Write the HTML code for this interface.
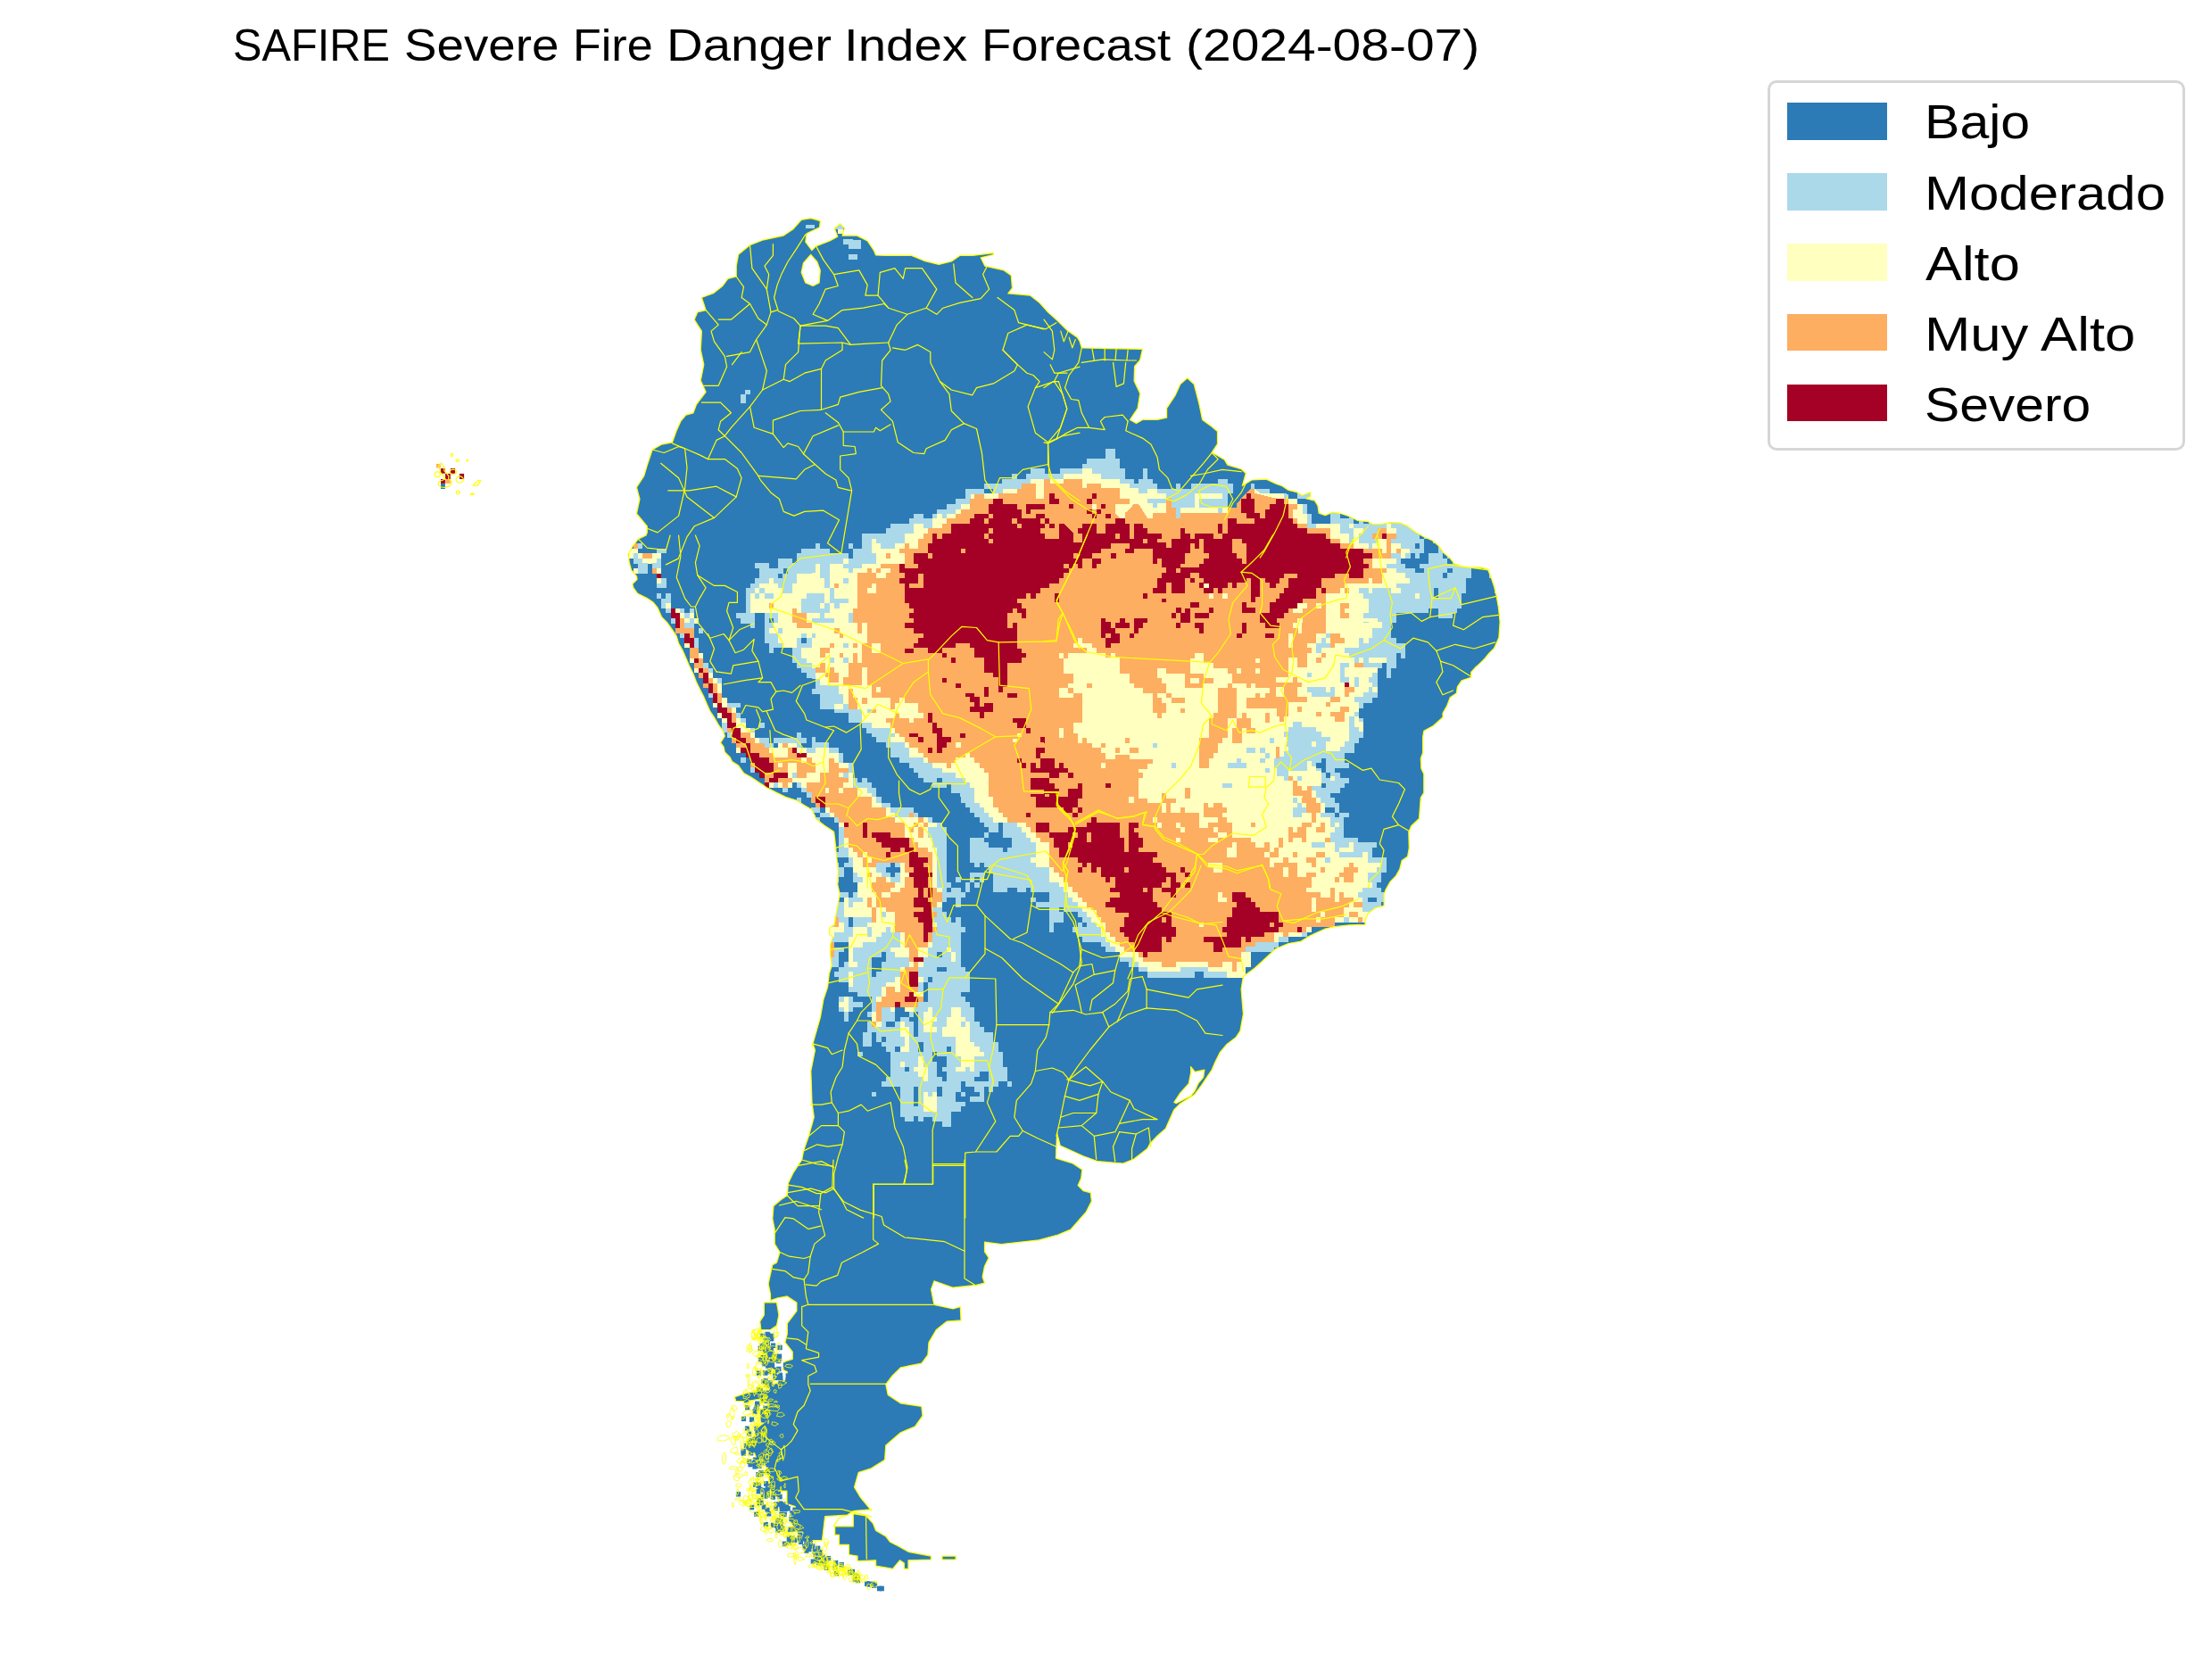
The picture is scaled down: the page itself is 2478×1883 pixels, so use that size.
<!DOCTYPE html>
<html><head><meta charset="utf-8"><title>SAFIRE Severe Fire Danger Index Forecast</title>
<style>
html,body{margin:0;padding:0;background:#fff;}
body{width:2478px;height:1883px;position:relative;overflow:hidden;font-family:"Liberation Sans",sans-serif;color:#000;}
.w{position:absolute;white-space:nowrap;transform-origin:0 0;}
#legend{position:absolute;left:1981.4px;top:89.7px;width:468.1px;height:415.6px;box-sizing:border-box;border:3.3px solid #d6d6d6;border-radius:10px;background:#fff;}
.sw{position:absolute;left:2003px;width:112px;height:41.6px;}
</style></head><body>
<svg width="2478" height="1883" viewBox="0 0 2478 1883" style="position:absolute;left:0;top:0">
<defs><clipPath id="land"><path clip-rule="evenodd" d="M908.7 244.6 L919.3 247.6 L918.6 254.7 L904 261.8 L902.8 271.2 L909.9 280.6 L914.6 275.9 L929.9 270 L938.8 265.3 L935.3 255.9 L941.7 250.7 L946.4 255.9 L944 264.1 L960.5 264.1 L972.2 270 L979.3 280.6 L981.6 286 L993.4 286.4 L1021.6 286.4 L1035.7 292.3 L1052.2 296.3 L1066.3 293 L1075.7 286.4 L1089.8 286.4 L1113.3 283.6 L1113.3 285.5 L1099.2 288.8 L1103.9 298.2 L1125.1 302.9 L1133.3 308.8 L1134.5 322.9 L1129.8 328.8 L1154.5 331.1 L1165.1 339.4 L1174.5 349.9 L1185.1 359.4 L1195.7 369.9 L1207.4 378.2 L1210 382.4 L1212.3 389.9 L1240.6 390.6 L1280.5 391.3 L1277.7 403.5 L1271.6 410.6 L1271.1 427 L1277.7 441.1 L1275.1 457.6 L1266.4 470.5 L1273.5 474.5 L1280.5 470.5 L1297 470.5 L1307.6 468.2 L1307.6 457.6 L1317 443.5 L1322.9 430.6 L1330.6 423.7 L1338.2 430.6 L1344 452.9 L1347.6 470.5 L1355.8 476.4 L1364.5 483.5 L1364.5 497.6 L1358.2 507 L1372.3 515.2 L1375.8 521.1 L1391.1 525.8 L1396.3 530.5 L1392.3 544.6 L1402.8 538 L1419.3 537.1 L1430 542.3 L1437.1 544.7 L1444.1 549.4 L1453.5 551.7 L1459.4 555.3 L1468.8 551.7 L1468.8 556.4 L1464.1 558.8 L1473.5 561.1 L1477 567 L1478.2 575.3 L1485.3 577.6 L1493.5 574.1 L1501.7 575.3 L1512.3 578.8 L1521.7 583.5 L1533.5 584.7 L1538.2 587.6 L1547.6 587.6 L1559.4 585.6 L1568.8 586.1 L1577 589.4 L1586.4 596.4 L1595.8 601.7 L1605.2 605.8 L1612.3 611.7 L1618.2 619.9 L1625.2 625.8 L1629.9 631.7 L1639.3 635.2 L1647.5 636.4 L1659.3 635.8 L1667.5 638.2 L1671.1 647 L1674.6 657.6 L1676.9 667 L1679.3 679.9 L1681.1 697 L1679.9 714.6 L1674.6 726.4 L1668.7 732.3 L1664 738.2 L1659.3 742.9 L1654 747.6 L1648.7 753.4 L1648.7 759.3 L1638.1 762.9 L1633.4 769.9 L1632.3 777 L1625.2 781.7 L1621.7 791.1 L1617 799.3 L1617 804 L1611.7 808.7 L1606.4 813.4 L1595.8 819.3 L1594.6 826.4 L1594.6 844 L1592.3 849.9 L1592.9 861.6 L1595.8 867.5 L1595.8 888.7 L1592.3 894 L1590.5 917.5 L1581.7 925.8 L1578.8 932.8 L1579.3 950.4 L1577.6 959.9 L1571.1 964.6 L1568.8 974 L1564.1 982.2 L1558.2 988.1 L1553.5 996.3 L1551.1 1002.2 L1551.1 1015.1 L1541.7 1017.5 L1533.5 1023.4 L1530 1031.6 L1530 1036.3 L1512.3 1036.9 L1495.9 1038.6 L1485.3 1041 L1474.7 1045.7 L1465.3 1050.4 L1458.2 1055.1 L1444.1 1057.5 L1430 1063.3 L1406.4 1085 L1393.4 1094.4 L1391.1 1108.5 L1392.3 1123.8 L1393.4 1136.7 L1389.9 1155.6 L1385.2 1162.6 L1374.6 1170.8 L1367.6 1179.1 L1361.7 1190.8 L1358.2 1199.1 L1351.1 1209.6 L1346.4 1216.7 L1338.2 1227.3 L1322.9 1236.7 L1315.8 1243.8 L1311.1 1254.3 L1306.4 1264.9 L1297 1273.2 L1288.8 1282 L1285.8 1287.5 L1270.5 1299.3 L1258.7 1304 L1230.5 1301.7 L1214 1295.8 L1188.2 1284 L1184.6 1269.9 L1183.4 1298.1 L1202.3 1304 L1212.8 1311.1 L1211.7 1320.5 L1208.1 1328.7 L1214 1334.6 L1222.3 1336.9 L1223.4 1346.3 L1217.5 1358.1 L1209.3 1367.5 L1199.9 1378.1 L1185.8 1384 L1164.6 1389.8 L1122.3 1394.5 L1103.5 1392.2 L1103.5 1402.8 L1108.2 1409.8 L1103.5 1419.2 L1101.1 1431 L1103.5 1438.1 L1094.1 1440.4 L1068.2 1443.2 L1047 1435.7 L1043.5 1445.1 L1046.9 1462.3 L1068.1 1467 L1076.3 1464.6 L1077 1479.9 L1061 1481.1 L1049.3 1490.5 L1041 1504.6 L1039.9 1518.7 L1032.8 1528.1 L1009.3 1532.8 L999.9 1542.2 L992.8 1551.7 L995.2 1563.4 L1009.3 1572.8 L1032.8 1576.3 L1034 1586.9 L1025.7 1598.7 L1009.3 1605.7 L992.8 1619.9 L991.6 1636.3 L976.4 1645.7 L962.2 1650.4 L957.5 1666.9 L964.6 1678.7 L976.4 1692.8 L976.9 1691.8 L957.9 1693.4 L950 1698.1 L924.6 1699.7 L921.5 1726.6 L905.6 1726.6 L899.3 1717.1 L893 1717.1 L885.1 1704.5 L891.4 1695 L891.4 1688.6 L881.9 1685.5 L881.9 1671.2 L872.4 1671.2 L872.4 1677.6 L864.5 1676 L862.9 1663.3 L861.3 1653.8 L855 1650.7 L861.3 1644.3 L861.3 1638 L848.6 1636.4 L845.5 1628.5 L836 1625.3 L836 1615.8 L845.5 1609.5 L848.6 1600 L861.1 1591.6 L851.7 1589.3 L851.7 1579.9 L861.1 1577.5 L861.1 1570.5 L851.7 1568.1 L837.6 1570.5 L824.7 1570.5 L823.5 1565.8 L837.6 1561.1 L851.7 1558.7 L865.8 1563.4 L865.8 1551.7 L882.3 1546.9 L882.3 1537.5 L877.6 1535.2 L879.9 1525.8 L888.2 1523.4 L888.2 1515.2 L879.9 1504.6 L882.3 1495.2 L882.3 1483.4 L892.9 1469.3 L892.9 1459.9 L882.3 1452.9 L870.5 1455.2 L863.5 1457.6 L863.5 1450.5 L861.1 1438.8 L865.8 1417.6 L870.5 1415.2 L874 1403.5 L868.2 1394.1 L868.2 1377.6 L865.8 1365.9 L867 1351.7 L875.2 1344.7 L882.3 1340 L883.5 1325.9 L889.3 1314.1 L898.7 1300 L900.6 1289.9 L906.4 1273.4 L912.3 1252.2 L910 1235.8 L908.8 1200.5 L913.5 1177 L911.1 1169.9 L910 1173.3 L914.7 1156.9 L919.4 1140.4 L922.9 1120.4 L927.6 1106.3 L929.4 1091 L932.3 1082.2 L930.6 1070.4 L930.6 1058.6 L933.5 1050.4 L929.4 1046.9 L930 1039.8 L935.3 1036.3 L936.5 1026.9 L939.4 1012.8 L941.2 1002.2 L938.8 991.6 L939.4 976.3 L937.6 959.9 L935.8 941.6 L934.6 932.2 L924 925.2 L914.6 918.1 L913.4 914.6 L909.9 907.5 L901.7 902.8 L892.3 897 L880.5 893.4 L868.7 887.5 L859.3 882.8 L852.3 878.1 L841.7 871.1 L833.5 866.4 L827.6 858.1 L820.5 853.4 L818.2 848.7 L812.3 842.9 L811.1 837 L807.6 832.3 L812.3 825.2 L811.1 820.5 L805.2 812.3 L800.5 804.1 L795.8 797 L792.3 789.3 L788.8 781.1 L784.1 771.7 L780.5 764.6 L777 755.2 L772.3 745.8 L768.8 737.6 L765.3 729.4 L760.6 721.1 L758.2 712.9 L753.5 705.8 L747.6 697.6 L741.7 691.7 L737 681.1 L732.3 675.3 L725.3 670.6 L714.7 665.3 L710 658.8 L708.8 654.7 L714.1 649.4 L713.5 645.9 L707.6 638.8 L705.3 630.6 L704.1 621.2 L709.4 611.8 L715.3 604.1 L724.1 600 L725.3 596.9 L725.3 589.8 L713.5 575.7 L717 559.3 L713.5 546.3 L721.8 533.4 L725.3 521.6 L731.2 504 L741.7 498.1 L753.5 495.8 L758.2 482.8 L762.9 472.2 L768.8 465.2 L777 462.8 L780.5 453.4 L791.1 439.3 L785.3 426.4 L788.8 408.7 L785.3 392.3 L786.4 371.1 L778.2 358.2 L781.7 349.9 L791.1 347.6 L786.4 333.5 L799.4 328.8 L809.9 320.5 L815.8 312.3 L825.2 310 L825.2 298.2 L827.6 285.3 L840.5 274.7 L855.8 268.8 L878.2 264.1 L888.7 257 L898.1 246.5 Z M908.7 285.3 L915.8 293.5 L919.3 302.9 L918.1 317 L911.1 320.5 L902.8 317 L898.1 305.3 L900.5 294.7 Z M1334.6 1195.5 L1339.3 1201.4 L1349.9 1199.1 L1348.7 1207.3 L1342.9 1214.4 L1339.3 1222.6 L1334.6 1228.5 L1322.9 1234.3 L1318.2 1236.7 L1315.8 1235.5 L1322.9 1224.9 L1332.3 1214.4 L1334.6 1202.6 Z"/></clipPath></defs>
<g clip-path="url(#land)" shape-rendering="crispEdges">
<polygon fill="#2c7bb6" points="908.7,244.6 919.3,247.6 918.6,254.7 904,261.8 902.8,271.2 909.9,280.6 914.6,275.9 929.9,270 938.8,265.3 935.3,255.9 941.7,250.7 946.4,255.9 944,264.1 960.5,264.1 972.2,270 979.3,280.6 981.6,286 993.4,286.4 1021.6,286.4 1035.7,292.3 1052.2,296.3 1066.3,293 1075.7,286.4 1089.8,286.4 1113.3,283.6 1113.3,285.5 1099.2,288.8 1103.9,298.2 1125.1,302.9 1133.3,308.8 1134.5,322.9 1129.8,328.8 1154.5,331.1 1165.1,339.4 1174.5,349.9 1185.1,359.4 1195.7,369.9 1207.4,378.2 1210,382.4 1212.3,389.9 1240.6,390.6 1280.5,391.3 1277.7,403.5 1271.6,410.6 1271.1,427 1277.7,441.1 1275.1,457.6 1266.4,470.5 1273.5,474.5 1280.5,470.5 1297,470.5 1307.6,468.2 1307.6,457.6 1317,443.5 1322.9,430.6 1330.6,423.7 1338.2,430.6 1344,452.9 1347.6,470.5 1355.8,476.4 1364.5,483.5 1364.5,497.6 1358.2,507 1372.3,515.2 1375.8,521.1 1391.1,525.8 1396.3,530.5 1392.3,544.6 1402.8,538 1419.3,537.1 1430,542.3 1437.1,544.7 1444.1,549.4 1453.5,551.7 1459.4,555.3 1468.8,551.7 1468.8,556.4 1464.1,558.8 1473.5,561.1 1477,567 1478.2,575.3 1485.3,577.6 1493.5,574.1 1501.7,575.3 1512.3,578.8 1521.7,583.5 1533.5,584.7 1538.2,587.6 1547.6,587.6 1559.4,585.6 1568.8,586.1 1577,589.4 1586.4,596.4 1595.8,601.7 1605.2,605.8 1612.3,611.7 1618.2,619.9 1625.2,625.8 1629.9,631.7 1639.3,635.2 1647.5,636.4 1659.3,635.8 1667.5,638.2 1671.1,647 1674.6,657.6 1676.9,667 1679.3,679.9 1681.1,697 1679.9,714.6 1674.6,726.4 1668.7,732.3 1664,738.2 1659.3,742.9 1654,747.6 1648.7,753.4 1648.7,759.3 1638.1,762.9 1633.4,769.9 1632.3,777 1625.2,781.7 1621.7,791.1 1617,799.3 1617,804 1611.7,808.7 1606.4,813.4 1595.8,819.3 1594.6,826.4 1594.6,844 1592.3,849.9 1592.9,861.6 1595.8,867.5 1595.8,888.7 1592.3,894 1590.5,917.5 1581.7,925.8 1578.8,932.8 1579.3,950.4 1577.6,959.9 1571.1,964.6 1568.8,974 1564.1,982.2 1558.2,988.1 1553.5,996.3 1551.1,1002.2 1551.1,1015.1 1541.7,1017.5 1533.5,1023.4 1530,1031.6 1530,1036.3 1512.3,1036.9 1495.9,1038.6 1485.3,1041 1474.7,1045.7 1465.3,1050.4 1458.2,1055.1 1444.1,1057.5 1430,1063.3 1406.4,1085 1393.4,1094.4 1391.1,1108.5 1392.3,1123.8 1393.4,1136.7 1389.9,1155.6 1385.2,1162.6 1374.6,1170.8 1367.6,1179.1 1361.7,1190.8 1358.2,1199.1 1351.1,1209.6 1346.4,1216.7 1338.2,1227.3 1322.9,1236.7 1315.8,1243.8 1311.1,1254.3 1306.4,1264.9 1297,1273.2 1288.8,1282 1285.8,1287.5 1270.5,1299.3 1258.7,1304 1230.5,1301.7 1214,1295.8 1188.2,1284 1184.6,1269.9 1183.4,1298.1 1202.3,1304 1212.8,1311.1 1211.7,1320.5 1208.1,1328.7 1214,1334.6 1222.3,1336.9 1223.4,1346.3 1217.5,1358.1 1209.3,1367.5 1199.9,1378.1 1185.8,1384 1164.6,1389.8 1122.3,1394.5 1103.5,1392.2 1103.5,1402.8 1108.2,1409.8 1103.5,1419.2 1101.1,1431 1103.5,1438.1 1094.1,1440.4 1068.2,1443.2 1047,1435.7 1043.5,1445.1 1046.9,1462.3 1068.1,1467 1076.3,1464.6 1077,1479.9 1061,1481.1 1049.3,1490.5 1041,1504.6 1039.9,1518.7 1032.8,1528.1 1009.3,1532.8 999.9,1542.2 992.8,1551.7 995.2,1563.4 1009.3,1572.8 1032.8,1576.3 1034,1586.9 1025.7,1598.7 1009.3,1605.7 992.8,1619.9 991.6,1636.3 976.4,1645.7 962.2,1650.4 957.5,1666.9 964.6,1678.7 976.4,1692.8 976.9,1691.8 957.9,1693.4 950,1698.1 924.6,1699.7 921.5,1726.6 905.6,1726.6 899.3,1717.1 893,1717.1 885.1,1704.5 891.4,1695 891.4,1688.6 881.9,1685.5 881.9,1671.2 872.4,1671.2 872.4,1677.6 864.5,1676 862.9,1663.3 861.3,1653.8 855,1650.7 861.3,1644.3 861.3,1638 848.6,1636.4 845.5,1628.5 836,1625.3 836,1615.8 845.5,1609.5 848.6,1600 861.1,1591.6 851.7,1589.3 851.7,1579.9 861.1,1577.5 861.1,1570.5 851.7,1568.1 837.6,1570.5 824.7,1570.5 823.5,1565.8 837.6,1561.1 851.7,1558.7 865.8,1563.4 865.8,1551.7 882.3,1546.9 882.3,1537.5 877.6,1535.2 879.9,1525.8 888.2,1523.4 888.2,1515.2 879.9,1504.6 882.3,1495.2 882.3,1483.4 892.9,1469.3 892.9,1459.9 882.3,1452.9 870.5,1455.2 863.5,1457.6 863.5,1450.5 861.1,1438.8 865.8,1417.6 870.5,1415.2 874,1403.5 868.2,1394.1 868.2,1377.6 865.8,1365.9 867,1351.7 875.2,1344.7 882.3,1340 883.5,1325.9 889.3,1314.1 898.7,1300 900.6,1289.9 906.4,1273.4 912.3,1252.2 910,1235.8 908.8,1200.5 913.5,1177 911.1,1169.9 910,1173.3 914.7,1156.9 919.4,1140.4 922.9,1120.4 927.6,1106.3 929.4,1091 932.3,1082.2 930.6,1070.4 930.6,1058.6 933.5,1050.4 929.4,1046.9 930,1039.8 935.3,1036.3 936.5,1026.9 939.4,1012.8 941.2,1002.2 938.8,991.6 939.4,976.3 937.6,959.9 935.8,941.6 934.6,932.2 924,925.2 914.6,918.1 913.4,914.6 909.9,907.5 901.7,902.8 892.3,897 880.5,893.4 868.7,887.5 859.3,882.8 852.3,878.1 841.7,871.1 833.5,866.4 827.6,858.1 820.5,853.4 818.2,848.7 812.3,842.9 811.1,837 807.6,832.3 812.3,825.2 811.1,820.5 805.2,812.3 800.5,804.1 795.8,797 792.3,789.3 788.8,781.1 784.1,771.7 780.5,764.6 777,755.2 772.3,745.8 768.8,737.6 765.3,729.4 760.6,721.1 758.2,712.9 753.5,705.8 747.6,697.6 741.7,691.7 737,681.1 732.3,675.3 725.3,670.6 714.7,665.3 710,658.8 708.8,654.7 714.1,649.4 713.5,645.9 707.6,638.8 705.3,630.6 704.1,621.2 709.4,611.8 715.3,604.1 724.1,600 725.3,596.9 725.3,589.8 713.5,575.7 717,559.3 713.5,546.3 721.8,533.4 725.3,521.6 731.2,504 741.7,498.1 753.5,495.8 758.2,482.8 762.9,472.2 768.8,465.2 777,462.8 780.5,453.4 791.1,439.3 785.3,426.4 788.8,408.7 785.3,392.3 786.4,371.1 778.2,358.2 781.7,349.9 791.1,347.6 786.4,333.5 799.4,328.8 809.9,320.5 815.8,312.3 825.2,310 825.2,298.2 827.6,285.3 840.5,274.7 855.8,268.8 878.2,264.1 888.7,257 898.1,246.5"/>
<polygon fill="#abd9e9" points="1170,531.2 1187.6,531.2 1187.6,525.3 1212.9,525.3 1212.9,520 1218.2,520 1218.2,514.1 1239.4,514.1 1239.4,502.9 1250,502.9 1250,514.1 1255.3,514.1 1255.3,524.7 1260.5,524.7 1260.5,536.5 1271.1,536.5 1271.1,541.7 1275.8,541.7 1275.8,536.5 1281.1,536.5 1281.1,525.3 1286.4,525.3 1286.4,536.5 1291.7,536.5 1291.7,541.7 1297,541.7 1297,547.6 1317.6,547.6 1317.6,542.3 1322.9,542.3 1322.9,547.6 1334.6,547.6 1334.6,541.7 1365.2,541.7 1365.2,536.5 1375.8,536.5 1375.8,541.7 1381.7,541.7 1381.7,552.9 1375.8,552.9 1375.8,569.4 1386.4,569.4 1386.4,564.1 1391.1,558.8 1401.7,547.6 1401.7,541.7 1406.4,541.7 1406.4,547.6 1422.8,547.6 1422.8,552.9 1430.9,552.9 1430.9,697.9 1170,697.9"/>
<polygon fill="#abd9e9" points="910,614.7 914.1,614.7 914.1,609.4 918.8,609.4 918.8,614.7 930,614.7 930,619.9 951.2,619.9 951.2,625.8 955.9,625.8 955.9,614.7 965.9,614.7 965.9,598.2 992.9,598.2 992.9,592.3 998.2,592.3 998.2,587 1018.8,587 1018.8,581.1 1024.1,581.1 1024.1,575.8 1034.6,575.8 1034.6,581.1 1045.2,581.1 1045.2,575.8 1049.9,575.8 1049.9,570.6 1061.1,570.6 1061.1,564.7 1071.1,564.7 1071.1,558.8 1082.3,558.8 1082.3,548.2 1102.9,548.2 1102.9,541.7 1123.4,541.7 1123.4,536.5 1134,536.5 1134,531.2 1139.9,531.2 1139.9,536.5 1149.9,536.5 1149.9,531.2 1155.2,531.2 1155.2,525.3 1170.9,525.3 1170.9,697.9 910,697.9"/>
<polygon fill="#abd9e9" points="951.2,609.4 955.9,609.4 955.9,614.7 951.2,614.7"/>
<polygon fill="#abd9e9" points="1430,500 1690.9,500 1690.9,697.9 1430,697.9"/>
<polygon fill="#abd9e9" points="910,697 1170.9,697 1170.9,894.9 910,894.9"/>
<polygon fill="#abd9e9" points="1170,697 1430.9,697 1430.9,894.9 1170,894.9"/>
<polygon fill="#abd9e9" points="1430,697 1559.4,697 1559.4,714.6 1565.2,714.6 1565.2,720.5 1574.6,720.5 1574.6,737.6 1569.9,737.6 1569.9,731.7 1565.2,731.7 1565.2,748.7 1559.4,748.7 1559.4,759.9 1554.1,759.9 1554.1,742.9 1548.8,742.9 1548.8,748.7 1544.1,748.7 1544.1,781.7 1538.2,781.7 1538.2,788.1 1528.2,788.1 1528.2,794 1522.9,794 1522.9,804.6 1528.2,804.6 1528.2,826.9 1522.9,826.9 1522.9,832.8 1517.6,832.8 1517.6,844 1507,844 1507,855.2 1512.3,855.2 1512.3,861 1496.4,861 1496.4,866.3 1501.7,866.3 1501.7,872.2 1512.3,872.2 1512.3,877.5 1507,877.5 1507,883.4 1501.7,883.4 1501.7,888.7 1491.1,888.7 1491.1,894.9 1430,894.9"/>
<polygon fill="#abd9e9" points="1170,893.1 1427.5,893.1 1427.5,1067 1401.5,1067 1401.5,1083.7 1396.3,1083.7 1396.3,1089.3 1385.8,1089.3 1385.8,1095.9 1349.1,1095.9 1349.1,1089.3 1338.7,1089.3 1338.7,1095.9 1286.3,1095.9 1286.3,1089.3 1275.7,1089.3 1275.7,1083.7 1265.2,1083.7 1265.2,1078.2 1254.8,1078.2 1254.8,1067 1239.1,1067 1239.1,1061.4 1233.8,1061.4 1233.8,1055.8 1212.9,1055.8 1212.9,1050.3 1207.6,1050.3 1207.6,1044.7 1202.4,1044.7 1202.4,1039.1 1207.6,1039.1 1207.6,1033.5 1212.9,1033.5 1212.9,1027.9 1207.6,1027.9 1207.6,1022.3 1191.9,1022.3 1191.9,1033.5 1181.4,1033.5 1181.4,1044.7 1170,1044.7"/>
<polygon fill="#ffffbf" points="1170,536.5 1192.3,536.5 1192.3,531.2 1212.9,531.2 1212.9,525.3 1223.5,525.3 1223.5,531.2 1234.1,531.2 1234.1,536.5 1255.3,536.5 1255.3,541.7 1265.8,541.7 1265.8,547 1275.8,547 1275.8,552.9 1286.4,552.9 1286.4,547.6 1297,547.6 1297,552.9 1307,552.9 1307,558.8 1286.4,558.8 1286.4,564.1 1291.7,564.1 1291.7,569.4 1297,569.4 1297,564.1 1312.3,564.1 1312.3,569.4 1317.6,569.4 1317.6,581.1 1322.9,581.1 1322.9,569.4 1339.3,569.4 1339.3,552.9 1369.9,552.9 1369.9,558.8 1344,558.8 1344,569.4 1365.2,569.4 1365.2,575.3 1369.9,575.3 1369.9,569.4 1386.4,569.4 1386.4,564.1 1391.1,558.8 1401.7,547.6 1406.4,547.6 1412.2,552.9 1430.9,552.9 1430.9,697.9 1170,697.9"/>
<polygon fill="#ffffbf" points="1170.9,536.5 1155.2,536.5 1155.2,542.3 1145.2,542.3 1145.2,548.2 1124,548.2 1124,552.9 1102.9,552.9 1102.9,553.5 1087.6,553.5 1087.6,564.7 1077,564.7 1077,570.6 1071.1,570.6 1071.1,575.8 1061.1,575.8 1061.1,581.1 1055.8,581.1 1055.8,575.8 1049.9,575.8 1049.9,581.1 1045.2,581.1 1045.2,592.3 1034.6,592.3 1034.6,587 1024.1,587 1024.1,598.2 1014.1,598.2 1014.1,609.4 1002.9,609.4 1002.9,614.7 987,614.7 987,609.4 981.7,609.4 981.7,604.1 977,604.1 977,619.9 981.7,619.9 981.7,631.7 965.9,631.7 965.9,637 955.9,637 955.9,642.3 951.2,642.3 951.2,637 945.3,637 945.3,631.7 951.2,631.7 951.2,625.8 945.3,625.8 945.3,631.7 930,631.7 930,652.9 924.1,652.9 924.1,648.2 918.8,648.2 918.8,631.7 914.1,631.7 914.1,642.3 910,642.3 910,697.9 1170.9,697.9"/>
<polygon fill="#ffffbf" points="1430,552.9 1438.8,552.9 1438.8,558.8 1454.1,558.8 1454.1,564.7 1460,564.7 1460,575.8 1465.3,575.8 1465.3,591.7 1474.7,591.7 1474.7,587 1501.7,587 1501.7,598.2 1512.3,598.2 1512.3,609.4 1517,609.4 1517,592.3 1528.2,592.3 1528.2,598.2 1522.9,598.2 1522.9,609.4 1533.5,609.4 1533.5,614.7 1538.2,614.7 1538.2,609.4 1543.5,609.4 1543.5,603.5 1538.2,603.5 1538.2,598.2 1543.5,598.2 1543.5,592.3 1554.1,592.3 1554.1,587 1559.4,587 1559.4,592.3 1564.6,592.3 1564.6,603.5 1559.4,603.5 1559.4,609.4 1569.9,609.4 1569.9,614.7 1579.9,614.7 1579.9,619.9 1575.2,619.9 1575.2,625.8 1569.9,625.8 1569.9,619.9 1559.4,619.9 1559.4,625.8 1564.6,625.8 1564.6,631.7 1554.1,631.7 1554.1,637 1564.6,637 1564.6,642.3 1575.2,642.3 1575.2,648.2 1579.9,648.2 1579.9,653.5 1564.6,653.5 1564.6,659.3 1569.9,659.3 1569.9,664.6 1559.4,664.6 1559.4,659.3 1538.2,659.3 1538.2,664.6 1533.5,664.6 1533.5,659.3 1522.9,659.3 1522.9,664.6 1528.2,664.6 1528.2,670.5 1533.5,670.5 1533.5,687 1528.2,687 1528.2,692.9 1544.1,692.9 1544.1,697.9 1430,697.9"/>
<polygon fill="#ffffbf" points="1512.3,587 1517,587 1517,592.3 1512.3,592.3"/>
<polygon fill="#ffffbf" points="1585.8,664.6 1591.1,664.6 1591.1,670.5 1585.8,670.5"/>
<polygon fill="#ffffbf" points="910,697 910,748.7 914.1,748.7 914.1,761.1 918.8,761.1 918.8,767.6 940,767.6 940,778.1 945.3,778.1 945.3,788.7 934.7,788.7 934.7,794.6 965.9,794.6 965.9,809.9 977,809.9 977,815.8 997.6,815.8 997.6,821.6 1002.9,821.6 1002.9,826.4 997.6,826.4 997.6,832.2 1013.5,832.2 1013.5,838.1 1018.8,838.1 1018.8,848.7 1034.6,848.7 1034.6,854.6 1044.6,854.6 1044.6,860.5 1055.8,860.5 1055.8,865.7 1071.1,865.7 1071.1,871.6 1081.7,871.6 1081.7,876.9 1087,876.9 1087,882.8 1092.3,882.8 1092.3,894.9 1170.9,894.9 1170.9,697"/>
<polygon fill="#ffffbf" points="910,844 914.1,844 914.1,838.1 929.4,838.1 929.4,844 940,844 940,854.6 951.2,854.6 951.2,866.3 955.9,866.3 955.9,882.8 971.7,882.8 971.7,888.7 977,888.7 977,894.9 910,894.9"/>
<polygon fill="#ffffbf" points="1170,697 1430.9,697 1430.9,894.9 1170,894.9"/>
<polygon fill="#ffffbf" points="1430,697 1548.8,697 1548.8,703.9 1538.2,703.9 1538.2,715 1533.5,715 1533.5,720.5 1528.2,720.5 1528.2,715 1522.9,715 1522.9,726 1507,726 1507,731.6 1512.3,731.6 1512.3,737.1 1517.6,737.1 1517.6,742.6 1522.9,742.6 1522.9,737.1 1528.2,737.1 1528.2,742.6 1533.5,742.6 1533.5,737.1 1554.1,737.1 1554.1,742.6 1544.1,742.6 1544.1,775.8 1538.2,775.8 1538.2,770.3 1533.5,770.3 1533.5,775.8 1528.2,775.8 1528.2,781.3 1517.6,781.3 1517.6,786.8 1522.9,786.8 1522.9,797.9 1517.6,797.9 1517.6,803.4 1512.3,803.4 1512.3,831.1 1507,831.1 1507,836.6 1501.7,836.6 1501.7,842.1 1439.4,842.1 1439.4,847.6 1430,847.6"/>
<polygon fill="#ffffbf" points="1517.6,803.4 1522.9,803.4 1522.9,814.5 1517.6,814.5"/>
<polygon fill="#ffffbf" points="1522.9,808.9 1528.2,808.9 1528.2,820 1522.9,820"/>
<polygon fill="#ffffbf" points="1491.1,869.7 1496.4,869.7 1496.4,875.3 1491.1,875.3"/>
<polygon fill="#ffffbf" points="1430,869.7 1444.1,869.7 1444.1,864.2 1465.3,864.2 1465.3,853.2 1470,853.2 1470,858.7 1475.3,858.7 1475.3,864.2 1481.2,864.2 1481.2,880.8 1470,880.8 1470,886.3 1475.3,886.3 1475.3,894.9 1430,894.9"/>
<polygon fill="#ffffbf" points="1170,893.1 1427.5,893.1 1427.5,1055.8 1406.8,1055.8 1406.8,1061.4 1396.3,1061.4 1396.3,1067 1401.5,1067 1401.5,1083.7 1396.3,1083.7 1396.3,1095.9 1375.4,1095.9 1375.4,1089.3 1354.4,1089.3 1354.4,1083.7 1322.9,1083.7 1322.9,1089.3 1286.3,1089.3 1286.3,1083.7 1275.7,1083.7 1275.7,1078.2 1270.5,1078.2 1270.5,1072.6 1254.8,1072.6 1254.8,1067 1249.6,1067 1249.6,1061.4 1244.3,1061.4 1244.3,1055.8 1239.1,1055.8 1239.1,1050.3 1233.8,1050.3 1233.8,1039.1 1228.6,1039.1 1228.6,1033.5 1223.3,1033.5 1223.3,1027.9 1218.2,1027.9 1218.2,1022.3 1212.9,1022.3 1212.9,1016.8 1207.6,1016.8 1207.6,1011.2 1202.4,1011.2 1202.4,1005.6 1197.1,1005.6 1197.1,1000 1191.9,1000 1191.9,994.4 1186.6,994.4 1186.6,988.9 1176.2,988.9 1176.2,983.3 1170,983.3"/>
<polygon fill="#ffffbf" points="1170,994.4 1173.5,994.4 1173.5,1005.6 1170,1005.6"/>
<polygon fill="#fdae61" points="1170,536.5 1176.5,536.5 1176.5,541.7 1192.3,541.7 1192.3,536.5 1212.9,536.5 1212.9,547 1218.2,547 1218.2,541.7 1234.1,541.7 1234.1,547 1244.7,547 1255.3,547 1255.3,558.8 1265.8,558.8 1265.8,564.7 1250,564.7 1250,575.3 1255.3,581.1 1260.5,581.1 1260.5,575.3 1265.8,570.6 1271.1,564.7 1275.8,564.7 1281.1,572.9 1286.4,581.1 1291.7,581.1 1291.7,575.3 1307,575.3 1307,558.8 1312.9,558.8 1312.9,569.4 1317.6,569.4 1317.6,581.1 1322.9,581.1 1322.9,575.3 1375.8,575.3 1375.8,569.4 1386.4,569.4 1386.4,564.1 1391.1,558.8 1401.7,547.6 1406.4,547.6 1406.4,552.9 1430.9,558.8 1430.9,697.9 1170,697.9"/>
<polygon fill="#fdae61" points="1170.9,558.8 1160.5,558.8 1160.5,542.3 1145.2,542.3 1145.2,548.2 1139.9,548.2 1139.9,552.9 1119.3,552.9 1119.3,558.8 1102.9,558.8 1102.9,553.5 1092.3,553.5 1092.3,558.8 1087,558.8 1087,570.6 1077,570.6 1077,575.8 1071.1,575.8 1071.1,581.1 1061.1,581.1 1061.1,587 1055.8,587 1055.8,592.3 1039.9,592.3 1039.9,598.2 1034.6,598.2 1034.6,603.5 1029.4,603.5 1029.4,614.7 1019.4,614.7 1019.4,609.4 1014.1,609.4 1014.1,614.7 1008.2,614.7 1008.2,619.9 1014.1,619.9 1014.1,631.7 987,631.7 987,637 998.2,637 998.2,642.3 992.9,642.3 992.9,647.6 981.7,647.6 981.7,642.3 977,642.3 977,637 971.7,637 971.7,642.3 961.2,642.3 961.2,681.7 955.9,681.7 955.9,697.9 1170.9,697.9"/>
<polygon fill="#fdae61" points="992.9,619.9 998.2,619.9 998.2,625.8 992.9,625.8"/>
<polygon fill="#fdae61" points="981.7,637 987,637 987,642.3 981.7,642.3"/>
<polygon fill="#fdae61" points="935.3,654 940,654 940,659.3 935.3,659.3"/>
<polygon fill="#fdae61" points="1430,558.8 1444.1,558.8 1444.1,564.7 1454.1,564.7 1454.1,570.6 1448.8,570.6 1448.8,581.1 1454.1,581.1 1454.1,587 1465.3,587 1465.3,592.3 1491.1,592.3 1491.1,603.5 1501.7,603.5 1501.7,609.4 1517,609.4 1517,614.7 1548.8,614.7 1548.8,619.9 1554.1,619.9 1554.1,603.5 1559.4,603.5 1559.4,625.8 1538.2,625.8 1538.2,637 1554.1,637 1554.1,642.3 1548.8,642.3 1548.8,653.5 1538.2,653.5 1538.2,648.2 1533.5,648.2 1533.5,653.5 1507,653.5 1507,659.3 1512.3,659.3 1512.3,664.6 1507,664.6 1507,659.3 1501.7,659.3 1501.7,664.6 1485.9,664.6 1485.9,697.9 1430,697.9"/>
<polygon fill="#fdae61" points="1543.5,592.3 1554.1,592.3 1554.1,598.2 1564.6,598.2 1564.6,603.5 1538.2,603.5 1538.2,598.2 1543.5,598.2"/>
<polygon fill="#fdae61" points="1564.6,614.7 1569.9,614.7 1569.9,619.9 1564.6,619.9"/>
<polygon fill="#fdae61" points="1501.7,676.4 1512.3,676.4 1512.3,681.7 1507,681.7 1507,687 1512.3,687 1512.3,692.9 1501.7,692.9"/>
<polygon fill="#fdae61" points="971.7,697 1170.9,697 1170.9,894.9 1108.1,894.9 1108.1,866.3 1102.9,866.3 1102.9,860.5 1097.6,860.5 1097.6,854.6 1092.3,854.6 1092.3,848.7 1087,848.7 1087,844 1081.7,844 1081.7,848.7 1071.1,848.7 1071.1,854.6 1065.8,854.6 1065.8,860.5 1060.5,860.5 1060.5,854.6 1039.9,854.6 1039.9,848.7 1034.6,848.7 1034.6,844 1029.4,844 1029.4,838.1 1018.8,838.1 1018.8,832.2 1013.5,832.2 1013.5,826.4 1008.2,826.4 1008.2,821.6 1002.9,821.6 1002.9,815.8 997.6,815.8 997.6,809.9 992.9,809.9 992.9,805.2 1002.9,805.2 1002.9,794.6 998.2,794.6 998.2,781.7 971.7,781.7 971.7,788.7 966.4,788.7 966.4,781.7 961.2,781.7 961.2,794.6 950.6,794.6 950.6,772.3 955.9,772.3 955.9,767.6 945.3,767.6 945.3,759.2 951.2,759.2 951.2,742.6 966.4,742.6 966.4,720.5 971.7,720.5"/>
<polygon fill="#fdae61" points="977,794.6 981.7,794.6 981.7,799.3 977,799.3"/>
<polygon fill="#fdae61" points="961.2,698.4 966.4,698.4 966.4,709.5 961.2,709.5"/>
<polygon fill="#fdae61" points="935.3,703.9 940.6,703.9 940.6,709.5 935.3,709.5"/>
<polygon fill="#fdae61" points="940.6,709.5 945.3,709.5 945.3,715 940.6,715"/>
<polygon fill="#fdae61" points="930,720.5 935.3,720.5 935.3,726 930,726"/>
<polygon fill="#fdae61" points="955.9,720.5 961.2,720.5 961.2,726 955.9,726"/>
<polygon fill="#fdae61" points="919.4,726 930,726 930,731.6 919.4,731.6"/>
<polygon fill="#fdae61" points="919.4,731.6 924.7,731.6 924.7,737.1 919.4,737.1"/>
<polygon fill="#fdae61" points="940.6,731.6 945.3,731.6 945.3,737.1 940.6,737.1"/>
<polygon fill="#fdae61" points="955.9,731.6 961.2,731.6 961.2,742.6 955.9,742.6"/>
<polygon fill="#fdae61" points="919.4,742.6 924.7,742.6 924.7,748.2 919.4,748.2"/>
<polygon fill="#fdae61" points="914.1,748.2 924.7,748.2 924.7,753.7 914.1,753.7"/>
<polygon fill="#fdae61" points="930,748.2 935.3,748.2 935.3,753.7 930,753.7"/>
<polygon fill="#fdae61" points="924.7,753.7 940,753.7 940,759.2 924.7,759.2"/>
<polygon fill="#fdae61" points="929.4,759.2 940,759.2 940,764.7 929.4,764.7"/>
<polygon fill="#fdae61" points="929.4,849.9 934.7,849.9 934.7,854.6 940,854.6 940,860.5 950.6,860.5 950.6,866.3 945.3,866.3 945.3,871 950.6,871 950.6,876.9 945.3,876.9 945.3,882.8 961.2,882.8 961.2,894.9 910,894.9 910,876.9 919.4,876.9 919.4,866.3 929.4,866.3"/>
<polygon fill="#fdae61" points="910,854.6 914.1,854.6 914.1,866.3 910,866.3"/>
<polygon fill="#fdae61" points="1170,697 1430.9,697 1430.9,894.9 1170,894.9"/>
<polygon fill="#fdae61" points="1430,697 1448.8,697 1448.8,703.9 1454.7,703.9 1454.7,709.5 1444.1,709.5 1444.1,726 1470,726 1470,731.6 1465.3,731.6 1465.3,737.1 1444.1,737.1 1444.1,759.2 1439.4,759.2 1439.4,764.7 1459.4,764.7 1459.4,770.3 1454.1,770.3 1454.1,781.3 1465.3,781.3 1465.3,786.8 1444.1,786.8 1444.1,803.4 1439.4,803.4 1439.4,808.9 1433.5,808.9 1433.5,803.4 1430,803.4"/>
<polygon fill="#fdae61" points="1459.4,697 1485.9,697 1485.9,709.5 1475.3,709.5 1475.3,720.5 1465.3,720.5 1465.3,726 1448.8,726 1448.8,709.5 1459.4,709.5"/>
<polygon fill="#fdae61" points="1170,893.1 1427.5,893.1 1427.5,1055.8 1406.8,1055.8 1406.8,1061.4 1396.3,1061.4 1396.3,1067 1391,1067 1391,1078.2 1385.8,1078.2 1385.8,1089.3 1380.6,1089.3 1380.6,1078.2 1370.1,1078.2 1370.1,1083.7 1354.4,1083.7 1354.4,1078.2 1317.7,1078.2 1317.7,1083.7 1301.9,1083.7 1301.9,1078.2 1281,1078.2 1281,1072.6 1275.7,1072.6 1275.7,1067 1260.1,1067 1260.1,1061.4 1254.8,1061.4 1254.8,1055.8 1249.6,1055.8 1249.6,1050.3 1244.3,1050.3 1244.3,1044.7 1239.1,1044.7 1239.1,1033.5 1233.8,1033.5 1233.8,1027.9 1228.6,1027.9 1228.6,1019.5 1223.3,1019.5 1223.3,1016.8 1218.2,1016.8 1218.2,1011.2 1212.9,1011.2 1212.9,1005.6 1207.6,1005.6 1207.6,1000 1202.4,1000 1202.4,994.4 1197.1,994.4 1197.1,988.9 1191.9,988.9 1191.9,983.3 1186.6,983.3 1186.6,977.7 1181.4,977.7 1181.4,972.1 1170,972.1"/>
<polygon fill="#ffffbf" points="977,654 981.7,654 981.7,664.6 971.7,664.6 971.7,659.3 977,659.3"/>
<polygon fill="#ffffbf" points="1454.1,676.4 1465.3,676.4 1465.3,681.7 1460,681.7 1460,687 1448.8,687 1448.8,681.7 1454.1,681.7"/>
<polygon fill="#ffffbf" points="1474.7,676.4 1481.2,676.4 1481.2,681.7 1474.7,681.7"/>
<polygon fill="#ffffbf" points="1454.1,692.9 1460,692.9 1460,697.9 1454.1,697.9"/>
<polygon fill="#ffffbf" points="1008.2,781.7 1013.5,781.7 1013.5,788.1 1029.4,788.1 1029.4,799.3 1034.6,799.3 1034.6,805.2 1024.1,805.2 1024.1,809.9 1018.8,809.9 1018.8,805.2 1008.2,805.2 1008.2,799.3 1002.9,799.3 1002.9,788.1 1008.2,788.1"/>
<polygon fill="#ffffbf" points="955.9,767.6 977,767.6 977,781.7 955.9,781.7"/>
<polygon fill="#ffffbf" points="987,781.7 998.2,781.7 998.2,788.1 987,788.1"/>
<polygon fill="#ffffbf" points="981.7,770.3 987,770.3 987,775.8 981.7,775.8"/>
<polygon fill="#ffffbf" points="977,720.5 987,720.5 987,731.6 977,731.6"/>
<polygon fill="#ffffbf" points="966.4,748.2 971.7,748.2 971.7,767.6 966.4,767.6"/>
<polygon fill="#ffffbf" points="1071.1,832.2 1077,832.2 1077,838.1 1071.1,838.1"/>
<polygon fill="#ffffbf" points="1139.9,821.6 1145.2,821.6 1145.2,826.4 1139.9,826.4"/>
<polygon fill="#ffffbf" points="1134.6,827.5 1139.9,827.5 1139.9,832.2 1134.6,832.2"/>
<polygon fill="#ffffbf" points="940,866.3 945.3,866.3 945.3,871 940,871"/>
<polygon fill="#ffffbf" points="940,882.8 945.3,882.8 945.3,888.7 940,888.7"/>
<polygon fill="#ffffbf" points="924.7,882.8 929.4,882.8 929.4,888.7 924.7,888.7"/>
<polygon fill="#ffffbf" points="1197,731.7 1218.2,731.7 1218.2,726.4 1202.9,726.4 1202.9,720.5 1208.2,720.5 1208.2,715 1212.9,715 1212.9,720.5 1224.1,720.5 1224.1,726.4 1229.4,726.4 1229.4,731.7 1239.4,731.7 1239.4,737.1 1244.7,737.1 1244.7,731.7 1250,731.7 1250,737.1 1255.3,737.1 1255.3,754.6 1265.8,754.6 1265.8,765.8 1271.1,765.8 1271.1,771.1 1281.1,771.1 1281.1,777 1292.3,777 1292.3,798.7 1297,798.7 1297,804.6 1302.3,804.6 1302.3,798.7 1307,798.7 1307,788.1 1302.3,788.1 1302.3,782.3 1297,782.3 1297,777 1307,777 1307,766.4 1302.3,766.4 1302.3,759.9 1297,759.9 1297,748.7 1307,748.7 1307,754.6 1328.2,754.6 1328.2,770.5 1349.3,770.5 1349.3,754.6 1334,754.6 1334,738.2 1339.3,738.2 1339.3,731.7 1349.3,731.7 1349.3,742.9 1359.9,742.9 1359.9,748.7 1375.8,748.7 1375.8,754.6 1381.1,754.6 1381.1,765.8 1397,765.8 1397,771.1 1402.2,771.1 1402.2,765.8 1407,765.8 1407,771.1 1422.8,771.1 1422.8,777 1417.5,777 1417.5,782.3 1412.2,782.3 1412.2,777 1407,777 1407,782.3 1397,782.3 1397,794 1430.9,794 1430.9,894.9 1275.8,894.9 1275.8,872.2 1281.1,872.2 1281.1,866.3 1275.8,866.3 1275.8,861.6 1285.8,861.6 1285.8,856.3 1291.7,856.3 1291.7,851 1265.8,851 1265.8,845.8 1250,845.8 1250,851 1239.4,851 1239.4,844 1234.1,844 1234.1,838.1 1224.1,838.1 1224.1,832.8 1218.2,832.8 1218.2,826.9 1212.9,826.9 1212.9,832.8 1208.2,832.8 1208.2,821.6 1202.9,821.6 1202.9,809.9 1212.9,809.9 1212.9,777 1202.9,777 1202.9,782.3 1187.1,782.3 1187.1,771.1 1197,771.1 1197,765.8 1202.9,765.8 1202.9,754.6 1192.3,754.6 1192.3,737.6 1197,737.6"/>
<polygon fill="#ffffbf" points="1187.1,731.7 1192.3,731.7 1192.3,737.6 1187.1,737.6"/>
<polygon fill="#ffffbf" points="1234.1,855.2 1239.4,855.2 1239.4,861 1234.1,861"/>
<polygon fill="#ffffbf" points="1187.1,815.8 1192.3,815.8 1192.3,826.9 1187.1,826.9"/>
<polygon fill="#ffffbf" points="1386.4,748.7 1391.1,748.7 1391.1,754.6 1386.4,754.6"/>
<polygon fill="#ffffbf" points="1407,737.6 1412.2,737.6 1412.2,742.9 1407,742.9"/>
<polygon fill="#ffffbf" points="1407,748.7 1412.2,748.7 1412.2,754.6 1407,754.6"/>
<polygon fill="#ffffbf" points="1334,759.9 1344,759.9 1344,765.8 1334,765.8"/>
<polygon fill="#ffffbf" points="1430,770.3 1439.4,770.3 1439.4,781.3 1430,781.3"/>
<polygon fill="#ffffbf" points="1430,759.2 1439.4,759.2 1439.4,764.7 1430,764.7"/>
<polygon fill="#ffffbf" points="1265.3,893.1 1270.6,893.1 1270.6,899.6 1265.3,899.6"/>
<polygon fill="#ffffbf" points="1286.2,893.1 1302,893.1 1302,899.6 1286.2,899.6"/>
<polygon fill="#ffffbf" points="1317.7,893.1 1433,893.1 1433,899.6 1317.7,899.6"/>
<polygon fill="#ffffbf" points="1302,899.5 1307.3,899.5 1307.3,905.2 1302,905.2"/>
<polygon fill="#ffffbf" points="1312.4,899.5 1349.2,899.5 1349.2,905.2 1312.4,905.2"/>
<polygon fill="#ffffbf" points="1354.4,899.5 1359.7,899.5 1359.7,905.2 1354.4,905.2"/>
<polygon fill="#ffffbf" points="1370.1,899.5 1433,899.5 1433,905.2 1370.1,905.2"/>
<polygon fill="#ffffbf" points="1302,905.1 1307.3,905.1 1307.3,910.7 1302,910.7"/>
<polygon fill="#ffffbf" points="1312.4,905.1 1323,905.1 1323,910.7 1312.4,910.7"/>
<polygon fill="#ffffbf" points="1328.2,905.1 1349.2,905.1 1349.2,910.7 1328.2,910.7"/>
<polygon fill="#ffffbf" points="1375.3,905.1 1433,905.1 1433,910.7 1375.3,910.7"/>
<polygon fill="#ffffbf" points="1343.9,910.7 1349.2,910.7 1349.2,916.3 1343.9,916.3"/>
<polygon fill="#ffffbf" points="1370.1,910.7 1433,910.7 1433,916.3 1370.1,916.3"/>
<polygon fill="#ffffbf" points="1291.5,916.3 1296.8,916.3 1296.8,921.9 1291.5,921.9"/>
<polygon fill="#ffffbf" points="1343.9,916.3 1364.9,916.3 1364.9,921.9 1343.9,921.9"/>
<polygon fill="#ffffbf" points="1375.3,916.3 1433,916.3 1433,921.9 1375.3,921.9"/>
<polygon fill="#ffffbf" points="1296.7,921.9 1302,921.9 1302,927.5 1296.7,927.5"/>
<polygon fill="#ffffbf" points="1317.7,921.9 1323,921.9 1323,927.5 1317.7,927.5"/>
<polygon fill="#ffffbf" points="1343.9,921.9 1354.4,921.9 1354.4,927.5 1343.9,927.5"/>
<polygon fill="#ffffbf" points="1380.6,921.9 1401.6,921.9 1401.6,927.5 1380.6,927.5"/>
<polygon fill="#ffffbf" points="1406.8,921.9 1433,921.9 1433,927.5 1406.8,927.5"/>
<polygon fill="#ffffbf" points="1322.9,927.4 1328.2,927.4 1328.2,933.1 1322.9,933.1"/>
<polygon fill="#ffffbf" points="1359.6,927.4 1364.9,927.4 1364.9,933.1 1359.6,933.1"/>
<polygon fill="#ffffbf" points="1380.6,927.4 1433,927.4 1433,933.1 1380.6,933.1"/>
<polygon fill="#ffffbf" points="1364.9,933 1375.4,933 1375.4,938.7 1364.9,938.7"/>
<polygon fill="#ffffbf" points="1380.6,933 1433,933 1433,938.7 1380.6,938.7"/>
<polygon fill="#ffffbf" points="1317.7,938.6 1323,938.6 1323,944.3 1317.7,944.3"/>
<polygon fill="#ffffbf" points="1354.4,938.6 1364.9,938.6 1364.9,944.3 1354.4,944.3"/>
<polygon fill="#ffffbf" points="1401.5,938.6 1433,938.6 1433,944.3 1401.5,944.3"/>
<polygon fill="#ffffbf" points="1380.6,944.2 1385.9,944.2 1385.9,949.8 1380.6,949.8"/>
<polygon fill="#ffffbf" points="1406.8,944.2 1417.3,944.2 1417.3,949.8 1406.8,949.8"/>
<polygon fill="#ffffbf" points="1422.5,944.2 1433,944.2 1433,949.8 1422.5,949.8"/>
<polygon fill="#ffffbf" points="1375.3,949.8 1385.9,949.8 1385.9,955.4 1375.3,955.4"/>
<polygon fill="#ffffbf" points="1422.5,949.8 1433,949.8 1433,955.4 1422.5,955.4"/>
<polygon fill="#ffffbf" points="1375.3,955.4 1385.9,955.4 1385.9,961 1375.3,961"/>
<polygon fill="#ffffbf" points="1417.3,955.4 1422.6,955.4 1422.6,961 1417.3,961"/>
<polygon fill="#ffffbf" points="1422.5,961 1433,961 1433,966.6 1422.5,966.6"/>
<polygon fill="#ffffbf" points="1354.4,966.5 1370.2,966.5 1370.2,972.2 1354.4,972.2"/>
<polygon fill="#ffffbf" points="1422.5,966.5 1433,966.5 1433,972.2 1422.5,972.2"/>
<polygon fill="#ffffbf" points="1359.6,972.1 1370.2,972.1 1370.2,977.8 1359.6,977.8"/>
<polygon fill="#ffffbf" points="1364.9,1000.1 1370.2,1000.1 1370.2,1005.7 1364.9,1005.7"/>
<polygon fill="#ffffbf" points="1364.9,1005.6 1375.4,1005.6 1375.4,1011.3 1364.9,1011.3"/>
<polygon fill="#ffffbf" points="1343.9,1033.6 1349.2,1033.6 1349.2,1039.2 1343.9,1039.2"/>
<polygon fill="#abd9e9" points="910,664.6 924.1,664.6 924.1,670.5 930,670.5 930,664.6 934.7,664.6 934.7,670.5 951.2,670.5 951.2,676.4 940.6,676.4 940.6,681.7 934.7,681.7 934.7,676.4 930,676.4 930,687 924.1,687 924.1,692.9 934.7,692.9 934.7,697.9 910,697.9"/>
<polygon fill="#abd9e9" points="945.3,648.2 951.2,648.2 951.2,653.5 945.3,653.5"/>
<polygon fill="#abd9e9" points="930,659.3 934.7,659.3 934.7,664.6 930,664.6"/>
<polygon fill="#abd9e9" points="951.2,687 955.9,687 955.9,697.9 951.2,697.9"/>
<polygon fill="#abd9e9" points="924.1,652.9 930,652.9 930,658.8 924.1,658.8"/>
<polygon fill="#abd9e9" points="945.3,788.7 950.6,788.7 950.6,794.6 945.3,794.6"/>
<polygon fill="#abd9e9" points="971.7,794.6 977,794.6 977,799.3 971.7,799.3"/>
<polygon fill="#abd9e9" points="910,709.5 914.1,709.5 914.1,715 910,715"/>
<polygon fill="#abd9e9" points="945.3,720.5 950.6,720.5 950.6,726 945.3,726"/>
<polygon fill="#abd9e9" points="930,737.1 935.3,737.1 935.3,742.6 930,742.6"/>
<polygon fill="#abd9e9" points="945.3,737.1 950.6,737.1 950.6,742.6 945.3,742.6"/>
<polygon fill="#abd9e9" points="918.8,697 924.1,697 924.1,698.4 918.8,698.4"/>
<polygon fill="#abd9e9" points="945.3,866.3 951.2,866.3 951.2,871.6 945.3,871.6"/>
<polygon fill="#abd9e9" points="1291.7,832.8 1297,832.8 1297,838.1 1291.7,838.1"/>
<polygon fill="#abd9e9" points="1312.9,855.2 1318.2,855.2 1318.2,861 1312.9,861"/>
<polygon fill="#abd9e9" points="1422.8,826.9 1428.1,826.9 1428.1,832.8 1422.8,832.8"/>
<polygon fill="#abd9e9" points="1397,838.1 1407,838.1 1407,844 1397,844"/>
<polygon fill="#abd9e9" points="1412.2,838.1 1417.5,838.1 1417.5,844 1412.2,844"/>
<polygon fill="#abd9e9" points="1417.5,844 1422.8,844 1422.8,849.9 1417.5,849.9"/>
<polygon fill="#abd9e9" points="1412.2,849.9 1417.5,849.9 1417.5,855.2 1412.2,855.2"/>
<polygon fill="#abd9e9" points="1386.4,849.9 1391.1,849.9 1391.1,855.2 1386.4,855.2"/>
<polygon fill="#abd9e9" points="1375.8,855.2 1397,855.2 1397,860.5 1375.8,860.5"/>
<polygon fill="#abd9e9" points="1417.5,861 1422.8,861 1422.8,865.7 1417.5,865.7"/>
<polygon fill="#abd9e9" points="1369.9,877.5 1381.1,877.5 1381.1,882.8 1369.9,882.8"/>
<polygon fill="#abd9e9" points="1428.1,849.9 1430.9,849.9 1430.9,861 1428.1,861"/>
<polygon fill="#abd9e9" points="1528.2,742.6 1544.1,742.6 1544.1,748.2 1528.2,748.2"/>
<polygon fill="#abd9e9" points="1538.2,753.7 1544.1,753.7 1544.1,770.3 1538.2,770.3"/>
<polygon fill="#abd9e9" points="1533.5,759.2 1538.2,759.2 1538.2,764.7 1533.5,764.7"/>
<polygon fill="#abd9e9" points="1501.7,742.6 1512.3,742.6 1512.3,748.2 1501.7,748.2"/>
<polygon fill="#abd9e9" points="1501.7,748.2 1507,748.2 1507,764.7 1501.7,764.7"/>
<polygon fill="#abd9e9" points="1507,759.2 1512.3,759.2 1512.3,764.7 1507,764.7"/>
<polygon fill="#abd9e9" points="1517.6,759.2 1522.9,759.2 1522.9,770.3 1517.6,770.3"/>
<polygon fill="#abd9e9" points="1465.3,753.7 1470,753.7 1470,759.2 1465.3,759.2"/>
<polygon fill="#abd9e9" points="1465.3,770.3 1485.9,770.3 1485.9,775.8 1465.3,775.8"/>
<polygon fill="#abd9e9" points="1470,775.8 1495.9,775.8 1495.9,781.3 1470,781.3"/>
<polygon fill="#abd9e9" points="1491.1,770.3 1495.9,770.3 1495.9,775.8 1491.1,775.8"/>
<polygon fill="#abd9e9" points="1517.6,797.9 1522.9,797.9 1522.9,803.4 1517.6,803.4"/>
<polygon fill="#abd9e9" points="1528.2,697 1533.5,697 1533.5,698.4 1528.2,698.4"/>
<polygon fill="#abd9e9" points="1485.9,709.5 1491.1,709.5 1491.1,715 1485.9,715"/>
<polygon fill="#abd9e9" points="1481.2,715 1485.9,715 1485.9,720.5 1481.2,720.5"/>
<polygon fill="#abd9e9" points="1475.3,720.5 1491.1,720.5 1491.1,726 1475.3,726"/>
<polygon fill="#abd9e9" points="1475.3,726 1481.2,726 1481.2,731.6 1475.3,731.6"/>
<polygon fill="#abd9e9" points="1454.1,869.7 1459.4,869.7 1459.4,875.3 1454.1,875.3"/>
<polygon fill="#abd9e9" points="1439.4,869.7 1444.1,869.7 1444.1,875.3 1439.4,875.3"/>
<polygon fill="#abd9e9" points="1448.8,808.9 1459.4,808.9 1459.4,814.5 1475.3,814.5 1475.3,820 1480.6,820 1480.6,825.5 1491.1,825.5 1491.1,831.1 1485.9,831.1 1485.9,842.1 1444.1,842.1 1444.1,836.6 1441.8,836.6 1441.8,825.5 1439.4,825.5 1439.4,820 1444.1,820 1444.1,814.5 1448.8,814.5"/>
<polygon fill="#2c7bb6" points="1102.9,548.2 1112.8,548.2 1112.8,552.9 1102.9,552.9"/>
<polygon fill="#2c7bb6" points="1430,541.7 1444.1,541.7 1444.1,548.2 1454.1,548.2 1454.1,558.8 1474.7,558.8 1474.7,564.7 1480.6,564.7 1480.6,575.8 1491.1,575.8 1491.1,587 1470,587 1470,575.8 1465.3,575.8 1465.3,564.7 1454.1,564.7 1454.1,558.8 1444.1,558.8 1444.1,553.5 1441.8,553.5 1441.8,552.9 1430,552.9"/>
<polygon fill="#2c7bb6" points="1501.7,575.8 1512.3,575.8 1512.3,581.1 1501.7,581.1"/>
<polygon fill="#2c7bb6" points="1517,581.1 1522.9,581.1 1522.9,587 1517,587"/>
<polygon fill="#2c7bb6" points="1528.2,581.1 1533.5,581.1 1533.5,587 1528.2,587"/>
<polygon fill="#2c7bb6" points="1586.4,609.4 1591.1,609.4 1591.1,614.7 1586.4,614.7"/>
<polygon fill="#2c7bb6" points="1622.3,637 1627.6,637 1627.6,642.3 1622.3,642.3"/>
<polygon fill="#2c7bb6" points="1617,642.3 1622.3,642.3 1622.3,648.2 1617,648.2"/>
<polygon fill="#2c7bb6" points="1607,659.3 1612.3,659.3 1612.3,670.5 1607,670.5"/>
<polygon fill="#2c7bb6" points="1591.1,598.2 1595.8,598.2 1595.8,603.5 1606.4,603.5 1606.4,609.4 1612.3,609.4 1612.3,619.9 1622.3,619.9 1622.3,625.8 1627.6,625.8 1627.6,631.7 1622.3,631.7 1622.3,625.8 1617,625.8 1617,619.9 1595.8,619.9 1595.8,603.5 1591.1,603.5"/>
<polygon fill="#2c7bb6" points="1580.5,619.9 1586.4,619.9 1586.4,625.8 1591.1,625.8 1591.1,619.9 1601.1,619.9 1601.1,631.7 1591.1,631.7 1591.1,637 1595.8,637 1595.8,642.3 1586.4,642.3 1586.4,637 1575.2,637 1575.2,631.7 1569.9,631.7 1569.9,625.8 1580.5,625.8"/>
<polygon fill="#2c7bb6" points="1648.7,637 1668.7,637 1668.7,648.2 1674.6,648.2 1674.6,664.6 1679.3,664.6 1679.3,681.7 1690.9,681.7 1690.9,697.9 1632.8,697.9 1632.8,681.7 1638.1,681.7 1638.1,664.6 1643.4,664.6 1643.4,648.2 1648.7,648.2"/>
<polygon fill="#2c7bb6" points="1564.6,687 1601.1,687 1601.1,681.7 1612.3,681.7 1612.3,692.9 1627.6,692.9 1627.6,687 1632.8,687 1632.8,697.9 1564.6,697.9"/>
<polygon fill="#2c7bb6" points="910,778.1 918.8,778.1 918.8,794.6 934.7,794.6 934.7,799.3 950.6,799.3 950.6,809.9 965.9,809.9 965.9,815.8 971.1,815.8 971.1,821.6 977,821.6 977,826.4 981.7,826.4 981.7,832.2 992.9,832.2 992.9,838.1 998.2,838.1 998.2,848.7 1008.2,848.7 1008.2,854.6 1018.8,854.6 1018.8,860.5 1024.1,860.5 1024.1,865.7 1028.8,865.7 1028.8,871.6 1034.6,871.6 1034.6,876.9 1044.6,876.9 1044.6,882.8 1060.5,882.8 1060.5,878.1 1066.4,878.1 1066.4,888.7 1076.4,888.7 1076.4,894.9 981.7,894.9 981.7,882.8 977,882.8 977,876.9 971.7,876.9 971.7,872.2 965.9,872.2 965.9,876.9 961.2,876.9 961.2,872.2 955.9,872.2 955.9,854.6 945.3,854.6 945.3,844 940,844 940,838.1 929.4,838.1 929.4,832.2 914.1,832.2 914.1,826.4 910,826.4"/>
<polygon fill="#2c7bb6" points="910,761.1 914.1,761.1 914.1,772.3 910,772.3"/>
<polygon fill="#2c7bb6" points="1049.9,872.2 1055.8,872.2 1055.8,876.9 1049.9,876.9"/>
<polygon fill="#2c7bb6" points="1481.2,849.9 1485.9,849.9 1485.9,866.3 1481.2,866.3 1481.2,861 1475.3,861 1475.3,855.2 1481.2,855.2"/>
<polygon fill="#2c7bb6" points="1485.9,866.3 1491.1,866.3 1491.1,871.6 1485.9,871.6"/>
<polygon fill="#2c7bb6" points="1481.2,877.5 1485.9,877.5 1485.9,883.4 1481.2,883.4"/>
<polygon fill="#2c7bb6" points="1186.6,1016.8 1191.9,1016.8 1191.9,1022.3 1186.6,1022.3"/>
<polygon fill="#2c7bb6" points="1212.9,1033.5 1218.2,1033.5 1218.2,1039.1 1212.9,1039.1"/>
<polygon fill="#fdae61" points="1197,771.1 1202.9,771.1 1202.9,777 1197,777"/>
<polygon fill="#fdae61" points="1218.2,765.8 1224.1,765.8 1224.1,771.1 1218.2,771.1"/>
<polygon fill="#fdae61" points="1307,777 1312.9,777 1312.9,782.3 1307,782.3"/>
<polygon fill="#fdae61" points="1312.9,782.3 1328.2,782.3 1328.2,788.1 1312.9,788.1"/>
<polygon fill="#fdae61" points="1322.9,794 1328.2,794 1328.2,798.7 1322.9,798.7"/>
<polygon fill="#fdae61" points="1260.5,826.9 1265.8,826.9 1265.8,832.8 1260.5,832.8"/>
<polygon fill="#fdae61" points="1234.1,832.8 1239.4,832.8 1239.4,838.1 1234.1,838.1"/>
<polygon fill="#fdae61" points="1250,838.1 1255.3,838.1 1255.3,844 1250,844"/>
<polygon fill="#fdae61" points="1265.8,838.1 1275.8,838.1 1275.8,844 1265.8,844"/>
<polygon fill="#fdae61" points="1328.2,882.8 1334,882.8 1334,894.9 1328.2,894.9"/>
<polygon fill="#fdae61" points="1302.3,888.7 1307,888.7 1307,894.9 1302.3,894.9"/>
<polygon fill="#fdae61" points="1349.3,759.9 1359.9,759.9 1359.9,765.8 1349.3,765.8"/>
<polygon fill="#fdae61" points="1417.5,799.3 1422.8,799.3 1422.8,809.9 1417.5,809.9"/>
<polygon fill="#fdae61" points="1375.8,765.8 1381.1,765.8 1381.1,771.1 1386.4,771.1 1386.4,804.6 1375.8,804.6 1375.8,826.9 1369.9,826.9 1369.9,832.8 1365.2,832.8 1365.2,844 1359.9,844 1359.9,849.9 1354.6,849.9 1354.6,860.5 1344,860.5 1344,826.9 1354.6,826.9 1354.6,804.6 1359.9,804.6 1359.9,799.3 1365.2,799.3 1365.2,771.1 1375.8,771.1"/>
<polygon fill="#fdae61" points="1391.7,799.3 1397,799.3 1397,804.6 1402.2,804.6 1402.2,815.8 1407,815.8 1407,821.6 1397,821.6 1397,815.8 1391.7,815.8 1391.7,832.8 1381.1,832.8 1381.1,815.8 1386.4,815.8 1386.4,804.6 1391.7,804.6"/>
<polygon fill="#fdae61" points="1454.1,737.1 1465.3,737.1 1465.3,748.2 1454.1,748.2"/>
<polygon fill="#fdae61" points="1448.8,759.2 1454.1,759.2 1454.1,764.7 1448.8,764.7"/>
<polygon fill="#fdae61" points="1475.3,737.1 1481.2,737.1 1481.2,742.6 1475.3,742.6"/>
<polygon fill="#fdae61" points="1481.2,731.6 1485.9,731.6 1485.9,737.1 1481.2,737.1"/>
<polygon fill="#fdae61" points="1491.1,709.5 1501.7,709.5 1501.7,715 1491.1,715"/>
<polygon fill="#fdae61" points="1491.1,715 1507,715 1507,720.5 1491.1,720.5"/>
<polygon fill="#fdae61" points="1491.1,720.5 1496.4,720.5 1496.4,726 1491.1,726"/>
<polygon fill="#fdae61" points="1517.6,742.6 1528.2,742.6 1528.2,748.2 1517.6,748.2"/>
<polygon fill="#fdae61" points="1507,770.3 1517.6,770.3 1517.6,775.8 1507,775.8"/>
<polygon fill="#fdae61" points="1507,775.8 1512.3,775.8 1512.3,781.3 1507,781.3"/>
<polygon fill="#fdae61" points="1491.1,781.3 1501.7,781.3 1501.7,786.8 1491.1,786.8"/>
<polygon fill="#fdae61" points="1485.9,786.8 1491.1,786.8 1491.1,792.4 1485.9,792.4"/>
<polygon fill="#fdae61" points="1454.1,792.4 1459.4,792.4 1459.4,797.9 1454.1,797.9"/>
<polygon fill="#fdae61" points="1501.7,792.4 1512.3,792.4 1512.3,797.9 1501.7,797.9"/>
<polygon fill="#fdae61" points="1475.3,797.9 1481.2,797.9 1481.2,803.4 1475.3,803.4"/>
<polygon fill="#fdae61" points="1491.1,797.9 1507,797.9 1507,803.4 1491.1,803.4"/>
<polygon fill="#fdae61" points="1496.4,803.4 1507,803.4 1507,808.9 1496.4,808.9"/>
<polygon fill="#fdae61" points="1430,836.6 1433.5,836.6 1433.5,849.9 1430,849.9"/>
<polygon fill="#fdae61" points="1444.1,869.7 1448.8,869.7 1448.8,875.3 1444.1,875.3"/>
<polygon fill="#fdae61" points="1448.8,875.3 1454.1,875.3 1454.1,886.3 1448.8,886.3"/>
<polygon fill="#fdae61" points="1454.1,880.8 1459.4,880.8 1459.4,886.3 1454.1,886.3"/>
<polygon fill="#fdae61" points="1454.1,886.3 1470,886.3 1470,891.9 1454.1,891.9"/>
<polygon fill="#fdae61" points="1465.3,880.8 1470,880.8 1470,886.3 1465.3,886.3"/>
<polygon fill="#fdae61" points="1460,891.9 1470,891.9 1470,894.9 1460,894.9"/>
<polygon fill="#fdae61" points="1448.8,886.3 1454.1,886.3 1454.1,891.9 1448.8,891.9"/>
<polygon fill="#a50026" points="1170,603.5 1187.1,603.5 1187.1,587 1192.3,587 1202.9,597.6 1202.9,608.2 1212.9,608.2 1212.9,597.6 1208.2,597.6 1208.2,591.7 1212.9,591.7 1212.9,587 1228.8,587 1228.8,597.6 1239.4,597.6 1239.4,587 1250,587 1250,581.1 1260.5,581.1 1260.5,587 1265.8,587 1265.8,603.5 1271.1,603.5 1271.1,587 1281.1,587 1281.1,591.7 1286.4,591.7 1286.4,597.6 1301.7,597.6 1301.7,603.5 1297,603.5 1297,608.2 1307,608.2 1307,614.1 1312.9,614.1 1312.9,603.5 1322.9,603.5 1322.9,591.7 1328.2,591.7 1328.2,597.6 1334,597.6 1334,603.5 1339.3,603.5 1339.3,597.6 1359.9,597.6 1359.9,603.5 1369.9,603.5 1369.9,597.6 1375.8,597.6 1375.8,581.1 1386.4,581.1 1386.4,587 1406.4,587 1406.4,581.1 1397,581.1 1397,575.3 1391.1,575.3 1391.1,558.8 1397,558.8 1397,552.9 1401.7,552.9 1401.7,558.8 1406.4,558.8 1406.4,575.3 1412.2,575.3 1412.2,581.1 1417.5,581.1 1417.5,570.6 1422.8,570.6 1422.8,564.7 1430.9,564.7 1430.9,658.8 1422.8,658.8 1422.8,652.9 1417.5,652.9 1417.5,647.6 1412.2,647.6 1412.2,669.3 1407,669.3 1407,675.2 1401.7,675.2 1401.7,647.6 1397,647.6 1397,652.9 1386.4,652.9 1386.4,658.8 1381.1,658.8 1381.1,652.9 1375.8,652.9 1375.8,658.8 1369.9,658.8 1369.9,664.6 1365.2,664.6 1365.2,658.8 1359.9,658.8 1359.9,664.6 1349.3,664.6 1349.3,658.8 1344,658.8 1344,652.9 1328.2,652.9 1328.2,664.6 1312.9,664.6 1312.9,652.9 1307,652.9 1307,664.6 1291.7,664.6 1291.7,658.8 1297,658.8 1297,647.6 1301.7,647.6 1301.7,642.3 1307,642.3 1307,636.4 1301.7,636.4 1301.7,625.8 1297,625.8 1297,631.7 1291.7,631.7 1291.7,614.7 1271.1,614.7 1271.1,619.9 1260.5,619.9 1260.5,614.7 1265.8,614.7 1265.8,608.8 1244.7,608.8 1244.7,614.7 1234.1,614.7 1234.1,619.9 1223.5,619.9 1223.5,625.8 1234.1,625.8 1234.1,631.7 1228.8,631.7 1228.8,637 1223.5,637 1223.5,625.8 1212.9,625.8 1212.9,637 1208.2,637 1208.2,631.7 1202.9,631.7 1202.9,637 1197.6,637 1197.6,642.3 1192.3,642.3 1192.3,648.2 1187.1,648.2 1187.1,653.5 1175.9,653.5 1175.9,658.8 1170,658.8"/>
<polygon fill="#a50026" points="1175.9,552.9 1181.8,552.9 1181.8,564.7 1175.9,564.7"/>
<polygon fill="#a50026" points="1181.8,558.8 1187.1,558.8 1187.1,564.7 1181.8,564.7"/>
<polygon fill="#a50026" points="1197.6,564.7 1202.9,564.7 1202.9,570 1197.6,570"/>
<polygon fill="#a50026" points="1223.5,552.9 1228.8,552.9 1228.8,558.8 1223.5,558.8"/>
<polygon fill="#a50026" points="1218.2,558.8 1224.1,558.8 1224.1,564.7 1218.2,564.7"/>
<polygon fill="#a50026" points="1234.1,564.7 1239.4,564.7 1239.4,570 1234.1,570"/>
<polygon fill="#a50026" points="1218.2,570.6 1224.1,570.6 1224.1,575.8 1218.2,575.8"/>
<polygon fill="#a50026" points="1228.8,570.6 1234.1,570.6 1234.1,575.8 1228.8,575.8"/>
<polygon fill="#a50026" points="1223.5,575.8 1228.8,575.8 1228.8,581.1 1223.5,581.1"/>
<polygon fill="#a50026" points="1239.4,575.8 1244.7,575.8 1244.7,581.1 1239.4,581.1"/>
<polygon fill="#a50026" points="1170,581.1 1175.9,581.1 1175.9,587 1170,587"/>
<polygon fill="#a50026" points="1175.9,587 1181.8,587 1181.8,591.7 1175.9,591.7"/>
<polygon fill="#a50026" points="1365.2,587 1369.9,587 1369.9,597.6 1365.2,597.6"/>
<polygon fill="#a50026" points="1375.8,591.7 1381.1,591.7 1381.1,597.6 1375.8,597.6"/>
<polygon fill="#a50026" points="1181.8,664.6 1187.1,664.6 1187.1,675.2 1181.8,675.2"/>
<polygon fill="#a50026" points="1281.1,664.6 1286.4,664.6 1286.4,670.5 1281.1,670.5"/>
<polygon fill="#a50026" points="1301.7,670.5 1307,670.5 1307,675.2 1301.7,675.2"/>
<polygon fill="#a50026" points="1334,675.2 1344,675.2 1344,681.1 1334,681.1"/>
<polygon fill="#a50026" points="1318.2,681.1 1323.5,681.1 1323.5,687 1318.2,687"/>
<polygon fill="#a50026" points="1312.9,687 1318.2,687 1318.2,692.9 1312.9,692.9"/>
<polygon fill="#a50026" points="1322.9,687 1334,687 1334,697 1322.9,697"/>
<polygon fill="#a50026" points="1328.2,681.7 1334,681.7 1334,687 1328.2,687"/>
<polygon fill="#a50026" points="1339.3,687 1354.6,687 1354.6,692.9 1339.3,692.9"/>
<polygon fill="#a50026" points="1354.6,681.1 1359.9,681.1 1359.9,687 1354.6,687"/>
<polygon fill="#a50026" points="1245.3,619.9 1250.6,619.9 1250.6,625.8 1245.3,625.8"/>
<polygon fill="#a50026" points="1234.1,692.9 1239.4,692.9 1239.4,697.6 1234.1,697.6"/>
<polygon fill="#a50026" points="1255.3,692.9 1260.5,692.9 1260.5,697.6 1255.3,697.6"/>
<polygon fill="#a50026" points="1271.1,692.9 1286.4,692.9 1286.4,697.6 1271.1,697.6"/>
<polygon fill="#a50026" points="1391.7,675.2 1397,675.2 1397,687 1391.7,687"/>
<polygon fill="#a50026" points="1397,681.1 1407,681.1 1407,687 1397,687"/>
<polygon fill="#a50026" points="1422.8,675.2 1430.9,675.2 1430.9,697.6 1422.8,697.6"/>
<polygon fill="#a50026" points="1412.2,687 1422.8,687 1422.8,697.6 1412.2,697.6"/>
<polygon fill="#a50026" points="1112.8,558.8 1124,558.8 1124,564.7 1139.9,564.7 1139.9,570.6 1145.2,570.6 1145.2,581.1 1160.5,581.1 1160.5,575.8 1170.9,575.8 1170.9,659.3 1165.8,659.3 1165.8,664.6 1160.5,664.6 1160.5,670.5 1155.2,670.5 1155.2,664.6 1149.9,664.6 1149.9,670.5 1139.9,670.5 1139.9,676.4 1145.2,676.4 1145.2,681.7 1149.9,681.7 1149.9,692.9 1145.2,692.9 1145.2,687 1139.9,687 1139.9,681.7 1134.6,681.7 1134.6,687 1128.7,687 1128.7,697.9 1024.1,697.9 1024.1,692.9 1019.4,692.9 1019.4,687 1024.1,687 1024.1,681.7 1019.4,681.7 1019.4,676.4 1014.1,676.4 1014.1,654 1008.2,654 1008.2,647.6 1014.1,647.6 1014.1,642.3 1008.2,642.3 1008.2,631.7 1014.1,631.7 1014.1,637 1029.4,637 1029.4,631.7 1024.1,631.7 1024.1,619.9 1039.9,619.9 1039.9,609.4 1045.2,609.4 1045.2,598.2 1049.9,598.2 1049.9,603.5 1055.8,603.5 1055.8,598.2 1066.4,598.2 1066.4,587 1087,587 1087,581.1 1092.3,581.1 1092.3,575.8 1108.1,575.8 1108.1,564.7 1112.8,564.7"/>
<polygon fill="#a50026" points="1149.9,564.7 1170.9,564.7 1170.9,570.6 1155.2,570.6 1155.2,575.8 1149.9,575.8"/>
<polygon fill="#a50026" points="1430,558.8 1438.8,558.8 1438.8,564.7 1444.1,564.7 1444.1,581.1 1448.8,581.1 1448.8,587 1454.1,587 1454.1,592.3 1465.3,592.3 1465.3,597.6 1485.9,597.6 1485.9,603.5 1491.1,603.5 1491.1,609.4 1501.7,609.4 1501.7,614.7 1528.2,614.7 1528.2,619.9 1538.2,619.9 1538.2,625.8 1528.2,625.8 1528.2,631.7 1533.5,631.7 1533.5,637 1528.2,637 1528.2,648.2 1512.3,648.2 1512.3,642.9 1495.9,642.9 1495.9,648.2 1481.2,648.2 1481.2,659.3 1485.9,659.3 1485.9,664.6 1481.2,664.6 1481.2,659.3 1474.7,659.3 1474.7,670.5 1460,670.5 1460,676.4 1454.1,676.4 1454.1,681.7 1444.1,681.7 1444.1,687 1438.8,687 1438.8,692.9 1430,692.9"/>
<polygon fill="#a50026" points="1548.8,598.2 1554.1,598.2 1554.1,603.5 1548.8,603.5"/>
<polygon fill="#a50026" points="1014.1,698.4 1024.1,698.4 1024.1,697 1129.3,697 1129.3,703.9 1134.6,703.9 1134.6,698.4 1139.9,698.4 1139.9,727 1145.2,727 1145.2,731.6 1149.9,731.6 1149.9,737.1 1145.2,737.1 1145.2,742.6 1129.3,742.6 1129.3,769.9 1124,769.9 1124,775.8 1119.3,775.8 1119.3,759.2 1113.4,759.2 1113.4,753.7 1102.9,753.7 1102.9,737.1 1092.3,737.1 1092.3,726 1087,726 1087,720.5 1071.1,720.5 1071.1,726 1055.8,726 1055.8,731.6 1039.9,731.6 1039.9,726 1024.1,726 1024.1,720.5 1029.4,720.5 1029.4,715 1034.6,715 1034.6,709.5 1024.1,709.5 1024.1,703.9 1014.1,703.9"/>
<polygon fill="#a50026" points="1014.1,727 1024.1,727 1024.1,731.7 1014.1,731.7"/>
<polygon fill="#a50026" points="1055.8,731.6 1061.1,731.6 1061.1,737.1 1055.8,737.1"/>
<polygon fill="#a50026" points="1065.8,737.1 1071.1,737.1 1071.1,742.6 1065.8,742.6"/>
<polygon fill="#a50026" points="1055.8,759.9 1061.1,759.9 1061.1,765.4 1055.8,765.4"/>
<polygon fill="#a50026" points="1071.1,765.8 1077,765.8 1077,770.5 1071.1,770.5"/>
<polygon fill="#a50026" points="1102.9,770.3 1108.1,770.3 1108.1,781.3 1102.9,781.3"/>
<polygon fill="#a50026" points="1129.3,777 1139.9,777 1139.9,781.7 1129.3,781.7"/>
<polygon fill="#a50026" points="1018.8,821.6 1029.4,821.6 1029.4,826.4 1018.8,826.4"/>
<polygon fill="#a50026" points="1029.4,826.4 1034.6,826.4 1034.6,832.2 1029.4,832.2"/>
<polygon fill="#a50026" points="1039.9,838.1 1045.2,838.1 1045.2,844 1039.9,844"/>
<polygon fill="#a50026" points="1076.4,821.6 1082.3,821.6 1082.3,826.9 1076.4,826.9"/>
<polygon fill="#a50026" points="1165.8,826.4 1170.9,826.4 1170.9,832.2 1165.8,832.2"/>
<polygon fill="#a50026" points="1139.9,849.9 1145.2,849.9 1145.2,854.6 1139.9,854.6"/>
<polygon fill="#a50026" points="1145.2,854.6 1149.9,854.6 1149.9,860.5 1145.2,860.5"/>
<polygon fill="#a50026" points="1155.2,872.2 1170.9,872.2 1170.9,885.2 1155.2,885.2"/>
<polygon fill="#a50026" points="1155.2,889.9 1170.9,889.9 1170.9,894.9 1155.2,894.9"/>
<polygon fill="#a50026" points="1081.7,777 1092.3,777 1092.3,781.3 1097.6,781.3 1097.6,792.4 1102.9,792.4 1102.9,788.1 1113.4,788.1 1113.4,797.9 1102.9,797.9 1102.9,805.2 1097.6,805.2 1097.6,797.9 1087,797.9 1087,792.4 1092.3,792.4 1092.3,786.8 1087,786.8 1087,781.3 1081.7,781.3"/>
<polygon fill="#a50026" points="1134.6,805.2 1149.9,805.2 1149.9,815.8 1155.2,815.8 1155.2,821.6 1149.9,821.6 1149.9,815.8 1139.9,815.8 1139.9,809.9 1134.6,809.9"/>
<polygon fill="#a50026" points="1039.9,799.3 1045.2,799.3 1045.2,809.9 1049.9,809.9 1049.9,815.8 1055.8,815.8 1055.8,826.4 1066.4,826.4 1066.4,832.2 1060.5,832.2 1060.5,838.1 1055.8,838.1 1055.8,844 1049.9,844 1049.9,821.6 1045.2,821.6 1045.2,809.9 1039.9,809.9"/>
<polygon fill="#a50026" points="1160.5,838.1 1170.9,838.1 1170.9,844 1165.8,844 1165.8,849.9 1160.5,849.9"/>
<polygon fill="#a50026" points="1155.2,854.6 1160.5,854.6 1160.5,860.5 1165.8,860.5 1165.8,849.9 1170.9,849.9 1170.9,866.3 1155.2,866.3"/>
<polygon fill="#a50026" points="1234.1,697 1244.7,697 1244.7,703.9 1250,703.9 1250,709.9 1255.3,709.9 1255.3,720.5 1244.7,720.5 1244.7,726.4 1239.4,726.4 1239.4,715 1234.1,715"/>
<polygon fill="#a50026" points="1250,698.4 1265.8,698.4 1265.8,703.9 1250,703.9"/>
<polygon fill="#a50026" points="1255.3,697 1260.5,697 1260.5,698.4 1255.3,698.4"/>
<polygon fill="#a50026" points="1271.1,697 1285.8,697 1285.8,698.4 1271.1,698.4"/>
<polygon fill="#a50026" points="1271.1,698.4 1281.1,698.4 1281.1,703.9 1271.1,703.9"/>
<polygon fill="#a50026" points="1271.1,703.9 1275.8,703.9 1275.8,709.5 1271.1,709.5"/>
<polygon fill="#a50026" points="1265.8,709.5 1271.1,709.5 1271.1,715 1265.8,715"/>
<polygon fill="#a50026" points="1318.2,698.4 1322.9,698.4 1322.9,703.9 1318.2,703.9"/>
<polygon fill="#a50026" points="1322.9,697 1334,697 1334,698.4 1322.9,698.4"/>
<polygon fill="#a50026" points="1339.3,698.4 1349.3,698.4 1349.3,703.9 1339.3,703.9"/>
<polygon fill="#a50026" points="1344,703.9 1349.3,703.9 1349.3,709.5 1344,709.5"/>
<polygon fill="#a50026" points="1391.7,698.4 1397,698.4 1397,709.5 1391.7,709.5"/>
<polygon fill="#a50026" points="1386.4,709.5 1391.7,709.5 1391.7,715 1386.4,715"/>
<polygon fill="#a50026" points="1417.5,697 1430.9,697 1430.9,703.9 1417.5,703.9"/>
<polygon fill="#a50026" points="1417.5,709.5 1428.1,709.5 1428.1,715 1417.5,715"/>
<polygon fill="#a50026" points="1208.2,877.5 1212.9,877.5 1212.9,888.7 1208.2,888.7"/>
<polygon fill="#a50026" points="1197,884 1212.9,884 1212.9,894.9 1197,894.9"/>
<polygon fill="#a50026" points="1239.4,877.5 1244.7,877.5 1244.7,883.4 1239.4,883.4"/>
<polygon fill="#a50026" points="1170,826.9 1171.2,826.9 1171.2,832.8 1170,832.8"/>
<polygon fill="#a50026" points="1170,838.1 1171.2,838.1 1171.2,844 1170,844"/>
<polygon fill="#a50026" points="1170,849.9 1181.8,849.9 1181.8,861 1187.1,861 1187.1,855.2 1192.3,855.2 1192.3,861 1197,861 1197,866.3 1202.9,866.3 1202.9,872.2 1197,872.2 1197,866.3 1187.1,866.3 1187.1,872.2 1175.9,872.2 1175.9,866.3 1170,866.3"/>
<polygon fill="#a50026" points="1170,872.2 1175.9,872.2 1175.9,878.1 1181.8,878.1 1181.8,884 1187.1,884 1187.1,894.9 1175.9,894.9 1175.9,889.9 1170,889.9"/>
<polygon fill="#a50026" points="1430,698.4 1433.5,698.4 1433.5,703.9 1430,703.9"/>
<polygon fill="#a50026" points="1507,764.7 1512.3,764.7 1512.3,770.3 1507,770.3"/>
<polygon fill="#a50026" points="1167.4,893.1 1207.7,893.1 1207.7,899.6 1167.4,899.6"/>
<polygon fill="#a50026" points="1167.4,899.5 1207.7,899.5 1207.7,905.2 1167.4,905.2"/>
<polygon fill="#a50026" points="1167.4,905.1 1176.2,905.1 1176.2,910.7 1167.4,910.7"/>
<polygon fill="#a50026" points="1191.9,905.1 1202.4,905.1 1202.4,910.7 1191.9,910.7"/>
<polygon fill="#a50026" points="1207.6,905.1 1212.9,905.1 1212.9,910.7 1207.6,910.7"/>
<polygon fill="#a50026" points="1167.4,910.7 1176.2,910.7 1176.2,916.3 1167.4,916.3"/>
<polygon fill="#a50026" points="1202.4,910.7 1207.7,910.7 1207.7,916.3 1202.4,916.3"/>
<polygon fill="#a50026" points="1223.3,916.3 1228.6,916.3 1228.6,921.9 1223.3,921.9"/>
<polygon fill="#a50026" points="1167.4,921.9 1171,921.9 1171,927.5 1167.4,927.5"/>
<polygon fill="#a50026" points="1218.1,921.9 1254.8,921.9 1254.8,927.5 1218.1,927.5"/>
<polygon fill="#a50026" points="1265.3,921.9 1275.8,921.9 1275.8,927.5 1265.3,927.5"/>
<polygon fill="#a50026" points="1167.4,927.4 1176.2,927.4 1176.2,933.1 1167.4,933.1"/>
<polygon fill="#a50026" points="1197.1,927.4 1254.8,927.4 1254.8,933.1 1197.1,933.1"/>
<polygon fill="#a50026" points="1265.3,927.4 1270.6,927.4 1270.6,933.1 1265.3,933.1"/>
<polygon fill="#a50026" points="1176.2,933 1202.4,933 1202.4,938.7 1176.2,938.7"/>
<polygon fill="#a50026" points="1207.6,933 1218.2,933 1218.2,938.7 1207.6,938.7"/>
<polygon fill="#a50026" points="1223.3,933 1254.8,933 1254.8,938.7 1223.3,938.7"/>
<polygon fill="#a50026" points="1265.3,933 1275.8,933 1275.8,938.7 1265.3,938.7"/>
<polygon fill="#a50026" points="1181.4,938.6 1218.2,938.6 1218.2,944.3 1181.4,944.3"/>
<polygon fill="#a50026" points="1223.3,938.6 1260.1,938.6 1260.1,944.3 1223.3,944.3"/>
<polygon fill="#a50026" points="1265.3,938.6 1281.1,938.6 1281.1,944.3 1265.3,944.3"/>
<polygon fill="#a50026" points="1181.4,944.2 1197.2,944.2 1197.2,949.8 1181.4,949.8"/>
<polygon fill="#a50026" points="1202.4,944.2 1260.1,944.2 1260.1,949.8 1202.4,949.8"/>
<polygon fill="#a50026" points="1265.3,944.2 1281.1,944.2 1281.1,949.8 1265.3,949.8"/>
<polygon fill="#a50026" points="1186.7,949.8 1260.1,949.8 1260.1,955.4 1186.7,955.4"/>
<polygon fill="#a50026" points="1265.3,949.8 1275.8,949.8 1275.8,955.4 1265.3,955.4"/>
<polygon fill="#a50026" points="1186.7,955.4 1296.8,955.4 1296.8,961 1186.7,961"/>
<polygon fill="#a50026" points="1207.6,961 1291.5,961 1291.5,966.6 1207.6,966.6"/>
<polygon fill="#a50026" points="1212.9,966.5 1218.2,966.5 1218.2,972.2 1212.9,972.2"/>
<polygon fill="#a50026" points="1223.3,966.5 1302,966.5 1302,972.2 1223.3,972.2"/>
<polygon fill="#a50026" points="1207.6,972.1 1212.9,972.1 1212.9,977.8 1207.6,977.8"/>
<polygon fill="#a50026" points="1223.3,972.1 1228.6,972.1 1228.6,977.8 1223.3,977.8"/>
<polygon fill="#a50026" points="1233.8,972.1 1260.1,972.1 1260.1,977.8 1233.8,977.8"/>
<polygon fill="#a50026" points="1265.3,972.1 1307.3,972.1 1307.3,977.8 1265.3,977.8"/>
<polygon fill="#a50026" points="1322.9,972.1 1328.2,972.1 1328.2,977.8 1322.9,977.8"/>
<polygon fill="#a50026" points="1233.8,977.7 1317.7,977.7 1317.7,983.4 1233.8,983.4"/>
<polygon fill="#a50026" points="1328.2,977.7 1333.5,977.7 1333.5,983.4 1328.2,983.4"/>
<polygon fill="#a50026" points="1239.1,983.3 1244.4,983.3 1244.4,988.9 1239.1,988.9"/>
<polygon fill="#a50026" points="1249.5,983.3 1307.3,983.3 1307.3,988.9 1249.5,988.9"/>
<polygon fill="#a50026" points="1312.4,983.3 1317.7,983.3 1317.7,988.9 1312.4,988.9"/>
<polygon fill="#a50026" points="1249.5,988.9 1302,988.9 1302,994.5 1249.5,994.5"/>
<polygon fill="#a50026" points="1312.4,988.9 1323,988.9 1323,994.5 1312.4,994.5"/>
<polygon fill="#a50026" points="1328.2,988.9 1333.5,988.9 1333.5,994.5 1328.2,994.5"/>
<polygon fill="#a50026" points="1244.3,994.5 1281.1,994.5 1281.1,1000.1 1244.3,1000.1"/>
<polygon fill="#a50026" points="1286.2,994.5 1291.5,994.5 1291.5,1000.1 1286.2,1000.1"/>
<polygon fill="#a50026" points="1302,994.5 1317.7,994.5 1317.7,1000.1 1302,1000.1"/>
<polygon fill="#a50026" points="1254.8,1000.1 1291.5,1000.1 1291.5,1005.7 1254.8,1005.7"/>
<polygon fill="#a50026" points="1312.4,1000.1 1317.7,1000.1 1317.7,1005.7 1312.4,1005.7"/>
<polygon fill="#a50026" points="1380.6,1000.1 1396.4,1000.1 1396.4,1005.7 1380.6,1005.7"/>
<polygon fill="#a50026" points="1244.3,1005.6 1291.5,1005.6 1291.5,1011.3 1244.3,1011.3"/>
<polygon fill="#a50026" points="1380.6,1005.6 1401.6,1005.6 1401.6,1011.3 1380.6,1011.3"/>
<polygon fill="#a50026" points="1239.1,1011.2 1296.8,1011.2 1296.8,1016.9 1239.1,1016.9"/>
<polygon fill="#a50026" points="1385.8,1011.2 1406.8,1011.2 1406.8,1016.9 1385.8,1016.9"/>
<polygon fill="#a50026" points="1249.5,1016.8 1302,1016.8 1302,1022.5 1249.5,1022.5"/>
<polygon fill="#a50026" points="1380.6,1016.8 1412.1,1016.8 1412.1,1022.5 1380.6,1022.5"/>
<polygon fill="#a50026" points="1265.3,1022.4 1312.5,1022.4 1312.5,1028 1265.3,1028"/>
<polygon fill="#a50026" points="1380.6,1022.4 1433,1022.4 1433,1028 1380.6,1028"/>
<polygon fill="#a50026" points="1260,1028 1302,1028 1302,1033.6 1260,1033.6"/>
<polygon fill="#a50026" points="1307.2,1028 1312.5,1028 1312.5,1033.6 1307.2,1033.6"/>
<polygon fill="#a50026" points="1375.3,1028 1433,1028 1433,1033.6 1375.3,1033.6"/>
<polygon fill="#a50026" points="1260,1033.6 1312.5,1033.6 1312.5,1039.2 1260,1039.2"/>
<polygon fill="#a50026" points="1375.3,1033.6 1422.6,1033.6 1422.6,1039.2 1375.3,1039.2"/>
<polygon fill="#a50026" points="1254.8,1039.2 1317.7,1039.2 1317.7,1044.8 1254.8,1044.8"/>
<polygon fill="#a50026" points="1370.1,1039.2 1433,1039.2 1433,1044.8 1370.1,1044.8"/>
<polygon fill="#a50026" points="1260,1044.7 1317.7,1044.7 1317.7,1050.4 1260,1050.4"/>
<polygon fill="#a50026" points="1375.3,1044.7 1417.3,1044.7 1417.3,1050.4 1375.3,1050.4"/>
<polygon fill="#a50026" points="1265.3,1050.3 1302,1050.3 1302,1056 1265.3,1056"/>
<polygon fill="#a50026" points="1307.2,1050.3 1312.5,1050.3 1312.5,1056 1307.2,1056"/>
<polygon fill="#a50026" points="1349.1,1050.3 1391.1,1050.3 1391.1,1056 1349.1,1056"/>
<polygon fill="#a50026" points="1396.3,1050.3 1401.6,1050.3 1401.6,1056 1396.3,1056"/>
<polygon fill="#a50026" points="1270.5,1055.9 1302,1055.9 1302,1061.6 1270.5,1061.6"/>
<polygon fill="#a50026" points="1359.6,1055.9 1391.1,1055.9 1391.1,1061.6 1359.6,1061.6"/>
<polygon fill="#a50026" points="1270.5,1061.5 1302,1061.5 1302,1067.1 1270.5,1067.1"/>
<polygon fill="#a50026" points="1359.6,1061.5 1370.2,1061.5 1370.2,1067.1 1359.6,1067.1"/>
<polygon fill="#a50026" points="1281,1067.1 1286.3,1067.1 1286.3,1072.7 1281,1072.7"/>
<polygon fill="#fdae61" points="1334,608.8 1339.3,608.8 1339.3,614.7 1344,614.7 1344,603.5 1349.3,603.5 1349.3,619.9 1354.6,619.9 1354.6,625.8 1349.3,625.8 1349.3,631.7 1344,631.7 1344,636.4 1322.9,636.4 1322.9,631.7 1328.2,631.7 1328.2,619.9 1334,619.9"/>
<polygon fill="#fdae61" points="1381.1,603.5 1391.7,603.5 1391.7,608.8 1397,608.8 1397,631.7 1391.7,631.7 1391.7,625.8 1386.4,625.8 1386.4,619.9 1381.1,619.9"/>
<polygon fill="#fdae61" points="1334,642.3 1344,642.3 1344,647.6 1349.3,647.6 1349.3,652.9 1339.3,652.9 1339.3,647.6 1334,647.6"/>
<polygon fill="#fdae61" points="1317.6,637 1322.9,637 1322.9,642.3 1317.6,642.3"/>
<polygon fill="#fdae61" points="1250,597.6 1255.3,597.6 1255.3,603.5 1250,603.5"/>
<polygon fill="#fdae61" points="1281.1,603.5 1286.4,603.5 1286.4,608.8 1281.1,608.8"/>
<polygon fill="#fdae61" points="1192.3,631.7 1197.6,631.7 1197.6,637 1192.3,637"/>
<polygon fill="#fdae61" points="1202.9,619.9 1208.2,619.9 1208.2,625.8 1202.9,625.8"/>
<polygon fill="#fdae61" points="1328.2,647.6 1334,647.6 1334,652.9 1328.2,652.9"/>
<polygon fill="#fdae61" points="1108.1,575.8 1112.8,575.8 1112.8,581.1 1108.1,581.1"/>
<polygon fill="#fdae61" points="1102.9,581.1 1108.1,581.1 1108.1,587 1102.9,587"/>
<polygon fill="#fdae61" points="1108.1,592.3 1112.8,592.3 1112.8,598.2 1108.1,598.2"/>
<polygon fill="#fdae61" points="1102.9,598.2 1108.1,598.2 1108.1,603.5 1102.9,603.5"/>
<polygon fill="#fdae61" points="1108.1,603.5 1112.8,603.5 1112.8,609.4 1108.1,609.4"/>
<polygon fill="#fdae61" points="1134,581.1 1139.9,581.1 1139.9,587 1134,587"/>
<polygon fill="#fdae61" points="1139.9,587 1145.2,587 1145.2,592.3 1139.9,592.3"/>
<polygon fill="#fdae61" points="1165.8,581.1 1170.9,581.1 1170.9,587 1165.8,587"/>
<polygon fill="#fdae61" points="1165.8,592.3 1170.9,592.3 1170.9,598.2 1165.8,598.2"/>
<polygon fill="#fdae61" points="1077,614.7 1082.3,614.7 1082.3,619.9 1077,619.9"/>
<polygon fill="#fdae61" points="1039.9,619.9 1045.2,619.9 1045.2,625.8 1039.9,625.8"/>
<polygon fill="#fdae61" points="1029.4,642.9 1034.6,642.9 1034.6,654 1029.4,654"/>
<polygon fill="#fdae61" points="1019.4,654 1034.6,654 1034.6,659.3 1019.4,659.3"/>
<polygon fill="#fdae61" points="1438.8,642.9 1454.1,642.9 1454.1,648.2 1444.1,648.2 1444.1,659.3 1438.8,659.3 1438.8,664.6 1433.5,664.6 1433.5,670.5 1430,670.5 1430,653.5 1433.5,653.5 1433.5,648.2 1438.8,648.2"/>
<polygon fill="#fdae61" points="1239.4,709.9 1244.7,709.9 1244.7,715 1239.4,715"/>
<polygon fill="#ffffbf" points="1349.3,653.5 1354.6,653.5 1354.6,659.3 1349.3,659.3"/>
<polygon fill="#ffffbf" points="1354.6,664.6 1359.9,664.6 1359.9,670.5 1354.6,670.5"/>
<polygon fill="#ffffbf" points="1369.9,664.6 1375.8,664.6 1375.8,670.5 1369.9,670.5"/>
<polygon fill="#ffffbf" points="1223.5,564.7 1228.8,564.7 1228.8,570.6 1223.5,570.6"/>
<polygon fill="#ffffbf" points="924.1,670.5 930,670.5 930,676.4 924.1,676.4"/>
<polygon fill="#ffffbf" points="918.8,676.4 924.1,676.4 924.1,681.7 918.8,681.7"/>
<polygon fill="#ffffbf" points="910,687 918.8,687 918.8,692.9 910,692.9"/>
<polygon fill="#ffffbf" points="1470,831.1 1475.3,831.1 1475.3,836.6 1470,836.6"/>
<polygon fill="#fdae61" points="908.8,893.1 914.2,893.1 914.2,899.6 908.8,899.6"/>
<polygon fill="#a50026" points="914.1,893.1 924.7,893.1 924.7,899.6 914.1,899.6"/>
<polygon fill="#fdae61" points="924.6,893.1 977.1,893.1 977.1,899.6 924.6,899.6"/>
<polygon fill="#ffffbf" points="977,893.1 982.3,893.1 982.3,899.6 977,899.6"/>
<polygon fill="#abd9e9" points="982.3,893.1 987.6,893.1 987.6,899.6 982.3,899.6"/>
<polygon fill="#2c7bb6" points="987.5,893.1 1076.7,893.1 1076.7,899.6 987.5,899.6"/>
<polygon fill="#abd9e9" points="1076.6,893.1 1092.4,893.1 1092.4,899.6 1076.6,899.6"/>
<polygon fill="#ffffbf" points="1092.3,893.1 1113.3,893.1 1113.3,899.6 1092.3,899.6"/>
<polygon fill="#fdae61" points="1113.3,893.1 1160.5,893.1 1160.5,899.6 1113.3,899.6"/>
<polygon fill="#a50026" points="1160.5,893.1 1176.2,893.1 1176.2,899.6 1160.5,899.6"/>
<polygon fill="#2c7bb6" points="908.8,899.5 914.2,899.5 914.2,905.2 908.8,905.2"/>
<polygon fill="#fdae61" points="914.1,899.5 919.4,899.5 919.4,905.2 914.1,905.2"/>
<polygon fill="#a50026" points="919.4,899.5 924.7,899.5 924.7,905.2 919.4,905.2"/>
<polygon fill="#fdae61" points="924.6,899.5 977.1,899.5 977.1,905.2 924.6,905.2"/>
<polygon fill="#ffffbf" points="977,899.5 987.6,899.5 987.6,905.2 977,905.2"/>
<polygon fill="#abd9e9" points="987.5,899.5 998,899.5 998,905.2 987.5,905.2"/>
<polygon fill="#2c7bb6" points="998,899.5 1081.9,899.5 1081.9,905.2 998,905.2"/>
<polygon fill="#abd9e9" points="1081.8,899.5 1097.6,899.5 1097.6,905.2 1081.8,905.2"/>
<polygon fill="#ffffbf" points="1097.6,899.5 1113.3,899.5 1113.3,905.2 1097.6,905.2"/>
<polygon fill="#fdae61" points="1113.3,899.5 1160.5,899.5 1160.5,905.2 1113.3,905.2"/>
<polygon fill="#a50026" points="1160.5,899.5 1176.2,899.5 1176.2,905.2 1160.5,905.2"/>
<polygon fill="#abd9e9" points="908.8,905.1 919.4,905.1 919.4,910.7 908.8,910.7"/>
<polygon fill="#2c7bb6" points="919.4,905.1 924.7,905.1 924.7,910.7 919.4,910.7"/>
<polygon fill="#ffffbf" points="924.6,905.1 929.9,905.1 929.9,910.7 924.6,910.7"/>
<polygon fill="#fdae61" points="929.8,905.1 992.8,905.1 992.8,910.7 929.8,910.7"/>
<polygon fill="#ffffbf" points="992.7,905.1 998,905.1 998,910.7 992.7,910.7"/>
<polygon fill="#abd9e9" points="998,905.1 1024.2,905.1 1024.2,910.7 998,910.7"/>
<polygon fill="#2c7bb6" points="1024.2,905.1 1087.1,905.1 1087.1,910.7 1024.2,910.7"/>
<polygon fill="#abd9e9" points="1087.1,905.1 1102.9,905.1 1102.9,910.7 1087.1,910.7"/>
<polygon fill="#ffffbf" points="1102.8,905.1 1118.6,905.1 1118.6,910.7 1102.8,910.7"/>
<polygon fill="#fdae61" points="1118.5,905.1 1176.2,905.1 1176.2,910.7 1118.5,910.7"/>
<polygon fill="#2c7bb6" points="908.8,910.7 919.4,910.7 919.4,916.3 908.8,916.3"/>
<polygon fill="#abd9e9" points="919.4,910.7 929.9,910.7 929.9,916.3 919.4,916.3"/>
<polygon fill="#ffffbf" points="929.8,910.7 935.1,910.7 935.1,916.3 929.8,916.3"/>
<polygon fill="#fdae61" points="935.1,910.7 992.8,910.7 992.8,916.3 935.1,916.3"/>
<polygon fill="#ffffbf" points="992.7,910.7 1003.3,910.7 1003.3,916.3 992.7,916.3"/>
<polygon fill="#abd9e9" points="1003.2,910.7 1019,910.7 1019,916.3 1003.2,916.3"/>
<polygon fill="#fdae61" points="1018.9,910.7 1024.2,910.7 1024.2,916.3 1018.9,916.3"/>
<polygon fill="#abd9e9" points="1024.2,910.7 1029.5,910.7 1029.5,916.3 1024.2,916.3"/>
<polygon fill="#2c7bb6" points="1029.4,910.7 1092.4,910.7 1092.4,916.3 1029.4,916.3"/>
<polygon fill="#abd9e9" points="1092.3,910.7 1108.1,910.7 1108.1,916.3 1092.3,916.3"/>
<polygon fill="#ffffbf" points="1108,910.7 1123.8,910.7 1123.8,916.3 1108,916.3"/>
<polygon fill="#fdae61" points="1123.8,910.7 1150,910.7 1150,916.3 1123.8,916.3"/>
<polygon fill="#a50026" points="1150,910.7 1155.3,910.7 1155.3,916.3 1150,916.3"/>
<polygon fill="#fdae61" points="1155.2,910.7 1176.2,910.7 1176.2,916.3 1155.2,916.3"/>
<polygon fill="#abd9e9" points="914.1,916.3 919.4,916.3 919.4,921.9 914.1,921.9"/>
<polygon fill="#2c7bb6" points="919.4,916.3 935.1,916.3 935.1,921.9 919.4,921.9"/>
<polygon fill="#abd9e9" points="935.1,916.3 940.4,916.3 940.4,921.9 935.1,921.9"/>
<polygon fill="#fdae61" points="940.3,916.3 1003.3,916.3 1003.3,921.9 940.3,921.9"/>
<polygon fill="#ffffbf" points="1003.2,916.3 1029.5,916.3 1029.5,921.9 1003.2,921.9"/>
<polygon fill="#fdae61" points="1029.4,916.3 1034.7,916.3 1034.7,921.9 1029.4,921.9"/>
<polygon fill="#ffffbf" points="1034.7,916.3 1040,916.3 1040,921.9 1034.7,921.9"/>
<polygon fill="#abd9e9" points="1039.9,916.3 1045.2,916.3 1045.2,921.9 1039.9,921.9"/>
<polygon fill="#2c7bb6" points="1045.1,916.3 1097.6,916.3 1097.6,921.9 1045.1,921.9"/>
<polygon fill="#abd9e9" points="1097.6,916.3 1113.3,916.3 1113.3,921.9 1097.6,921.9"/>
<polygon fill="#ffffbf" points="1113.3,916.3 1129.1,916.3 1129.1,921.9 1113.3,921.9"/>
<polygon fill="#fdae61" points="1129,916.3 1176.2,916.3 1176.2,921.9 1129,921.9"/>
<polygon fill="#2c7bb6" points="924.6,921.9 940.4,921.9 940.4,927.5 924.6,927.5"/>
<polygon fill="#ffffbf" points="940.3,921.9 945.6,921.9 945.6,927.5 940.3,927.5"/>
<polygon fill="#a50026" points="945.6,921.9 950.9,921.9 950.9,927.5 945.6,927.5"/>
<polygon fill="#fdae61" points="950.8,921.9 966.6,921.9 966.6,927.5 950.8,927.5"/>
<polygon fill="#a50026" points="966.5,921.9 971.8,921.9 971.8,927.5 966.5,927.5"/>
<polygon fill="#fdae61" points="971.8,921.9 1013.8,921.9 1013.8,927.5 971.8,927.5"/>
<polygon fill="#ffffbf" points="1013.7,921.9 1024.2,921.9 1024.2,927.5 1013.7,927.5"/>
<polygon fill="#fdae61" points="1024.2,921.9 1029.5,921.9 1029.5,927.5 1024.2,927.5"/>
<polygon fill="#ffffbf" points="1029.4,921.9 1034.7,921.9 1034.7,927.5 1029.4,927.5"/>
<polygon fill="#fdae61" points="1034.7,921.9 1040,921.9 1040,927.5 1034.7,927.5"/>
<polygon fill="#ffffbf" points="1039.9,921.9 1050.4,921.9 1050.4,927.5 1039.9,927.5"/>
<polygon fill="#abd9e9" points="1050.4,921.9 1055.7,921.9 1055.7,927.5 1050.4,927.5"/>
<polygon fill="#2c7bb6" points="1055.6,921.9 1102.9,921.9 1102.9,927.5 1055.6,927.5"/>
<polygon fill="#abd9e9" points="1102.8,921.9 1118.6,921.9 1118.6,927.5 1102.8,927.5"/>
<polygon fill="#2c7bb6" points="1118.5,921.9 1123.8,921.9 1123.8,927.5 1118.5,927.5"/>
<polygon fill="#abd9e9" points="1123.8,921.9 1139.5,921.9 1139.5,927.5 1123.8,927.5"/>
<polygon fill="#ffffbf" points="1139.5,921.9 1150,921.9 1150,927.5 1139.5,927.5"/>
<polygon fill="#fdae61" points="1150,921.9 1160.5,921.9 1160.5,927.5 1150,927.5"/>
<polygon fill="#a50026" points="1160.5,921.9 1176.2,921.9 1176.2,927.5 1160.5,927.5"/>
<polygon fill="#2c7bb6" points="929.8,927.4 940.4,927.4 940.4,933.1 929.8,933.1"/>
<polygon fill="#abd9e9" points="940.3,927.4 945.6,927.4 945.6,933.1 940.3,933.1"/>
<polygon fill="#fdae61" points="945.6,927.4 966.6,927.4 966.6,933.1 945.6,933.1"/>
<polygon fill="#a50026" points="966.5,927.4 971.8,927.4 971.8,933.1 966.5,933.1"/>
<polygon fill="#fdae61" points="971.8,927.4 1013.8,927.4 1013.8,933.1 971.8,933.1"/>
<polygon fill="#ffffbf" points="1013.7,927.4 1019,927.4 1019,933.1 1013.7,933.1"/>
<polygon fill="#fdae61" points="1018.9,927.4 1024.2,927.4 1024.2,933.1 1018.9,933.1"/>
<polygon fill="#ffffbf" points="1024.2,927.4 1029.5,927.4 1029.5,933.1 1024.2,933.1"/>
<polygon fill="#fdae61" points="1029.4,927.4 1034.7,927.4 1034.7,933.1 1029.4,933.1"/>
<polygon fill="#ffffbf" points="1034.7,927.4 1040,927.4 1040,933.1 1034.7,933.1"/>
<polygon fill="#abd9e9" points="1039.9,927.4 1060.9,927.4 1060.9,933.1 1039.9,933.1"/>
<polygon fill="#2c7bb6" points="1060.9,927.4 1108.1,927.4 1108.1,933.1 1060.9,933.1"/>
<polygon fill="#abd9e9" points="1108,927.4 1118.6,927.4 1118.6,933.1 1108,933.1"/>
<polygon fill="#2c7bb6" points="1118.5,927.4 1123.8,927.4 1123.8,933.1 1118.5,933.1"/>
<polygon fill="#abd9e9" points="1123.8,927.4 1144.8,927.4 1144.8,933.1 1123.8,933.1"/>
<polygon fill="#ffffbf" points="1144.7,927.4 1155.3,927.4 1155.3,933.1 1144.7,933.1"/>
<polygon fill="#fdae61" points="1155.2,927.4 1160.5,927.4 1160.5,933.1 1155.2,933.1"/>
<polygon fill="#a50026" points="1160.5,927.4 1176.2,927.4 1176.2,933.1 1160.5,933.1"/>
<polygon fill="#2c7bb6" points="935.1,933 940.4,933 940.4,938.7 935.1,938.7"/>
<polygon fill="#abd9e9" points="940.3,933 945.6,933 945.6,938.7 940.3,938.7"/>
<polygon fill="#fdae61" points="945.6,933 966.6,933 966.6,938.7 945.6,938.7"/>
<polygon fill="#a50026" points="966.5,933 971.8,933 971.8,938.7 966.5,938.7"/>
<polygon fill="#fdae61" points="971.8,933 977.1,933 977.1,938.7 971.8,938.7"/>
<polygon fill="#a50026" points="977,933 998,933 998,938.7 977,938.7"/>
<polygon fill="#fdae61" points="998,933 1013.8,933 1013.8,938.7 998,938.7"/>
<polygon fill="#ffffbf" points="1013.7,933 1029.5,933 1029.5,938.7 1013.7,938.7"/>
<polygon fill="#fdae61" points="1029.4,933 1034.7,933 1034.7,938.7 1029.4,938.7"/>
<polygon fill="#ffffbf" points="1034.7,933 1040,933 1040,938.7 1034.7,938.7"/>
<polygon fill="#abd9e9" points="1039.9,933 1060.9,933 1060.9,938.7 1039.9,938.7"/>
<polygon fill="#2c7bb6" points="1060.9,933 1102.9,933 1102.9,938.7 1060.9,938.7"/>
<polygon fill="#abd9e9" points="1102.8,933 1108.1,933 1108.1,938.7 1102.8,938.7"/>
<polygon fill="#2c7bb6" points="1108,933 1123.8,933 1123.8,938.7 1108,938.7"/>
<polygon fill="#abd9e9" points="1123.8,933 1150,933 1150,938.7 1123.8,938.7"/>
<polygon fill="#ffffbf" points="1150,933 1160.5,933 1160.5,938.7 1150,938.7"/>
<polygon fill="#fdae61" points="1160.5,933 1176.2,933 1176.2,938.7 1160.5,938.7"/>
<polygon fill="#2c7bb6" points="935.1,938.6 940.4,938.6 940.4,944.3 935.1,944.3"/>
<polygon fill="#abd9e9" points="940.3,938.6 945.6,938.6 945.6,944.3 940.3,944.3"/>
<polygon fill="#ffffbf" points="945.6,938.6 950.9,938.6 950.9,944.3 945.6,944.3"/>
<polygon fill="#fdae61" points="950.8,938.6 982.3,938.6 982.3,944.3 950.8,944.3"/>
<polygon fill="#a50026" points="982.3,938.6 1019,938.6 1019,944.3 982.3,944.3"/>
<polygon fill="#fdae61" points="1018.9,938.6 1024.2,938.6 1024.2,944.3 1018.9,944.3"/>
<polygon fill="#ffffbf" points="1024.2,938.6 1045.2,938.6 1045.2,944.3 1024.2,944.3"/>
<polygon fill="#abd9e9" points="1045.1,938.6 1060.9,938.6 1060.9,944.3 1045.1,944.3"/>
<polygon fill="#2c7bb6" points="1060.9,938.6 1087.1,938.6 1087.1,944.3 1060.9,944.3"/>
<polygon fill="#abd9e9" points="1087.1,938.6 1102.9,938.6 1102.9,944.3 1087.1,944.3"/>
<polygon fill="#2c7bb6" points="1102.8,938.6 1134.3,938.6 1134.3,944.3 1102.8,944.3"/>
<polygon fill="#abd9e9" points="1134.2,938.6 1155.3,938.6 1155.3,944.3 1134.2,944.3"/>
<polygon fill="#ffffbf" points="1155.2,938.6 1165.7,938.6 1165.7,944.3 1155.2,944.3"/>
<polygon fill="#fdae61" points="1165.7,938.6 1176.2,938.6 1176.2,944.3 1165.7,944.3"/>
<polygon fill="#2c7bb6" points="935.1,944.2 940.4,944.2 940.4,949.8 935.1,949.8"/>
<polygon fill="#abd9e9" points="940.3,944.2 945.6,944.2 945.6,949.8 940.3,949.8"/>
<polygon fill="#ffffbf" points="945.6,944.2 950.9,944.2 950.9,949.8 945.6,949.8"/>
<polygon fill="#fdae61" points="950.8,944.2 987.6,944.2 987.6,949.8 950.8,949.8"/>
<polygon fill="#a50026" points="987.5,944.2 1019,944.2 1019,949.8 987.5,949.8"/>
<polygon fill="#fdae61" points="1018.9,944.2 1029.5,944.2 1029.5,949.8 1018.9,949.8"/>
<polygon fill="#ffffbf" points="1029.4,944.2 1045.2,944.2 1045.2,949.8 1029.4,949.8"/>
<polygon fill="#abd9e9" points="1045.1,944.2 1060.9,944.2 1060.9,949.8 1045.1,949.8"/>
<polygon fill="#2c7bb6" points="1060.9,944.2 1087.1,944.2 1087.1,949.8 1060.9,949.8"/>
<polygon fill="#abd9e9" points="1087.1,944.2 1108.1,944.2 1108.1,949.8 1087.1,949.8"/>
<polygon fill="#2c7bb6" points="1108,944.2 1134.3,944.2 1134.3,949.8 1108,949.8"/>
<polygon fill="#abd9e9" points="1134.2,944.2 1160.5,944.2 1160.5,949.8 1134.2,949.8"/>
<polygon fill="#ffffbf" points="1160.5,944.2 1176.2,944.2 1176.2,949.8 1160.5,949.8"/>
<polygon fill="#2c7bb6" points="935.1,949.8 940.4,949.8 940.4,955.4 935.1,955.4"/>
<polygon fill="#abd9e9" points="940.3,949.8 950.9,949.8 950.9,955.4 940.3,955.4"/>
<polygon fill="#ffffbf" points="950.8,949.8 956.1,949.8 956.1,955.4 950.8,955.4"/>
<polygon fill="#fdae61" points="956,949.8 998,949.8 998,955.4 956,955.4"/>
<polygon fill="#a50026" points="998,949.8 1008.5,949.8 1008.5,955.4 998,955.4"/>
<polygon fill="#fdae61" points="1008.5,949.8 1013.8,949.8 1013.8,955.4 1008.5,955.4"/>
<polygon fill="#a50026" points="1013.7,949.8 1024.2,949.8 1024.2,955.4 1013.7,955.4"/>
<polygon fill="#fdae61" points="1024.2,949.8 1040,949.8 1040,955.4 1024.2,955.4"/>
<polygon fill="#ffffbf" points="1039.9,949.8 1050.4,949.8 1050.4,955.4 1039.9,955.4"/>
<polygon fill="#abd9e9" points="1050.4,949.8 1060.9,949.8 1060.9,955.4 1050.4,955.4"/>
<polygon fill="#2c7bb6" points="1060.9,949.8 1087.1,949.8 1087.1,955.4 1060.9,955.4"/>
<polygon fill="#abd9e9" points="1087.1,949.8 1123.8,949.8 1123.8,955.4 1087.1,955.4"/>
<polygon fill="#2c7bb6" points="1123.8,949.8 1129.1,949.8 1129.1,955.4 1123.8,955.4"/>
<polygon fill="#abd9e9" points="1129,949.8 1160.5,949.8 1160.5,955.4 1129,955.4"/>
<polygon fill="#ffffbf" points="1160.5,949.8 1176.2,949.8 1176.2,955.4 1160.5,955.4"/>
<polygon fill="#abd9e9" points="935.1,955.4 950.9,955.4 950.9,961 935.1,961"/>
<polygon fill="#ffffbf" points="950.8,955.4 961.3,955.4 961.3,961 950.8,961"/>
<polygon fill="#fdae61" points="961.3,955.4 966.6,955.4 966.6,961 961.3,961"/>
<polygon fill="#ffffbf" points="966.5,955.4 971.8,955.4 971.8,961 966.5,961"/>
<polygon fill="#fdae61" points="971.8,955.4 992.8,955.4 992.8,961 971.8,961"/>
<polygon fill="#a50026" points="992.7,955.4 998,955.4 998,961 992.7,961"/>
<polygon fill="#fdae61" points="998,955.4 1019,955.4 1019,961 998,961"/>
<polygon fill="#a50026" points="1018.9,955.4 1029.5,955.4 1029.5,961 1018.9,961"/>
<polygon fill="#fdae61" points="1029.4,955.4 1045.2,955.4 1045.2,961 1029.4,961"/>
<polygon fill="#ffffbf" points="1045.1,955.4 1050.4,955.4 1050.4,961 1045.1,961"/>
<polygon fill="#abd9e9" points="1050.4,955.4 1060.9,955.4 1060.9,961 1050.4,961"/>
<polygon fill="#2c7bb6" points="1060.9,955.4 1087.1,955.4 1087.1,961 1060.9,961"/>
<polygon fill="#abd9e9" points="1087.1,955.4 1160.5,955.4 1160.5,961 1087.1,961"/>
<polygon fill="#ffffbf" points="1160.5,955.4 1176.2,955.4 1176.2,961 1160.5,961"/>
<polygon fill="#2c7bb6" points="935.1,961 950.9,961 950.9,966.6 935.1,966.6"/>
<polygon fill="#abd9e9" points="950.8,961 956.1,961 956.1,966.6 950.8,966.6"/>
<polygon fill="#ffffbf" points="956,961 966.6,961 966.6,966.6 956,966.6"/>
<polygon fill="#fdae61" points="966.5,961 971.8,961 971.8,966.6 966.5,966.6"/>
<polygon fill="#ffffbf" points="971.8,961 977.1,961 977.1,966.6 971.8,966.6"/>
<polygon fill="#fdae61" points="977,961 1019,961 1019,966.6 977,966.6"/>
<polygon fill="#a50026" points="1018.9,961 1040,961 1040,966.6 1018.9,966.6"/>
<polygon fill="#fdae61" points="1039.9,961 1045.2,961 1045.2,966.6 1039.9,966.6"/>
<polygon fill="#ffffbf" points="1045.1,961 1050.4,961 1050.4,966.6 1045.1,966.6"/>
<polygon fill="#abd9e9" points="1050.4,961 1060.9,961 1060.9,966.6 1050.4,966.6"/>
<polygon fill="#2c7bb6" points="1060.9,961 1087.1,961 1087.1,966.6 1060.9,966.6"/>
<polygon fill="#abd9e9" points="1087.1,961 1155.3,961 1155.3,966.6 1087.1,966.6"/>
<polygon fill="#ffffbf" points="1155.2,961 1176.2,961 1176.2,966.6 1155.2,966.6"/>
<polygon fill="#abd9e9" points="935.1,966.5 940.4,966.5 940.4,972.2 935.1,972.2"/>
<polygon fill="#2c7bb6" points="940.3,966.5 945.6,966.5 945.6,972.2 940.3,972.2"/>
<polygon fill="#abd9e9" points="945.6,966.5 956.1,966.5 956.1,972.2 945.6,972.2"/>
<polygon fill="#ffffbf" points="956,966.5 966.6,966.5 966.6,972.2 956,972.2"/>
<polygon fill="#fdae61" points="966.5,966.5 982.3,966.5 982.3,972.2 966.5,972.2"/>
<polygon fill="#abd9e9" points="982.3,966.5 998,966.5 998,972.2 982.3,972.2"/>
<polygon fill="#2c7bb6" points="998,966.5 1003.3,966.5 1003.3,972.2 998,972.2"/>
<polygon fill="#abd9e9" points="1003.2,966.5 1008.5,966.5 1008.5,972.2 1003.2,972.2"/>
<polygon fill="#ffffbf" points="1008.5,966.5 1013.8,966.5 1013.8,972.2 1008.5,972.2"/>
<polygon fill="#fdae61" points="1013.7,966.5 1019,966.5 1019,972.2 1013.7,972.2"/>
<polygon fill="#a50026" points="1018.9,966.5 1034.7,966.5 1034.7,972.2 1018.9,972.2"/>
<polygon fill="#fdae61" points="1034.7,966.5 1045.2,966.5 1045.2,972.2 1034.7,972.2"/>
<polygon fill="#ffffbf" points="1045.1,966.5 1050.4,966.5 1050.4,972.2 1045.1,972.2"/>
<polygon fill="#abd9e9" points="1050.4,966.5 1060.9,966.5 1060.9,972.2 1050.4,972.2"/>
<polygon fill="#2c7bb6" points="1060.9,966.5 1092.4,966.5 1092.4,972.2 1060.9,972.2"/>
<polygon fill="#abd9e9" points="1092.3,966.5 1097.6,966.5 1097.6,972.2 1092.3,972.2"/>
<polygon fill="#2c7bb6" points="1097.6,966.5 1102.9,966.5 1102.9,972.2 1097.6,972.2"/>
<polygon fill="#abd9e9" points="1102.8,966.5 1160.5,966.5 1160.5,972.2 1102.8,972.2"/>
<polygon fill="#ffffbf" points="1160.5,966.5 1176.2,966.5 1176.2,972.2 1160.5,972.2"/>
<polygon fill="#abd9e9" points="935.1,972.1 945.6,972.1 945.6,977.8 935.1,977.8"/>
<polygon fill="#2c7bb6" points="945.6,972.1 956.1,972.1 956.1,977.8 945.6,977.8"/>
<polygon fill="#ffffbf" points="956,972.1 982.3,972.1 982.3,977.8 956,977.8"/>
<polygon fill="#abd9e9" points="982.3,972.1 992.8,972.1 992.8,977.8 982.3,977.8"/>
<polygon fill="#2c7bb6" points="992.7,972.1 1008.5,972.1 1008.5,977.8 992.7,977.8"/>
<polygon fill="#ffffbf" points="1008.5,972.1 1013.8,972.1 1013.8,977.8 1008.5,977.8"/>
<polygon fill="#fdae61" points="1013.7,972.1 1024.2,972.1 1024.2,977.8 1013.7,977.8"/>
<polygon fill="#a50026" points="1024.2,972.1 1040,972.1 1040,977.8 1024.2,977.8"/>
<polygon fill="#fdae61" points="1039.9,972.1 1045.2,972.1 1045.2,977.8 1039.9,977.8"/>
<polygon fill="#ffffbf" points="1045.1,972.1 1050.4,972.1 1050.4,977.8 1045.1,977.8"/>
<polygon fill="#abd9e9" points="1050.4,972.1 1060.9,972.1 1060.9,977.8 1050.4,977.8"/>
<polygon fill="#2c7bb6" points="1060.9,972.1 1108.1,972.1 1108.1,977.8 1060.9,977.8"/>
<polygon fill="#abd9e9" points="1108,972.1 1176.2,972.1 1176.2,977.8 1108,977.8"/>
<polygon fill="#abd9e9" points="935.1,977.7 945.6,977.7 945.6,983.4 935.1,983.4"/>
<polygon fill="#2c7bb6" points="945.6,977.7 956.1,977.7 956.1,983.4 945.6,983.4"/>
<polygon fill="#abd9e9" points="956,977.7 961.3,977.7 961.3,983.4 956,983.4"/>
<polygon fill="#ffffbf" points="961.3,977.7 971.8,977.7 971.8,983.4 961.3,983.4"/>
<polygon fill="#fdae61" points="971.8,977.7 977.1,977.7 977.1,983.4 971.8,983.4"/>
<polygon fill="#ffffbf" points="977,977.7 987.6,977.7 987.6,983.4 977,983.4"/>
<polygon fill="#abd9e9" points="987.5,977.7 998,977.7 998,983.4 987.5,983.4"/>
<polygon fill="#2c7bb6" points="998,977.7 1003.3,977.7 1003.3,983.4 998,983.4"/>
<polygon fill="#abd9e9" points="1003.2,977.7 1008.5,977.7 1008.5,983.4 1003.2,983.4"/>
<polygon fill="#ffffbf" points="1008.5,977.7 1019,977.7 1019,983.4 1008.5,983.4"/>
<polygon fill="#a50026" points="1018.9,977.7 1045.2,977.7 1045.2,983.4 1018.9,983.4"/>
<polygon fill="#ffffbf" points="1045.1,977.7 1050.4,977.7 1050.4,983.4 1045.1,983.4"/>
<polygon fill="#abd9e9" points="1050.4,977.7 1060.9,977.7 1060.9,983.4 1050.4,983.4"/>
<polygon fill="#2c7bb6" points="1060.9,977.7 1087.1,977.7 1087.1,983.4 1060.9,983.4"/>
<polygon fill="#abd9e9" points="1087.1,977.7 1102.9,977.7 1102.9,983.4 1087.1,983.4"/>
<polygon fill="#2c7bb6" points="1102.8,977.7 1113.3,977.7 1113.3,983.4 1102.8,983.4"/>
<polygon fill="#abd9e9" points="1113.3,977.7 1176.2,977.7 1176.2,983.4 1113.3,983.4"/>
<polygon fill="#abd9e9" points="935.1,983.3 940.4,983.3 940.4,988.9 935.1,988.9"/>
<polygon fill="#2c7bb6" points="940.3,983.3 956.1,983.3 956.1,988.9 940.3,988.9"/>
<polygon fill="#abd9e9" points="956,983.3 966.6,983.3 966.6,988.9 956,988.9"/>
<polygon fill="#ffffbf" points="966.5,983.3 982.3,983.3 982.3,988.9 966.5,988.9"/>
<polygon fill="#fdae61" points="982.3,983.3 992.8,983.3 992.8,988.9 982.3,988.9"/>
<polygon fill="#ffffbf" points="992.7,983.3 998,983.3 998,988.9 992.7,988.9"/>
<polygon fill="#abd9e9" points="998,983.3 1008.5,983.3 1008.5,988.9 998,988.9"/>
<polygon fill="#ffffbf" points="1008.5,983.3 1013.8,983.3 1013.8,988.9 1008.5,988.9"/>
<polygon fill="#fdae61" points="1013.7,983.3 1024.2,983.3 1024.2,988.9 1013.7,988.9"/>
<polygon fill="#a50026" points="1024.2,983.3 1040,983.3 1040,988.9 1024.2,988.9"/>
<polygon fill="#fdae61" points="1039.9,983.3 1045.2,983.3 1045.2,988.9 1039.9,988.9"/>
<polygon fill="#ffffbf" points="1045.1,983.3 1050.4,983.3 1050.4,988.9 1045.1,988.9"/>
<polygon fill="#abd9e9" points="1050.4,983.3 1060.9,983.3 1060.9,988.9 1050.4,988.9"/>
<polygon fill="#2c7bb6" points="1060.9,983.3 1071.4,983.3 1071.4,988.9 1060.9,988.9"/>
<polygon fill="#abd9e9" points="1071.4,983.3 1076.7,983.3 1076.7,988.9 1071.4,988.9"/>
<polygon fill="#2c7bb6" points="1076.6,983.3 1087.1,983.3 1087.1,988.9 1076.6,988.9"/>
<polygon fill="#abd9e9" points="1087.1,983.3 1092.4,983.3 1092.4,988.9 1087.1,988.9"/>
<polygon fill="#2c7bb6" points="1092.3,983.3 1097.6,983.3 1097.6,988.9 1092.3,988.9"/>
<polygon fill="#abd9e9" points="1097.6,983.3 1102.9,983.3 1102.9,988.9 1097.6,988.9"/>
<polygon fill="#2c7bb6" points="1102.8,983.3 1113.3,983.3 1113.3,988.9 1102.8,988.9"/>
<polygon fill="#abd9e9" points="1113.3,983.3 1176.2,983.3 1176.2,988.9 1113.3,988.9"/>
<polygon fill="#2c7bb6" points="935.1,988.9 961.3,988.9 961.3,994.5 935.1,994.5"/>
<polygon fill="#ffffbf" points="961.3,988.9 977.1,988.9 977.1,994.5 961.3,994.5"/>
<polygon fill="#fdae61" points="977,988.9 1003.3,988.9 1003.3,994.5 977,994.5"/>
<polygon fill="#ffffbf" points="1003.2,988.9 1013.8,988.9 1013.8,994.5 1003.2,994.5"/>
<polygon fill="#fdae61" points="1013.7,988.9 1024.2,988.9 1024.2,994.5 1013.7,994.5"/>
<polygon fill="#a50026" points="1024.2,988.9 1040,988.9 1040,994.5 1024.2,994.5"/>
<polygon fill="#fdae61" points="1039.9,988.9 1045.2,988.9 1045.2,994.5 1039.9,994.5"/>
<polygon fill="#ffffbf" points="1045.1,988.9 1050.4,988.9 1050.4,994.5 1045.1,994.5"/>
<polygon fill="#abd9e9" points="1050.4,988.9 1066.2,988.9 1066.2,994.5 1050.4,994.5"/>
<polygon fill="#2c7bb6" points="1066.1,988.9 1081.9,988.9 1081.9,994.5 1066.1,994.5"/>
<polygon fill="#abd9e9" points="1081.8,988.9 1087.1,988.9 1087.1,994.5 1081.8,994.5"/>
<polygon fill="#2c7bb6" points="1087.1,988.9 1092.4,988.9 1092.4,994.5 1087.1,994.5"/>
<polygon fill="#abd9e9" points="1092.3,988.9 1097.6,988.9 1097.6,994.5 1092.3,994.5"/>
<polygon fill="#2c7bb6" points="1097.6,988.9 1113.3,988.9 1113.3,994.5 1097.6,994.5"/>
<polygon fill="#abd9e9" points="1113.3,988.9 1176.2,988.9 1176.2,994.5 1113.3,994.5"/>
<polygon fill="#2c7bb6" points="935.1,994.5 961.3,994.5 961.3,1000.1 935.1,1000.1"/>
<polygon fill="#ffffbf" points="961.3,994.5 977.1,994.5 977.1,1000.1 961.3,1000.1"/>
<polygon fill="#fdae61" points="977,994.5 998,994.5 998,1000.1 977,1000.1"/>
<polygon fill="#ffffbf" points="998,994.5 1008.5,994.5 1008.5,1000.1 998,1000.1"/>
<polygon fill="#fdae61" points="1008.5,994.5 1029.5,994.5 1029.5,1000.1 1008.5,1000.1"/>
<polygon fill="#a50026" points="1029.4,994.5 1034.7,994.5 1034.7,1000.1 1029.4,1000.1"/>
<polygon fill="#fdae61" points="1034.7,994.5 1040,994.5 1040,1000.1 1034.7,1000.1"/>
<polygon fill="#a50026" points="1039.9,994.5 1045.2,994.5 1045.2,1000.1 1039.9,1000.1"/>
<polygon fill="#fdae61" points="1045.1,994.5 1050.4,994.5 1050.4,1000.1 1045.1,1000.1"/>
<polygon fill="#ffffbf" points="1050.4,994.5 1055.7,994.5 1055.7,1000.1 1050.4,1000.1"/>
<polygon fill="#abd9e9" points="1055.6,994.5 1060.9,994.5 1060.9,1000.1 1055.6,1000.1"/>
<polygon fill="#2c7bb6" points="1060.9,994.5 1066.2,994.5 1066.2,1000.1 1060.9,1000.1"/>
<polygon fill="#abd9e9" points="1066.1,994.5 1076.7,994.5 1076.7,1000.1 1066.1,1000.1"/>
<polygon fill="#2c7bb6" points="1076.6,994.5 1081.9,994.5 1081.9,1000.1 1076.6,1000.1"/>
<polygon fill="#abd9e9" points="1081.8,994.5 1087.1,994.5 1087.1,1000.1 1081.8,1000.1"/>
<polygon fill="#2c7bb6" points="1087.1,994.5 1113.3,994.5 1113.3,1000.1 1087.1,1000.1"/>
<polygon fill="#abd9e9" points="1113.3,994.5 1129.1,994.5 1129.1,1000.1 1113.3,1000.1"/>
<polygon fill="#2c7bb6" points="1129,994.5 1139.5,994.5 1139.5,1000.1 1129,1000.1"/>
<polygon fill="#abd9e9" points="1139.5,994.5 1150,994.5 1150,1000.1 1139.5,1000.1"/>
<polygon fill="#2c7bb6" points="1150,994.5 1155.3,994.5 1155.3,1000.1 1150,1000.1"/>
<polygon fill="#abd9e9" points="1155.2,994.5 1176.2,994.5 1176.2,1000.1 1155.2,1000.1"/>
<polygon fill="#abd9e9" points="935.1,1000.1 950.9,1000.1 950.9,1005.7 935.1,1005.7"/>
<polygon fill="#2c7bb6" points="950.8,1000.1 956.1,1000.1 956.1,1005.7 950.8,1005.7"/>
<polygon fill="#abd9e9" points="956,1000.1 961.3,1000.1 961.3,1005.7 956,1005.7"/>
<polygon fill="#ffffbf" points="961.3,1000.1 982.3,1000.1 982.3,1005.7 961.3,1005.7"/>
<polygon fill="#fdae61" points="982.3,1000.1 987.6,1000.1 987.6,1005.7 982.3,1005.7"/>
<polygon fill="#ffffbf" points="987.5,1000.1 998,1000.1 998,1005.7 987.5,1005.7"/>
<polygon fill="#fdae61" points="998,1000.1 1029.5,1000.1 1029.5,1005.7 998,1005.7"/>
<polygon fill="#a50026" points="1029.4,1000.1 1034.7,1000.1 1034.7,1005.7 1029.4,1005.7"/>
<polygon fill="#fdae61" points="1034.7,1000.1 1040,1000.1 1040,1005.7 1034.7,1005.7"/>
<polygon fill="#a50026" points="1039.9,1000.1 1045.2,1000.1 1045.2,1005.7 1039.9,1005.7"/>
<polygon fill="#fdae61" points="1045.1,1000.1 1055.7,1000.1 1055.7,1005.7 1045.1,1005.7"/>
<polygon fill="#abd9e9" points="1055.6,1000.1 1081.9,1000.1 1081.9,1005.7 1055.6,1005.7"/>
<polygon fill="#2c7bb6" points="1081.8,1000.1 1176.2,1000.1 1176.2,1005.7 1081.8,1005.7"/>
<polygon fill="#abd9e9" points="935.1,1005.6 940.4,1005.6 940.4,1011.3 935.1,1011.3"/>
<polygon fill="#2c7bb6" points="940.3,1005.6 945.6,1005.6 945.6,1011.3 940.3,1011.3"/>
<polygon fill="#ffffbf" points="945.6,1005.6 950.9,1005.6 950.9,1011.3 945.6,1011.3"/>
<polygon fill="#abd9e9" points="950.8,1005.6 966.6,1005.6 966.6,1011.3 950.8,1011.3"/>
<polygon fill="#ffffbf" points="966.5,1005.6 971.8,1005.6 971.8,1011.3 966.5,1011.3"/>
<polygon fill="#fdae61" points="971.8,1005.6 977.1,1005.6 977.1,1011.3 971.8,1011.3"/>
<polygon fill="#ffffbf" points="977,1005.6 982.3,1005.6 982.3,1011.3 977,1011.3"/>
<polygon fill="#fdae61" points="982.3,1005.6 1024.2,1005.6 1024.2,1011.3 982.3,1011.3"/>
<polygon fill="#a50026" points="1024.2,1005.6 1040,1005.6 1040,1011.3 1024.2,1011.3"/>
<polygon fill="#fdae61" points="1039.9,1005.6 1055.7,1005.6 1055.7,1011.3 1039.9,1011.3"/>
<polygon fill="#abd9e9" points="1055.6,1005.6 1060.9,1005.6 1060.9,1011.3 1055.6,1011.3"/>
<polygon fill="#2c7bb6" points="1060.9,1005.6 1071.4,1005.6 1071.4,1011.3 1060.9,1011.3"/>
<polygon fill="#abd9e9" points="1071.4,1005.6 1076.7,1005.6 1076.7,1011.3 1071.4,1011.3"/>
<polygon fill="#2c7bb6" points="1076.6,1005.6 1155.3,1005.6 1155.3,1011.3 1076.6,1011.3"/>
<polygon fill="#abd9e9" points="1155.2,1005.6 1160.5,1005.6 1160.5,1011.3 1155.2,1011.3"/>
<polygon fill="#2c7bb6" points="1160.5,1005.6 1176.2,1005.6 1176.2,1011.3 1160.5,1011.3"/>
<polygon fill="#abd9e9" points="935.1,1011.2 945.6,1011.2 945.6,1016.9 935.1,1016.9"/>
<polygon fill="#ffffbf" points="945.6,1011.2 950.9,1011.2 950.9,1016.9 945.6,1016.9"/>
<polygon fill="#abd9e9" points="950.8,1011.2 956.1,1011.2 956.1,1016.9 950.8,1016.9"/>
<polygon fill="#ffffbf" points="956,1011.2 971.8,1011.2 971.8,1016.9 956,1016.9"/>
<polygon fill="#fdae61" points="971.8,1011.2 977.1,1011.2 977.1,1016.9 971.8,1016.9"/>
<polygon fill="#ffffbf" points="977,1011.2 982.3,1011.2 982.3,1016.9 977,1016.9"/>
<polygon fill="#fdae61" points="982.3,1011.2 1024.2,1011.2 1024.2,1016.9 982.3,1016.9"/>
<polygon fill="#a50026" points="1024.2,1011.2 1045.2,1011.2 1045.2,1016.9 1024.2,1016.9"/>
<polygon fill="#fdae61" points="1045.1,1011.2 1050.4,1011.2 1050.4,1016.9 1045.1,1016.9"/>
<polygon fill="#ffffbf" points="1050.4,1011.2 1055.7,1011.2 1055.7,1016.9 1050.4,1016.9"/>
<polygon fill="#2c7bb6" points="1055.6,1011.2 1071.4,1011.2 1071.4,1016.9 1055.6,1016.9"/>
<polygon fill="#abd9e9" points="1071.4,1011.2 1076.7,1011.2 1076.7,1016.9 1071.4,1016.9"/>
<polygon fill="#2c7bb6" points="1076.6,1011.2 1160.5,1011.2 1160.5,1016.9 1076.6,1016.9"/>
<polygon fill="#abd9e9" points="1160.5,1011.2 1176.2,1011.2 1176.2,1016.9 1160.5,1016.9"/>
<polygon fill="#abd9e9" points="935.1,1016.8 945.6,1016.8 945.6,1022.5 935.1,1022.5"/>
<polygon fill="#ffffbf" points="945.6,1016.8 977.1,1016.8 977.1,1022.5 945.6,1022.5"/>
<polygon fill="#fdae61" points="977,1016.8 982.3,1016.8 982.3,1022.5 977,1022.5"/>
<polygon fill="#ffffbf" points="982.3,1016.8 992.8,1016.8 992.8,1022.5 982.3,1022.5"/>
<polygon fill="#fdae61" points="992.7,1016.8 1034.7,1016.8 1034.7,1022.5 992.7,1022.5"/>
<polygon fill="#a50026" points="1034.7,1016.8 1045.2,1016.8 1045.2,1022.5 1034.7,1022.5"/>
<polygon fill="#abd9e9" points="1045.1,1016.8 1055.7,1016.8 1055.7,1022.5 1045.1,1022.5"/>
<polygon fill="#2c7bb6" points="1055.6,1016.8 1176.2,1016.8 1176.2,1022.5 1055.6,1022.5"/>
<polygon fill="#abd9e9" points="935.1,1022.4 945.6,1022.4 945.6,1028 935.1,1028"/>
<polygon fill="#ffffbf" points="945.6,1022.4 977.1,1022.4 977.1,1028 945.6,1028"/>
<polygon fill="#fdae61" points="977,1022.4 982.3,1022.4 982.3,1028 977,1028"/>
<polygon fill="#ffffbf" points="982.3,1022.4 987.6,1022.4 987.6,1028 982.3,1028"/>
<polygon fill="#abd9e9" points="987.5,1022.4 992.8,1022.4 992.8,1028 987.5,1028"/>
<polygon fill="#ffffbf" points="992.7,1022.4 1003.3,1022.4 1003.3,1028 992.7,1028"/>
<polygon fill="#fdae61" points="1003.2,1022.4 1024.2,1022.4 1024.2,1028 1003.2,1028"/>
<polygon fill="#a50026" points="1024.2,1022.4 1045.2,1022.4 1045.2,1028 1024.2,1028"/>
<polygon fill="#fdae61" points="1045.1,1022.4 1050.4,1022.4 1050.4,1028 1045.1,1028"/>
<polygon fill="#abd9e9" points="1050.4,1022.4 1060.9,1022.4 1060.9,1028 1050.4,1028"/>
<polygon fill="#2c7bb6" points="1060.9,1022.4 1176.2,1022.4 1176.2,1028 1060.9,1028"/>
<polygon fill="#abd9e9" points="929.8,1028 935.1,1028 935.1,1033.6 929.8,1033.6"/>
<polygon fill="#fdae61" points="935.1,1028 940.4,1028 940.4,1033.6 935.1,1033.6"/>
<polygon fill="#abd9e9" points="940.3,1028 950.9,1028 950.9,1033.6 940.3,1033.6"/>
<polygon fill="#2c7bb6" points="950.8,1028 956.1,1028 956.1,1033.6 950.8,1033.6"/>
<polygon fill="#abd9e9" points="956,1028 977.1,1028 977.1,1033.6 956,1033.6"/>
<polygon fill="#fdae61" points="977,1028 982.3,1028 982.3,1033.6 977,1033.6"/>
<polygon fill="#ffffbf" points="982.3,1028 1003.3,1028 1003.3,1033.6 982.3,1033.6"/>
<polygon fill="#fdae61" points="1003.2,1028 1029.5,1028 1029.5,1033.6 1003.2,1033.6"/>
<polygon fill="#a50026" points="1029.4,1028 1045.2,1028 1045.2,1033.6 1029.4,1033.6"/>
<polygon fill="#abd9e9" points="1045.1,1028 1066.2,1028 1066.2,1033.6 1045.1,1033.6"/>
<polygon fill="#2c7bb6" points="1066.1,1028 1071.4,1028 1071.4,1033.6 1066.1,1033.6"/>
<polygon fill="#abd9e9" points="1071.4,1028 1076.7,1028 1076.7,1033.6 1071.4,1033.6"/>
<polygon fill="#2c7bb6" points="1076.6,1028 1176.2,1028 1176.2,1033.6 1076.6,1033.6"/>
<polygon fill="#abd9e9" points="929.8,1033.6 935.1,1033.6 935.1,1039.2 929.8,1039.2"/>
<polygon fill="#fdae61" points="935.1,1033.6 940.4,1033.6 940.4,1039.2 935.1,1039.2"/>
<polygon fill="#ffffbf" points="940.3,1033.6 945.6,1033.6 945.6,1039.2 940.3,1039.2"/>
<polygon fill="#abd9e9" points="945.6,1033.6 950.9,1033.6 950.9,1039.2 945.6,1039.2"/>
<polygon fill="#2c7bb6" points="950.8,1033.6 956.1,1033.6 956.1,1039.2 950.8,1039.2"/>
<polygon fill="#abd9e9" points="956,1033.6 971.8,1033.6 971.8,1039.2 956,1039.2"/>
<polygon fill="#ffffbf" points="971.8,1033.6 1003.3,1033.6 1003.3,1039.2 971.8,1039.2"/>
<polygon fill="#fdae61" points="1003.2,1033.6 1034.7,1033.6 1034.7,1039.2 1003.2,1039.2"/>
<polygon fill="#a50026" points="1034.7,1033.6 1045.2,1033.6 1045.2,1039.2 1034.7,1039.2"/>
<polygon fill="#ffffbf" points="1045.1,1033.6 1050.4,1033.6 1050.4,1039.2 1045.1,1039.2"/>
<polygon fill="#abd9e9" points="1050.4,1033.6 1076.7,1033.6 1076.7,1039.2 1050.4,1039.2"/>
<polygon fill="#2c7bb6" points="1076.6,1033.6 1176.2,1033.6 1176.2,1039.2 1076.6,1039.2"/>
<polygon fill="#ffffbf" points="929.8,1039.2 945.6,1039.2 945.6,1044.8 929.8,1044.8"/>
<polygon fill="#abd9e9" points="945.6,1039.2 956.1,1039.2 956.1,1044.8 945.6,1044.8"/>
<polygon fill="#ffffbf" points="956,1039.2 971.8,1039.2 971.8,1044.8 956,1044.8"/>
<polygon fill="#abd9e9" points="971.8,1039.2 977.1,1039.2 977.1,1044.8 971.8,1044.8"/>
<polygon fill="#ffffbf" points="977,1039.2 992.8,1039.2 992.8,1044.8 977,1044.8"/>
<polygon fill="#abd9e9" points="992.7,1039.2 998,1039.2 998,1044.8 992.7,1044.8"/>
<polygon fill="#ffffbf" points="998,1039.2 1003.3,1039.2 1003.3,1044.8 998,1044.8"/>
<polygon fill="#fdae61" points="1003.2,1039.2 1034.7,1039.2 1034.7,1044.8 1003.2,1044.8"/>
<polygon fill="#a50026" points="1034.7,1039.2 1045.2,1039.2 1045.2,1044.8 1034.7,1044.8"/>
<polygon fill="#fdae61" points="1045.1,1039.2 1050.4,1039.2 1050.4,1044.8 1045.1,1044.8"/>
<polygon fill="#abd9e9" points="1050.4,1039.2 1081.9,1039.2 1081.9,1044.8 1050.4,1044.8"/>
<polygon fill="#2c7bb6" points="1081.8,1039.2 1176.2,1039.2 1176.2,1044.8 1081.8,1044.8"/>
<polygon fill="#ffffbf" points="929.8,1044.7 935.1,1044.7 935.1,1050.4 929.8,1050.4"/>
<polygon fill="#abd9e9" points="935.1,1044.7 956.1,1044.7 956.1,1050.4 935.1,1050.4"/>
<polygon fill="#ffffbf" points="956,1044.7 971.8,1044.7 971.8,1050.4 956,1050.4"/>
<polygon fill="#abd9e9" points="971.8,1044.7 977.1,1044.7 977.1,1050.4 971.8,1050.4"/>
<polygon fill="#ffffbf" points="977,1044.7 987.6,1044.7 987.6,1050.4 977,1050.4"/>
<polygon fill="#abd9e9" points="987.5,1044.7 1008.5,1044.7 1008.5,1050.4 987.5,1050.4"/>
<polygon fill="#ffffbf" points="1008.5,1044.7 1013.8,1044.7 1013.8,1050.4 1008.5,1050.4"/>
<polygon fill="#fdae61" points="1013.7,1044.7 1034.7,1044.7 1034.7,1050.4 1013.7,1050.4"/>
<polygon fill="#a50026" points="1034.7,1044.7 1040,1044.7 1040,1050.4 1034.7,1050.4"/>
<polygon fill="#fdae61" points="1039.9,1044.7 1045.2,1044.7 1045.2,1050.4 1039.9,1050.4"/>
<polygon fill="#abd9e9" points="1045.1,1044.7 1076.7,1044.7 1076.7,1050.4 1045.1,1050.4"/>
<polygon fill="#2c7bb6" points="1076.6,1044.7 1176.2,1044.7 1176.2,1050.4 1076.6,1050.4"/>
<polygon fill="#abd9e9" points="929.8,1050.3 950.9,1050.3 950.9,1056 929.8,1056"/>
<polygon fill="#ffffbf" points="950.8,1050.3 982.3,1050.3 982.3,1056 950.8,1056"/>
<polygon fill="#abd9e9" points="982.3,1050.3 1008.5,1050.3 1008.5,1056 982.3,1056"/>
<polygon fill="#ffffbf" points="1008.5,1050.3 1013.8,1050.3 1013.8,1056 1008.5,1056"/>
<polygon fill="#fdae61" points="1013.7,1050.3 1034.7,1050.3 1034.7,1056 1013.7,1056"/>
<polygon fill="#a50026" points="1034.7,1050.3 1040,1050.3 1040,1056 1034.7,1056"/>
<polygon fill="#fdae61" points="1039.9,1050.3 1045.2,1050.3 1045.2,1056 1039.9,1056"/>
<polygon fill="#abd9e9" points="1045.1,1050.3 1076.7,1050.3 1076.7,1056 1045.1,1056"/>
<polygon fill="#2c7bb6" points="1076.6,1050.3 1176.2,1050.3 1176.2,1056 1076.6,1056"/>
<polygon fill="#fdae61" points="929.8,1055.9 935.1,1055.9 935.1,1061.6 929.8,1061.6"/>
<polygon fill="#2c7bb6" points="935.1,1055.9 950.9,1055.9 950.9,1061.6 935.1,1061.6"/>
<polygon fill="#ffffbf" points="950.8,1055.9 966.6,1055.9 966.6,1061.6 950.8,1061.6"/>
<polygon fill="#abd9e9" points="966.5,1055.9 1008.5,1055.9 1008.5,1061.6 966.5,1061.6"/>
<polygon fill="#ffffbf" points="1008.5,1055.9 1013.8,1055.9 1013.8,1061.6 1008.5,1061.6"/>
<polygon fill="#fdae61" points="1013.7,1055.9 1040,1055.9 1040,1061.6 1013.7,1061.6"/>
<polygon fill="#ffffbf" points="1039.9,1055.9 1045.2,1055.9 1045.2,1061.6 1039.9,1061.6"/>
<polygon fill="#abd9e9" points="1045.1,1055.9 1076.7,1055.9 1076.7,1061.6 1045.1,1061.6"/>
<polygon fill="#2c7bb6" points="1076.6,1055.9 1176.2,1055.9 1176.2,1061.6 1076.6,1061.6"/>
<polygon fill="#fdae61" points="929.8,1061.5 935.1,1061.5 935.1,1067.1 929.8,1067.1"/>
<polygon fill="#abd9e9" points="935.1,1061.5 945.6,1061.5 945.6,1067.1 935.1,1067.1"/>
<polygon fill="#2c7bb6" points="945.6,1061.5 950.9,1061.5 950.9,1067.1 945.6,1067.1"/>
<polygon fill="#ffffbf" points="950.8,1061.5 956.1,1061.5 956.1,1067.1 950.8,1067.1"/>
<polygon fill="#abd9e9" points="956,1061.5 998,1061.5 998,1067.1 956,1067.1"/>
<polygon fill="#ffffbf" points="998,1061.5 1019,1061.5 1019,1067.1 998,1067.1"/>
<polygon fill="#fdae61" points="1018.9,1061.5 1029.5,1061.5 1029.5,1067.1 1018.9,1067.1"/>
<polygon fill="#ffffbf" points="1029.4,1061.5 1040,1061.5 1040,1067.1 1029.4,1067.1"/>
<polygon fill="#abd9e9" points="1039.9,1061.5 1060.9,1061.5 1060.9,1067.1 1039.9,1067.1"/>
<polygon fill="#ffffbf" points="1060.9,1061.5 1066.2,1061.5 1066.2,1067.1 1060.9,1067.1"/>
<polygon fill="#abd9e9" points="1066.1,1061.5 1076.7,1061.5 1076.7,1067.1 1066.1,1067.1"/>
<polygon fill="#2c7bb6" points="1076.6,1061.5 1176.2,1061.5 1176.2,1067.1 1076.6,1067.1"/>
<polygon fill="#fdae61" points="929.8,1067.1 935.1,1067.1 935.1,1072.7 929.8,1072.7"/>
<polygon fill="#abd9e9" points="935.1,1067.1 940.4,1067.1 940.4,1072.7 935.1,1072.7"/>
<polygon fill="#2c7bb6" points="940.3,1067.1 950.9,1067.1 950.9,1072.7 940.3,1072.7"/>
<polygon fill="#ffffbf" points="950.8,1067.1 956.1,1067.1 956.1,1072.7 950.8,1072.7"/>
<polygon fill="#abd9e9" points="956,1067.1 987.6,1067.1 987.6,1072.7 956,1072.7"/>
<polygon fill="#2c7bb6" points="987.5,1067.1 992.8,1067.1 992.8,1072.7 987.5,1072.7"/>
<polygon fill="#abd9e9" points="992.7,1067.1 1003.3,1067.1 1003.3,1072.7 992.7,1072.7"/>
<polygon fill="#ffffbf" points="1003.2,1067.1 1019,1067.1 1019,1072.7 1003.2,1072.7"/>
<polygon fill="#fdae61" points="1018.9,1067.1 1029.5,1067.1 1029.5,1072.7 1018.9,1072.7"/>
<polygon fill="#ffffbf" points="1029.4,1067.1 1040,1067.1 1040,1072.7 1029.4,1072.7"/>
<polygon fill="#abd9e9" points="1039.9,1067.1 1050.4,1067.1 1050.4,1072.7 1039.9,1072.7"/>
<polygon fill="#2c7bb6" points="1050.4,1067.1 1055.7,1067.1 1055.7,1072.7 1050.4,1072.7"/>
<polygon fill="#abd9e9" points="1055.6,1067.1 1066.2,1067.1 1066.2,1072.7 1055.6,1072.7"/>
<polygon fill="#ffffbf" points="1066.1,1067.1 1071.4,1067.1 1071.4,1072.7 1066.1,1072.7"/>
<polygon fill="#abd9e9" points="1071.4,1067.1 1076.7,1067.1 1076.7,1072.7 1071.4,1072.7"/>
<polygon fill="#2c7bb6" points="1076.6,1067.1 1176.2,1067.1 1176.2,1072.7 1076.6,1072.7"/>
<polygon fill="#abd9e9" points="929.8,1072.7 940.4,1072.7 940.4,1078.3 929.8,1078.3"/>
<polygon fill="#2c7bb6" points="940.3,1072.7 950.9,1072.7 950.9,1078.3 940.3,1078.3"/>
<polygon fill="#ffffbf" points="950.8,1072.7 956.1,1072.7 956.1,1078.3 950.8,1078.3"/>
<polygon fill="#abd9e9" points="956,1072.7 977.1,1072.7 977.1,1078.3 956,1078.3"/>
<polygon fill="#2c7bb6" points="977,1072.7 992.8,1072.7 992.8,1078.3 977,1078.3"/>
<polygon fill="#abd9e9" points="992.7,1072.7 1019,1072.7 1019,1078.3 992.7,1078.3"/>
<polygon fill="#fdae61" points="1018.9,1072.7 1024.2,1072.7 1024.2,1078.3 1018.9,1078.3"/>
<polygon fill="#a50026" points="1024.2,1072.7 1034.7,1072.7 1034.7,1078.3 1024.2,1078.3"/>
<polygon fill="#abd9e9" points="1034.7,1072.7 1066.2,1072.7 1066.2,1078.3 1034.7,1078.3"/>
<polygon fill="#ffffbf" points="1066.1,1072.7 1071.4,1072.7 1071.4,1078.3 1066.1,1078.3"/>
<polygon fill="#abd9e9" points="1071.4,1072.7 1076.7,1072.7 1076.7,1078.3 1071.4,1078.3"/>
<polygon fill="#2c7bb6" points="1076.6,1072.7 1176.2,1072.7 1176.2,1078.3 1076.6,1078.3"/>
<polygon fill="#abd9e9" points="929.8,1078.3 940.4,1078.3 940.4,1083.9 929.8,1083.9"/>
<polygon fill="#2c7bb6" points="940.3,1078.3 945.6,1078.3 945.6,1083.9 940.3,1083.9"/>
<polygon fill="#abd9e9" points="945.6,1078.3 950.9,1078.3 950.9,1083.9 945.6,1083.9"/>
<polygon fill="#ffffbf" points="950.8,1078.3 961.3,1078.3 961.3,1083.9 950.8,1083.9"/>
<polygon fill="#abd9e9" points="961.3,1078.3 977.1,1078.3 977.1,1083.9 961.3,1083.9"/>
<polygon fill="#2c7bb6" points="977,1078.3 987.6,1078.3 987.6,1083.9 977,1083.9"/>
<polygon fill="#abd9e9" points="987.5,1078.3 1019,1078.3 1019,1083.9 987.5,1083.9"/>
<polygon fill="#ffffbf" points="1018.9,1078.3 1024.2,1078.3 1024.2,1083.9 1018.9,1083.9"/>
<polygon fill="#fdae61" points="1024.2,1078.3 1029.5,1078.3 1029.5,1083.9 1024.2,1083.9"/>
<polygon fill="#ffffbf" points="1029.4,1078.3 1034.7,1078.3 1034.7,1083.9 1029.4,1083.9"/>
<polygon fill="#abd9e9" points="1034.7,1078.3 1076.7,1078.3 1076.7,1083.9 1034.7,1083.9"/>
<polygon fill="#2c7bb6" points="1076.6,1078.3 1176.2,1078.3 1176.2,1083.9 1076.6,1083.9"/>
<polygon fill="#2c7bb6" points="929.8,1083.8 940.4,1083.8 940.4,1089.5 929.8,1089.5"/>
<polygon fill="#abd9e9" points="940.3,1083.8 977.1,1083.8 977.1,1089.5 940.3,1089.5"/>
<polygon fill="#2c7bb6" points="977,1083.8 987.6,1083.8 987.6,1089.5 977,1089.5"/>
<polygon fill="#abd9e9" points="987.5,1083.8 1008.5,1083.8 1008.5,1089.5 987.5,1089.5"/>
<polygon fill="#ffffbf" points="1008.5,1083.8 1013.8,1083.8 1013.8,1089.5 1008.5,1089.5"/>
<polygon fill="#fdae61" points="1013.7,1083.8 1029.5,1083.8 1029.5,1089.5 1013.7,1089.5"/>
<polygon fill="#abd9e9" points="1029.4,1083.8 1050.4,1083.8 1050.4,1089.5 1029.4,1089.5"/>
<polygon fill="#2c7bb6" points="1050.4,1083.8 1060.9,1083.8 1060.9,1089.5 1050.4,1089.5"/>
<polygon fill="#abd9e9" points="1060.9,1083.8 1081.9,1083.8 1081.9,1089.5 1060.9,1089.5"/>
<polygon fill="#2c7bb6" points="1081.8,1083.8 1176.2,1083.8 1176.2,1089.5 1081.8,1089.5"/>
<polygon fill="#2c7bb6" points="929.8,1089.4 945.6,1089.4 945.6,1095.1 929.8,1095.1"/>
<polygon fill="#ffffbf" points="945.6,1089.4 956.1,1089.4 956.1,1095.1 945.6,1095.1"/>
<polygon fill="#abd9e9" points="956,1089.4 1008.5,1089.4 1008.5,1095.1 956,1095.1"/>
<polygon fill="#ffffbf" points="1008.5,1089.4 1013.8,1089.4 1013.8,1095.1 1008.5,1095.1"/>
<polygon fill="#fdae61" points="1013.7,1089.4 1019,1089.4 1019,1095.1 1013.7,1095.1"/>
<polygon fill="#a50026" points="1018.9,1089.4 1024.2,1089.4 1024.2,1095.1 1018.9,1095.1"/>
<polygon fill="#fdae61" points="1024.2,1089.4 1029.5,1089.4 1029.5,1095.1 1024.2,1095.1"/>
<polygon fill="#abd9e9" points="1029.4,1089.4 1050.4,1089.4 1050.4,1095.1 1029.4,1095.1"/>
<polygon fill="#2c7bb6" points="1050.4,1089.4 1060.9,1089.4 1060.9,1095.1 1050.4,1095.1"/>
<polygon fill="#abd9e9" points="1060.9,1089.4 1081.9,1089.4 1081.9,1095.1 1060.9,1095.1"/>
<polygon fill="#2c7bb6" points="1081.8,1089.4 1176.2,1089.4 1176.2,1095.1 1081.8,1095.1"/>
<polygon fill="#ffffbf" points="1427.7,893.9 1448.8,893.9 1448.8,899.6 1427.7,899.6"/>
<polygon fill="#abd9e9" points="1448.7,893.9 1454,893.9 1454,899.6 1448.7,899.6"/>
<polygon fill="#ffffbf" points="1454,893.9 1459.3,893.9 1459.3,899.6 1454,899.6"/>
<polygon fill="#fdae61" points="1459.2,893.9 1475,893.9 1475,899.6 1459.2,899.6"/>
<polygon fill="#ffffbf" points="1474.9,893.9 1480.2,893.9 1480.2,899.6 1474.9,899.6"/>
<polygon fill="#abd9e9" points="1480.2,893.9 1495.9,893.9 1495.9,899.6 1480.2,899.6"/>
<polygon fill="#2c7bb6" points="1495.9,893.9 1695.1,893.9 1695.1,899.6 1495.9,899.6"/>
<polygon fill="#ffffbf" points="1427.7,899.5 1454,899.5 1454,905.2 1427.7,905.2"/>
<polygon fill="#abd9e9" points="1454,899.5 1459.3,899.5 1459.3,905.2 1454,905.2"/>
<polygon fill="#ffffbf" points="1459.2,899.5 1464.5,899.5 1464.5,905.2 1459.2,905.2"/>
<polygon fill="#fdae61" points="1464.4,899.5 1480.2,899.5 1480.2,905.2 1464.4,905.2"/>
<polygon fill="#ffffbf" points="1480.2,899.5 1485.5,899.5 1485.5,905.2 1480.2,905.2"/>
<polygon fill="#abd9e9" points="1485.4,899.5 1501.2,899.5 1501.2,905.2 1485.4,905.2"/>
<polygon fill="#2c7bb6" points="1501.1,899.5 1695.1,899.5 1695.1,905.2 1501.1,905.2"/>
<polygon fill="#ffffbf" points="1427.7,905.1 1448.8,905.1 1448.8,910.7 1427.7,910.7"/>
<polygon fill="#abd9e9" points="1448.7,905.1 1464.5,905.1 1464.5,910.7 1448.7,910.7"/>
<polygon fill="#fdae61" points="1464.4,905.1 1480.2,905.1 1480.2,910.7 1464.4,910.7"/>
<polygon fill="#ffffbf" points="1480.2,905.1 1485.5,905.1 1485.5,910.7 1480.2,910.7"/>
<polygon fill="#2c7bb6" points="1485.4,905.1 1495.9,905.1 1495.9,910.7 1485.4,910.7"/>
<polygon fill="#abd9e9" points="1495.9,905.1 1501.2,905.1 1501.2,910.7 1495.9,910.7"/>
<polygon fill="#2c7bb6" points="1501.1,905.1 1695.1,905.1 1695.1,910.7 1501.1,910.7"/>
<polygon fill="#ffffbf" points="1427.7,910.7 1448.8,910.7 1448.8,916.3 1427.7,916.3"/>
<polygon fill="#abd9e9" points="1448.7,910.7 1459.3,910.7 1459.3,916.3 1448.7,916.3"/>
<polygon fill="#ffffbf" points="1459.2,910.7 1469.7,910.7 1469.7,916.3 1459.2,916.3"/>
<polygon fill="#fdae61" points="1469.7,910.7 1475,910.7 1475,916.3 1469.7,916.3"/>
<polygon fill="#ffffbf" points="1474.9,910.7 1480.2,910.7 1480.2,916.3 1474.9,916.3"/>
<polygon fill="#abd9e9" points="1480.2,910.7 1495.9,910.7 1495.9,916.3 1480.2,916.3"/>
<polygon fill="#2c7bb6" points="1495.9,910.7 1501.2,910.7 1501.2,916.3 1495.9,916.3"/>
<polygon fill="#abd9e9" points="1501.1,910.7 1511.7,910.7 1511.7,916.3 1501.1,916.3"/>
<polygon fill="#2c7bb6" points="1511.6,910.7 1695.1,910.7 1695.1,916.3 1511.6,916.3"/>
<polygon fill="#ffffbf" points="1427.7,916.3 1469.7,916.3 1469.7,921.9 1427.7,921.9"/>
<polygon fill="#fdae61" points="1469.7,916.3 1475,916.3 1475,921.9 1469.7,921.9"/>
<polygon fill="#ffffbf" points="1474.9,916.3 1490.7,916.3 1490.7,921.9 1474.9,921.9"/>
<polygon fill="#abd9e9" points="1490.6,916.3 1506.4,916.3 1506.4,921.9 1490.6,921.9"/>
<polygon fill="#2c7bb6" points="1506.4,916.3 1695.1,916.3 1695.1,921.9 1506.4,921.9"/>
<polygon fill="#ffffbf" points="1427.7,921.9 1459.3,921.9 1459.3,927.5 1427.7,927.5"/>
<polygon fill="#fdae61" points="1459.2,921.9 1469.7,921.9 1469.7,927.5 1459.2,927.5"/>
<polygon fill="#ffffbf" points="1469.7,921.9 1480.2,921.9 1480.2,927.5 1469.7,927.5"/>
<polygon fill="#fdae61" points="1480.2,921.9 1485.5,921.9 1485.5,927.5 1480.2,927.5"/>
<polygon fill="#ffffbf" points="1485.4,921.9 1490.7,921.9 1490.7,927.5 1485.4,927.5"/>
<polygon fill="#abd9e9" points="1490.6,921.9 1495.9,921.9 1495.9,927.5 1490.6,927.5"/>
<polygon fill="#ffffbf" points="1495.9,921.9 1501.2,921.9 1501.2,927.5 1495.9,927.5"/>
<polygon fill="#abd9e9" points="1501.1,921.9 1506.4,921.9 1506.4,927.5 1501.1,927.5"/>
<polygon fill="#2c7bb6" points="1506.4,921.9 1695.1,921.9 1695.1,927.5 1506.4,927.5"/>
<polygon fill="#ffffbf" points="1427.7,927.4 1443.5,927.4 1443.5,933.1 1427.7,933.1"/>
<polygon fill="#fdae61" points="1443.5,927.4 1448.8,927.4 1448.8,933.1 1443.5,933.1"/>
<polygon fill="#ffffbf" points="1448.7,927.4 1454,927.4 1454,933.1 1448.7,933.1"/>
<polygon fill="#fdae61" points="1454,927.4 1464.5,927.4 1464.5,933.1 1454,933.1"/>
<polygon fill="#ffffbf" points="1464.4,927.4 1475,927.4 1475,933.1 1464.4,933.1"/>
<polygon fill="#fdae61" points="1474.9,927.4 1485.5,927.4 1485.5,933.1 1474.9,933.1"/>
<polygon fill="#ffffbf" points="1485.4,927.4 1495.9,927.4 1495.9,933.1 1485.4,933.1"/>
<polygon fill="#abd9e9" points="1495.9,927.4 1506.4,927.4 1506.4,933.1 1495.9,933.1"/>
<polygon fill="#2c7bb6" points="1506.4,927.4 1695.1,927.4 1695.1,933.1 1506.4,933.1"/>
<polygon fill="#ffffbf" points="1427.7,933 1443.5,933 1443.5,938.7 1427.7,938.7"/>
<polygon fill="#fdae61" points="1443.5,933 1464.5,933 1464.5,938.7 1443.5,938.7"/>
<polygon fill="#ffffbf" points="1464.4,933 1490.7,933 1490.7,938.7 1464.4,938.7"/>
<polygon fill="#abd9e9" points="1490.6,933 1506.4,933 1506.4,938.7 1490.6,938.7"/>
<polygon fill="#2c7bb6" points="1506.4,933 1695.1,933 1695.1,938.7 1506.4,938.7"/>
<polygon fill="#ffffbf" points="1427.7,938.6 1433,938.6 1433,944.3 1427.7,944.3"/>
<polygon fill="#fdae61" points="1433,938.6 1438.3,938.6 1438.3,944.3 1433,944.3"/>
<polygon fill="#ffffbf" points="1438.2,938.6 1443.5,938.6 1443.5,944.3 1438.2,944.3"/>
<polygon fill="#fdae61" points="1443.5,938.6 1448.8,938.6 1448.8,944.3 1443.5,944.3"/>
<polygon fill="#ffffbf" points="1448.7,938.6 1459.3,938.6 1459.3,944.3 1448.7,944.3"/>
<polygon fill="#fdae61" points="1459.2,938.6 1464.5,938.6 1464.5,944.3 1459.2,944.3"/>
<polygon fill="#ffffbf" points="1464.4,938.6 1485.5,938.6 1485.5,944.3 1464.4,944.3"/>
<polygon fill="#fdae61" points="1485.4,938.6 1490.7,938.6 1490.7,944.3 1485.4,944.3"/>
<polygon fill="#abd9e9" points="1490.6,938.6 1522.1,938.6 1522.1,944.3 1490.6,944.3"/>
<polygon fill="#2c7bb6" points="1522.1,938.6 1695.1,938.6 1695.1,944.3 1522.1,944.3"/>
<polygon fill="#ffffbf" points="1427.7,944.2 1433,944.2 1433,949.8 1427.7,949.8"/>
<polygon fill="#fdae61" points="1433,944.2 1438.3,944.2 1438.3,949.8 1433,949.8"/>
<polygon fill="#ffffbf" points="1438.2,944.2 1469.7,944.2 1469.7,949.8 1438.2,949.8"/>
<polygon fill="#abd9e9" points="1469.7,944.2 1485.5,944.2 1485.5,949.8 1469.7,949.8"/>
<polygon fill="#ffffbf" points="1485.4,944.2 1495.9,944.2 1495.9,949.8 1485.4,949.8"/>
<polygon fill="#abd9e9" points="1495.9,944.2 1511.7,944.2 1511.7,949.8 1495.9,949.8"/>
<polygon fill="#ffffbf" points="1511.6,944.2 1516.9,944.2 1516.9,949.8 1511.6,949.8"/>
<polygon fill="#abd9e9" points="1516.8,944.2 1543.1,944.2 1543.1,949.8 1516.8,949.8"/>
<polygon fill="#2c7bb6" points="1543.1,944.2 1695.1,944.2 1695.1,949.8 1543.1,949.8"/>
<polygon fill="#fdae61" points="1427.7,949.8 1433,949.8 1433,955.4 1427.7,955.4"/>
<polygon fill="#ffffbf" points="1433,949.8 1495.9,949.8 1495.9,955.4 1433,955.4"/>
<polygon fill="#abd9e9" points="1495.9,949.8 1501.2,949.8 1501.2,955.4 1495.9,955.4"/>
<polygon fill="#ffffbf" points="1501.1,949.8 1516.9,949.8 1516.9,955.4 1501.1,955.4"/>
<polygon fill="#abd9e9" points="1516.8,949.8 1537.9,949.8 1537.9,955.4 1516.8,955.4"/>
<polygon fill="#2c7bb6" points="1537.8,949.8 1695.1,949.8 1695.1,955.4 1537.8,955.4"/>
<polygon fill="#fdae61" points="1427.7,955.4 1433,955.4 1433,961 1427.7,961"/>
<polygon fill="#ffffbf" points="1433,955.4 1448.8,955.4 1448.8,961 1433,961"/>
<polygon fill="#fdae61" points="1448.7,955.4 1454,955.4 1454,961 1448.7,961"/>
<polygon fill="#ffffbf" points="1454,955.4 1475,955.4 1475,961 1454,961"/>
<polygon fill="#fdae61" points="1474.9,955.4 1485.5,955.4 1485.5,961 1474.9,961"/>
<polygon fill="#ffffbf" points="1485.4,955.4 1501.2,955.4 1501.2,961 1485.4,961"/>
<polygon fill="#abd9e9" points="1501.1,955.4 1527.4,955.4 1527.4,961 1501.1,961"/>
<polygon fill="#ffffbf" points="1527.3,955.4 1532.6,955.4 1532.6,961 1527.3,961"/>
<polygon fill="#abd9e9" points="1532.6,955.4 1537.9,955.4 1537.9,961 1532.6,961"/>
<polygon fill="#2c7bb6" points="1537.8,955.4 1695.1,955.4 1695.1,961 1537.8,961"/>
<polygon fill="#ffffbf" points="1427.7,961 1438.3,961 1438.3,966.6 1427.7,966.6"/>
<polygon fill="#fdae61" points="1438.2,961 1443.5,961 1443.5,966.6 1438.2,966.6"/>
<polygon fill="#ffffbf" points="1443.5,961 1464.5,961 1464.5,966.6 1443.5,966.6"/>
<polygon fill="#fdae61" points="1464.4,961 1475,961 1475,966.6 1464.4,966.6"/>
<polygon fill="#ffffbf" points="1474.9,961 1485.5,961 1485.5,966.6 1474.9,966.6"/>
<polygon fill="#abd9e9" points="1485.4,961 1490.7,961 1490.7,966.6 1485.4,966.6"/>
<polygon fill="#ffffbf" points="1490.6,961 1532.6,961 1532.6,966.6 1490.6,966.6"/>
<polygon fill="#abd9e9" points="1532.6,961 1553.6,961 1553.6,966.6 1532.6,966.6"/>
<polygon fill="#2c7bb6" points="1553.5,961 1695.1,961 1695.1,966.6 1553.5,966.6"/>
<polygon fill="#fdae61" points="1427.7,966.5 1454,966.5 1454,972.2 1427.7,972.2"/>
<polygon fill="#ffffbf" points="1454,966.5 1469.7,966.5 1469.7,972.2 1454,972.2"/>
<polygon fill="#fdae61" points="1469.7,966.5 1475,966.5 1475,972.2 1469.7,972.2"/>
<polygon fill="#ffffbf" points="1474.9,966.5 1511.7,966.5 1511.7,972.2 1474.9,972.2"/>
<polygon fill="#fdae61" points="1511.6,966.5 1516.9,966.5 1516.9,972.2 1511.6,972.2"/>
<polygon fill="#ffffbf" points="1516.8,966.5 1548.4,966.5 1548.4,972.2 1516.8,972.2"/>
<polygon fill="#abd9e9" points="1548.3,966.5 1553.6,966.5 1553.6,972.2 1548.3,972.2"/>
<polygon fill="#2c7bb6" points="1553.5,966.5 1695.1,966.5 1695.1,972.2 1553.5,972.2"/>
<polygon fill="#fdae61" points="1427.7,972.1 1438.3,972.1 1438.3,977.8 1427.7,977.8"/>
<polygon fill="#ffffbf" points="1438.2,972.1 1443.5,972.1 1443.5,977.8 1438.2,977.8"/>
<polygon fill="#fdae61" points="1443.5,972.1 1454,972.1 1454,977.8 1443.5,977.8"/>
<polygon fill="#ffffbf" points="1454,972.1 1480.2,972.1 1480.2,977.8 1454,977.8"/>
<polygon fill="#fdae61" points="1480.2,972.1 1485.5,972.1 1485.5,977.8 1480.2,977.8"/>
<polygon fill="#ffffbf" points="1485.4,972.1 1506.4,972.1 1506.4,977.8 1485.4,977.8"/>
<polygon fill="#fdae61" points="1506.4,972.1 1522.1,972.1 1522.1,977.8 1506.4,977.8"/>
<polygon fill="#ffffbf" points="1522.1,972.1 1543.1,972.1 1543.1,977.8 1522.1,977.8"/>
<polygon fill="#abd9e9" points="1543.1,972.1 1553.6,972.1 1553.6,977.8 1543.1,977.8"/>
<polygon fill="#2c7bb6" points="1553.5,972.1 1695.1,972.1 1695.1,977.8 1553.5,977.8"/>
<polygon fill="#fdae61" points="1427.7,977.7 1438.3,977.7 1438.3,983.4 1427.7,983.4"/>
<polygon fill="#ffffbf" points="1438.2,977.7 1443.5,977.7 1443.5,983.4 1438.2,983.4"/>
<polygon fill="#fdae61" points="1443.5,977.7 1454,977.7 1454,983.4 1443.5,983.4"/>
<polygon fill="#ffffbf" points="1454,977.7 1464.5,977.7 1464.5,983.4 1454,983.4"/>
<polygon fill="#fdae61" points="1464.4,977.7 1475,977.7 1475,983.4 1464.4,983.4"/>
<polygon fill="#ffffbf" points="1474.9,977.7 1501.2,977.7 1501.2,983.4 1474.9,983.4"/>
<polygon fill="#fdae61" points="1501.1,977.7 1516.9,977.7 1516.9,983.4 1501.1,983.4"/>
<polygon fill="#ffffbf" points="1516.8,977.7 1532.6,977.7 1532.6,983.4 1516.8,983.4"/>
<polygon fill="#abd9e9" points="1532.6,977.7 1548.4,977.7 1548.4,983.4 1532.6,983.4"/>
<polygon fill="#2c7bb6" points="1548.3,977.7 1695.1,977.7 1695.1,983.4 1548.3,983.4"/>
<polygon fill="#fdae61" points="1427.7,983.3 1469.7,983.3 1469.7,988.9 1427.7,988.9"/>
<polygon fill="#ffffbf" points="1469.7,983.3 1495.9,983.3 1495.9,988.9 1469.7,988.9"/>
<polygon fill="#fdae61" points="1495.9,983.3 1501.2,983.3 1501.2,988.9 1495.9,988.9"/>
<polygon fill="#ffffbf" points="1501.1,983.3 1506.4,983.3 1506.4,988.9 1501.1,988.9"/>
<polygon fill="#fdae61" points="1506.4,983.3 1516.9,983.3 1516.9,988.9 1506.4,988.9"/>
<polygon fill="#ffffbf" points="1516.8,983.3 1532.6,983.3 1532.6,988.9 1516.8,988.9"/>
<polygon fill="#abd9e9" points="1532.6,983.3 1548.4,983.3 1548.4,988.9 1532.6,988.9"/>
<polygon fill="#2c7bb6" points="1548.3,983.3 1695.1,983.3 1695.1,988.9 1548.3,988.9"/>
<polygon fill="#fdae61" points="1427.7,988.9 1469.7,988.9 1469.7,994.5 1427.7,994.5"/>
<polygon fill="#ffffbf" points="1469.7,988.9 1537.9,988.9 1537.9,994.5 1469.7,994.5"/>
<polygon fill="#abd9e9" points="1537.8,988.9 1543.1,988.9 1543.1,994.5 1537.8,994.5"/>
<polygon fill="#2c7bb6" points="1543.1,988.9 1695.1,988.9 1695.1,994.5 1543.1,994.5"/>
<polygon fill="#fdae61" points="1427.7,994.5 1464.5,994.5 1464.5,1000.1 1427.7,1000.1"/>
<polygon fill="#ffffbf" points="1464.4,994.5 1490.7,994.5 1490.7,1000.1 1464.4,1000.1"/>
<polygon fill="#fdae61" points="1490.6,994.5 1495.9,994.5 1495.9,1000.1 1490.6,1000.1"/>
<polygon fill="#ffffbf" points="1495.9,994.5 1527.4,994.5 1527.4,1000.1 1495.9,1000.1"/>
<polygon fill="#abd9e9" points="1527.3,994.5 1548.4,994.5 1548.4,1000.1 1527.3,1000.1"/>
<polygon fill="#2c7bb6" points="1548.3,994.5 1695.1,994.5 1695.1,1000.1 1548.3,1000.1"/>
<polygon fill="#fdae61" points="1427.7,1000.1 1480.2,1000.1 1480.2,1005.7 1427.7,1005.7"/>
<polygon fill="#ffffbf" points="1480.2,1000.1 1490.7,1000.1 1490.7,1005.7 1480.2,1005.7"/>
<polygon fill="#fdae61" points="1490.6,1000.1 1495.9,1000.1 1495.9,1005.7 1490.6,1005.7"/>
<polygon fill="#ffffbf" points="1495.9,1000.1 1501.2,1000.1 1501.2,1005.7 1495.9,1005.7"/>
<polygon fill="#fdae61" points="1501.1,1000.1 1506.4,1000.1 1506.4,1005.7 1501.1,1005.7"/>
<polygon fill="#ffffbf" points="1506.4,1000.1 1522.1,1000.1 1522.1,1005.7 1506.4,1005.7"/>
<polygon fill="#abd9e9" points="1522.1,1000.1 1695.1,1000.1 1695.1,1005.7 1522.1,1005.7"/>
<polygon fill="#fdae61" points="1427.7,1005.6 1469.7,1005.6 1469.7,1011.3 1427.7,1011.3"/>
<polygon fill="#ffffbf" points="1469.7,1005.6 1475,1005.6 1475,1011.3 1469.7,1011.3"/>
<polygon fill="#fdae61" points="1474.9,1005.6 1495.9,1005.6 1495.9,1011.3 1474.9,1011.3"/>
<polygon fill="#ffffbf" points="1495.9,1005.6 1501.2,1005.6 1501.2,1011.3 1495.9,1011.3"/>
<polygon fill="#fdae61" points="1501.1,1005.6 1516.9,1005.6 1516.9,1011.3 1501.1,1011.3"/>
<polygon fill="#ffffbf" points="1516.8,1005.6 1527.4,1005.6 1527.4,1011.3 1516.8,1011.3"/>
<polygon fill="#abd9e9" points="1527.3,1005.6 1532.6,1005.6 1532.6,1011.3 1527.3,1011.3"/>
<polygon fill="#2c7bb6" points="1532.6,1005.6 1543.1,1005.6 1543.1,1011.3 1532.6,1011.3"/>
<polygon fill="#abd9e9" points="1543.1,1005.6 1695.1,1005.6 1695.1,1011.3 1543.1,1011.3"/>
<polygon fill="#fdae61" points="1427.7,1011.2 1469.7,1011.2 1469.7,1016.9 1427.7,1016.9"/>
<polygon fill="#ffffbf" points="1469.7,1011.2 1475,1011.2 1475,1016.9 1469.7,1016.9"/>
<polygon fill="#fdae61" points="1474.9,1011.2 1511.7,1011.2 1511.7,1016.9 1474.9,1016.9"/>
<polygon fill="#ffffbf" points="1511.6,1011.2 1516.9,1011.2 1516.9,1016.9 1511.6,1016.9"/>
<polygon fill="#fdae61" points="1516.8,1011.2 1527.4,1011.2 1527.4,1016.9 1516.8,1016.9"/>
<polygon fill="#abd9e9" points="1527.3,1011.2 1548.4,1011.2 1548.4,1016.9 1527.3,1016.9"/>
<polygon fill="#2c7bb6" points="1548.3,1011.2 1695.1,1011.2 1695.1,1016.9 1548.3,1016.9"/>
<polygon fill="#fdae61" points="1427.7,1016.8 1469.7,1016.8 1469.7,1022.5 1427.7,1022.5"/>
<polygon fill="#ffffbf" points="1469.7,1016.8 1475,1016.8 1475,1022.5 1469.7,1022.5"/>
<polygon fill="#fdae61" points="1474.9,1016.8 1506.4,1016.8 1506.4,1022.5 1474.9,1022.5"/>
<polygon fill="#ffffbf" points="1506.4,1016.8 1527.4,1016.8 1527.4,1022.5 1506.4,1022.5"/>
<polygon fill="#abd9e9" points="1527.3,1016.8 1695.1,1016.8 1695.1,1022.5 1527.3,1022.5"/>
<polygon fill="#a50026" points="1427.7,1022.4 1433,1022.4 1433,1028 1427.7,1028"/>
<polygon fill="#fdae61" points="1433,1022.4 1480.2,1022.4 1480.2,1028 1433,1028"/>
<polygon fill="#ffffbf" points="1480.2,1022.4 1485.5,1022.4 1485.5,1028 1480.2,1028"/>
<polygon fill="#fdae61" points="1485.4,1022.4 1506.4,1022.4 1506.4,1028 1485.4,1028"/>
<polygon fill="#ffffbf" points="1506.4,1022.4 1511.7,1022.4 1511.7,1028 1506.4,1028"/>
<polygon fill="#fdae61" points="1511.6,1022.4 1522.1,1022.4 1522.1,1028 1511.6,1028"/>
<polygon fill="#ffffbf" points="1522.1,1022.4 1695.1,1022.4 1695.1,1028 1522.1,1028"/>
<polygon fill="#a50026" points="1427.7,1028 1433,1028 1433,1033.6 1427.7,1033.6"/>
<polygon fill="#fdae61" points="1433,1028 1475,1028 1475,1033.6 1433,1033.6"/>
<polygon fill="#ffffbf" points="1474.9,1028 1480.2,1028 1480.2,1033.6 1474.9,1033.6"/>
<polygon fill="#fdae61" points="1480.2,1028 1495.9,1028 1495.9,1033.6 1480.2,1033.6"/>
<polygon fill="#ffffbf" points="1495.9,1028 1506.4,1028 1506.4,1033.6 1495.9,1033.6"/>
<polygon fill="#abd9e9" points="1506.4,1028 1511.7,1028 1511.7,1033.6 1506.4,1033.6"/>
<polygon fill="#ffffbf" points="1511.6,1028 1522.1,1028 1522.1,1033.6 1511.6,1033.6"/>
<polygon fill="#fdae61" points="1522.1,1028 1527.4,1028 1527.4,1033.6 1522.1,1033.6"/>
<polygon fill="#ffffbf" points="1527.3,1028 1695.1,1028 1695.1,1033.6 1527.3,1033.6"/>
<polygon fill="#a50026" points="1427.7,1033.6 1438.3,1033.6 1438.3,1039.2 1427.7,1039.2"/>
<polygon fill="#fdae61" points="1438.2,1033.6 1495.9,1033.6 1495.9,1039.2 1438.2,1039.2"/>
<polygon fill="#2c7bb6" points="1495.9,1033.6 1501.2,1033.6 1501.2,1039.2 1495.9,1039.2"/>
<polygon fill="#a50026" points="1427.7,1039.2 1433,1039.2 1433,1044.8 1427.7,1044.8"/>
<polygon fill="#fdae61" points="1433,1039.2 1454,1039.2 1454,1044.8 1433,1044.8"/>
<polygon fill="#a50026" points="1454,1039.2 1459.3,1039.2 1459.3,1044.8 1454,1044.8"/>
<polygon fill="#fdae61" points="1459.2,1039.2 1464.5,1039.2 1464.5,1044.8 1459.2,1044.8"/>
<polygon fill="#ffffbf" points="1464.4,1039.2 1469.7,1039.2 1469.7,1044.8 1464.4,1044.8"/>
<polygon fill="#ffffbf" points="1427.7,1044.7 1438.3,1044.7 1438.3,1050.4 1427.7,1050.4"/>
<polygon fill="#fdae61" points="1438.2,1044.7 1443.5,1044.7 1443.5,1050.4 1438.2,1050.4"/>
<polygon fill="#ffffbf" points="1443.5,1044.7 1459.3,1044.7 1459.3,1050.4 1443.5,1050.4"/>
<polygon fill="#abd9e9" points="1459.2,1044.7 1464.5,1044.7 1464.5,1050.4 1459.2,1050.4"/>
<polygon fill="#ffffbf" points="1427.7,1050.3 1433,1050.3 1433,1056 1427.7,1056"/>
<polygon fill="#abd9e9" points="1433,1050.3 1443.5,1050.3 1443.5,1056 1433,1056"/>
<polygon fill="#2c7bb6" points="1443.5,1050.3 1459.3,1050.3 1459.3,1056 1443.5,1056"/>
<polygon fill="#abd9e9" points="1427.7,1055.9 1433,1055.9 1433,1061.6 1427.7,1061.6"/>
<polygon fill="#2c7bb6" points="1433,1055.9 1438.3,1055.9 1438.3,1061.6 1433,1061.6"/>
<polygon fill="#fdae61" points="709.7,609.1 715,609.1 715,614.7 709.7,614.7"/>
<polygon fill="#abd9e9" points="714.9,609.1 720.2,609.1 720.2,614.7 714.9,614.7"/>
<polygon fill="#ffffbf" points="704.5,614.7 715,614.7 715,620.3 704.5,620.3"/>
<polygon fill="#abd9e9" points="735.9,614.7 746.5,614.7 746.5,620.3 735.9,620.3"/>
<polygon fill="#abd9e9" points="898.4,614.7 910.2,614.7 910.2,620.3 898.4,620.3"/>
<polygon fill="#ffffbf" points="704.5,620.2 709.8,620.2 709.8,625.9 704.5,625.9"/>
<polygon fill="#abd9e9" points="709.7,620.2 715,620.2 715,625.9 709.7,625.9"/>
<polygon fill="#ffffbf" points="714.9,620.2 720.2,620.2 720.2,625.9 714.9,625.9"/>
<polygon fill="#fdae61" points="720.2,620.2 730.7,620.2 730.7,625.9 720.2,625.9"/>
<polygon fill="#ffffbf" points="730.7,620.2 741.2,620.2 741.2,625.9 730.7,625.9"/>
<polygon fill="#abd9e9" points="893.1,620.2 910.2,620.2 910.2,625.9 893.1,625.9"/>
<polygon fill="#abd9e9" points="709.7,625.8 720.2,625.8 720.2,631.5 709.7,631.5"/>
<polygon fill="#ffffbf" points="720.2,625.8 736,625.8 736,631.5 720.2,631.5"/>
<polygon fill="#abd9e9" points="735.9,625.8 741.2,625.8 741.2,631.5 735.9,631.5"/>
<polygon fill="#abd9e9" points="872.2,625.8 888,625.8 888,631.5 872.2,631.5"/>
<polygon fill="#abd9e9" points="893.1,625.8 910.2,625.8 910.2,631.5 893.1,631.5"/>
<polygon fill="#abd9e9" points="714.9,631.4 725.5,631.4 725.5,637.1 714.9,637.1"/>
<polygon fill="#abd9e9" points="730.7,631.4 741.2,631.4 741.2,637.1 730.7,637.1"/>
<polygon fill="#abd9e9" points="846,631.4 861.8,631.4 861.8,637.1 846,637.1"/>
<polygon fill="#abd9e9" points="872.2,631.4 910.2,631.4 910.2,637.1 872.2,637.1"/>
<polygon fill="#ffffbf" points="709.7,637 715,637 715,642.6 709.7,642.6"/>
<polygon fill="#abd9e9" points="714.9,637 725.5,637 725.5,642.6 714.9,642.6"/>
<polygon fill="#fdae61" points="730.7,637 736,637 736,642.6 730.7,642.6"/>
<polygon fill="#ffffbf" points="735.9,637 741.2,637 741.2,642.6 735.9,642.6"/>
<polygon fill="#abd9e9" points="851.2,637 877.5,637 877.5,642.6 851.2,642.6"/>
<polygon fill="#abd9e9" points="882.7,637 910.2,637 910.2,642.6 882.7,642.6"/>
<polygon fill="#a50026" points="735.9,642.6 741.2,642.6 741.2,648.2 735.9,648.2"/>
<polygon fill="#abd9e9" points="851.2,642.6 872.2,642.6 872.2,648.2 851.2,648.2"/>
<polygon fill="#abd9e9" points="877.4,642.6 893.2,642.6 893.2,648.2 877.4,648.2"/>
<polygon fill="#ffffbf" points="893.1,642.6 910.2,642.6 910.2,648.2 893.1,648.2"/>
<polygon fill="#ffffbf" points="735.9,648.2 741.2,648.2 741.2,653.8 735.9,653.8"/>
<polygon fill="#abd9e9" points="741.2,648.2 746.5,648.2 746.5,653.8 741.2,653.8"/>
<polygon fill="#abd9e9" points="846,648.2 861.8,648.2 861.8,653.8 846,653.8"/>
<polygon fill="#ffffbf" points="861.7,648.2 867,648.2 867,653.8 861.7,653.8"/>
<polygon fill="#abd9e9" points="866.9,648.2 893.2,648.2 893.2,653.8 866.9,653.8"/>
<polygon fill="#ffffbf" points="893.1,648.2 910.2,648.2 910.2,653.8 893.1,653.8"/>
<polygon fill="#abd9e9" points="735.9,653.8 746.5,653.8 746.5,659.4 735.9,659.4"/>
<polygon fill="#abd9e9" points="840.7,653.8 851.3,653.8 851.3,659.4 840.7,659.4"/>
<polygon fill="#ffffbf" points="851.2,653.8 872.2,653.8 872.2,659.4 851.2,659.4"/>
<polygon fill="#abd9e9" points="872.2,653.8 888,653.8 888,659.4 872.2,659.4"/>
<polygon fill="#ffffbf" points="887.9,653.8 910.2,653.8 910.2,659.4 887.9,659.4"/>
<polygon fill="#abd9e9" points="835.5,659.3 846,659.3 846,665 835.5,665"/>
<polygon fill="#ffffbf" points="846,659.3 851.3,659.3 851.3,665 846,665"/>
<polygon fill="#abd9e9" points="851.2,659.3 856.5,659.3 856.5,665 851.2,665"/>
<polygon fill="#ffffbf" points="856.5,659.3 877.5,659.3 877.5,665 856.5,665"/>
<polygon fill="#abd9e9" points="877.4,659.3 888,659.3 888,665 877.4,665"/>
<polygon fill="#ffffbf" points="887.9,659.3 910.2,659.3 910.2,665 887.9,665"/>
<polygon fill="#abd9e9" points="735.9,664.9 741.2,664.9 741.2,670.6 735.9,670.6"/>
<polygon fill="#abd9e9" points="746.4,664.9 751.7,664.9 751.7,670.6 746.4,670.6"/>
<polygon fill="#abd9e9" points="835.5,664.9 840.8,664.9 840.8,670.6 835.5,670.6"/>
<polygon fill="#ffffbf" points="840.7,664.9 846,664.9 846,670.6 840.7,670.6"/>
<polygon fill="#abd9e9" points="846,664.9 851.3,664.9 851.3,670.6 846,670.6"/>
<polygon fill="#ffffbf" points="851.2,664.9 856.5,664.9 856.5,670.6 851.2,670.6"/>
<polygon fill="#abd9e9" points="856.5,664.9 867,664.9 867,670.6 856.5,670.6"/>
<polygon fill="#ffffbf" points="866.9,664.9 903.7,664.9 903.7,670.6 866.9,670.6"/>
<polygon fill="#abd9e9" points="903.6,664.9 910.2,664.9 910.2,670.6 903.6,670.6"/>
<polygon fill="#abd9e9" points="741.2,670.5 751.7,670.5 751.7,676.2 741.2,676.2"/>
<polygon fill="#abd9e9" points="835.5,670.5 840.8,670.5 840.8,676.2 835.5,676.2"/>
<polygon fill="#ffffbf" points="840.7,670.5 898.4,670.5 898.4,676.2 840.7,676.2"/>
<polygon fill="#abd9e9" points="898.4,670.5 910.2,670.5 910.2,676.2 898.4,676.2"/>
<polygon fill="#abd9e9" points="741.2,676.1 746.5,676.1 746.5,681.7 741.2,681.7"/>
<polygon fill="#ffffbf" points="746.4,676.1 751.7,676.1 751.7,681.7 746.4,681.7"/>
<polygon fill="#abd9e9" points="835.5,676.1 840.8,676.1 840.8,681.7 835.5,681.7"/>
<polygon fill="#ffffbf" points="840.7,676.1 861.8,676.1 861.8,681.7 840.7,681.7"/>
<polygon fill="#fdae61" points="861.7,676.1 867,676.1 867,681.7 861.7,681.7"/>
<polygon fill="#ffffbf" points="866.9,676.1 898.4,676.1 898.4,681.7 866.9,681.7"/>
<polygon fill="#abd9e9" points="898.4,676.1 910.2,676.1 910.2,681.7 898.4,681.7"/>
<polygon fill="#abd9e9" points="746.4,681.7 751.7,681.7 751.7,687.3 746.4,687.3"/>
<polygon fill="#a50026" points="751.6,681.7 756.9,681.7 756.9,687.3 751.6,687.3"/>
<polygon fill="#ffffbf" points="756.9,681.7 762.2,681.7 762.2,687.3 756.9,687.3"/>
<polygon fill="#abd9e9" points="762.1,681.7 767.4,681.7 767.4,687.3 762.1,687.3"/>
<polygon fill="#abd9e9" points="772.6,681.7 777.9,681.7 777.9,687.3 772.6,687.3"/>
<polygon fill="#abd9e9" points="835.5,681.7 840.8,681.7 840.8,687.3 835.5,687.3"/>
<polygon fill="#ffffbf" points="840.7,681.7 888,681.7 888,687.3 840.7,687.3"/>
<polygon fill="#fdae61" points="887.9,681.7 893.2,681.7 893.2,687.3 887.9,687.3"/>
<polygon fill="#ffffbf" points="893.1,681.7 898.4,681.7 898.4,687.3 893.1,687.3"/>
<polygon fill="#abd9e9" points="898.4,681.7 910.2,681.7 910.2,687.3 898.4,687.3"/>
<polygon fill="#a50026" points="751.6,687.3 762.2,687.3 762.2,692.9 751.6,692.9"/>
<polygon fill="#ffffbf" points="762.1,687.3 767.4,687.3 767.4,692.9 762.1,692.9"/>
<polygon fill="#abd9e9" points="767.4,687.3 772.7,687.3 772.7,692.9 767.4,692.9"/>
<polygon fill="#ffffbf" points="772.6,687.3 777.9,687.3 777.9,692.9 772.6,692.9"/>
<polygon fill="#abd9e9" points="825,687.3 846,687.3 846,692.9 825,692.9"/>
<polygon fill="#abd9e9" points="856.5,687.3 872.2,687.3 872.2,692.9 856.5,692.9"/>
<polygon fill="#ffffbf" points="872.2,687.3 888,687.3 888,692.9 872.2,692.9"/>
<polygon fill="#fdae61" points="887.9,687.3 903.7,687.3 903.7,692.9 887.9,692.9"/>
<polygon fill="#ffffbf" points="903.6,687.3 910.2,687.3 910.2,692.9 903.6,692.9"/>
<polygon fill="#abd9e9" points="751.6,692.9 756.9,692.9 756.9,698.5 751.6,698.5"/>
<polygon fill="#a50026" points="756.9,692.9 762.2,692.9 762.2,698.5 756.9,698.5"/>
<polygon fill="#fdae61" points="762.1,692.9 767.4,692.9 767.4,698.5 762.1,698.5"/>
<polygon fill="#ffffbf" points="767.4,692.9 772.7,692.9 772.7,698.5 767.4,698.5"/>
<polygon fill="#abd9e9" points="772.6,692.9 777.9,692.9 777.9,698.5 772.6,698.5"/>
<polygon fill="#ffffbf" points="777.8,692.9 783.1,692.9 783.1,698.5 777.8,698.5"/>
<polygon fill="#abd9e9" points="830.3,692.9 846,692.9 846,698.5 830.3,698.5"/>
<polygon fill="#abd9e9" points="856.5,692.9 861.8,692.9 861.8,698.5 856.5,698.5"/>
<polygon fill="#abd9e9" points="866.9,692.9 872.2,692.9 872.2,698.5 866.9,698.5"/>
<polygon fill="#ffffbf" points="872.2,692.9 888,692.9 888,698.5 872.2,698.5"/>
<polygon fill="#fdae61" points="887.9,692.9 903.7,692.9 903.7,698.5 887.9,698.5"/>
<polygon fill="#ffffbf" points="903.6,692.9 910.2,692.9 910.2,698.5 903.6,698.5"/>
<polygon fill="#a50026" points="756.9,698.4 762.2,698.4 762.2,704.1 756.9,704.1"/>
<polygon fill="#fdae61" points="762.1,698.4 767.4,698.4 767.4,704.1 762.1,704.1"/>
<polygon fill="#abd9e9" points="767.4,698.4 777.9,698.4 777.9,704.1 767.4,704.1"/>
<polygon fill="#abd9e9" points="840.7,698.4 846,698.4 846,704.1 840.7,704.1"/>
<polygon fill="#abd9e9" points="856.5,698.4 867,698.4 867,704.1 856.5,704.1"/>
<polygon fill="#ffffbf" points="866.9,698.4 893.2,698.4 893.2,704.1 866.9,704.1"/>
<polygon fill="#fdae61" points="893.1,698.4 910.2,698.4 910.2,704.1 893.1,704.1"/>
<polygon fill="#fdae61" points="756.9,704 777.9,704 777.9,709.7 756.9,709.7"/>
<polygon fill="#abd9e9" points="783.1,704 788.4,704 788.4,709.7 783.1,709.7"/>
<polygon fill="#abd9e9" points="856.5,704 861.8,704 861.8,709.7 856.5,709.7"/>
<polygon fill="#ffffbf" points="861.7,704 872.2,704 872.2,709.7 861.7,709.7"/>
<polygon fill="#abd9e9" points="872.2,704 877.5,704 877.5,709.7 872.2,709.7"/>
<polygon fill="#ffffbf" points="877.4,704 910.2,704 910.2,709.7 877.4,709.7"/>
<polygon fill="#abd9e9" points="762.1,709.6 767.4,709.6 767.4,715.3 762.1,715.3"/>
<polygon fill="#a50026" points="767.4,709.6 772.7,709.6 772.7,715.3 767.4,715.3"/>
<polygon fill="#fdae61" points="772.6,709.6 777.9,709.6 777.9,715.3 772.6,715.3"/>
<polygon fill="#abd9e9" points="856.5,709.6 872.2,709.6 872.2,715.3 856.5,715.3"/>
<polygon fill="#ffffbf" points="872.2,709.6 898.4,709.6 898.4,715.3 872.2,715.3"/>
<polygon fill="#abd9e9" points="898.4,709.6 903.7,709.6 903.7,715.3 898.4,715.3"/>
<polygon fill="#ffffbf" points="903.6,709.6 910.2,709.6 910.2,715.3 903.6,715.3"/>
<polygon fill="#a50026" points="767.4,715.2 777.9,715.2 777.9,720.8 767.4,720.8"/>
<polygon fill="#abd9e9" points="777.8,715.2 783.1,715.2 783.1,720.8 777.8,720.8"/>
<polygon fill="#abd9e9" points="856.5,715.2 872.2,715.2 872.2,720.8 856.5,720.8"/>
<polygon fill="#ffffbf" points="872.2,715.2 893.2,715.2 893.2,720.8 872.2,720.8"/>
<polygon fill="#abd9e9" points="893.1,715.2 898.4,715.2 898.4,720.8 893.1,720.8"/>
<polygon fill="#2c7bb6" points="898.4,715.2 903.7,715.2 903.7,720.8 898.4,720.8"/>
<polygon fill="#abd9e9" points="903.6,715.2 910.2,715.2 910.2,720.8 903.6,720.8"/>
<polygon fill="#ffffbf" points="767.4,720.8 772.7,720.8 772.7,726.4 767.4,726.4"/>
<polygon fill="#a50026" points="772.6,720.8 777.9,720.8 777.9,726.4 772.6,726.4"/>
<polygon fill="#abd9e9" points="777.8,720.8 783.1,720.8 783.1,726.4 777.8,726.4"/>
<polygon fill="#abd9e9" points="861.7,720.8 877.5,720.8 877.5,726.4 861.7,726.4"/>
<polygon fill="#ffffbf" points="877.4,720.8 893.2,720.8 893.2,726.4 877.4,726.4"/>
<polygon fill="#abd9e9" points="893.1,720.8 910.2,720.8 910.2,726.4 893.1,726.4"/>
<polygon fill="#fdae61" points="772.6,726.4 783.1,726.4 783.1,732 772.6,732"/>
<polygon fill="#abd9e9" points="861.7,726.4 867,726.4 867,732 861.7,732"/>
<polygon fill="#abd9e9" points="887.9,726.4 898.4,726.4 898.4,732 887.9,732"/>
<polygon fill="#ffffbf" points="898.4,726.4 910.2,726.4 910.2,732 898.4,732"/>
<polygon fill="#fdae61" points="772.6,731.9 783.1,731.9 783.1,737.6 772.6,737.6"/>
<polygon fill="#ffffbf" points="783.1,731.9 788.4,731.9 788.4,737.6 783.1,737.6"/>
<polygon fill="#abd9e9" points="887.9,731.9 898.4,731.9 898.4,737.6 887.9,737.6"/>
<polygon fill="#ffffbf" points="898.4,731.9 910.2,731.9 910.2,737.6 898.4,737.6"/>
<polygon fill="#ffffbf" points="772.6,737.5 777.9,737.5 777.9,743.2 772.6,743.2"/>
<polygon fill="#a50026" points="777.8,737.5 783.1,737.5 783.1,743.2 777.8,743.2"/>
<polygon fill="#fdae61" points="783.1,737.5 788.4,737.5 788.4,743.2 783.1,743.2"/>
<polygon fill="#abd9e9" points="887.9,737.5 903.7,737.5 903.7,743.2 887.9,743.2"/>
<polygon fill="#ffffbf" points="903.6,737.5 910.2,737.5 910.2,743.2 903.6,743.2"/>
<polygon fill="#fdae61" points="777.8,743.1 788.4,743.1 788.4,748.8 777.8,748.8"/>
<polygon fill="#abd9e9" points="788.3,743.1 793.6,743.1 793.6,748.8 788.3,748.8"/>
<polygon fill="#abd9e9" points="893.1,743.1 910.2,743.1 910.2,748.8 893.1,748.8"/>
<polygon fill="#ffffbf" points="777.8,748.7 783.1,748.7 783.1,754.4 777.8,754.4"/>
<polygon fill="#a50026" points="783.1,748.7 788.4,748.7 788.4,754.4 783.1,754.4"/>
<polygon fill="#fdae61" points="788.3,748.7 793.6,748.7 793.6,754.4 788.3,754.4"/>
<polygon fill="#abd9e9" points="793.6,748.7 798.9,748.7 798.9,754.4 793.6,754.4"/>
<polygon fill="#abd9e9" points="898.4,748.7 910.2,748.7 910.2,754.4 898.4,754.4"/>
<polygon fill="#fdae61" points="783.1,754.3 788.4,754.3 788.4,759.9 783.1,759.9"/>
<polygon fill="#a50026" points="788.3,754.3 793.6,754.3 793.6,759.9 788.3,759.9"/>
<polygon fill="#ffffbf" points="793.6,754.3 798.9,754.3 798.9,759.9 793.6,759.9"/>
<polygon fill="#abd9e9" points="903.6,754.3 910.2,754.3 910.2,759.9 903.6,759.9"/>
<polygon fill="#a50026" points="788.3,759.9 793.6,759.9 793.6,765.5 788.3,765.5"/>
<polygon fill="#fdae61" points="793.6,759.9 798.9,759.9 798.9,765.5 793.6,765.5"/>
<polygon fill="#ffffbf" points="798.8,759.9 804.1,759.9 804.1,765.5 798.8,765.5"/>
<polygon fill="#abd9e9" points="804,759.9 809.3,759.9 809.3,765.5 804,765.5"/>
<polygon fill="#fdae61" points="788.3,765.5 793.6,765.5 793.6,771.1 788.3,771.1"/>
<polygon fill="#a50026" points="793.6,765.5 798.9,765.5 798.9,771.1 793.6,771.1"/>
<polygon fill="#fdae61" points="798.8,765.5 804.1,765.5 804.1,771.1 798.8,771.1"/>
<polygon fill="#ffffbf" points="804,765.5 809.3,765.5 809.3,771.1 804,771.1"/>
<polygon fill="#a50026" points="793.6,771 798.9,771 798.9,776.7 793.6,776.7"/>
<polygon fill="#fdae61" points="798.8,771 804.1,771 804.1,776.7 798.8,776.7"/>
<polygon fill="#ffffbf" points="804,771 809.3,771 809.3,776.7 804,776.7"/>
<polygon fill="#abd9e9" points="793.6,776.6 798.9,776.6 798.9,782.3 793.6,782.3"/>
<polygon fill="#a50026" points="798.8,776.6 804.1,776.6 804.1,782.3 798.8,782.3"/>
<polygon fill="#fdae61" points="804,776.6 809.3,776.6 809.3,782.3 804,782.3"/>
<polygon fill="#a50026" points="798.8,782.2 804.1,782.2 804.1,787.9 798.8,787.9"/>
<polygon fill="#fdae61" points="804,782.2 809.3,782.2 809.3,787.9 804,787.9"/>
<polygon fill="#ffffbf" points="809.3,782.2 814.6,782.2 814.6,787.9 809.3,787.9"/>
<polygon fill="#ffffbf" points="798.8,787.8 804.1,787.8 804.1,793.4 798.8,793.4"/>
<polygon fill="#a50026" points="804,787.8 809.3,787.8 809.3,793.4 804,793.4"/>
<polygon fill="#ffffbf" points="809.3,787.8 814.6,787.8 814.6,793.4 809.3,793.4"/>
<polygon fill="#abd9e9" points="814.5,787.8 830.3,787.8 830.3,793.4 814.5,793.4"/>
<polygon fill="#a50026" points="804,793.4 814.6,793.4 814.6,799 804,799"/>
<polygon fill="#fdae61" points="814.5,793.4 819.8,793.4 819.8,799 814.5,799"/>
<polygon fill="#ffffbf" points="819.8,793.4 825.1,793.4 825.1,799 819.8,799"/>
<polygon fill="#a50026" points="804,793.4 814.6,793.4 814.6,799 804,799"/>
<polygon fill="#fdae61" points="814.5,793.4 819.8,793.4 819.8,799 814.5,799"/>
<polygon fill="#ffffbf" points="819.8,793.4 825.1,793.4 825.1,799 819.8,799"/>
<polygon fill="#ffffbf" points="804,799 809.3,799 809.3,804.6 804,804.6"/>
<polygon fill="#a50026" points="809.3,799 819.8,799 819.8,804.6 809.3,804.6"/>
<polygon fill="#fdae61" points="819.8,799 825.1,799 825.1,804.6 819.8,804.6"/>
<polygon fill="#abd9e9" points="825,799 830.3,799 830.3,804.6 825,804.6"/>
<polygon fill="#ffffbf" points="809.3,804.6 814.6,804.6 814.6,810.2 809.3,810.2"/>
<polygon fill="#a50026" points="814.5,804.6 819.8,804.6 819.8,810.2 814.5,810.2"/>
<polygon fill="#fdae61" points="819.8,804.6 825.1,804.6 825.1,810.2 819.8,810.2"/>
<polygon fill="#ffffbf" points="825,804.6 830.3,804.6 830.3,810.2 825,810.2"/>
<polygon fill="#abd9e9" points="830.3,804.6 835.6,804.6 835.6,810.2 830.3,810.2"/>
<polygon fill="#abd9e9" points="809.3,810.1 814.6,810.1 814.6,815.8 809.3,815.8"/>
<polygon fill="#a50026" points="814.5,810.1 825.1,810.1 825.1,815.8 814.5,815.8"/>
<polygon fill="#ffffbf" points="825,810.1 835.6,810.1 835.6,815.8 825,815.8"/>
<polygon fill="#abd9e9" points="851.2,810.1 856.5,810.1 856.5,815.8 851.2,815.8"/>
<polygon fill="#abd9e9" points="809.3,815.7 814.6,815.7 814.6,821.4 809.3,821.4"/>
<polygon fill="#fdae61" points="814.5,815.7 819.8,815.7 819.8,821.4 814.5,821.4"/>
<polygon fill="#a50026" points="819.8,815.7 830.3,815.7 830.3,821.4 819.8,821.4"/>
<polygon fill="#ffffbf" points="830.3,815.7 840.8,815.7 840.8,821.4 830.3,821.4"/>
<polygon fill="#abd9e9" points="840.7,815.7 846,815.7 846,821.4 840.7,821.4"/>
<polygon fill="#abd9e9" points="814.5,821.3 819.8,821.3 819.8,827 814.5,827"/>
<polygon fill="#a50026" points="819.8,821.3 830.3,821.3 830.3,827 819.8,827"/>
<polygon fill="#fdae61" points="830.3,821.3 840.8,821.3 840.8,827 830.3,827"/>
<polygon fill="#ffffbf" points="840.7,821.3 846,821.3 846,827 840.7,827"/>
<polygon fill="#abd9e9" points="893.1,821.3 898.4,821.3 898.4,827 893.1,827"/>
<polygon fill="#fdae61" points="819.8,826.9 825.1,826.9 825.1,832.5 819.8,832.5"/>
<polygon fill="#a50026" points="825,826.9 835.6,826.9 835.6,832.5 825,832.5"/>
<polygon fill="#fdae61" points="835.5,826.9 846,826.9 846,832.5 835.5,832.5"/>
<polygon fill="#ffffbf" points="846,826.9 851.3,826.9 851.3,832.5 846,832.5"/>
<polygon fill="#abd9e9" points="851.2,826.9 861.8,826.9 861.8,832.5 851.2,832.5"/>
<polygon fill="#abd9e9" points="866.9,826.9 903.7,826.9 903.7,832.5 866.9,832.5"/>
<polygon fill="#fdae61" points="825,832.5 835.6,832.5 835.6,838.1 825,838.1"/>
<polygon fill="#a50026" points="835.5,832.5 840.8,832.5 840.8,838.1 835.5,838.1"/>
<polygon fill="#fdae61" points="840.7,832.5 856.5,832.5 856.5,838.1 840.7,838.1"/>
<polygon fill="#abd9e9" points="856.5,832.5 867,832.5 867,838.1 856.5,838.1"/>
<polygon fill="#ffffbf" points="872.2,832.5 877.5,832.5 877.5,838.1 872.2,838.1"/>
<polygon fill="#fdae61" points="877.4,832.5 882.7,832.5 882.7,838.1 877.4,838.1"/>
<polygon fill="#ffffbf" points="882.7,832.5 893.2,832.5 893.2,838.1 882.7,838.1"/>
<polygon fill="#abd9e9" points="893.1,832.5 898.4,832.5 898.4,838.1 893.1,838.1"/>
<polygon fill="#ffffbf" points="825,838.1 830.3,838.1 830.3,843.7 825,843.7"/>
<polygon fill="#a50026" points="830.3,838.1 840.8,838.1 840.8,843.7 830.3,843.7"/>
<polygon fill="#fdae61" points="840.7,838.1 861.8,838.1 861.8,843.7 840.7,843.7"/>
<polygon fill="#ffffbf" points="861.7,838.1 882.7,838.1 882.7,843.7 861.7,843.7"/>
<polygon fill="#fdae61" points="882.7,838.1 888,838.1 888,843.7 882.7,843.7"/>
<polygon fill="#a50026" points="887.9,838.1 893.2,838.1 893.2,843.7 887.9,843.7"/>
<polygon fill="#ffffbf" points="893.1,838.1 903.7,838.1 903.7,843.7 893.1,843.7"/>
<polygon fill="#abd9e9" points="903.6,838.1 910.2,838.1 910.2,843.7 903.6,843.7"/>
<polygon fill="#a50026" points="835.5,843.7 851.3,843.7 851.3,849.3 835.5,849.3"/>
<polygon fill="#fdae61" points="851.2,843.7 867,843.7 867,849.3 851.2,849.3"/>
<polygon fill="#ffffbf" points="866.9,843.7 882.7,843.7 882.7,849.3 866.9,849.3"/>
<polygon fill="#fdae61" points="882.7,843.7 893.2,843.7 893.2,849.3 882.7,849.3"/>
<polygon fill="#a50026" points="893.1,843.7 903.7,843.7 903.7,849.3 893.1,849.3"/>
<polygon fill="#ffffbf" points="903.6,843.7 910.2,843.7 910.2,849.3 903.6,849.3"/>
<polygon fill="#abd9e9" points="830.3,849.2 835.6,849.2 835.6,854.9 830.3,854.9"/>
<polygon fill="#a50026" points="840.7,849.2 861.8,849.2 861.8,854.9 840.7,854.9"/>
<polygon fill="#fdae61" points="861.7,849.2 898.4,849.2 898.4,854.9 861.7,854.9"/>
<polygon fill="#ffffbf" points="898.4,849.2 903.7,849.2 903.7,854.9 898.4,854.9"/>
<polygon fill="#fdae61" points="903.6,849.2 910.2,849.2 910.2,854.9 903.6,854.9"/>
<polygon fill="#fdae61" points="840.7,854.8 846,854.8 846,860.5 840.7,860.5"/>
<polygon fill="#a50026" points="846,854.8 867,854.8 867,860.5 846,860.5"/>
<polygon fill="#fdae61" points="866.9,854.8 872.2,854.8 872.2,860.5 866.9,860.5"/>
<polygon fill="#ffffbf" points="872.2,854.8 877.5,854.8 877.5,860.5 872.2,860.5"/>
<polygon fill="#fdae61" points="877.4,854.8 882.7,854.8 882.7,860.5 877.4,860.5"/>
<polygon fill="#ffffbf" points="882.7,854.8 893.2,854.8 893.2,860.5 882.7,860.5"/>
<polygon fill="#fdae61" points="893.1,854.8 910.2,854.8 910.2,860.5 893.1,860.5"/>
<polygon fill="#abd9e9" points="840.7,860.4 846,860.4 846,866.1 840.7,866.1"/>
<polygon fill="#a50026" points="846,860.4 867,860.4 867,866.1 846,866.1"/>
<polygon fill="#fdae61" points="866.9,860.4 882.7,860.4 882.7,866.1 866.9,866.1"/>
<polygon fill="#ffffbf" points="882.7,860.4 893.2,860.4 893.2,866.1 882.7,866.1"/>
<polygon fill="#fdae61" points="893.1,860.4 910.2,860.4 910.2,866.1 893.1,866.1"/>
<polygon fill="#a50026" points="851.2,866 856.5,866 856.5,871.6 851.2,871.6"/>
<polygon fill="#fdae61" points="856.5,866 867,866 867,871.6 856.5,871.6"/>
<polygon fill="#a50026" points="866.9,866 882.7,866 882.7,871.6 866.9,871.6"/>
<polygon fill="#ffffbf" points="882.7,866 888,866 888,871.6 882.7,871.6"/>
<polygon fill="#abd9e9" points="887.9,866 893.2,866 893.2,871.6 887.9,871.6"/>
<polygon fill="#fdae61" points="893.1,866 903.7,866 903.7,871.6 893.1,871.6"/>
<polygon fill="#ffffbf" points="903.6,866 910.2,866 910.2,871.6 903.6,871.6"/>
<polygon fill="#fdae61" points="856.5,871.6 861.8,871.6 861.8,877.2 856.5,877.2"/>
<polygon fill="#a50026" points="861.7,871.6 872.2,871.6 872.2,877.2 861.7,877.2"/>
<polygon fill="#fdae61" points="872.2,871.6 888,871.6 888,877.2 872.2,877.2"/>
<polygon fill="#ffffbf" points="887.9,871.6 910.2,871.6 910.2,877.2 887.9,877.2"/>
<polygon fill="#a50026" points="856.5,877.2 861.8,877.2 861.8,882.8 856.5,882.8"/>
<polygon fill="#ffffbf" points="861.7,877.2 867,877.2 867,882.8 861.7,882.8"/>
<polygon fill="#abd9e9" points="866.9,877.2 872.2,877.2 872.2,882.8 866.9,882.8"/>
<polygon fill="#ffffbf" points="872.2,877.2 877.5,877.2 877.5,882.8 872.2,882.8"/>
<polygon fill="#fdae61" points="877.4,877.2 882.7,877.2 882.7,882.8 877.4,882.8"/>
<polygon fill="#ffffbf" points="882.7,877.2 888,877.2 888,882.8 882.7,882.8"/>
<polygon fill="#abd9e9" points="893.1,877.2 898.4,877.2 898.4,882.8 893.1,882.8"/>
<polygon fill="#ffffbf" points="898.4,877.2 903.7,877.2 903.7,882.8 898.4,882.8"/>
<polygon fill="#fdae61" points="903.6,877.2 910.2,877.2 910.2,882.8 903.6,882.8"/>
<polygon fill="#abd9e9" points="877.4,882.8 882.7,882.8 882.7,888.4 877.4,888.4"/>
<polygon fill="#abd9e9" points="898.4,882.8 903.7,882.8 903.7,888.4 898.4,888.4"/>
<polygon fill="#fdae61" points="903.6,882.8 910.2,882.8 910.2,888.4 903.6,888.4"/>
<polygon fill="#abd9e9" points="903.6,888.3 910.2,888.3 910.2,894 903.6,894"/>
<polygon fill="#abd9e9" points="893.1,893.9 898.4,893.9 898.4,899.6 893.1,899.6"/>
<polygon fill="#abd9e9" points="935.1,1089.4 950.9,1089.4 950.9,1095.1 935.1,1095.1"/>
<polygon fill="#ffffbf" points="950.8,1089.4 956.1,1089.4 956.1,1095.1 950.8,1095.1"/>
<polygon fill="#abd9e9" points="956,1089.4 977.1,1089.4 977.1,1095.1 956,1095.1"/>
<polygon fill="#2c7bb6" points="977,1089.4 982.3,1089.4 982.3,1095.1 977,1095.1"/>
<polygon fill="#abd9e9" points="982.2,1089.4 1008.5,1089.4 1008.5,1095.1 982.2,1095.1"/>
<polygon fill="#fdae61" points="1008.5,1089.4 1019,1089.4 1019,1095.1 1008.5,1095.1"/>
<polygon fill="#a50026" points="1018.9,1089.4 1029.5,1089.4 1029.5,1095.1 1018.9,1095.1"/>
<polygon fill="#abd9e9" points="1029.4,1089.4 1087.1,1089.4 1087.1,1095.1 1029.4,1095.1"/>
<polygon fill="#abd9e9" points="940.3,1095 950.9,1095 950.9,1100.7 940.3,1100.7"/>
<polygon fill="#ffffbf" points="950.8,1095 956.1,1095 956.1,1100.7 950.8,1100.7"/>
<polygon fill="#abd9e9" points="956,1095 1003.3,1095 1003.3,1100.7 956,1100.7"/>
<polygon fill="#ffffbf" points="1003.2,1095 1008.5,1095 1008.5,1100.7 1003.2,1100.7"/>
<polygon fill="#fdae61" points="1008.5,1095 1019,1095 1019,1100.7 1008.5,1100.7"/>
<polygon fill="#a50026" points="1018.9,1095 1029.5,1095 1029.5,1100.7 1018.9,1100.7"/>
<polygon fill="#ffffbf" points="1029.4,1095 1034.7,1095 1034.7,1100.7 1029.4,1100.7"/>
<polygon fill="#abd9e9" points="1034.7,1095 1040,1095 1040,1100.7 1034.7,1100.7"/>
<polygon fill="#2c7bb6" points="1039.9,1095 1045.2,1095 1045.2,1100.7 1039.9,1100.7"/>
<polygon fill="#abd9e9" points="1045.1,1095 1087.1,1095 1087.1,1100.7 1045.1,1100.7"/>
<polygon fill="#ffffbf" points="950.8,1100.6 956.1,1100.6 956.1,1106.2 950.8,1106.2"/>
<polygon fill="#abd9e9" points="956,1100.6 992.8,1100.6 992.8,1106.2 956,1106.2"/>
<polygon fill="#ffffbf" points="992.7,1100.6 1008.5,1100.6 1008.5,1106.2 992.7,1106.2"/>
<polygon fill="#fdae61" points="1008.5,1100.6 1019,1100.6 1019,1106.2 1008.5,1106.2"/>
<polygon fill="#a50026" points="1018.9,1100.6 1029.5,1100.6 1029.5,1106.2 1018.9,1106.2"/>
<polygon fill="#abd9e9" points="1029.4,1100.6 1034.7,1100.6 1034.7,1106.2 1029.4,1106.2"/>
<polygon fill="#2c7bb6" points="1034.7,1100.6 1040,1100.6 1040,1106.2 1034.7,1106.2"/>
<polygon fill="#abd9e9" points="1039.9,1100.6 1087.1,1100.6 1087.1,1106.2 1039.9,1106.2"/>
<polygon fill="#abd9e9" points="950.8,1106.2 987.5,1106.2 987.5,1111.8 950.8,1111.8"/>
<polygon fill="#ffffbf" points="987.5,1106.2 992.8,1106.2 992.8,1111.8 987.5,1111.8"/>
<polygon fill="#fdae61" points="992.7,1106.2 1003.3,1106.2 1003.3,1111.8 992.7,1111.8"/>
<polygon fill="#ffffbf" points="1003.2,1106.2 1008.5,1106.2 1008.5,1111.8 1003.2,1111.8"/>
<polygon fill="#fdae61" points="1008.5,1106.2 1029.5,1106.2 1029.5,1111.8 1008.5,1111.8"/>
<polygon fill="#abd9e9" points="1029.4,1106.2 1034.7,1106.2 1034.7,1111.8 1029.4,1111.8"/>
<polygon fill="#2c7bb6" points="1034.7,1106.2 1040,1106.2 1040,1111.8 1034.7,1111.8"/>
<polygon fill="#abd9e9" points="1039.9,1106.2 1087.1,1106.2 1087.1,1111.8 1039.9,1111.8"/>
<polygon fill="#abd9e9" points="961.3,1111.8 987.5,1111.8 987.5,1117.4 961.3,1117.4"/>
<polygon fill="#ffffbf" points="987.5,1111.8 992.8,1111.8 992.8,1117.4 987.5,1117.4"/>
<polygon fill="#fdae61" points="992.7,1111.8 1019,1111.8 1019,1117.4 992.7,1117.4"/>
<polygon fill="#a50026" points="1018.9,1111.8 1024.2,1111.8 1024.2,1117.4 1018.9,1117.4"/>
<polygon fill="#ffffbf" points="1024.2,1111.8 1034.7,1111.8 1034.7,1117.4 1024.2,1117.4"/>
<polygon fill="#2c7bb6" points="1034.7,1111.8 1040,1111.8 1040,1117.4 1034.7,1117.4"/>
<polygon fill="#abd9e9" points="1039.9,1111.8 1076.6,1111.8 1076.6,1117.4 1039.9,1117.4"/>
<polygon fill="#abd9e9" points="940.3,1117.4 945.6,1117.4 945.6,1123 940.3,1123"/>
<polygon fill="#ffffbf" points="945.6,1117.4 950.9,1117.4 950.9,1123 945.6,1123"/>
<polygon fill="#abd9e9" points="950.8,1117.4 956.1,1117.4 956.1,1123 950.8,1123"/>
<polygon fill="#abd9e9" points="977,1117.4 982.3,1117.4 982.3,1123 977,1123"/>
<polygon fill="#ffffbf" points="982.2,1117.4 987.5,1117.4 987.5,1123 982.2,1123"/>
<polygon fill="#fdae61" points="987.5,1117.4 1013.8,1117.4 1013.8,1123 987.5,1123"/>
<polygon fill="#a50026" points="1013.7,1117.4 1029.5,1117.4 1029.5,1123 1013.7,1123"/>
<polygon fill="#fdae61" points="1029.4,1117.4 1034.7,1117.4 1034.7,1123 1029.4,1123"/>
<polygon fill="#2c7bb6" points="1034.7,1117.4 1040,1117.4 1040,1123 1034.7,1123"/>
<polygon fill="#abd9e9" points="1039.9,1117.4 1081.9,1117.4 1081.9,1123 1039.9,1123"/>
<polygon fill="#ffffbf" points="940.3,1122.9 950.9,1122.9 950.9,1128.6 940.3,1128.6"/>
<polygon fill="#abd9e9" points="950.8,1122.9 966.6,1122.9 966.6,1128.6 950.8,1128.6"/>
<polygon fill="#abd9e9" points="977,1122.9 982.3,1122.9 982.3,1128.6 977,1128.6"/>
<polygon fill="#fdae61" points="982.2,1122.9 1003.3,1122.9 1003.3,1128.6 982.2,1128.6"/>
<polygon fill="#a50026" points="1003.2,1122.9 1008.5,1122.9 1008.5,1128.6 1003.2,1128.6"/>
<polygon fill="#fdae61" points="1008.5,1122.9 1029.5,1122.9 1029.5,1128.6 1008.5,1128.6"/>
<polygon fill="#abd9e9" points="1029.4,1122.9 1087.1,1122.9 1087.1,1128.6 1029.4,1128.6"/>
<polygon fill="#abd9e9" points="940.3,1128.5 945.6,1128.5 945.6,1134.2 940.3,1134.2"/>
<polygon fill="#ffffbf" points="945.6,1128.5 950.9,1128.5 950.9,1134.2 945.6,1134.2"/>
<polygon fill="#abd9e9" points="950.8,1128.5 956.1,1128.5 956.1,1134.2 950.8,1134.2"/>
<polygon fill="#abd9e9" points="977,1128.5 982.3,1128.5 982.3,1134.2 977,1134.2"/>
<polygon fill="#fdae61" points="982.2,1128.5 987.5,1128.5 987.5,1134.2 982.2,1134.2"/>
<polygon fill="#abd9e9" points="987.5,1128.5 998,1128.5 998,1134.2 987.5,1134.2"/>
<polygon fill="#ffffbf" points="998,1128.5 1003.3,1128.5 1003.3,1134.2 998,1134.2"/>
<polygon fill="#2c7bb6" points="1003.2,1128.5 1013.8,1128.5 1013.8,1134.2 1003.2,1134.2"/>
<polygon fill="#ffffbf" points="1013.7,1128.5 1024.2,1128.5 1024.2,1134.2 1013.7,1134.2"/>
<polygon fill="#abd9e9" points="1024.2,1128.5 1040,1128.5 1040,1134.2 1024.2,1134.2"/>
<polygon fill="#ffffbf" points="1039.9,1128.5 1045.2,1128.5 1045.2,1134.2 1039.9,1134.2"/>
<polygon fill="#abd9e9" points="1045.1,1128.5 1066.2,1128.5 1066.2,1134.2 1045.1,1134.2"/>
<polygon fill="#ffffbf" points="1066.1,1128.5 1076.6,1128.5 1076.6,1134.2 1066.1,1134.2"/>
<polygon fill="#abd9e9" points="1076.6,1128.5 1092.4,1128.5 1092.4,1134.2 1076.6,1134.2"/>
<polygon fill="#abd9e9" points="945.6,1134.1 950.9,1134.1 950.9,1139.8 945.6,1139.8"/>
<polygon fill="#abd9e9" points="971.8,1134.1 977.1,1134.1 977.1,1139.8 971.8,1139.8"/>
<polygon fill="#ffffbf" points="977,1134.1 982.3,1134.1 982.3,1139.8 977,1139.8"/>
<polygon fill="#fdae61" points="982.2,1134.1 987.5,1134.1 987.5,1139.8 982.2,1139.8"/>
<polygon fill="#abd9e9" points="987.5,1134.1 1003.3,1134.1 1003.3,1139.8 987.5,1139.8"/>
<polygon fill="#2c7bb6" points="1003.2,1134.1 1019,1134.1 1019,1139.8 1003.2,1139.8"/>
<polygon fill="#abd9e9" points="1018.9,1134.1 1024.2,1134.1 1024.2,1139.8 1018.9,1139.8"/>
<polygon fill="#2c7bb6" points="1024.2,1134.1 1029.5,1134.1 1029.5,1139.8 1024.2,1139.8"/>
<polygon fill="#abd9e9" points="1029.4,1134.1 1034.7,1134.1 1034.7,1139.8 1029.4,1139.8"/>
<polygon fill="#ffffbf" points="1034.7,1134.1 1045.2,1134.1 1045.2,1139.8 1034.7,1139.8"/>
<polygon fill="#abd9e9" points="1045.1,1134.1 1066.2,1134.1 1066.2,1139.8 1045.1,1139.8"/>
<polygon fill="#ffffbf" points="1066.1,1134.1 1076.6,1134.1 1076.6,1139.8 1066.1,1139.8"/>
<polygon fill="#abd9e9" points="1076.6,1134.1 1092.4,1134.1 1092.4,1139.8 1076.6,1139.8"/>
<polygon fill="#abd9e9" points="945.6,1139.7 950.9,1139.7 950.9,1145.3 945.6,1145.3"/>
<polygon fill="#ffffbf" points="977,1139.7 982.3,1139.7 982.3,1145.3 977,1145.3"/>
<polygon fill="#fdae61" points="982.2,1139.7 987.5,1139.7 987.5,1145.3 982.2,1145.3"/>
<polygon fill="#abd9e9" points="987.5,1139.7 1003.3,1139.7 1003.3,1145.3 987.5,1145.3"/>
<polygon fill="#2c7bb6" points="1003.2,1139.7 1008.5,1139.7 1008.5,1145.3 1003.2,1145.3"/>
<polygon fill="#abd9e9" points="1008.5,1139.7 1019,1139.7 1019,1145.3 1008.5,1145.3"/>
<polygon fill="#2c7bb6" points="1018.9,1139.7 1029.5,1139.7 1029.5,1145.3 1018.9,1145.3"/>
<polygon fill="#abd9e9" points="1029.4,1139.7 1034.7,1139.7 1034.7,1145.3 1029.4,1145.3"/>
<polygon fill="#ffffbf" points="1034.7,1139.7 1050.4,1139.7 1050.4,1145.3 1034.7,1145.3"/>
<polygon fill="#abd9e9" points="1050.4,1139.7 1060.9,1139.7 1060.9,1145.3 1050.4,1145.3"/>
<polygon fill="#ffffbf" points="1060.9,1139.7 1081.9,1139.7 1081.9,1145.3 1060.9,1145.3"/>
<polygon fill="#abd9e9" points="1081.8,1139.7 1092.4,1139.7 1092.4,1145.3 1081.8,1145.3"/>
<polygon fill="#abd9e9" points="971.8,1145.3 977.1,1145.3 977.1,1150.9 971.8,1150.9"/>
<polygon fill="#fdae61" points="977,1145.3 982.3,1145.3 982.3,1150.9 977,1150.9"/>
<polygon fill="#ffffbf" points="982.2,1145.3 987.5,1145.3 987.5,1150.9 982.2,1150.9"/>
<polygon fill="#abd9e9" points="987.5,1145.3 992.8,1145.3 992.8,1150.9 987.5,1150.9"/>
<polygon fill="#2c7bb6" points="992.7,1145.3 1003.3,1145.3 1003.3,1150.9 992.7,1150.9"/>
<polygon fill="#abd9e9" points="1003.2,1145.3 1008.5,1145.3 1008.5,1150.9 1003.2,1150.9"/>
<polygon fill="#ffffbf" points="1008.5,1145.3 1013.8,1145.3 1013.8,1150.9 1008.5,1150.9"/>
<polygon fill="#abd9e9" points="1013.7,1145.3 1024.2,1145.3 1024.2,1150.9 1013.7,1150.9"/>
<polygon fill="#2c7bb6" points="1024.2,1145.3 1029.5,1145.3 1029.5,1150.9 1024.2,1150.9"/>
<polygon fill="#abd9e9" points="1029.4,1145.3 1034.7,1145.3 1034.7,1150.9 1029.4,1150.9"/>
<polygon fill="#ffffbf" points="1034.7,1145.3 1045.2,1145.3 1045.2,1150.9 1034.7,1150.9"/>
<polygon fill="#abd9e9" points="1045.1,1145.3 1060.9,1145.3 1060.9,1150.9 1045.1,1150.9"/>
<polygon fill="#ffffbf" points="1060.9,1145.3 1076.6,1145.3 1076.6,1150.9 1060.9,1150.9"/>
<polygon fill="#abd9e9" points="1076.6,1145.3 1081.9,1145.3 1081.9,1150.9 1076.6,1150.9"/>
<polygon fill="#ffffbf" points="1081.8,1145.3 1087.1,1145.3 1087.1,1150.9 1081.8,1150.9"/>
<polygon fill="#abd9e9" points="1087.1,1145.3 1097.6,1145.3 1097.6,1150.9 1087.1,1150.9"/>
<polygon fill="#abd9e9" points="971.8,1150.9 1008.5,1150.9 1008.5,1156.5 971.8,1156.5"/>
<polygon fill="#ffffbf" points="1008.5,1150.9 1019,1150.9 1019,1156.5 1008.5,1156.5"/>
<polygon fill="#abd9e9" points="1018.9,1150.9 1024.2,1150.9 1024.2,1156.5 1018.9,1156.5"/>
<polygon fill="#2c7bb6" points="1024.2,1150.9 1029.5,1150.9 1029.5,1156.5 1024.2,1156.5"/>
<polygon fill="#abd9e9" points="1029.4,1150.9 1034.7,1150.9 1034.7,1156.5 1029.4,1156.5"/>
<polygon fill="#ffffbf" points="1034.7,1150.9 1050.4,1150.9 1050.4,1156.5 1034.7,1156.5"/>
<polygon fill="#abd9e9" points="1050.4,1150.9 1055.7,1150.9 1055.7,1156.5 1050.4,1156.5"/>
<polygon fill="#ffffbf" points="1055.6,1150.9 1087.1,1150.9 1087.1,1156.5 1055.6,1156.5"/>
<polygon fill="#abd9e9" points="1087.1,1150.9 1102.9,1150.9 1102.9,1156.5 1087.1,1156.5"/>
<polygon fill="#abd9e9" points="966.5,1156.5 977.1,1156.5 977.1,1162.1 966.5,1162.1"/>
<polygon fill="#2c7bb6" points="977,1156.5 982.3,1156.5 982.3,1162.1 977,1162.1"/>
<polygon fill="#abd9e9" points="982.2,1156.5 1008.5,1156.5 1008.5,1162.1 982.2,1162.1"/>
<polygon fill="#ffffbf" points="1008.5,1156.5 1019,1156.5 1019,1162.1 1008.5,1162.1"/>
<polygon fill="#abd9e9" points="1018.9,1156.5 1024.2,1156.5 1024.2,1162.1 1018.9,1162.1"/>
<polygon fill="#2c7bb6" points="1024.2,1156.5 1029.5,1156.5 1029.5,1162.1 1024.2,1162.1"/>
<polygon fill="#abd9e9" points="1029.4,1156.5 1055.7,1156.5 1055.7,1162.1 1029.4,1162.1"/>
<polygon fill="#ffffbf" points="1055.6,1156.5 1087.1,1156.5 1087.1,1162.1 1055.6,1162.1"/>
<polygon fill="#abd9e9" points="1087.1,1156.5 1113.3,1156.5 1113.3,1162.1 1087.1,1162.1"/>
<polygon fill="#abd9e9" points="966.5,1162 977.1,1162 977.1,1167.7 966.5,1167.7"/>
<polygon fill="#2c7bb6" points="977,1162 982.3,1162 982.3,1167.7 977,1167.7"/>
<polygon fill="#abd9e9" points="982.2,1162 987.5,1162 987.5,1167.7 982.2,1167.7"/>
<polygon fill="#2c7bb6" points="987.5,1162 992.8,1162 992.8,1167.7 987.5,1167.7"/>
<polygon fill="#abd9e9" points="992.7,1162 1013.8,1162 1013.8,1167.7 992.7,1167.7"/>
<polygon fill="#ffffbf" points="1013.7,1162 1019,1162 1019,1167.7 1013.7,1167.7"/>
<polygon fill="#abd9e9" points="1018.9,1162 1071.4,1162 1071.4,1167.7 1018.9,1167.7"/>
<polygon fill="#ffffbf" points="1071.3,1162 1087.1,1162 1087.1,1167.7 1071.3,1167.7"/>
<polygon fill="#abd9e9" points="1087.1,1162 1113.3,1162 1113.3,1167.7 1087.1,1167.7"/>
<polygon fill="#abd9e9" points="966.5,1167.6 977.1,1167.6 977.1,1173.3 966.5,1173.3"/>
<polygon fill="#2c7bb6" points="977,1167.6 987.5,1167.6 987.5,1173.3 977,1173.3"/>
<polygon fill="#abd9e9" points="987.5,1167.6 1013.8,1167.6 1013.8,1173.3 987.5,1173.3"/>
<polygon fill="#ffffbf" points="1013.7,1167.6 1019,1167.6 1019,1173.3 1013.7,1173.3"/>
<polygon fill="#abd9e9" points="1018.9,1167.6 1029.5,1167.6 1029.5,1173.3 1018.9,1173.3"/>
<polygon fill="#2c7bb6" points="1029.4,1167.6 1034.7,1167.6 1034.7,1173.3 1029.4,1173.3"/>
<polygon fill="#abd9e9" points="1034.7,1167.6 1071.4,1167.6 1071.4,1173.3 1034.7,1173.3"/>
<polygon fill="#ffffbf" points="1071.3,1167.6 1092.4,1167.6 1092.4,1173.3 1071.3,1173.3"/>
<polygon fill="#abd9e9" points="1092.3,1167.6 1118.6,1167.6 1118.6,1173.3 1092.3,1173.3"/>
<polygon fill="#abd9e9" points="992.7,1173.2 1003.3,1173.2 1003.3,1178.9 992.7,1178.9"/>
<polygon fill="#2c7bb6" points="1003.2,1173.2 1008.5,1173.2 1008.5,1178.9 1003.2,1178.9"/>
<polygon fill="#ffffbf" points="1008.5,1173.2 1019,1173.2 1019,1178.9 1008.5,1178.9"/>
<polygon fill="#abd9e9" points="1018.9,1173.2 1029.5,1173.2 1029.5,1178.9 1018.9,1178.9"/>
<polygon fill="#2c7bb6" points="1029.4,1173.2 1034.7,1173.2 1034.7,1178.9 1029.4,1178.9"/>
<polygon fill="#abd9e9" points="1034.7,1173.2 1060.9,1173.2 1060.9,1178.9 1034.7,1178.9"/>
<polygon fill="#2c7bb6" points="1060.9,1173.2 1066.2,1173.2 1066.2,1178.9 1060.9,1178.9"/>
<polygon fill="#abd9e9" points="1066.1,1173.2 1071.4,1173.2 1071.4,1178.9 1066.1,1178.9"/>
<polygon fill="#ffffbf" points="1071.3,1173.2 1097.6,1173.2 1097.6,1178.9 1071.3,1178.9"/>
<polygon fill="#abd9e9" points="1097.6,1173.2 1118.6,1173.2 1118.6,1178.9 1097.6,1178.9"/>
<polygon fill="#abd9e9" points="961.3,1178.8 966.6,1178.8 966.6,1184.4 961.3,1184.4"/>
<polygon fill="#abd9e9" points="998,1178.8 1045.2,1178.8 1045.2,1184.4 998,1184.4"/>
<polygon fill="#2c7bb6" points="1045.1,1178.8 1050.4,1178.8 1050.4,1184.4 1045.1,1184.4"/>
<polygon fill="#abd9e9" points="1050.4,1178.8 1071.4,1178.8 1071.4,1184.4 1050.4,1184.4"/>
<polygon fill="#ffffbf" points="1071.3,1178.8 1102.9,1178.8 1102.9,1184.4 1071.3,1184.4"/>
<polygon fill="#abd9e9" points="1102.8,1178.8 1123.8,1178.8 1123.8,1184.4 1102.8,1184.4"/>
<polygon fill="#abd9e9" points="998,1184.4 1029.5,1184.4 1029.5,1190 998,1190"/>
<polygon fill="#ffffbf" points="1029.4,1184.4 1034.7,1184.4 1034.7,1190 1029.4,1190"/>
<polygon fill="#abd9e9" points="1034.7,1184.4 1045.2,1184.4 1045.2,1190 1034.7,1190"/>
<polygon fill="#2c7bb6" points="1045.1,1184.4 1060.9,1184.4 1060.9,1190 1045.1,1190"/>
<polygon fill="#abd9e9" points="1060.9,1184.4 1076.6,1184.4 1076.6,1190 1060.9,1190"/>
<polygon fill="#ffffbf" points="1076.6,1184.4 1092.4,1184.4 1092.4,1190 1076.6,1190"/>
<polygon fill="#abd9e9" points="1092.3,1184.4 1123.8,1184.4 1123.8,1190 1092.3,1190"/>
<polygon fill="#abd9e9" points="998,1190 1008.5,1190 1008.5,1195.6 998,1195.6"/>
<polygon fill="#ffffbf" points="1008.5,1190 1013.8,1190 1013.8,1195.6 1008.5,1195.6"/>
<polygon fill="#abd9e9" points="1013.7,1190 1029.5,1190 1029.5,1195.6 1013.7,1195.6"/>
<polygon fill="#ffffbf" points="1029.4,1190 1034.7,1190 1034.7,1195.6 1029.4,1195.6"/>
<polygon fill="#abd9e9" points="1034.7,1190 1050.4,1190 1050.4,1195.6 1034.7,1195.6"/>
<polygon fill="#2c7bb6" points="1050.4,1190 1060.9,1190 1060.9,1195.6 1050.4,1195.6"/>
<polygon fill="#abd9e9" points="1060.9,1190 1076.6,1190 1076.6,1195.6 1060.9,1195.6"/>
<polygon fill="#ffffbf" points="1076.6,1190 1092.4,1190 1092.4,1195.6 1076.6,1195.6"/>
<polygon fill="#abd9e9" points="1092.3,1190 1123.8,1190 1123.8,1195.6 1092.3,1195.6"/>
<polygon fill="#abd9e9" points="998,1195.6 1013.8,1195.6 1013.8,1201.2 998,1201.2"/>
<polygon fill="#2c7bb6" points="1013.7,1195.6 1019,1195.6 1019,1201.2 1013.7,1201.2"/>
<polygon fill="#abd9e9" points="1018.9,1195.6 1024.2,1195.6 1024.2,1201.2 1018.9,1201.2"/>
<polygon fill="#ffffbf" points="1024.2,1195.6 1040,1195.6 1040,1201.2 1024.2,1201.2"/>
<polygon fill="#abd9e9" points="1039.9,1195.6 1050.4,1195.6 1050.4,1201.2 1039.9,1201.2"/>
<polygon fill="#2c7bb6" points="1050.4,1195.6 1055.7,1195.6 1055.7,1201.2 1050.4,1201.2"/>
<polygon fill="#abd9e9" points="1055.6,1195.6 1071.4,1195.6 1071.4,1201.2 1055.6,1201.2"/>
<polygon fill="#ffffbf" points="1071.3,1195.6 1081.9,1195.6 1081.9,1201.2 1071.3,1201.2"/>
<polygon fill="#abd9e9" points="1081.8,1195.6 1087.1,1195.6 1087.1,1201.2 1081.8,1201.2"/>
<polygon fill="#ffffbf" points="1087.1,1195.6 1092.4,1195.6 1092.4,1201.2 1087.1,1201.2"/>
<polygon fill="#abd9e9" points="1092.3,1195.6 1129.1,1195.6 1129.1,1201.2 1092.3,1201.2"/>
<polygon fill="#abd9e9" points="998,1201.1 1029.5,1201.1 1029.5,1206.8 998,1206.8"/>
<polygon fill="#ffffbf" points="1029.4,1201.1 1040,1201.1 1040,1206.8 1029.4,1206.8"/>
<polygon fill="#abd9e9" points="1039.9,1201.1 1050.4,1201.1 1050.4,1206.8 1039.9,1206.8"/>
<polygon fill="#2c7bb6" points="1050.4,1201.1 1060.9,1201.1 1060.9,1206.8 1050.4,1206.8"/>
<polygon fill="#abd9e9" points="1060.9,1201.1 1097.6,1201.1 1097.6,1206.8 1060.9,1206.8"/>
<polygon fill="#2c7bb6" points="1097.6,1201.1 1108.1,1201.1 1108.1,1206.8 1097.6,1206.8"/>
<polygon fill="#abd9e9" points="1108,1201.1 1129.1,1201.1 1129.1,1206.8 1108,1206.8"/>
<polygon fill="#abd9e9" points="992.7,1206.7 1034.7,1206.7 1034.7,1212.4 992.7,1212.4"/>
<polygon fill="#ffffbf" points="1034.7,1206.7 1040,1206.7 1040,1212.4 1034.7,1212.4"/>
<polygon fill="#abd9e9" points="1039.9,1206.7 1055.7,1206.7 1055.7,1212.4 1039.9,1212.4"/>
<polygon fill="#2c7bb6" points="1055.6,1206.7 1060.9,1206.7 1060.9,1212.4 1055.6,1212.4"/>
<polygon fill="#abd9e9" points="1060.9,1206.7 1092.4,1206.7 1092.4,1212.4 1060.9,1212.4"/>
<polygon fill="#2c7bb6" points="1092.3,1206.7 1108.1,1206.7 1108.1,1212.4 1092.3,1212.4"/>
<polygon fill="#abd9e9" points="1108,1206.7 1129.1,1206.7 1129.1,1212.4 1108,1212.4"/>
<polygon fill="#abd9e9" points="987.5,1212.3 1076.6,1212.3 1076.6,1218 987.5,1218"/>
<polygon fill="#2c7bb6" points="1076.6,1212.3 1081.9,1212.3 1081.9,1218 1076.6,1218"/>
<polygon fill="#abd9e9" points="1081.8,1212.3 1118.6,1212.3 1118.6,1218 1081.8,1218"/>
<polygon fill="#abd9e9" points="1129,1212.3 1134.3,1212.3 1134.3,1218 1129,1218"/>
<polygon fill="#abd9e9" points="1008.5,1217.9 1024.2,1217.9 1024.2,1223.5 1008.5,1223.5"/>
<polygon fill="#2c7bb6" points="1024.2,1217.9 1029.5,1217.9 1029.5,1223.5 1024.2,1223.5"/>
<polygon fill="#abd9e9" points="1029.4,1217.9 1050.4,1217.9 1050.4,1223.5 1029.4,1223.5"/>
<polygon fill="#2c7bb6" points="1050.4,1217.9 1055.7,1217.9 1055.7,1223.5 1050.4,1223.5"/>
<polygon fill="#abd9e9" points="1055.6,1217.9 1076.6,1217.9 1076.6,1223.5 1055.6,1223.5"/>
<polygon fill="#2c7bb6" points="1076.6,1217.9 1092.4,1217.9 1092.4,1223.5 1076.6,1223.5"/>
<polygon fill="#abd9e9" points="1092.3,1217.9 1102.9,1217.9 1102.9,1223.5 1092.3,1223.5"/>
<polygon fill="#2c7bb6" points="1102.8,1217.9 1108.1,1217.9 1108.1,1223.5 1102.8,1223.5"/>
<polygon fill="#abd9e9" points="1108,1217.9 1113.3,1217.9 1113.3,1223.5 1108,1223.5"/>
<polygon fill="#abd9e9" points="977,1223.5 982.3,1223.5 982.3,1229.1 977,1229.1"/>
<polygon fill="#abd9e9" points="1008.5,1223.5 1024.2,1223.5 1024.2,1229.1 1008.5,1229.1"/>
<polygon fill="#2c7bb6" points="1024.2,1223.5 1029.5,1223.5 1029.5,1229.1 1024.2,1229.1"/>
<polygon fill="#abd9e9" points="1029.4,1223.5 1034.7,1223.5 1034.7,1229.1 1029.4,1229.1"/>
<polygon fill="#ffffbf" points="1034.7,1223.5 1040,1223.5 1040,1229.1 1034.7,1229.1"/>
<polygon fill="#abd9e9" points="1039.9,1223.5 1045.2,1223.5 1045.2,1229.1 1039.9,1229.1"/>
<polygon fill="#ffffbf" points="1045.1,1223.5 1050.4,1223.5 1050.4,1229.1 1045.1,1229.1"/>
<polygon fill="#2c7bb6" points="1050.4,1223.5 1055.7,1223.5 1055.7,1229.1 1050.4,1229.1"/>
<polygon fill="#abd9e9" points="1055.6,1223.5 1071.4,1223.5 1071.4,1229.1 1055.6,1229.1"/>
<polygon fill="#2c7bb6" points="1071.3,1223.5 1076.6,1223.5 1076.6,1229.1 1071.3,1229.1"/>
<polygon fill="#abd9e9" points="1076.6,1223.5 1081.9,1223.5 1081.9,1229.1 1076.6,1229.1"/>
<polygon fill="#2c7bb6" points="1081.8,1223.5 1097.6,1223.5 1097.6,1229.1 1081.8,1229.1"/>
<polygon fill="#abd9e9" points="1097.6,1223.5 1102.9,1223.5 1102.9,1229.1 1097.6,1229.1"/>
<polygon fill="#abd9e9" points="1008.5,1229.1 1024.2,1229.1 1024.2,1234.7 1008.5,1234.7"/>
<polygon fill="#2c7bb6" points="1024.2,1229.1 1029.5,1229.1 1029.5,1234.7 1024.2,1234.7"/>
<polygon fill="#abd9e9" points="1029.4,1229.1 1034.7,1229.1 1034.7,1234.7 1029.4,1234.7"/>
<polygon fill="#ffffbf" points="1034.7,1229.1 1050.4,1229.1 1050.4,1234.7 1034.7,1234.7"/>
<polygon fill="#abd9e9" points="1050.4,1229.1 1071.4,1229.1 1071.4,1234.7 1050.4,1234.7"/>
<polygon fill="#2c7bb6" points="1071.3,1229.1 1087.1,1229.1 1087.1,1234.7 1071.3,1234.7"/>
<polygon fill="#abd9e9" points="1087.1,1229.1 1102.9,1229.1 1102.9,1234.7 1087.1,1234.7"/>
<polygon fill="#abd9e9" points="1008.5,1234.7 1024.2,1234.7 1024.2,1240.3 1008.5,1240.3"/>
<polygon fill="#2c7bb6" points="1024.2,1234.7 1029.5,1234.7 1029.5,1240.3 1024.2,1240.3"/>
<polygon fill="#abd9e9" points="1029.4,1234.7 1034.7,1234.7 1034.7,1240.3 1029.4,1240.3"/>
<polygon fill="#ffffbf" points="1034.7,1234.7 1050.4,1234.7 1050.4,1240.3 1034.7,1240.3"/>
<polygon fill="#abd9e9" points="1050.4,1234.7 1081.9,1234.7 1081.9,1240.3 1050.4,1240.3"/>
<polygon fill="#abd9e9" points="1008.5,1240.2 1034.7,1240.2 1034.7,1245.9 1008.5,1245.9"/>
<polygon fill="#ffffbf" points="1034.7,1240.2 1050.4,1240.2 1050.4,1245.9 1034.7,1245.9"/>
<polygon fill="#abd9e9" points="1050.4,1240.2 1076.6,1240.2 1076.6,1245.9 1050.4,1245.9"/>
<polygon fill="#abd9e9" points="1008.5,1245.8 1066.2,1245.8 1066.2,1251.5 1008.5,1251.5"/>
<polygon fill="#abd9e9" points="1013.7,1251.4 1024.2,1251.4 1024.2,1257.1 1013.7,1257.1"/>
<polygon fill="#2c7bb6" points="1024.2,1251.4 1029.5,1251.4 1029.5,1257.1 1024.2,1257.1"/>
<polygon fill="#abd9e9" points="1029.4,1251.4 1034.7,1251.4 1034.7,1257.1 1029.4,1257.1"/>
<polygon fill="#abd9e9" points="1045.1,1251.4 1066.2,1251.4 1066.2,1257.1 1045.1,1257.1"/>
<polygon fill="#abd9e9" points="1055.6,1257 1066.2,1257 1066.2,1262.6 1055.6,1262.6"/>
<polygon fill="#abd9e9" points="945.2,267.6 955.8,267.6 955.8,273.5 945.2,273.5"/>
<polygon fill="#abd9e9" points="951.1,268.8 965.2,268.8 965.2,279.4 951.1,279.4"/>
<polygon fill="#abd9e9" points="951.1,285.3 960.5,285.3 960.5,290.7 951.1,290.7"/>
<polygon fill="#abd9e9" points="902.8,251.6 913.4,251.6 913.4,256.3 902.8,256.3"/>
<polygon fill="#abd9e9" points="935.8,251.6 945.2,251.6 945.2,257 935.8,257"/>
<polygon fill="#abd9e9" points="835.1,436.5 841,436.5 841,442.1 835.1,442.1"/>
<polygon fill="#abd9e9" points="829.9,442.1 835.8,442.1 835.8,451.5 829.9,451.5"/>
<polygon fill="#ffffbf" points="939.3,257 945.2,257 945.2,261.8 939.3,261.8"/>
</g>
<g fill="none" stroke="#ffff00" stroke-width="1.2" stroke-linejoin="round" stroke-linecap="round">
<polygon points="908.7,244.6 919.3,247.6 918.6,254.7 904,261.8 902.8,271.2 909.9,280.6 914.6,275.9 929.9,270 938.8,265.3 935.3,255.9 941.7,250.7 946.4,255.9 944,264.1 960.5,264.1 972.2,270 979.3,280.6 981.6,286 993.4,286.4 1021.6,286.4 1035.7,292.3 1052.2,296.3 1066.3,293 1075.7,286.4 1089.8,286.4 1113.3,283.6 1113.3,285.5 1099.2,288.8 1103.9,298.2 1125.1,302.9 1133.3,308.8 1134.5,322.9 1129.8,328.8 1154.5,331.1 1165.1,339.4 1174.5,349.9 1185.1,359.4 1195.7,369.9 1207.4,378.2 1210,382.4 1212.3,389.9 1240.6,390.6 1280.5,391.3 1277.7,403.5 1271.6,410.6 1271.1,427 1277.7,441.1 1275.1,457.6 1266.4,470.5 1273.5,474.5 1280.5,470.5 1297,470.5 1307.6,468.2 1307.6,457.6 1317,443.5 1322.9,430.6 1330.6,423.7 1338.2,430.6 1344,452.9 1347.6,470.5 1355.8,476.4 1364.5,483.5 1364.5,497.6 1358.2,507 1372.3,515.2 1375.8,521.1 1391.1,525.8 1396.3,530.5 1392.3,544.6 1402.8,538 1419.3,537.1 1430,542.3 1437.1,544.7 1444.1,549.4 1453.5,551.7 1459.4,555.3 1468.8,551.7 1468.8,556.4 1464.1,558.8 1473.5,561.1 1477,567 1478.2,575.3 1485.3,577.6 1493.5,574.1 1501.7,575.3 1512.3,578.8 1521.7,583.5 1533.5,584.7 1538.2,587.6 1547.6,587.6 1559.4,585.6 1568.8,586.1 1577,589.4 1586.4,596.4 1595.8,601.7 1605.2,605.8 1612.3,611.7 1618.2,619.9 1625.2,625.8 1629.9,631.7 1639.3,635.2 1647.5,636.4 1659.3,635.8 1667.5,638.2 1671.1,647 1674.6,657.6 1676.9,667 1679.3,679.9 1681.1,697 1679.9,714.6 1674.6,726.4 1668.7,732.3 1664,738.2 1659.3,742.9 1654,747.6 1648.7,753.4 1648.7,759.3 1638.1,762.9 1633.4,769.9 1632.3,777 1625.2,781.7 1621.7,791.1 1617,799.3 1617,804 1611.7,808.7 1606.4,813.4 1595.8,819.3 1594.6,826.4 1594.6,844 1592.3,849.9 1592.9,861.6 1595.8,867.5 1595.8,888.7 1592.3,894 1590.5,917.5 1581.7,925.8 1578.8,932.8 1579.3,950.4 1577.6,959.9 1571.1,964.6 1568.8,974 1564.1,982.2 1558.2,988.1 1553.5,996.3 1551.1,1002.2 1551.1,1015.1 1541.7,1017.5 1533.5,1023.4 1530,1031.6 1530,1036.3 1512.3,1036.9 1495.9,1038.6 1485.3,1041 1474.7,1045.7 1465.3,1050.4 1458.2,1055.1 1444.1,1057.5 1430,1063.3 1406.4,1085 1393.4,1094.4 1391.1,1108.5 1392.3,1123.8 1393.4,1136.7 1389.9,1155.6 1385.2,1162.6 1374.6,1170.8 1367.6,1179.1 1361.7,1190.8 1358.2,1199.1 1351.1,1209.6 1346.4,1216.7 1338.2,1227.3 1322.9,1236.7 1315.8,1243.8 1311.1,1254.3 1306.4,1264.9 1297,1273.2 1288.8,1282 1285.8,1287.5 1270.5,1299.3 1258.7,1304 1230.5,1301.7 1214,1295.8 1188.2,1284 1184.6,1269.9 1183.4,1298.1 1202.3,1304 1212.8,1311.1 1211.7,1320.5 1208.1,1328.7 1214,1334.6 1222.3,1336.9 1223.4,1346.3 1217.5,1358.1 1209.3,1367.5 1199.9,1378.1 1185.8,1384 1164.6,1389.8 1122.3,1394.5 1103.5,1392.2 1103.5,1402.8 1108.2,1409.8 1103.5,1419.2 1101.1,1431 1103.5,1438.1 1094.1,1440.4 1068.2,1443.2 1047,1435.7 1043.5,1445.1 1046.9,1462.3 1068.1,1467 1076.3,1464.6 1077,1479.9 1061,1481.1 1049.3,1490.5 1041,1504.6 1039.9,1518.7 1032.8,1528.1 1009.3,1532.8 999.9,1542.2 992.8,1551.7 995.2,1563.4 1009.3,1572.8 1032.8,1576.3 1034,1586.9 1025.7,1598.7 1009.3,1605.7 992.8,1619.9 991.6,1636.3 976.4,1645.7 962.2,1650.4 957.5,1666.9 964.6,1678.7 976.4,1692.8 976.9,1691.8 957.9,1693.4 950,1698.1 924.6,1699.7 921.5,1726.6 905.6,1726.6 899.3,1717.1 893,1717.1 885.1,1704.5 891.4,1695 891.4,1688.6 881.9,1685.5 881.9,1671.2 872.4,1671.2 872.4,1677.6 864.5,1676 862.9,1663.3 861.3,1653.8 855,1650.7 861.3,1644.3 861.3,1638 848.6,1636.4 845.5,1628.5 836,1625.3 836,1615.8 845.5,1609.5 848.6,1600 861.1,1591.6 851.7,1589.3 851.7,1579.9 861.1,1577.5 861.1,1570.5 851.7,1568.1 837.6,1570.5 824.7,1570.5 823.5,1565.8 837.6,1561.1 851.7,1558.7 865.8,1563.4 865.8,1551.7 882.3,1546.9 882.3,1537.5 877.6,1535.2 879.9,1525.8 888.2,1523.4 888.2,1515.2 879.9,1504.6 882.3,1495.2 882.3,1483.4 892.9,1469.3 892.9,1459.9 882.3,1452.9 870.5,1455.2 863.5,1457.6 863.5,1450.5 861.1,1438.8 865.8,1417.6 870.5,1415.2 874,1403.5 868.2,1394.1 868.2,1377.6 865.8,1365.9 867,1351.7 875.2,1344.7 882.3,1340 883.5,1325.9 889.3,1314.1 898.7,1300 900.6,1289.9 906.4,1273.4 912.3,1252.2 910,1235.8 908.8,1200.5 913.5,1177 911.1,1169.9 910,1173.3 914.7,1156.9 919.4,1140.4 922.9,1120.4 927.6,1106.3 929.4,1091 932.3,1082.2 930.6,1070.4 930.6,1058.6 933.5,1050.4 929.4,1046.9 930,1039.8 935.3,1036.3 936.5,1026.9 939.4,1012.8 941.2,1002.2 938.8,991.6 939.4,976.3 937.6,959.9 935.8,941.6 934.6,932.2 924,925.2 914.6,918.1 913.4,914.6 909.9,907.5 901.7,902.8 892.3,897 880.5,893.4 868.7,887.5 859.3,882.8 852.3,878.1 841.7,871.1 833.5,866.4 827.6,858.1 820.5,853.4 818.2,848.7 812.3,842.9 811.1,837 807.6,832.3 812.3,825.2 811.1,820.5 805.2,812.3 800.5,804.1 795.8,797 792.3,789.3 788.8,781.1 784.1,771.7 780.5,764.6 777,755.2 772.3,745.8 768.8,737.6 765.3,729.4 760.6,721.1 758.2,712.9 753.5,705.8 747.6,697.6 741.7,691.7 737,681.1 732.3,675.3 725.3,670.6 714.7,665.3 710,658.8 708.8,654.7 714.1,649.4 713.5,645.9 707.6,638.8 705.3,630.6 704.1,621.2 709.4,611.8 715.3,604.1 724.1,600 725.3,596.9 725.3,589.8 713.5,575.7 717,559.3 713.5,546.3 721.8,533.4 725.3,521.6 731.2,504 741.7,498.1 753.5,495.8 758.2,482.8 762.9,472.2 768.8,465.2 777,462.8 780.5,453.4 791.1,439.3 785.3,426.4 788.8,408.7 785.3,392.3 786.4,371.1 778.2,358.2 781.7,349.9 791.1,347.6 786.4,333.5 799.4,328.8 809.9,320.5 815.8,312.3 825.2,310 825.2,298.2 827.6,285.3 840.5,274.7 855.8,268.8 878.2,264.1 888.7,257 898.1,246.5"/>
<polygon points="908.7,285.3 915.8,293.5 919.3,302.9 918.1,317 911.1,320.5 902.8,317 898.1,305.3 900.5,294.7"/>
<polygon points="1334.6,1195.5 1339.3,1201.4 1349.9,1199.1 1348.7,1207.3 1342.9,1214.4 1339.3,1222.6 1334.6,1228.5 1322.9,1234.3 1318.2,1236.7 1315.8,1235.5 1322.9,1224.9 1332.3,1214.4 1334.6,1202.6"/>
<polygon fill="#fdae61" stroke="none" points="488.9,519.9 493.8,519.9 493.8,524.4 488.9,524.4"/>
<polygon fill="#a50026" stroke="none" points="494,525 498.9,525 498.9,530.7 494,530.7"/>
<polygon fill="#a50026" stroke="none" points="499.1,530.9 504.8,530.9 504.8,537 499.1,537"/>
<polygon fill="#a50026" stroke="none" points="494,537 498.9,537 498.9,541.9 494,541.9"/>
<polygon fill="#fdae61" stroke="none" points="499.1,537 504.8,537 504.8,541.9 499.1,541.9"/>
<polygon fill="#2c7bb6" stroke="none" points="494,541.9 498.9,541.9 498.9,548 494,548"/>
<polygon fill="#a50026" stroke="none" points="505,525 510.1,525 510.1,530.7 505,530.7"/>
<polygon fill="#a50026" stroke="none" points="515,530.9 520.1,530.9 520.1,537 515,537"/>
<rect x="846" y="1603.4" width="5.2" height="5.6" fill="#2c7bb6" stroke="none"/>
<rect x="849.7" y="1556.2" width="5.2" height="5.6" fill="#2c7bb6" stroke="none"/>
<rect x="839.1" y="1611.9" width="5.2" height="5.6" fill="#2c7bb6" stroke="none"/>
<rect x="863.9" y="1706.7" width="5.2" height="5.6" fill="#2c7bb6" stroke="none"/>
<rect x="853.7" y="1686.2" width="5.2" height="5.6" fill="#2c7bb6" stroke="none"/>
<rect x="872.7" y="1709.4" width="5.2" height="5.6" fill="#2c7bb6" stroke="none"/>
<rect x="868.3" y="1570.8" width="5.2" height="5.6" fill="#2c7bb6" stroke="none"/>
<rect x="876.8" y="1727.6" width="5.2" height="5.6" fill="#2c7bb6" stroke="none"/>
<rect x="866.4" y="1552.6" width="5.2" height="5.6" fill="#2c7bb6" stroke="none"/>
<rect x="958.5" y="1765.5" width="5.2" height="5.6" fill="#2c7bb6" stroke="none"/>
<rect x="940.6" y="1751" width="5.2" height="5.6" fill="#2c7bb6" stroke="none"/>
<rect x="862.5" y="1526" width="5.2" height="5.6" fill="#2c7bb6" stroke="none"/>
<rect x="877.6" y="1688.6" width="5.2" height="5.6" fill="#2c7bb6" stroke="none"/>
<rect x="851.6" y="1494.6" width="5.2" height="5.6" fill="#2c7bb6" stroke="none"/>
<rect x="852.4" y="1566.3" width="5.2" height="5.6" fill="#2c7bb6" stroke="none"/>
<rect x="860.9" y="1547.3" width="5.2" height="5.6" fill="#2c7bb6" stroke="none"/>
<rect x="905.8" y="1726.7" width="5.2" height="5.6" fill="#2c7bb6" stroke="none"/>
<rect x="852.4" y="1674.4" width="5.2" height="5.6" fill="#2c7bb6" stroke="none"/>
<rect x="950.6" y="1759.9" width="5.2" height="5.6" fill="#2c7bb6" stroke="none"/>
<rect x="857.5" y="1492.7" width="5.2" height="5.6" fill="#2c7bb6" stroke="none"/>
<rect x="844.6" y="1577" width="5.2" height="5.6" fill="#2c7bb6" stroke="none"/>
<rect x="867.3" y="1641.2" width="5.2" height="5.6" fill="#2c7bb6" stroke="none"/>
<rect x="862.2" y="1558.4" width="5.2" height="5.6" fill="#2c7bb6" stroke="none"/>
<rect x="862.5" y="1514.7" width="5.2" height="5.6" fill="#2c7bb6" stroke="none"/>
<rect x="855.1" y="1504.4" width="5.2" height="5.6" fill="#2c7bb6" stroke="none"/>
<rect x="888.3" y="1689.6" width="5.2" height="5.6" fill="#2c7bb6" stroke="none"/>
<rect x="871.9" y="1538.6" width="5.2" height="5.6" fill="#2c7bb6" stroke="none"/>
<rect x="985.7" y="1777.7" width="5.2" height="5.6" fill="#2c7bb6" stroke="none"/>
<rect x="861.1" y="1577.8" width="5.2" height="5.6" fill="#2c7bb6" stroke="none"/>
<rect x="845.2" y="1694.3" width="5.2" height="5.6" fill="#2c7bb6" stroke="none"/>
<rect x="847.6" y="1668.8" width="5.2" height="5.6" fill="#2c7bb6" stroke="none"/>
<rect x="915.4" y="1748.9" width="5.2" height="5.6" fill="#2c7bb6" stroke="none"/>
<rect x="853.9" y="1525.8" width="5.2" height="5.6" fill="#2c7bb6" stroke="none"/>
<rect x="857" y="1619.4" width="5.2" height="5.6" fill="#2c7bb6" stroke="none"/>
<rect x="869.9" y="1522.6" width="5.2" height="5.6" fill="#2c7bb6" stroke="none"/>
<rect x="856.2" y="1549.4" width="5.2" height="5.6" fill="#2c7bb6" stroke="none"/>
<rect x="851.6" y="1629.8" width="5.2" height="5.6" fill="#2c7bb6" stroke="none"/>
<rect x="843.4" y="1641" width="5.2" height="5.6" fill="#2c7bb6" stroke="none"/>
<rect x="864.6" y="1651.6" width="5.2" height="5.6" fill="#2c7bb6" stroke="none"/>
<rect x="848.7" y="1679" width="5.2" height="5.6" fill="#2c7bb6" stroke="none"/>
<rect x="863.5" y="1567.4" width="5.2" height="5.6" fill="#2c7bb6" stroke="none"/>
<rect x="851" y="1603.9" width="5.2" height="5.6" fill="#2c7bb6" stroke="none"/>
<rect x="849.5" y="1666.9" width="5.2" height="5.6" fill="#2c7bb6" stroke="none"/>
<rect x="870.4" y="1541.2" width="5.2" height="5.6" fill="#2c7bb6" stroke="none"/>
<rect x="859.5" y="1534.7" width="5.2" height="5.6" fill="#2c7bb6" stroke="none"/>
<rect x="877.8" y="1527.2" width="5.2" height="5.6" fill="#2c7bb6" stroke="none"/>
<rect x="861.3" y="1496.8" width="5.2" height="5.6" fill="#2c7bb6" stroke="none"/>
<rect x="871.8" y="1682.4" width="5.2" height="5.6" fill="#2c7bb6" stroke="none"/>
<rect x="899.7" y="1718.7" width="5.2" height="5.6" fill="#2c7bb6" stroke="none"/>
<rect x="874.6" y="1710.9" width="5.2" height="5.6" fill="#2c7bb6" stroke="none"/>
<rect x="865.7" y="1521.4" width="5.2" height="5.6" fill="#2c7bb6" stroke="none"/>
<rect x="843" y="1637.3" width="5.2" height="5.6" fill="#2c7bb6" stroke="none"/>
<rect x="901.3" y="1726.7" width="5.2" height="5.6" fill="#2c7bb6" stroke="none"/>
<rect x="881.7" y="1721.2" width="5.2" height="5.6" fill="#2c7bb6" stroke="none"/>
<rect x="871" y="1517.5" width="5.2" height="5.6" fill="#2c7bb6" stroke="none"/>
<rect x="863.8" y="1675.2" width="5.2" height="5.6" fill="#2c7bb6" stroke="none"/>
<rect x="882.1" y="1725.9" width="5.2" height="5.6" fill="#2c7bb6" stroke="none"/>
<rect x="857.7" y="1512.2" width="5.2" height="5.6" fill="#2c7bb6" stroke="none"/>
<rect x="868.2" y="1575.1" width="5.2" height="5.6" fill="#2c7bb6" stroke="none"/>
<rect x="856" y="1660.2" width="5.2" height="5.6" fill="#2c7bb6" stroke="none"/>
<rect x="869.5" y="1581.8" width="5.2" height="5.6" fill="#2c7bb6" stroke="none"/>
<rect x="969.4" y="1772.2" width="5.2" height="5.6" fill="#2c7bb6" stroke="none"/>
<rect x="850.4" y="1647.9" width="5.2" height="5.6" fill="#2c7bb6" stroke="none"/>
<rect x="855" y="1508.8" width="5.2" height="5.6" fill="#2c7bb6" stroke="none"/>
<rect x="853.8" y="1524.1" width="5.2" height="5.6" fill="#2c7bb6" stroke="none"/>
<rect x="865.4" y="1553.7" width="5.2" height="5.6" fill="#2c7bb6" stroke="none"/>
<rect x="914.1" y="1732.6" width="5.2" height="5.6" fill="#2c7bb6" stroke="none"/>
<rect x="845.3" y="1575.1" width="5.2" height="5.6" fill="#2c7bb6" stroke="none"/>
<rect x="870.6" y="1656.9" width="5.2" height="5.6" fill="#2c7bb6" stroke="none"/>
<rect x="857.3" y="1585.4" width="5.2" height="5.6" fill="#2c7bb6" stroke="none"/>
<rect x="847.3" y="1650" width="5.2" height="5.6" fill="#2c7bb6" stroke="none"/>
<rect x="856.3" y="1519" width="5.2" height="5.6" fill="#2c7bb6" stroke="none"/>
<rect x="848.4" y="1640.2" width="5.2" height="5.6" fill="#2c7bb6" stroke="none"/>
<rect x="864.7" y="1582.9" width="5.2" height="5.6" fill="#2c7bb6" stroke="none"/>
<rect x="899.2" y="1730.9" width="5.2" height="5.6" fill="#2c7bb6" stroke="none"/>
<rect x="867.2" y="1563" width="5.2" height="5.6" fill="#2c7bb6" stroke="none"/>
<rect x="923.5" y="1754.2" width="5.2" height="5.6" fill="#2c7bb6" stroke="none"/>
<rect x="857.8" y="1663.7" width="5.2" height="5.6" fill="#2c7bb6" stroke="none"/>
<rect x="848.7" y="1561.2" width="5.2" height="5.6" fill="#2c7bb6" stroke="none"/>
<rect x="956.3" y="1763.5" width="5.2" height="5.6" fill="#2c7bb6" stroke="none"/>
<rect x="911.8" y="1737.8" width="5.2" height="5.6" fill="#2c7bb6" stroke="none"/>
<rect x="850.2" y="1649.2" width="5.2" height="5.6" fill="#2c7bb6" stroke="none"/>
<rect x="863" y="1528.7" width="5.2" height="5.6" fill="#2c7bb6" stroke="none"/>
<rect x="856.7" y="1565.9" width="5.2" height="5.6" fill="#2c7bb6" stroke="none"/>
<rect x="859.2" y="1693.9" width="5.2" height="5.6" fill="#2c7bb6" stroke="none"/>
<rect x="952.8" y="1758.8" width="5.2" height="5.6" fill="#2c7bb6" stroke="none"/>
<rect x="861.3" y="1606.6" width="5.2" height="5.6" fill="#2c7bb6" stroke="none"/>
<rect x="870.2" y="1578.2" width="5.2" height="5.6" fill="#2c7bb6" stroke="none"/>
<rect x="899" y="1721.9" width="5.2" height="5.6" fill="#2c7bb6" stroke="none"/>
<rect x="870.6" y="1643.7" width="5.2" height="5.6" fill="#2c7bb6" stroke="none"/>
<rect x="876.3" y="1612.4" width="5.2" height="5.6" fill="#2c7bb6" stroke="none"/>
<rect x="837" y="1604.5" width="5.2" height="5.6" fill="#2c7bb6" stroke="none"/>
<rect x="873.4" y="1688.6" width="5.2" height="5.6" fill="#2c7bb6" stroke="none"/>
<rect x="873.5" y="1653.2" width="5.2" height="5.6" fill="#2c7bb6" stroke="none"/>
<rect x="969" y="1772.2" width="5.2" height="5.6" fill="#2c7bb6" stroke="none"/>
<rect x="869.7" y="1606.7" width="5.2" height="5.6" fill="#2c7bb6" stroke="none"/>
<rect x="849.2" y="1605.6" width="5.2" height="5.6" fill="#2c7bb6" stroke="none"/>
<rect x="858.5" y="1639" width="5.2" height="5.6" fill="#2c7bb6" stroke="none"/>
<rect x="852.6" y="1588.9" width="5.2" height="5.6" fill="#2c7bb6" stroke="none"/>
<rect x="861.1" y="1515.4" width="5.2" height="5.6" fill="#2c7bb6" stroke="none"/>
<rect x="880.6" y="1688" width="5.2" height="5.6" fill="#2c7bb6" stroke="none"/>
<rect x="866.4" y="1541.5" width="5.2" height="5.6" fill="#2c7bb6" stroke="none"/>
<rect x="858.9" y="1595.1" width="5.2" height="5.6" fill="#2c7bb6" stroke="none"/>
<rect x="830.5" y="1623.8" width="5.2" height="5.6" fill="#2c7bb6" stroke="none"/>
<rect x="830.9" y="1587.4" width="5.2" height="5.6" fill="#2c7bb6" stroke="none"/>
<rect x="908.7" y="1747.5" width="5.2" height="5.6" fill="#2c7bb6" stroke="none"/>
<rect x="855.3" y="1544.8" width="5.2" height="5.6" fill="#2c7bb6" stroke="none"/>
<rect x="861.2" y="1517.4" width="5.2" height="5.6" fill="#2c7bb6" stroke="none"/>
<rect x="915.1" y="1748" width="5.2" height="5.6" fill="#2c7bb6" stroke="none"/>
<rect x="911.5" y="1740.2" width="5.2" height="5.6" fill="#2c7bb6" stroke="none"/>
<rect x="864.1" y="1642.6" width="5.2" height="5.6" fill="#2c7bb6" stroke="none"/>
<rect x="977.7" y="1773" width="5.2" height="5.6" fill="#2c7bb6" stroke="none"/>
<rect x="904.9" y="1725.1" width="5.2" height="5.6" fill="#2c7bb6" stroke="none"/>
<rect x="860.8" y="1515.6" width="5.2" height="5.6" fill="#2c7bb6" stroke="none"/>
<rect x="880.4" y="1551.1" width="5.2" height="5.6" fill="#2c7bb6" stroke="none"/>
<rect x="848.1" y="1555.1" width="5.2" height="5.6" fill="#2c7bb6" stroke="none"/>
<rect x="839.1" y="1625.8" width="5.2" height="5.6" fill="#2c7bb6" stroke="none"/>
<rect x="894.1" y="1717.7" width="5.2" height="5.6" fill="#2c7bb6" stroke="none"/>
<rect x="870.2" y="1519" width="5.2" height="5.6" fill="#2c7bb6" stroke="none"/>
<rect x="855.6" y="1561" width="5.2" height="5.6" fill="#2c7bb6" stroke="none"/>
<rect x="847" y="1662.3" width="5.2" height="5.6" fill="#2c7bb6" stroke="none"/>
<rect x="867.3" y="1683.4" width="5.2" height="5.6" fill="#2c7bb6" stroke="none"/>
<rect x="857.9" y="1517.9" width="5.2" height="5.6" fill="#2c7bb6" stroke="none"/>
<rect x="860.9" y="1508.8" width="5.2" height="5.6" fill="#2c7bb6" stroke="none"/>
<rect x="879.9" y="1656.7" width="5.2" height="5.6" fill="#2c7bb6" stroke="none"/>
<rect x="886.3" y="1711.4" width="5.2" height="5.6" fill="#2c7bb6" stroke="none"/>
<rect x="847.9" y="1661.6" width="5.2" height="5.6" fill="#2c7bb6" stroke="none"/>
<rect x="913" y="1745.8" width="5.2" height="5.6" fill="#2c7bb6" stroke="none"/>
<rect x="861.3" y="1631.2" width="5.2" height="5.6" fill="#2c7bb6" stroke="none"/>
<rect x="934.1" y="1748.9" width="5.2" height="5.6" fill="#2c7bb6" stroke="none"/>
<rect x="850.3" y="1624.8" width="5.2" height="5.6" fill="#2c7bb6" stroke="none"/>
<rect x="866.2" y="1517.8" width="5.2" height="5.6" fill="#2c7bb6" stroke="none"/>
<rect x="977" y="1774.3" width="5.2" height="5.6" fill="#2c7bb6" stroke="none"/>
<rect x="840" y="1588.4" width="5.2" height="5.6" fill="#2c7bb6" stroke="none"/>
<rect x="857.3" y="1616.5" width="5.2" height="5.6" fill="#2c7bb6" stroke="none"/>
<rect x="876.3" y="1688" width="5.2" height="5.6" fill="#2c7bb6" stroke="none"/>
<rect x="851.3" y="1505.6" width="5.2" height="5.6" fill="#2c7bb6" stroke="none"/>
<rect x="857.4" y="1502.9" width="5.2" height="5.6" fill="#2c7bb6" stroke="none"/>
<rect x="857.6" y="1565" width="5.2" height="5.6" fill="#2c7bb6" stroke="none"/>
<rect x="833.8" y="1566.7" width="5.2" height="5.6" fill="#2c7bb6" stroke="none"/>
<rect x="846.4" y="1570.7" width="5.2" height="5.6" fill="#2c7bb6" stroke="none"/>
<rect x="860" y="1621" width="5.2" height="5.6" fill="#2c7bb6" stroke="none"/>
<rect x="830.6" y="1626.1" width="5.2" height="5.6" fill="#2c7bb6" stroke="none"/>
<rect x="857.4" y="1689.6" width="5.2" height="5.6" fill="#2c7bb6" stroke="none"/>
<rect x="872.2" y="1542.3" width="5.2" height="5.6" fill="#2c7bb6" stroke="none"/>
<rect x="878.9" y="1686.4" width="5.2" height="5.6" fill="#2c7bb6" stroke="none"/>
<rect x="873.2" y="1694.7" width="5.2" height="5.6" fill="#2c7bb6" stroke="none"/>
<rect x="872.3" y="1683.6" width="5.2" height="5.6" fill="#2c7bb6" stroke="none"/>
<rect x="853.3" y="1546" width="5.2" height="5.6" fill="#2c7bb6" stroke="none"/>
<rect x="870.4" y="1630.3" width="5.2" height="5.6" fill="#2c7bb6" stroke="none"/>
<rect x="864" y="1505.4" width="5.2" height="5.6" fill="#2c7bb6" stroke="none"/>
<rect x="849.6" y="1508.6" width="5.2" height="5.6" fill="#2c7bb6" stroke="none"/>
<rect x="856.7" y="1620" width="5.2" height="5.6" fill="#2c7bb6" stroke="none"/>
<rect x="922.8" y="1745.6" width="5.2" height="5.6" fill="#2c7bb6" stroke="none"/>
<rect x="872.6" y="1705.3" width="5.2" height="5.6" fill="#2c7bb6" stroke="none"/>
<rect x="859.2" y="1558.6" width="5.2" height="5.6" fill="#2c7bb6" stroke="none"/>
<rect x="870.3" y="1531.7" width="5.2" height="5.6" fill="#2c7bb6" stroke="none"/>
<rect x="858.6" y="1589.4" width="5.2" height="5.6" fill="#2c7bb6" stroke="none"/>
<rect x="857.5" y="1672.9" width="5.2" height="5.6" fill="#2c7bb6" stroke="none"/>
<rect x="922.9" y="1745.2" width="5.2" height="5.6" fill="#2c7bb6" stroke="none"/>
<rect x="862.7" y="1494.7" width="5.2" height="5.6" fill="#2c7bb6" stroke="none"/>
<rect x="858.6" y="1615.7" width="5.2" height="5.6" fill="#2c7bb6" stroke="none"/>
<rect x="861.9" y="1555.6" width="5.2" height="5.6" fill="#2c7bb6" stroke="none"/>
<rect x="904.3" y="1733.7" width="5.2" height="5.6" fill="#2c7bb6" stroke="none"/>
<rect x="916.5" y="1736.9" width="5.2" height="5.6" fill="#2c7bb6" stroke="none"/>
<rect x="843.8" y="1633.5" width="5.2" height="5.6" fill="#2c7bb6" stroke="none"/>
<rect x="862.6" y="1599.2" width="5.2" height="5.6" fill="#2c7bb6" stroke="none"/>
<rect x="862.1" y="1582.6" width="5.2" height="5.6" fill="#2c7bb6" stroke="none"/>
<rect x="955.9" y="1767.1" width="5.2" height="5.6" fill="#2c7bb6" stroke="none"/>
<rect x="955.8" y="1767.2" width="5.2" height="5.6" fill="#2c7bb6" stroke="none"/>
<rect x="849" y="1635.4" width="5.2" height="5.6" fill="#2c7bb6" stroke="none"/>
<rect x="862.8" y="1520.1" width="5.2" height="5.6" fill="#2c7bb6" stroke="none"/>
<rect x="850.5" y="1681" width="5.2" height="5.6" fill="#2c7bb6" stroke="none"/>
<rect x="854.5" y="1636.8" width="5.2" height="5.6" fill="#2c7bb6" stroke="none"/>
<rect x="855.5" y="1499.1" width="5.2" height="5.6" fill="#2c7bb6" stroke="none"/>
<rect x="869.4" y="1712.1" width="5.2" height="5.6" fill="#2c7bb6" stroke="none"/>
<rect x="901.2" y="1735.2" width="5.2" height="5.6" fill="#2c7bb6" stroke="none"/>
<rect x="868.4" y="1612.9" width="5.2" height="5.6" fill="#2c7bb6" stroke="none"/>
<rect x="858.6" y="1663.1" width="5.2" height="5.6" fill="#2c7bb6" stroke="none"/>
<rect x="853.5" y="1628.2" width="5.2" height="5.6" fill="#2c7bb6" stroke="none"/>
<rect x="921.8" y="1749.6" width="5.2" height="5.6" fill="#2c7bb6" stroke="none"/>
<rect x="870.2" y="1521.7" width="5.2" height="5.6" fill="#2c7bb6" stroke="none"/>
<rect x="857.8" y="1672.4" width="5.2" height="5.6" fill="#2c7bb6" stroke="none"/>
<rect x="854.4" y="1580.1" width="5.2" height="5.6" fill="#2c7bb6" stroke="none"/>
<rect x="863.9" y="1559.4" width="5.2" height="5.6" fill="#2c7bb6" stroke="none"/>
<rect x="914.8" y="1746.6" width="5.2" height="5.6" fill="#2c7bb6" stroke="none"/>
<rect x="885.4" y="1721.3" width="5.2" height="5.6" fill="#2c7bb6" stroke="none"/>
<rect x="912.8" y="1745.4" width="5.2" height="5.6" fill="#2c7bb6" stroke="none"/>
<rect x="855.4" y="1674.1" width="5.2" height="5.6" fill="#2c7bb6" stroke="none"/>
<rect x="872.7" y="1702.6" width="5.2" height="5.6" fill="#2c7bb6" stroke="none"/>
<rect x="859.2" y="1579.2" width="5.2" height="5.6" fill="#2c7bb6" stroke="none"/>
<rect x="855.3" y="1575.1" width="5.2" height="5.6" fill="#2c7bb6" stroke="none"/>
<rect x="875.4" y="1683.2" width="5.2" height="5.6" fill="#2c7bb6" stroke="none"/>
<rect x="885.2" y="1693.2" width="5.2" height="5.6" fill="#2c7bb6" stroke="none"/>
<rect x="882.9" y="1711.6" width="5.2" height="5.6" fill="#2c7bb6" stroke="none"/>
<rect x="880.6" y="1539.3" width="5.2" height="5.6" fill="#2c7bb6" stroke="none"/>
<rect x="856.1" y="1567.3" width="5.2" height="5.6" fill="#2c7bb6" stroke="none"/>
<rect x="855.7" y="1706" width="5.2" height="5.6" fill="#2c7bb6" stroke="none"/>
<rect x="893.2" y="1698.1" width="5.2" height="5.6" fill="#2c7bb6" stroke="none"/>
<rect x="857.5" y="1668.4" width="5.2" height="5.6" fill="#2c7bb6" stroke="none"/>
<rect x="867.3" y="1532.7" width="5.2" height="5.6" fill="#2c7bb6" stroke="none"/>
<rect x="850" y="1521" width="5.2" height="5.6" fill="#2c7bb6" stroke="none"/>
<rect x="875.1" y="1618.1" width="5.2" height="5.6" fill="#2c7bb6" stroke="none"/>
<rect x="847.9" y="1536.1" width="5.2" height="5.6" fill="#2c7bb6" stroke="none"/>
<rect x="870.3" y="1620.7" width="5.2" height="5.6" fill="#2c7bb6" stroke="none"/>
<rect x="835.1" y="1574.9" width="5.2" height="5.6" fill="#2c7bb6" stroke="none"/>
<rect x="834.9" y="1598.4" width="5.2" height="5.6" fill="#2c7bb6" stroke="none"/>
<rect x="857" y="1507" width="5.2" height="5.6" fill="#2c7bb6" stroke="none"/>
<rect x="862.8" y="1527.1" width="5.2" height="5.6" fill="#2c7bb6" stroke="none"/>
<rect x="902.1" y="1731.8" width="5.2" height="5.6" fill="#2c7bb6" stroke="none"/>
<rect x="866.8" y="1687.6" width="5.2" height="5.6" fill="#2c7bb6" stroke="none"/>
<rect x="854.8" y="1512.4" width="5.2" height="5.6" fill="#2c7bb6" stroke="none"/>
<rect x="866.2" y="1601" width="5.2" height="5.6" fill="#2c7bb6" stroke="none"/>
<rect x="854.7" y="1503.6" width="5.2" height="5.6" fill="#2c7bb6" stroke="none"/>
<rect x="926" y="1744" width="5.2" height="5.6" fill="#2c7bb6" stroke="none"/>
<rect x="868.5" y="1707.5" width="5.2" height="5.6" fill="#2c7bb6" stroke="none"/>
<rect x="857.3" y="1631.8" width="5.2" height="5.6" fill="#2c7bb6" stroke="none"/>
<rect x="919.3" y="1746.7" width="5.2" height="5.6" fill="#2c7bb6" stroke="none"/>
<rect x="855.2" y="1536.1" width="5.2" height="5.6" fill="#2c7bb6" stroke="none"/>
<rect x="871.5" y="1507.6" width="5.2" height="5.6" fill="#2c7bb6" stroke="none"/>
<rect x="933.4" y="1753.9" width="5.2" height="5.6" fill="#2c7bb6" stroke="none"/>
<rect x="880.3" y="1544.2" width="5.2" height="5.6" fill="#2c7bb6" stroke="none"/>
<rect x="833.8" y="1617.7" width="5.2" height="5.6" fill="#2c7bb6" stroke="none"/>
<rect x="971.5" y="1773.1" width="5.2" height="5.6" fill="#2c7bb6" stroke="none"/>
<rect x="974.1" y="1772.6" width="5.2" height="5.6" fill="#2c7bb6" stroke="none"/>
<rect x="876.7" y="1694.7" width="5.2" height="5.6" fill="#2c7bb6" stroke="none"/>
<rect x="864" y="1604.7" width="5.2" height="5.6" fill="#2c7bb6" stroke="none"/>
<rect x="867.6" y="1620.6" width="5.2" height="5.6" fill="#2c7bb6" stroke="none"/>
<rect x="888.2" y="1723.3" width="5.2" height="5.6" fill="#2c7bb6" stroke="none"/>
<rect x="855.5" y="1668.4" width="5.2" height="5.6" fill="#2c7bb6" stroke="none"/>
<rect x="863.7" y="1598.8" width="5.2" height="5.6" fill="#2c7bb6" stroke="none"/>
<rect x="862.1" y="1497.8" width="5.2" height="5.6" fill="#2c7bb6" stroke="none"/>
<rect x="919.8" y="1742.6" width="5.2" height="5.6" fill="#2c7bb6" stroke="none"/>
<rect x="858.1" y="1493.8" width="5.2" height="5.6" fill="#2c7bb6" stroke="none"/>
<rect x="854.5" y="1584.7" width="5.2" height="5.6" fill="#2c7bb6" stroke="none"/>
<rect x="840" y="1686.7" width="5.2" height="5.6" fill="#2c7bb6" stroke="none"/>
<rect x="882.2" y="1723.4" width="5.2" height="5.6" fill="#2c7bb6" stroke="none"/>
<rect x="860.9" y="1518.7" width="5.2" height="5.6" fill="#2c7bb6" stroke="none"/>
<rect x="857.1" y="1607.4" width="5.2" height="5.6" fill="#2c7bb6" stroke="none"/>
<rect x="950.1" y="1759.7" width="5.2" height="5.6" fill="#2c7bb6" stroke="none"/>
<rect x="858.3" y="1493.9" width="5.2" height="5.6" fill="#2c7bb6" stroke="none"/>
<rect x="858.1" y="1528.1" width="5.2" height="5.6" fill="#2c7bb6" stroke="none"/>
<rect x="879.9" y="1622.2" width="5.2" height="5.6" fill="#2c7bb6" stroke="none"/>
<rect x="869.9" y="1671.6" width="5.2" height="5.6" fill="#2c7bb6" stroke="none"/>
<rect x="858.6" y="1525.5" width="5.2" height="5.6" fill="#2c7bb6" stroke="none"/>
<rect x="863.3" y="1660.7" width="5.2" height="5.6" fill="#2c7bb6" stroke="none"/>
<rect x="847" y="1617" width="5.2" height="5.6" fill="#2c7bb6" stroke="none"/>
<rect x="864.1" y="1595.9" width="5.2" height="5.6" fill="#2c7bb6" stroke="none"/>
<rect x="910.4" y="1736.1" width="5.2" height="5.6" fill="#2c7bb6" stroke="none"/>
<rect x="851.1" y="1612.1" width="5.2" height="5.6" fill="#2c7bb6" stroke="none"/>
<rect x="865.3" y="1575.8" width="5.2" height="5.6" fill="#2c7bb6" stroke="none"/>
<rect x="862.2" y="1619.5" width="5.2" height="5.6" fill="#2c7bb6" stroke="none"/>
<rect x="872.3" y="1545.8" width="5.2" height="5.6" fill="#2c7bb6" stroke="none"/>
<rect x="843.5" y="1579.2" width="5.2" height="5.6" fill="#2c7bb6" stroke="none"/>
<rect x="865.5" y="1670.7" width="5.2" height="5.6" fill="#2c7bb6" stroke="none"/>
<rect x="861.7" y="1510" width="5.2" height="5.6" fill="#2c7bb6" stroke="none"/>
<rect x="842.2" y="1619.4" width="5.2" height="5.6" fill="#2c7bb6" stroke="none"/>
<rect x="859.5" y="1605.4" width="5.2" height="5.6" fill="#2c7bb6" stroke="none"/>
<rect x="855" y="1558.5" width="5.2" height="5.6" fill="#2c7bb6" stroke="none"/>
<rect x="838.4" y="1638.7" width="5.2" height="5.6" fill="#2c7bb6" stroke="none"/>
<rect x="879.6" y="1546.8" width="5.2" height="5.6" fill="#2c7bb6" stroke="none"/>
<rect x="903.5" y="1731.9" width="5.2" height="5.6" fill="#2c7bb6" stroke="none"/>
<rect x="958.9" y="1768.7" width="5.2" height="5.6" fill="#2c7bb6" stroke="none"/>
<rect x="870.8" y="1651.9" width="5.2" height="5.6" fill="#2c7bb6" stroke="none"/>
<rect x="884.3" y="1699.6" width="5.2" height="5.6" fill="#2c7bb6" stroke="none"/>
<rect x="866" y="1536.8" width="5.2" height="5.6" fill="#2c7bb6" stroke="none"/>
<rect x="860.8" y="1609.7" width="5.2" height="5.6" fill="#2c7bb6" stroke="none"/>
<rect x="908.1" y="1730.3" width="5.2" height="5.6" fill="#2c7bb6" stroke="none"/>
<rect x="869.6" y="1574.6" width="5.2" height="5.6" fill="#2c7bb6" stroke="none"/>
<rect x="843.9" y="1661.2" width="5.2" height="5.6" fill="#2c7bb6" stroke="none"/>
<rect x="854.7" y="1667.7" width="5.2" height="5.6" fill="#2c7bb6" stroke="none"/>
<rect x="854.2" y="1564.9" width="5.2" height="5.6" fill="#2c7bb6" stroke="none"/>
<rect x="872.6" y="1635.6" width="5.2" height="5.6" fill="#2c7bb6" stroke="none"/>
<rect x="893.4" y="1721.1" width="5.2" height="5.6" fill="#2c7bb6" stroke="none"/>
<rect x="846" y="1570.8" width="5.2" height="5.6" fill="#2c7bb6" stroke="none"/>
<rect x="916" y="1743.5" width="5.2" height="5.6" fill="#2c7bb6" stroke="none"/>
<rect x="915.8" y="1742.8" width="5.2" height="5.6" fill="#2c7bb6" stroke="none"/>
<rect x="982.9" y="1777.7" width="5.2" height="5.6" fill="#2c7bb6" stroke="none"/>
<rect x="869.3" y="1701.1" width="5.2" height="5.6" fill="#2c7bb6" stroke="none"/>
<rect x="852.3" y="1518.6" width="5.2" height="5.6" fill="#2c7bb6" stroke="none"/>
<rect x="871.5" y="1674.8" width="5.2" height="5.6" fill="#2c7bb6" stroke="none"/>
<rect x="859.8" y="1550.2" width="5.2" height="5.6" fill="#2c7bb6" stroke="none"/>
<rect x="845.3" y="1598.6" width="5.2" height="5.6" fill="#2c7bb6" stroke="none"/>
<rect x="839.4" y="1622.4" width="5.2" height="5.6" fill="#2c7bb6" stroke="none"/>
<rect x="847.9" y="1616.4" width="5.2" height="5.6" fill="#2c7bb6" stroke="none"/>
<rect x="861.3" y="1580.5" width="5.2" height="5.6" fill="#2c7bb6" stroke="none"/>
<rect x="862.8" y="1525" width="5.2" height="5.6" fill="#2c7bb6" stroke="none"/>
<rect x="934.8" y="1760.7" width="5.2" height="5.6" fill="#2c7bb6" stroke="none"/>
<rect x="848.4" y="1681.8" width="5.2" height="5.6" fill="#2c7bb6" stroke="none"/>
<rect x="853" y="1560.8" width="5.2" height="5.6" fill="#2c7bb6" stroke="none"/>
<rect x="824.9" y="1671.9" width="5.2" height="5.6" fill="#2c7bb6" stroke="none"/>
<rect x="854.1" y="1586.6" width="5.2" height="5.6" fill="#2c7bb6" stroke="none"/>
<rect x="871.6" y="1602.6" width="5.2" height="5.6" fill="#2c7bb6" stroke="none"/>
<rect x="857.4" y="1502.7" width="5.2" height="5.6" fill="#2c7bb6" stroke="none"/>
<rect x="837.2" y="1635.4" width="5.2" height="5.6" fill="#2c7bb6" stroke="none"/>
<rect x="894.9" y="1725.4" width="5.2" height="5.6" fill="#2c7bb6" stroke="none"/>
<rect x="858.5" y="1508.2" width="5.2" height="5.6" fill="#2c7bb6" stroke="none"/>
<rect x="863.6" y="1553.9" width="5.2" height="5.6" fill="#2c7bb6" stroke="none"/>
<rect x="846.8" y="1635" width="5.2" height="5.6" fill="#2c7bb6" stroke="none"/>
<rect x="876.7" y="1609.5" width="5.2" height="5.6" fill="#2c7bb6" stroke="none"/>
<polyline stroke-width="0.8" points="859.5,1586.8 859.5,1584.3 860.1,1582.6 860.5,1584.6 860.3,1586.4 859.5,1586.8"/>
<polyline stroke-width="0.8" points="908.4,1728.6 909.8,1727.9 910.4,1729.1 910.2,1730.1 908.7,1730.6 908,1729.5 908.4,1728.6"/>
<polyline stroke-width="0.8" points="826.5,1646 830.4,1644.4 832.3,1647 830.7,1648.8 827.4,1648.6 826.5,1646"/>
<polyline stroke-width="0.8" points="837.1,1616.3 835.9,1615 837,1613.5 837.8,1612.4 838.9,1612.6 839.3,1614.5 839.1,1616.4 838,1617.7 837.1,1616.3"/>
<polyline stroke-width="0.8" points="859,1639.9 855.9,1641.9 851.6,1643 849.4,1640.4 847.6,1638 850.4,1635.9 854.5,1635.5 857.3,1637.3 859,1639.9"/>
<polyline stroke-width="0.8" points="958,1764 954.3,1765.9 950.6,1763.7 953.1,1761.7 956.5,1761.7 958,1764"/>
<polyline stroke-width="0.8" points="848.6,1500.6 847.3,1499.3 847.1,1496.8 848.8,1496.8 849.2,1498.6 848.6,1500.6"/>
<polyline stroke-width="0.8" points="853,1570.4 853.3,1571.6 853.4,1573.4 852.3,1574.3 851.6,1572.8 851.2,1571.8 851.4,1570.7 852.1,1570.2 853,1570.4"/>
<polyline stroke-width="0.8" points="848.9,1659.8 850.1,1657.4 852.3,1658.7 852.4,1661.8 851.1,1664.2 849.2,1663.6 847.5,1661.8 848.9,1659.8"/>
<polyline stroke-width="0.8" points="858.2,1690.4 858.6,1686.8 859.1,1684.7 860,1683.7 860.9,1685.2 861.3,1687.9 860.5,1689.9 859.6,1690.3 858.2,1690.4"/>
<polyline stroke-width="0.8" points="857.9,1524.7 855.9,1525.6 854.6,1523.3 852.6,1520.2 853.9,1515.7 856.8,1516.3 858.7,1518.2 858.4,1521.6 857.9,1524.7"/>
<polyline stroke-width="0.8" points="848,1590 849.3,1588.1 850.8,1587.8 851.7,1590.7 850.6,1593.3 849.1,1592.2 848,1590"/>
<polyline stroke-width="0.8" points="864.8,1513.7 867.3,1516.5 867.3,1519.1 865.7,1522.4 860.8,1522.3 858.6,1518.5 860.4,1514.9 864.8,1513.7"/>
<polyline stroke-width="0.8" points="852.8,1706.1 852.4,1704.7 852.6,1702.6 853.1,1700.4 854,1700.7 854.2,1703.9 854.3,1707.2 853.4,1709 852.8,1706.1"/>
<polyline stroke-width="0.8" points="845.4,1596.8 847.3,1596.1 849.8,1595.3 850.8,1596.5 850.2,1597.6 847,1597.9 845.4,1596.8"/>
<polyline stroke-width="0.8" points="853.3,1604.3 854.9,1600.2 857.2,1598 859.3,1602.6 857.5,1607 855.3,1607.7 853.3,1604.3"/>
<polyline stroke-width="0.8" points="870.3,1697.2 871.2,1698.6 871,1701 870.3,1702 869.5,1702.4 869.2,1700.8 869.2,1699.5 869.3,1697 870.3,1697.2"/>
<polyline stroke-width="0.8" points="857.4,1642.5 855.1,1645.5 853.9,1647.6 851.8,1647.5 850.2,1643.7 851.7,1639.9 853.4,1637.3 856,1637.7 857.4,1642.5"/>
<polyline stroke-width="0.8" points="888.6,1702.7 890.6,1703.8 891.6,1705.5 888.8,1707.4 883.8,1707 881.2,1705.2 881,1703 885.6,1702.6 888.6,1702.7"/>
<polyline stroke-width="0.8" points="837.6,1671 836.4,1669.4 838.2,1668.7 839.8,1669 839.3,1670.5 837.6,1671"/>
<polyline stroke-width="0.8" points="852.3,1714.7 853.6,1711.3 858.8,1710.8 860.1,1714.4 856.4,1716.7 852.3,1714.7"/>
<polyline stroke-width="0.8" points="948.2,1761.4 949.2,1763.1 946,1764.2 942.1,1763.9 940.5,1762.3 941.2,1760.3 945.7,1760.1 948.2,1761.4"/>
<polyline stroke-width="0.8" points="871.3,1581.8 865.2,1581 859,1580.5 861.2,1577.8 864.9,1576.2 871.3,1575.9 873.7,1578.9 871.3,1581.8"/>
<polyline stroke-width="0.8" points="862.2,1616.9 861.7,1614.8 863.2,1613.2 865.1,1613.4 866.6,1615.7 865.2,1618 863.3,1618.9 862.2,1616.9"/>
<polyline stroke-width="0.8" points="972.8,1769.3 970.9,1769.5 969.4,1768 970.4,1765.1 972.5,1765.8 972.8,1769.3"/>
<polyline stroke-width="0.8" points="961.2,1760.9 962.2,1759.4 962.7,1762.3 962.3,1764.8 962,1768.6 960.7,1767.4 959.8,1765 960.6,1762.2 961.2,1760.9"/>
<polyline stroke-width="0.8" points="862.9,1510.2 863.5,1512 862.4,1513.1 861.4,1513 860.6,1512.1 860.7,1510.5 861.2,1509.2 862.3,1508.9 862.9,1510.2"/>
<polyline stroke-width="0.8" points="858.6,1712 857.4,1710.4 857.7,1709.4 859.5,1708.5 862.7,1709.2 861.4,1710.9 858.6,1712"/>
<polyline stroke-width="0.8" points="836.4,1619.7 836,1622 834.7,1623.2 832.3,1624.4 831.2,1621.1 832.6,1618.7 833.6,1615.2 836.3,1616 836.4,1619.7"/>
<polyline stroke-width="0.8" points="842.1,1498.7 842.4,1493.8 843.5,1490.7 845.3,1490.3 845.7,1496.2 845.1,1501.1 843.6,1499.7 842.1,1498.7"/>
<polyline stroke-width="0.8" points="863.5,1570.4 861.1,1570 861.3,1569 862,1568.1 864.8,1568 866.7,1568.9 865.5,1569.9 863.5,1570.4"/>
<polyline stroke-width="0.8" points="852.3,1494.7 850,1494.6 848.7,1492.9 851,1492.2 853.9,1492.6 852.3,1494.7"/>
<polyline stroke-width="0.8" points="870.4,1534.2 873.2,1534.2 873.3,1536.6 873.2,1539.4 870,1539.8 868,1537.7 868.3,1535.3 870.4,1534.2"/>
<polyline stroke-width="0.8" points="832,1633.1 834.4,1637.7 830.1,1641 826,1638.3 827.2,1635.5 832,1633.1"/>
<polyline stroke-width="0.8" points="865.5,1593.9 869,1594.2 872.3,1596 868.6,1598.2 864.7,1596.6 865.5,1593.9"/>
<polyline stroke-width="0.8" points="872.7,1683.1 872,1683.1 872,1681.2 872,1679.3 872.7,1678.1 873.2,1679.6 873.4,1681.2 873.2,1682.9 872.7,1683.1"/>
<polyline stroke-width="0.8" points="857,1713.3 856.1,1712.1 857.3,1711.4 858.7,1711.1 859.6,1712.1 859.1,1713.4 857,1713.3"/>
<polyline stroke-width="0.8" points="838.7,1554.9 837.8,1552.4 840.6,1552.4 843.4,1552.3 844.1,1555.3 841.3,1556 839.4,1556.8 838.7,1554.9"/>
<polyline stroke-width="0.8" points="957,1771.4 955.9,1772.3 955.1,1771.3 954.8,1768.4 955.8,1766.6 956.6,1768.5 957,1771.4"/>
<polyline stroke-width="0.8" points="848.1,1600.1 847.9,1596.3 848.9,1593.9 850.2,1592.2 851.3,1594.5 851.6,1597.2 850.8,1599.1 849.8,1600.3 848.1,1600.1"/>
<polyline stroke-width="0.8" points="822.1,1588 822.1,1590.3 820.4,1591.9 819.5,1589.1 820.6,1587.3 822.1,1588"/>
<polyline stroke-width="0.8" points="871.1,1571.3 869.4,1571.7 867.4,1571.4 868.6,1570.2 870.3,1570.2 871.1,1571.3"/>
<polyline stroke-width="0.8" points="881.1,1716.1 882.5,1718 878.2,1718.6 874.8,1720 871.9,1718.5 870.1,1716.7 873.2,1715.2 877.4,1715.5 881.1,1716.1"/>
<polyline stroke-width="0.8" points="936.6,1758.8 936,1757.4 936.8,1756.2 937.8,1756.3 938.3,1757.2 938.7,1758.4 938.2,1759.8 937.2,1759.3 936.6,1758.8"/>
<polyline stroke-width="0.8" points="843.6,1512.6 843.2,1513.8 841.9,1514.7 839.3,1514.8 836.6,1514.5 836.8,1513.3 837.9,1512.4 840.6,1512.1 843.6,1512.6"/>
<polyline stroke-width="0.8" points="913.9,1748 912.7,1746.5 912.9,1744.3 916.8,1744 920.1,1744.8 920.7,1746.8 920.1,1748.9 916.3,1749.3 913.9,1748"/>
<polyline stroke-width="0.8" points="922,1737 921.7,1734.3 923.6,1733.7 924.8,1733.1 926.3,1734.2 926.5,1736.7 925.3,1739 923.5,1738.1 922,1737"/>
<polyline stroke-width="0.8" points="952.5,1758.3 952.3,1761.2 950.9,1764.2 948.3,1763.9 946.3,1760.2 947.4,1755.5 949.7,1753.3 952.5,1753.8 952.5,1758.3"/>
<polyline stroke-width="0.8" points="873.4,1649 874.8,1648.8 875.8,1651 874.2,1652.8 873.1,1650.8 873.4,1649"/>
<polyline stroke-width="0.8" points="852.9,1643.9 850,1644 847.6,1642.3 850.9,1641.1 853.4,1640.6 856.9,1640.7 856.4,1642.6 855.8,1644.2 852.9,1643.9"/>
<polyline stroke-width="0.8" points="842.6,1500.4 843.4,1499.7 845,1499.4 846.3,1500.4 844.8,1501.1 843.6,1501 842.6,1500.4"/>
<polyline stroke-width="0.8" points="860.5,1612.9 858,1615.1 855.7,1616.1 855.1,1612.6 855.7,1608.5 858.3,1610.1 860.5,1612.9"/>
<polyline stroke-width="0.8" points="859.1,1565.7 857.7,1568.8 856.2,1571.2 852.4,1570.4 853.8,1567.3 855.5,1566.1 859.1,1565.7"/>
<polyline stroke-width="0.8" points="836.5,1613 836,1610.2 840.5,1608.2 846.7,1609.4 845.6,1611.9 842.1,1612.9 836.5,1613"/>
<polyline stroke-width="0.8" points="893.6,1706 893.1,1707.4 891.8,1707.8 890.2,1707.3 889.2,1705.1 891.3,1703.9 893.5,1703.8 893.6,1706"/>
<polyline stroke-width="0.8" points="881,1713.3 879.9,1714.3 877.9,1714 877,1713 876.5,1711.6 878.6,1711 880.8,1711.1 881.4,1712.3 881,1713.3"/>
<polyline stroke-width="0.8" points="834.2,1611.7 830.4,1608.8 832.3,1606.2 838.5,1605.3 839.4,1609.2 834.2,1611.7"/>
<polyline stroke-width="0.8" points="875.9,1699.4 873.6,1698.4 873.5,1696.6 876.4,1696.6 879,1696.2 878.7,1697.8 878.5,1699.3 875.9,1699.4"/>
<polyline stroke-width="0.8" points="888.2,1712 887.9,1718.3 885.1,1721.3 882.5,1717.6 883,1711.6 885.5,1710.2 888.2,1712"/>
<polyline stroke-width="0.8" points="813.7,1595.6 815.5,1592.4 819.4,1593.6 818.7,1598.3 814.9,1599.5 813.7,1595.6"/>
<polyline stroke-width="0.8" points="853.6,1616.4 850.2,1617.3 848.1,1615.4 848,1612.8 850.8,1611.2 853.8,1613 853.6,1616.4"/>
<polyline stroke-width="0.8" points="901.9,1731.9 903.7,1734.7 902.5,1738 899.9,1737.3 899.3,1733.3 901.9,1731.9"/>
<polyline stroke-width="0.8" points="844.2,1560.3 844.6,1559.1 847.4,1558.3 849.5,1559.6 847.7,1561 844.2,1560.3"/>
<polyline stroke-width="0.8" points="879.7,1625.3 879.7,1629.4 879.1,1632.8 877.6,1637.2 876.4,1632 875.7,1626.1 877.3,1623 878.9,1619.9 879.7,1625.3"/>
<polyline stroke-width="0.8" points="856.8,1567.8 856,1567.6 855.5,1566.6 855.7,1565.2 857,1564.9 857.6,1566.1 857.4,1567.1 856.8,1567.8"/>
<polyline stroke-width="0.8" points="822.2,1688.2 821.6,1689.8 820.8,1688.9 820.3,1686.5 820.8,1683.8 821.6,1684.4 822.3,1685.4 822.2,1688.2"/>
<polyline stroke-width="0.8" points="843,1605 842.4,1607.8 841,1609.6 838.7,1610.5 836.7,1607.7 838.1,1604.5 839.7,1603.3 841.8,1602.2 843,1605"/>
<polyline stroke-width="0.8" points="870.7,1498.3 869,1499.6 867,1499.7 867.1,1494 867.6,1490.8 868.7,1488.8 870.7,1487.6 871,1493.2 870.7,1498.3"/>
<polyline stroke-width="0.8" points="933.7,1758 934.9,1756.8 938.7,1756.7 940.6,1758.4 937.1,1759.2 934.6,1759 933.7,1758"/>
<polyline stroke-width="0.8" points="960.5,1771 963.5,1769.6 965.9,1772.1 963.3,1774.7 959.3,1773.3 960.5,1771"/>
<polyline stroke-width="0.8" points="847.3,1670.6 845.3,1671.7 842.3,1671.1 839.2,1669.6 843.1,1668.2 846.6,1669.3 847.3,1670.6"/>
<polyline stroke-width="0.8" points="893.4,1735.8 890.2,1736.8 887.8,1735.2 887.1,1733 889,1731 892.2,1731.5 894.6,1733.3 893.4,1735.8"/>
<polyline stroke-width="0.8" points="862.6,1618.7 863.3,1616 867,1615.1 869.1,1617.1 868,1618.8 865.8,1619.8 862.6,1618.7"/>
<polyline stroke-width="0.8" points="890,1723.7 887.9,1725.9 885.9,1724 887,1720 888.9,1718 890,1723.7"/>
<polyline stroke-width="0.8" points="855.4,1680.1 852.4,1680 852.3,1678.7 855.1,1678.7 857.2,1679.3 855.4,1680.1"/>
<polyline stroke-width="0.8" points="855.1,1511.9 852.3,1512.6 851.3,1511.2 850.8,1510 853.1,1508.8 855.5,1510 856.4,1510.9 855.1,1511.9"/>
<polyline stroke-width="0.8" points="856.2,1582.8 858.3,1582.4 858.7,1583.4 859,1584.3 857,1584.8 855.3,1584.2 854,1583.3 856.2,1582.8"/>
<polyline stroke-width="0.8" points="851.9,1663 847.2,1659.7 849.7,1655.8 854.2,1655.9 855.6,1659.5 851.9,1663"/>
<polyline stroke-width="0.8" points="855.9,1589.3 852.3,1587 855.4,1583.5 860.2,1584.7 860.2,1589.1 855.9,1589.3"/>
<polyline stroke-width="0.8" points="874,1705.2 875.4,1704 876.4,1705.6 876.7,1706.8 876.1,1708.4 874.7,1707.5 874.2,1706.6 874,1705.2"/>
<polyline stroke-width="0.8" points="854.1,1524.9 851.4,1523.9 848.6,1521.8 852.3,1520.6 854.9,1521.2 855.5,1522.9 854.1,1524.9"/>
<polyline stroke-width="0.8" points="918,1740.6 923,1741 923.3,1743.2 919,1744.3 914.4,1744.3 911.1,1743 911.3,1741.2 914.4,1740 918,1740.6"/>
<polyline stroke-width="0.8" points="853.2,1492.4 852.2,1493.4 849.4,1493.2 850.2,1491.8 851.5,1491.1 853.7,1491.3 853.2,1492.4"/>
<polyline stroke-width="0.8" points="852.2,1675.8 853.2,1668.3 855.9,1669.8 856.6,1676.5 855.5,1682.1 853.5,1681.1 852.2,1675.8"/>
<polyline stroke-width="0.8" points="942.3,1754.8 939.9,1754.3 941,1752.3 944.2,1752.4 944,1754.3 942.3,1754.8"/>
<polyline stroke-width="0.8" points="862,1677.2 860.6,1675.1 859.4,1673.4 863.2,1672.9 868.1,1672.4 870,1674.7 866,1675.9 862,1677.2"/>
<polyline stroke-width="0.8" points="936.7,1753 937.2,1755.2 936,1757.5 932.6,1757 929.5,1756.3 929.2,1754 930.8,1751.9 934,1752.2 936.7,1753"/>
<polyline stroke-width="0.8" points="861.5,1656.9 861.7,1655.2 863.2,1654.5 864.7,1654.9 865.9,1656.4 863.7,1657.1 861.5,1656.9"/>
<polyline stroke-width="0.8" points="869.2,1691.6 873.6,1691.6 873.2,1694.3 868.6,1696 865,1693.2 869.2,1691.6"/>
<polyline stroke-width="0.8" points="858,1513.3 856.7,1514.4 854.3,1516.1 853.1,1511.7 854.1,1507.3 856.1,1504.4 858.4,1506.4 858.8,1510.4 858,1513.3"/>
<polyline stroke-width="0.8" points="858.1,1523.3 857.3,1521.1 856,1519.9 856.7,1517.7 858.5,1517.2 859.8,1518.4 860.2,1520.3 859.3,1521.6 858.1,1523.3"/>
<polyline stroke-width="0.8" points="869.7,1719.3 869.4,1718.2 870.6,1717.2 871.7,1718.2 871.8,1719.4 869.7,1719.3"/>
<polyline stroke-width="0.8" points="851.9,1498.9 850.6,1489.8 853.5,1483 856.1,1490 855.6,1499.8 851.9,1498.9"/>
<polyline stroke-width="0.8" points="875.4,1657.3 875.8,1659.6 874.3,1660.5 873.4,1658.7 873.2,1656.1 874.7,1655.6 875.4,1657.3"/>
<polyline stroke-width="0.8" points="870.7,1587.1 871.6,1583.8 876.5,1583 879.4,1586.2 875.2,1588.2 870.7,1587.1"/>
<polyline stroke-width="0.8" points="866.2,1672.3 870.6,1669.8 875.7,1671 877.2,1673.5 873.8,1675.2 868,1675.9 866.2,1672.3"/>
<polyline stroke-width="0.8" points="880.2,1708.2 876.2,1707.7 874.3,1705.6 874.8,1702.8 878.1,1701 881.3,1703.8 880.2,1708.2"/>
<polyline stroke-width="0.8" points="865,1535.7 866,1533.9 867.2,1535.6 868.3,1537.3 867.2,1539.4 865.6,1538.3 864.3,1537.4 865,1535.7"/>
<polyline stroke-width="0.8" points="861.9,1536.5 860.3,1536.5 859.1,1535.5 860.2,1534.5 861.6,1533.7 863.9,1534.2 864,1536 861.9,1536.5"/>
<polyline stroke-width="0.8" points="863.1,1674.7 860.7,1674.2 859.6,1672.2 863.4,1671.2 866.4,1672.5 866.4,1674.7 863.1,1674.7"/>
<polyline stroke-width="0.8" points="836.5,1681.4 839.9,1681.8 842.2,1683.9 839.2,1685.3 836,1685.7 833.5,1683.4 836.5,1681.4"/>
<polyline stroke-width="0.8" points="825.5,1673.2 825.9,1670.4 826.6,1668.6 827.5,1669 828,1672.2 827.4,1674.7 826.8,1675 825.9,1676.3 825.5,1673.2"/>
<polyline stroke-width="0.8" points="855.4,1521.8 856.7,1517.3 859,1517.4 859.6,1523.2 858.5,1528.1 856,1528 855.4,1521.8"/>
<polyline stroke-width="0.8" points="859.1,1609.4 858.3,1616.2 854.7,1615.9 853.1,1610.2 854.4,1604.4 857.3,1605.5 859.1,1609.4"/>
<polyline stroke-width="0.8" points="870.4,1507.6 871.5,1505.1 873.5,1504.6 874.4,1510 873.4,1515.2 871.1,1516.1 870.1,1511.5 870.4,1507.6"/>
<polyline stroke-width="0.8" points="947.1,1758.9 946.9,1757.5 948.7,1757.7 949.9,1758.5 949.5,1759.9 947.7,1760.2 947.1,1758.9"/>
<polyline stroke-width="0.8" points="843.5,1570.9 845.7,1573.9 846.3,1579.3 843.6,1582 841.1,1580.4 839.3,1576.6 840.6,1571.8 843.5,1570.9"/>
<polyline stroke-width="0.8" points="849,1680.7 849.4,1679.3 850.1,1677.7 852.7,1677.7 853.1,1679.3 854.6,1680.5 853,1681.9 850.6,1681.9 849,1680.7"/>
<polyline stroke-width="0.8" points="891.4,1729.7 892.1,1729.7 892.4,1731 891.7,1732.4 891,1731 891.4,1729.7"/>
<polyline stroke-width="0.8" points="918.1,1749 923.4,1749.5 928.4,1750.2 926.5,1753.4 922.1,1754.6 919.2,1752.3 918.1,1749"/>
<polyline stroke-width="0.8" points="872.4,1552 874.4,1550.1 876.7,1552 875.3,1555.4 872.8,1556.3 872.4,1552"/>
<polyline stroke-width="0.8" points="861.2,1636.1 858.3,1635.5 858,1632 859.9,1629.9 861.9,1632.3 861.2,1636.1"/>
<polyline stroke-width="0.8" points="859.7,1683.9 865,1683.9 869.1,1686.2 864.8,1688.5 860.5,1687.3 859.7,1683.9"/>
<polyline stroke-width="0.8" points="857,1503.5 854.5,1501.7 857,1499.6 862.4,1499.3 863.2,1501.8 861.5,1503.7 857,1503.5"/>
<polyline stroke-width="0.8" points="850.4,1653.6 849.1,1651.5 850.1,1650.1 852.6,1648.7 856.3,1649.5 858.6,1650.5 860.1,1652.4 855.2,1652.7 850.4,1653.6"/>
<polyline stroke-width="0.8" points="849.1,1514.2 852.7,1515.6 855.5,1516.7 853.5,1518.2 851.1,1519.3 845.5,1520.2 843.6,1517.7 844.5,1515.3 849.1,1514.2"/>
<polyline stroke-width="0.8" points="915.9,1755.5 911.1,1754.7 913,1752 916.2,1751.3 917.5,1753.2 915.9,1755.5"/>
<polyline stroke-width="0.8" points="920.3,1751.3 921.4,1754.9 920.5,1759.5 918.5,1757.9 917.7,1755.5 917.9,1752.7 918.7,1749.3 920.3,1751.3"/>
<polyline stroke-width="0.8" points="910.5,1753.2 914.2,1752.8 917.7,1752.3 921,1753.5 921.9,1755.8 917.7,1757.4 912.8,1756.4 910.3,1755 910.5,1753.2"/>
<polyline stroke-width="0.8" points="852.9,1676.1 854.2,1675 856,1676.3 855.2,1678.7 853.3,1678.4 852.4,1677.3 852.9,1676.1"/>
<polyline stroke-width="0.8" points="833.4,1573.3 833.8,1570.3 837.5,1567.9 840.7,1570.6 839.3,1573.4 833.4,1573.3"/>
<polyline stroke-width="0.8" points="849.1,1679.3 851.4,1679.9 851.3,1690.5 848.8,1689 847.7,1683.5 849.1,1679.3"/>
<polyline stroke-width="0.8" points="865.2,1539.3 864.7,1540.1 863.8,1541 862.7,1540.2 861.3,1539.5 862.9,1539 864.3,1538.5 865.2,1539.3"/>
<polyline stroke-width="0.8" points="864.6,1713.4 865.8,1714.6 867.6,1716.6 864.9,1717.9 861.9,1717.5 861.6,1715.3 862.1,1713.4 864.6,1713.4"/>
<polyline stroke-width="0.8" points="881,1732.1 879.5,1729.9 882.4,1728.2 885.2,1729.4 885.3,1730.9 884,1732.2 881,1732.1"/>
<polyline stroke-width="0.8" points="841.5,1667.4 838.9,1660.9 841.5,1656.5 844.7,1655.4 844.7,1664 841.5,1667.4"/>
<polyline stroke-width="0.8" points="859.1,1710.6 860.8,1712.6 860,1715.9 859.5,1718.8 857.8,1719.3 856.7,1716.8 856.9,1714.1 857.7,1712.2 859.1,1710.6"/>
<polyline stroke-width="0.8" points="880.1,1718.8 881.4,1716.5 883.7,1718.1 882.8,1721 880.1,1722.3 880.1,1718.8"/>
<polyline stroke-width="0.8" points="848.2,1638.2 847.5,1637.2 848.4,1636.5 849.4,1636.5 851.2,1636.6 850.4,1637.8 849.4,1638.2 848.2,1638.2"/>
<polyline stroke-width="0.8" points="889.6,1718.8 889.1,1717.7 890.1,1715.9 892.3,1717.3 891.3,1719.2 889.6,1718.8"/>
<polyline stroke-width="0.8" points="853.5,1573 852,1569.9 852.2,1564.3 853.5,1562 855.5,1563.3 855.9,1572.1 853.5,1573"/>
<polyline stroke-width="0.8" points="943.6,1760.5 944.6,1765.3 939.2,1766.2 935.4,1764.5 937.5,1761.6 943.6,1760.5"/>
<polyline stroke-width="0.8" points="930.7,1755.9 929.1,1757.3 925.9,1758.3 921.7,1757.6 918.3,1755.6 922.6,1753.5 929.3,1753.6 930.7,1755.9"/>
<polyline stroke-width="0.8" points="882.1,1719.8 880.8,1723.8 878.7,1723.1 877.9,1719.5 877.4,1715.8 878.5,1712.2 880.1,1714.3 881.4,1715.8 882.1,1719.8"/>
<polyline stroke-width="0.8" points="852.8,1527 853.7,1528.4 850.6,1529.2 848.7,1528.1 847.5,1526.9 850.5,1526.8 852.8,1527"/>
<polyline stroke-width="0.8" points="851.8,1598.5 850.1,1599.8 848.1,1600.6 843.6,1601.8 842.7,1599.6 843.5,1598.2 846.2,1597.5 849.5,1597.3 851.8,1598.5"/>
<polyline stroke-width="0.8" points="877.1,1699.9 877.4,1703.1 877,1706.1 875.2,1709.4 873.2,1706.4 872.8,1703.4 872.9,1699.9 875,1699 877.1,1699.9"/>
<polyline stroke-width="0.8" points="862.4,1521.8 870.4,1522 874.5,1525.5 868,1527 861.3,1526.3 862.4,1521.8"/>
<polyline stroke-width="0.8" points="844.8,1616.8 842.4,1616.8 842.9,1615.7 843.3,1614.5 845.7,1615.2 848.2,1615.2 847.6,1616.3 846.3,1616.8 844.8,1616.8"/>
<polyline stroke-width="0.8" points="903.5,1734.5 903.1,1730.1 904,1727.2 905.6,1725.9 905.9,1731.7 904.8,1734.7 903.5,1734.5"/>
<polyline stroke-width="0.8" points="867.4,1669.7 865.2,1669.6 864.6,1665.4 864.7,1661.6 866.2,1661 868.2,1660.5 868.5,1665.5 867.4,1669.7"/>
<polyline stroke-width="0.8" points="907.1,1757.1 905.7,1755.2 907.8,1754.1 910.1,1752.4 912.9,1753.9 914.4,1755.7 910.8,1756.5 907.1,1757.1"/>
<polyline stroke-width="0.8" points="884.8,1732.3 885.4,1730.3 887.8,1729.3 890.4,1730.3 890.1,1732.2 884.8,1732.3"/>
<polyline stroke-width="0.8" points="883.8,1722.7 882.3,1715.9 884,1711.8 886.8,1710.8 886,1718.1 883.8,1722.7"/>
<polyline stroke-width="0.8" points="856.8,1517.6 853.6,1518.6 849.6,1518.3 850.5,1516.4 854.4,1516.2 856.8,1517.6"/>
<polyline stroke-width="0.8" points="839.7,1616.6 840.9,1617.5 840.8,1622.2 839.5,1622.6 839,1619.2 839.7,1616.6"/>
<polyline stroke-width="0.8" points="838.2,1528.4 839.3,1529.1 839.3,1531.3 839,1532.8 838.3,1534.2 837.5,1533 837.3,1531.4 837.2,1529.2 838.2,1528.4"/>
<polyline stroke-width="0.8" points="831.8,1587.8 834.8,1587.8 834.8,1589.2 834,1590.1 831.8,1590.5 830.3,1589.7 830.7,1588.7 831.8,1587.8"/>
<polyline stroke-width="0.8" points="860.7,1593.1 861.2,1591.4 861.7,1592.9 861.6,1594.5 860.8,1595.8 860.7,1593.1"/>
<polyline stroke-width="0.8" points="935.2,1761.4 932.6,1763.8 929.3,1761.8 929.6,1758.9 934.7,1758 935.2,1761.4"/>
<polyline stroke-width="0.8" points="839.4,1566.2 837.2,1567.1 833.4,1567.6 832.7,1562.3 835.4,1558.4 838.5,1561.1 841.1,1563 839.4,1566.2"/>
<polyline stroke-width="0.8" points="846.2,1617.2 847.4,1619.3 845.1,1621 842.5,1620 841,1618.5 841.5,1616.3 844.3,1616.4 846.2,1617.2"/>
<polyline stroke-width="0.8" points="824.7,1649.8 825,1648.3 825.8,1647 827,1647.6 828,1648.9 827.1,1650.3 826.4,1651.6 824.9,1652.1 824.7,1649.8"/>
<polyline stroke-width="0.8" points="873.4,1650.1 873.7,1652.1 873.5,1655 871.7,1655.4 870.8,1652.8 870.6,1649.5 872.3,1648.1 873.4,1650.1"/>
<polyline stroke-width="0.8" points="845,1594.9 844.8,1592.3 848.3,1589.9 852.1,1592.2 854,1595.8 848.3,1596 845,1594.9"/>
<polyline stroke-width="0.8" points="922.1,1752.4 924.1,1755.6 926.9,1758.4 921.4,1758.7 916.6,1759.8 914.8,1756.7 917.2,1754 922.1,1752.4"/>
<polyline stroke-width="0.8" points="823.1,1658.7 821.8,1654 826.4,1652.9 829.3,1655.7 827.5,1659.8 823.1,1658.7"/>
<polyline stroke-width="0.8" points="858.1,1587.5 856.6,1584.2 858.4,1581.4 860.4,1580.5 862.1,1582 864,1584.6 862.1,1587.2 860.2,1590.3 858.1,1587.5"/>
<polyline stroke-width="0.8" points="839.4,1562.7 835.9,1565.9 832.7,1564 833.6,1558.6 837,1556.8 839.4,1562.7"/>
<polyline stroke-width="0.8" points="923.9,1731.6 923.7,1728.7 923.8,1725.1 926.7,1724.7 928.8,1726.5 928.5,1729.2 928.1,1731.6 926.1,1732.5 923.9,1731.6"/>
<polyline stroke-width="0.8" points="878.8,1654.9 881.9,1655.5 883,1657 880.1,1657.7 877.9,1658.4 875.5,1657.8 875.6,1656.6 876.2,1655.6 878.8,1654.9"/>
<polyline stroke-width="0.8" points="828.7,1678.7 829.9,1680 828.8,1680.8 826.9,1681.3 824.3,1681.1 823.7,1680 825.8,1679.4 828.7,1678.7"/>
<polyline stroke-width="0.8" points="840.6,1667.9 843.1,1666.8 843,1677.5 840.4,1683.3 839.1,1673.3 840.6,1667.9"/>
<polyline stroke-width="0.8" points="847,1496.4 847.3,1495.4 848.8,1495.4 850,1496.4 848.8,1497.4 847.5,1497.3 847,1496.4"/>
<polyline stroke-width="0.8" points="857.2,1536.5 856.9,1537.9 855.4,1538.7 854.2,1537.5 854.5,1535.9 856.1,1535.5 857.2,1536.5"/>
<polyline stroke-width="0.8" points="845.5,1564.6 844.4,1561.1 845.1,1557.9 846.5,1558 846.7,1561.6 845.5,1564.6"/>
<polyline stroke-width="0.8" points="891.3,1753.6 889.7,1750.5 890.2,1745.6 891.2,1741.6 892.7,1744.7 892.3,1749.5 891.3,1753.6"/>
<polyline stroke-width="0.8" points="946.5,1770.9 944.5,1768.3 945,1765.6 948.1,1764.4 948.7,1768.3 946.5,1770.9"/>
<polyline stroke-width="0.8" points="856.4,1562.9 855.6,1561.3 856.9,1560.3 858.3,1559.9 859.5,1561.3 858.6,1563 857.5,1564.4 856.4,1562.9"/>
<polyline stroke-width="0.8" points="858.1,1608.6 857.1,1606.1 857,1602.7 857.2,1598.4 858.4,1600 859.1,1602 859.5,1606.5 858.1,1608.6"/>
<polyline stroke-width="0.8" points="860.2,1621.1 858.8,1620.7 858.5,1619.2 858.9,1617.9 860.1,1617.9 861.6,1618.3 861.4,1620.1 860.2,1621.1"/>
<polyline stroke-width="0.8" points="971.8,1777 973,1774.9 974.8,1776.2 977.1,1777.4 975.4,1779.7 974.3,1781.7 972.2,1781.3 971.5,1779.1 971.8,1777"/>
<polyline stroke-width="0.8" points="835,1600.5 836.9,1601.3 837.8,1602.1 838.7,1603.5 836.2,1603.5 834,1604.3 832.6,1602.9 833.1,1601.4 835,1600.5"/>
<polyline stroke-width="0.8" points="849.4,1698.9 848.1,1699.3 846.3,1699 846.2,1697.8 847.5,1696.9 849.5,1697.1 849.6,1698.2 849.4,1698.9"/>
<polyline stroke-width="0.8" points="851.1,1500.8 850.6,1502.4 847.9,1502.1 845.3,1501.8 846.4,1500.3 846.9,1499.3 848.7,1499 850.9,1499.4 851.1,1500.8"/>
<polyline stroke-width="0.8" points="835.1,1687 834.2,1685.2 837.6,1684.5 840.5,1685.6 840.8,1687.8 837,1688.3 835.1,1687"/>
<polyline stroke-width="0.8" points="813.7,1632.4 813.5,1637.6 812,1641.5 809.8,1639.9 809.4,1634.7 810.1,1630.1 812.2,1628.1 813.7,1632.4"/>
<polyline stroke-width="0.8" points="851.2,1498.5 852.1,1500.6 852.7,1503.6 851.9,1506.7 850.7,1505.4 850.3,1503.2 849.9,1499.7 851.2,1498.5"/>
<polyline stroke-width="0.8" points="928.9,1758.8 929,1756.4 932.8,1755.2 936.7,1756.5 937.1,1759.1 934.9,1760.7 932.2,1763 928.2,1761.5 928.9,1758.8"/>
<polyline stroke-width="0.8" points="835.9,1541.7 836.5,1540.2 837.6,1540.7 837.7,1542.5 837,1543.9 836.1,1543.2 835.9,1541.7"/>
<polyline stroke-width="0.8" points="860.1,1686.3 857.4,1686.1 854.7,1686.2 854,1684.3 855.7,1683 857.7,1681.9 859.3,1683.3 860.6,1684.5 860.1,1686.3"/>
<polyline stroke-width="0.8" points="869.8,1685.2 870.9,1685.9 870,1686.9 869.5,1688 868.7,1687.3 867.3,1686.8 868.1,1685.5 869,1685.1 869.8,1685.2"/>
<polyline stroke-width="0.8" points="963.6,1771.2 962.2,1774.7 961.2,1770.1 962.1,1766.4 963,1762.5 964.8,1763.7 964.9,1769.2 963.6,1771.2"/>
<polyline stroke-width="0.8" points="860.4,1629.7 861.4,1631.7 861.3,1634 859.5,1635.4 857.6,1633.4 858.2,1630.1 860.4,1629.7"/>
<polyline stroke-width="0.8" points="856,1518 854.4,1515.4 855,1511.2 856.8,1512 858.5,1513.5 857.9,1517.5 856,1518"/>
<polyline stroke-width="0.8" points="844.3,1587.5 843.6,1586.2 843.5,1584.3 845,1584.2 845.8,1585 846.6,1586.2 845.7,1587.6 844.3,1587.5"/>
<polyline stroke-width="0.8" points="892.8,1692.7 896.3,1693 896.5,1694.3 896.1,1695.3 893.8,1695.7 890.5,1696 889.4,1694.7 888.8,1693.1 892.8,1692.7"/>
<polyline stroke-width="0.8" points="828.9,1629.6 827.5,1630.8 825,1630.8 823.6,1630 823,1628.9 825,1628.3 827.1,1628.7 828.9,1629.6"/>
<polyline stroke-width="0.8" points="830.3,1624.6 829.9,1615.4 831.6,1609.9 833.5,1612.6 834.1,1620.2 832.6,1625.7 830.3,1624.6"/>
<polyline stroke-width="0.8" points="827.4,1645.1 826,1647.3 821,1646.7 816.8,1645.8 818.9,1643.8 823.6,1643.9 827.4,1645.1"/>
<polyline stroke-width="0.8" points="936.8,1765 938.9,1764.2 941,1763.6 942.6,1764.9 941.3,1766.2 939.9,1767.3 937.9,1766.6 936.8,1765"/>
<polyline stroke-width="0.8" points="848.5,1596.7 847.7,1594.8 848.4,1592.8 849.3,1593.2 850.4,1593 850.1,1595.6 849.7,1597 849,1598.4 848.5,1596.7"/>
<polyline stroke-width="0.8" points="835.3,1630.4 840.8,1631.4 839,1634.1 833,1634.5 832.6,1632.1 835.3,1630.4"/>
<polyline stroke-width="0.8" points="838.2,1635.8 845,1635.5 848.9,1638 843.2,1640 835.3,1639 838.2,1635.8"/>
<polyline stroke-width="0.8" points="858.3,1630.5 856.2,1631.1 856,1628.6 856.3,1626.5 857.9,1624.5 859.9,1625.9 861.7,1628 860.5,1630.7 858.3,1630.5"/>
<polyline stroke-width="0.8" points="859.2,1655.9 854.6,1656.9 851.2,1654.6 851.5,1651.4 856.7,1651.4 860.5,1651.7 863.1,1654.1 859.2,1655.9"/>
<polyline stroke-width="0.8" points="886.1,1696.3 886.6,1698.3 886.3,1700.2 885.8,1700.9 885.1,1700.7 884.5,1698.8 885.2,1697.1 886.1,1696.3"/>
<polyline stroke-width="0.8" points="855.1,1499.1 853.7,1499.4 853.1,1498.2 853.7,1497.4 854.7,1496.3 856,1497.2 856.4,1498.4 855.1,1499.1"/>
<polyline stroke-width="0.8" points="959,1763.7 959.7,1764.3 960,1765.3 958,1765.6 956.6,1765.1 955.8,1764.3 956.8,1763.7 958,1762.8 959,1763.7"/>
<polyline stroke-width="0.8" points="909.3,1744.4 908.9,1741.8 911.4,1739.5 913.6,1742 913.3,1745.5 909.3,1744.4"/>
<polyline stroke-width="0.8" points="814.7,1586.3 815.4,1584.8 817.4,1584.6 817,1587.2 816.5,1588.6 815.2,1589.8 814.3,1587.9 814.7,1586.3"/>
<polyline stroke-width="0.8" points="854.2,1635.3 853.8,1639.2 852.5,1639.6 851.8,1635.7 852.5,1632.1 853.6,1631.9 854.2,1635.3"/>
<polyline stroke-width="0.8" points="855.7,1576.2 852.3,1572.7 856.1,1569.6 861.8,1571.3 862.3,1574.7 855.7,1576.2"/>
<polyline stroke-width="0.8" points="841.1,1508.3 842.7,1509.7 840.7,1511.1 837.4,1511.4 836.8,1509.7 837,1508.6 838.7,1507.3 841.1,1508.3"/>
<polyline stroke-width="0.8" points="828.8,1610.2 823.1,1611 820.5,1607.3 825.9,1604 829.5,1607.5 828.8,1610.2"/>
<polyline stroke-width="0.8" points="942.4,1756.6 945.1,1755.2 949.1,1756.1 952.1,1757.5 948,1758.5 944.8,1759.2 940.5,1758.3 942.4,1756.6"/>
<polyline stroke-width="0.8" points="859.3,1567.5 857.3,1567 857.3,1564.1 859.9,1563.8 860.5,1566.1 859.3,1567.5"/>
<polyline stroke-width="0.8" points="963.3,1769.4 958.6,1770.9 956.7,1768.6 957.7,1766.8 962.6,1766.7 963.3,1769.4"/>
<polyline stroke-width="0.8" points="857.9,1581 862.2,1581.7 862.7,1585.5 860.4,1588.5 858,1585.5 857.9,1581"/>
<polyline stroke-width="0.8" points="849.8,1589.7 847.3,1590.4 847.1,1587.9 847.4,1585.3 850,1586.2 852.1,1586.1 853.1,1588.1 851.5,1589.7 849.8,1589.7"/>
<polyline stroke-width="0.8" points="866,1537.5 866,1536.3 867.1,1535.4 868.5,1535.7 868.9,1536.8 868.7,1538 867.3,1537.9 866,1537.5"/>
<polyline stroke-width="0.8" points="890.9,1708 894.7,1707.8 896.9,1710 897.1,1712.7 894.1,1713.7 891.4,1713 889.5,1710.9 890.9,1708"/>
<polyline stroke-width="0.8" points="895.2,1720.9 896.2,1721.7 896.4,1724.4 896.4,1728.1 895.1,1729.6 894.1,1726.9 892.7,1724 894,1720.8 895.2,1720.9"/>
<polyline stroke-width="0.8" points="850.1,1542.1 852.6,1539.4 856.1,1539.2 856,1543.5 854.9,1547.7 851,1546.8 850.1,1542.1"/>
<polyline stroke-width="0.8" points="857.1,1553.9 853.3,1556.2 851.2,1553.3 851.7,1550.5 856.2,1551 857.1,1553.9"/>
<polyline stroke-width="0.8" points="947.3,1764.5 945.9,1767.8 944.5,1767.2 944,1762.2 944.9,1757.9 946.3,1759.5 947.3,1764.5"/>
<polyline stroke-width="0.8" points="874.2,1634.1 873.8,1636.7 872.9,1637.7 871.2,1638.6 871.4,1634.6 872.1,1632 873.5,1631 874.2,1634.1"/>
<polyline stroke-width="0.8" points="851.1,1552.3 852.5,1553 851.1,1553.7 849.5,1553.6 849.2,1552.8 849.6,1551.7 851.1,1552.3"/>
<polyline stroke-width="0.8" points="905.3,1723.7 904.1,1723.9 902.4,1723.6 903.2,1722.6 904.2,1722 906.3,1721.9 906.8,1723.1 905.3,1723.7"/>
<polyline stroke-width="0.8" points="981.6,1773.8 980.5,1773.7 979.7,1772.9 980.8,1772.1 982.4,1772.3 983,1773.4 981.6,1773.8"/>
<polyline stroke-width="0.8" points="923.4,1747.5 924.3,1740.7 926.5,1741.6 927.2,1749.9 926.1,1759.1 923.7,1755.1 923.4,1747.5"/>
<polyline stroke-width="0.8" points="957.7,1766.2 958.1,1766.8 957.6,1767.7 955.8,1767.2 954.8,1766.6 955.5,1765.6 957.7,1766.2"/>
<polyline stroke-width="0.8" points="858,1504.2 860.1,1504.3 861.6,1505.4 861.4,1507.2 858.7,1507.8 856.6,1506.8 856.8,1505.3 858,1504.2"/>
<polyline stroke-width="0.8" points="811.5,1608.8 817,1609.9 817.8,1612.5 814.3,1614 810.6,1615.1 804.7,1614.8 804,1612.1 806.3,1609.8 811.5,1608.8"/>
<polyline stroke-width="0.8" points="890.1,1725.5 889.6,1732 887.8,1734.7 886.7,1728.6 888.1,1724.3 890.1,1725.5"/>
<polyline stroke-width="0.8" points="843,1492 846.3,1490.4 848.7,1489 852,1489.9 852.1,1492.4 851.5,1494.9 848.2,1495 845.4,1494.3 843,1492"/>
<polyline stroke-width="0.8" points="851.1,1685.5 852.3,1687.8 848.1,1689 845.3,1687.2 844.9,1685.1 848.5,1684.1 851.1,1685.5"/>
<polyline stroke-width="0.8" points="861.8,1510.3 864.9,1508.6 867.5,1508.6 870.9,1509.7 869.5,1512.7 866.7,1514.5 863,1513.6 861.8,1510.3"/>
<polyline stroke-width="0.8" points="921.7,1744.2 920.3,1745 918.7,1744.6 917.2,1741.1 918.4,1737.1 920.2,1735.6 921.5,1738.3 922.6,1741 921.7,1744.2"/>
<polyline stroke-width="0.8" points="864.7,1687.8 865.6,1689.6 866.2,1691.1 866.3,1693.7 865.2,1695.6 863.8,1694.6 863.2,1691.9 863.2,1688.7 864.7,1687.8"/>
<polyline stroke-width="0.8" points="859.8,1648.4 861.5,1649.3 863.3,1651.7 861.3,1653.7 859.6,1655.6 857.5,1653.6 858.6,1650.3 859.8,1648.4"/>
<polyline stroke-width="0.8" points="885,1718.3 884.3,1720 883.1,1722.1 878.7,1722 878.1,1719.5 879,1717.5 882.4,1717.5 885,1718.3"/>
<polyline stroke-width="0.8" points="916.4,1738.7 913.5,1739.7 911.2,1740.4 910.1,1736.1 911,1731.8 913.6,1728.3 915.8,1732.8 916.4,1738.7"/>
<polyline stroke-width="0.8" points="866.6,1519.1 868.8,1520.9 869.6,1522.3 870.1,1524.2 868.4,1525 866.2,1526.1 866.1,1523.5 865.8,1521.9 866.6,1519.1"/>
<polyline stroke-width="0.8" points="859.1,1644.7 859.7,1646 860.6,1648 859.6,1649.4 858.9,1649.8 857.7,1650 857.5,1647 858.4,1645.6 859.1,1644.7"/>
<polyline stroke-width="0.8" points="853.7,1695.3 857.9,1694.6 861,1695.5 859.2,1697.2 855.6,1697.8 853.7,1695.3"/>
<polyline stroke-width="0.8" points="864.2,1548.4 862,1549.2 860.1,1548.6 858.4,1546.2 860.1,1543.7 862.4,1544.1 863.7,1545.7 864.2,1548.4"/>
<polyline stroke-width="0.8" points="845.4,1622.1 844.1,1621 843.4,1617.5 843.9,1613.5 845.2,1611.8 846.2,1614.9 846.7,1619.4 845.4,1622.1"/>
<polyline stroke-width="0.8" points="926.8,1756.8 927,1754.9 929.6,1753.7 930.6,1755.9 929.3,1758 926.8,1756.8"/>
<polyline stroke-width="0.8" points="849.1,1664.5 847.5,1665.9 847.4,1662.7 847.5,1660.7 848,1657.6 849.7,1658.1 850.4,1660.9 849.7,1663 849.1,1664.5"/>
<polyline stroke-width="0.8" points="874.6,1701.4 877.9,1702.3 877.4,1705.5 874.2,1706.7 871.2,1705.8 870.9,1703.3 872.3,1701.7 874.6,1701.4"/>
<polyline stroke-width="0.8" points="859.7,1552.8 861.4,1550.3 861.9,1554.8 863.3,1558.8 861.2,1560.6 859.6,1560.4 857.9,1558.6 858.4,1554.4 859.7,1552.8"/>
<polyline stroke-width="0.8" points="867.5,1535.4 868.8,1538.9 863.3,1538.8 860.8,1537 861,1534.5 865,1532.8 867.5,1535.4"/>
<polyline stroke-width="0.8" points="846.7,1549.3 845.9,1548 848.1,1547.9 850.3,1548.1 850.2,1549.9 847.7,1550.6 846.7,1549.3"/>
<polyline stroke-width="0.8" points="837.1,1578.2 834.7,1577.5 834.5,1573.1 837.1,1573 838.7,1575.5 837.1,1578.2"/>
<polyline stroke-width="0.8" points="900.6,1712.5 896.3,1714.3 892,1715.7 889.5,1712.5 892,1710.2 894.4,1708.6 897.9,1709.5 900.6,1712.5"/>
<polyline stroke-width="0.8" points="880.3,1702.6 882.1,1704.4 881.9,1706.1 879.9,1706.8 879.4,1704.9 880.3,1702.6"/>
<polyline stroke-width="0.8" points="872,1658.8 870.6,1657.3 874.1,1656.2 876.8,1657.5 877.5,1659.2 874.1,1659.4 872,1658.8"/>
<polyline stroke-width="0.8" points="861.1,1674.9 861.3,1678.6 860,1679.2 859,1677.5 859.8,1674.9 861.1,1674.9"/>
<polyline stroke-width="0.8" points="834.1,1640.2 831.7,1638.3 832.6,1635.8 835.4,1635.4 836.8,1636.9 836.2,1638.4 834.1,1640.2"/>
<polyline stroke-width="0.8" points="859.2,1509.1 857.8,1511 856.9,1508.6 856.7,1505.9 857.9,1505.5 859,1506.1 859.2,1509.1"/>
<polyline stroke-width="0.8" points="830,1681.7 832.5,1681.6 834.2,1682.1 834.6,1683.3 832.1,1684.3 830.9,1682.9 830,1681.7"/>
<polyline stroke-width="0.8" points="864,1688.1 865.2,1683.8 867.6,1685.2 867.6,1689.8 868.5,1694 866.3,1694.4 864.5,1695 864,1691.4 864,1688.1"/>
<polyline stroke-width="0.8" points="861.7,1712.2 863.2,1712.3 865.2,1713.3 862.9,1713.9 860.9,1714.2 860.4,1712.9 861.7,1712.2"/>
<polyline stroke-width="0.8" points="879.8,1662.8 880.2,1664.4 880.1,1665.9 879.8,1668 879,1667.1 878.7,1665.2 879.2,1664 879.8,1662.8"/>
<polyline stroke-width="0.8" points="953.1,1758.3 955.2,1760.2 956.1,1762.7 951.9,1764.3 946.7,1764.1 945.7,1761.6 943.8,1759.1 948.7,1758.1 953.1,1758.3"/>
<polyline stroke-width="0.8" points="875.2,1527 872.7,1526.4 873,1524.5 874.9,1523 877.4,1524 876.4,1525.7 875.2,1527"/>
<polyline stroke-width="0.8" points="841.9,1603.3 844.2,1604.6 843.8,1607.9 840.9,1608.2 838.5,1607.4 837.4,1604.3 839.5,1601.7 841.9,1603.3"/>
<polyline stroke-width="0.8" points="851.4,1634.1 850.2,1631.3 852.2,1629.8 853.9,1628.4 855.8,1630 855.3,1633 854.7,1635.7 852.4,1638.3 851.4,1634.1"/>
<polyline stroke-width="0.8" points="919.7,1748.2 917.4,1749.6 916.1,1747.7 916.5,1746.2 919.2,1744.8 920.9,1746.8 919.7,1748.2"/>
<polyline stroke-width="0.8" points="896.1,1749.2 894.3,1748 893.9,1746.5 896.2,1745.3 899.2,1746 899.9,1747 901.8,1748.2 898.7,1748.5 896.1,1749.2"/>
<polyline stroke-width="0.8" points="825.3,1652.1 830.5,1652.1 833.5,1653.7 830.9,1655.1 828.1,1656.6 824.8,1655.3 823.4,1653.8 825.3,1652.1"/>
<polyline stroke-width="0.8" points="848.6,1586.6 849.7,1587.7 847.9,1588.4 845.5,1588.6 845,1587.4 843.3,1586.3 845.3,1585.2 847.5,1586 848.6,1586.6"/>
<polyline stroke-width="0.8" points="860,1579.9 862.8,1580.2 862.8,1581.9 860.9,1584 856.6,1582.9 857.8,1580.7 860,1579.9"/>
<polyline stroke-width="0.8" points="862,1653.6 864.4,1654.6 866.6,1655.1 866.6,1659 864.8,1660.5 862.3,1662.6 861.3,1658 862,1653.6"/>
<polyline stroke-width="0.8" points="966.5,1773.1 965.9,1771.9 965.4,1770.7 968.1,1769.6 970,1770.9 971.8,1772.2 968.9,1772.7 966.5,1773.1"/>
<polyline stroke-width="0.8" points="832.7,1637.6 834,1639.8 835.6,1642.1 833.8,1644 831.8,1645 829.4,1643.9 829.8,1640.9 830.5,1638.3 832.7,1637.6"/>
<polyline stroke-width="0.8" points="820.6,1590.2 819,1586.8 817.7,1583.1 819.2,1579.4 821.3,1577.7 822.7,1581 822.9,1584.1 822.9,1588.4 820.6,1590.2"/>
<polyline stroke-width="0.8" points="835.7,1649.8 837.7,1650.3 837.5,1652.4 837.3,1654 835.9,1653.7 834.4,1653.3 834.2,1651.3 835.7,1649.8"/>
<polyline stroke-width="0.8" points="830.1,1664.1 831.7,1665.4 829.2,1666.7 825.2,1666.1 824.7,1664.2 827.5,1662.8 830.1,1664.1"/>
<polyline stroke-width="0.8" points="849.2,1543.3 849.3,1542.5 850,1541.9 851.7,1541.4 852.9,1542.1 853.1,1542.7 853.1,1543.6 851,1543.6 849.2,1543.3"/>
<polyline stroke-width="0.8" points="833,1688.2 829,1685.6 828.5,1683.5 830.3,1680.9 834.4,1682.4 836,1685 833,1688.2"/>
<polyline stroke-width="0.8" points="875.1,1704.1 869.8,1704 865.7,1701.5 868.2,1697.9 874.1,1697.8 877.6,1700.8 875.1,1704.1"/>
<polyline stroke-width="0.8" points="893.2,1743.3 893.8,1742.1 894.9,1742.4 894.9,1744 894.6,1745.2 893.9,1745.7 893.3,1745.2 892.5,1744.4 893.2,1743.3"/>
<polyline stroke-width="0.8" points="870.4,1723.8 869.2,1723.2 868.7,1722.2 868.9,1720.7 870.4,1720.8 871.4,1721.6 870.8,1722.6 870.4,1723.8"/>
<polyline stroke-width="0.8" points="862.6,1624.3 864.3,1623 865.6,1625 866.6,1627.5 864.5,1628.5 862.4,1629.4 861.1,1626.5 862.6,1624.3"/>
<polyline stroke-width="0.8" points="850.7,1501.8 850.2,1500.8 851,1499.9 853.1,1499.1 857.1,1499.1 857.1,1500.7 856.5,1502.1 853.2,1503 850.7,1501.8"/>
<polyline stroke-width="0.8" points="844.7,1599.4 843.5,1601.2 840.8,1601 839.5,1598.6 841.1,1596.5 843.4,1596.2 844.8,1597.7 844.7,1599.4"/>
<polyline stroke-width="0.8" points="858.4,1570.8 861.3,1571.7 860.5,1573.4 860.2,1575.1 856.8,1575.6 855,1574.1 853.1,1572.7 856.2,1572 858.4,1570.8"/>
<polyline stroke-width="0.8" points="875.4,1670.8 874.8,1670.2 874.5,1668.1 874.9,1666.5 875.3,1665.9 875.6,1667.1 875.8,1668.9 875.4,1670.8"/>
<polyline stroke-width="0.8" points="857.8,1578.2 858.8,1579.8 857.7,1581.4 855,1581.3 855.5,1578.4 857.8,1578.2"/>
<polyline stroke-width="0.8" points="935.5,1751.9 935.6,1754 932.6,1755.2 929.1,1755.8 925.7,1754.9 923.5,1753.3 925.2,1751.2 930.4,1751.9 935.5,1751.9"/>
<polyline stroke-width="0.8" points="864.7,1724.3 866.4,1725.7 865.7,1727.4 861.4,1728.3 859,1726.2 861.4,1724.7 864.7,1724.3"/>
<polyline stroke-width="0.8" points="877.9,1720.5 873.8,1719.2 874.8,1716.4 877.8,1715.3 879.7,1717.6 877.9,1720.5"/>
<polyline stroke-width="0.8" points="935.7,1752.6 931.2,1752.9 928.7,1751.5 930.8,1749.6 935.2,1750.4 935.7,1752.6"/>
<polyline stroke-width="0.8" points="874.5,1707 875.5,1712.6 872.9,1716.4 870.8,1711.8 872.1,1707.1 874.5,1707"/>
<polyline stroke-width="0.8" points="865.2,1664.9 868,1665.5 867.2,1667.3 863.6,1667.1 860.5,1666.3 861.9,1664.6 865.2,1664.9"/>
<polyline stroke-width="0.8" points="936,1753.2 935.3,1756.8 934.5,1753.6 934.5,1749.9 935.9,1749 936,1753.2"/>
<polyline stroke-width="0.8" points="931.3,1755.3 932.5,1755.7 932.2,1756.5 930.1,1756.5 929.8,1755.6 931.3,1755.3"/>
<polyline stroke-width="0.8" points="960.9,1768.7 959.5,1769.6 958.3,1767.4 959,1762.4 960.7,1762.8 960.9,1768.7"/>
<polyline stroke-width="0.8" points="850.2,1693.6 851.6,1691.1 853.8,1693.5 852.3,1696.9 850.1,1697.7 850.2,1693.6"/>
<polyline stroke-width="0.8" points="836.3,1683.8 838.7,1679.2 843.2,1682.8 841.7,1689.5 837.3,1687.6 836.3,1683.8"/>
<polyline stroke-width="0.8" points="849.9,1574.8 850.7,1576.6 851.4,1581.2 850.3,1585 848.9,1584 848.3,1579.5 848.8,1574.9 849.9,1574.8"/>
<polyline stroke-width="0.8" points="850.6,1676.4 847.8,1679.3 842.5,1681.1 837.8,1677.9 843.7,1675.5 850.6,1676.4"/>
<polyline stroke-width="0.8" points="867.2,1542.1 870.4,1542.7 869.7,1544.4 867.2,1545.3 862.4,1546 861.1,1543.6 863.5,1541.8 867.2,1542.1"/>
<polyline stroke-width="0.8" points="864.7,1712.4 863.5,1709.7 863,1706.9 864,1702.7 867.1,1703.3 867.4,1707.9 867.3,1712.2 864.7,1712.4"/>
<polyline stroke-width="0.8" points="921.2,1747.9 921.1,1746.9 921.7,1745.8 922.6,1746.3 922.8,1747.4 922.9,1748.8 921.8,1748.7 921.2,1747.9"/>
<polyline stroke-width="0.8" points="925.8,1755.8 928.8,1755.4 929.6,1760.6 927.3,1762.9 925.9,1760.2 925.8,1755.8"/>
<polyline stroke-width="0.8" points="844.5,1662.9 846.1,1665.1 848,1668.7 845.5,1671 843.3,1671.2 840.3,1668.7 841.7,1663.5 844.5,1662.9"/>
<polyline stroke-width="0.8" points="847.7,1683.7 847.1,1681.8 846.6,1678.7 847.5,1676.8 848.5,1676.7 849.6,1678 850.3,1682.7 848.9,1685.7 847.7,1683.7"/>
<polyline stroke-width="0.8" points="877.4,1708.9 878.8,1709.3 879.7,1711.6 879.3,1714.1 878.4,1715.3 877.5,1715 876.8,1713.7 876.4,1711.2 877.4,1708.9"/>
<polyline stroke-width="0.8" points="858.2,1555.3 857.1,1554.7 857.6,1550.7 858,1547.2 859.1,1548.2 859.7,1551.7 859,1554.5 858.2,1555.3"/>
<polyline stroke-width="0.8" points="869.6,1521.1 868.1,1524.9 864.9,1523 865.4,1518.6 867.3,1515.9 869.2,1518.1 869.6,1521.1"/>
<polyline stroke-width="0.8" points="865.3,1703.1 865.9,1699.4 867.2,1701.1 867.8,1704.1 867.1,1707.7 865.8,1705.9 865.3,1703.1"/>
<polyline stroke-width="0.8" points="843.6,1559.2 842.6,1558.5 842.2,1554.4 842.8,1550.9 843.8,1548.8 844.9,1550.9 844.8,1555.2 844.8,1559.8 843.6,1559.2"/>
<polyline stroke-width="0.8" points="856.7,1607.1 857,1609.1 855.3,1610.4 853.1,1609.6 853.4,1607.1 855.1,1605.7 856.7,1607.1"/>
<polyline stroke-width="0.8" points="839,1639.5 835.7,1639.8 833.1,1639.3 829.4,1638.4 832.5,1637.2 835,1636.8 837.8,1636.9 841.5,1637.9 839,1639.5"/>
<polyline stroke-width="0.8" points="867.7,1700.5 868.3,1699.2 868.6,1700.8 869.2,1702 868.8,1703.5 868.2,1703.7 867.6,1703.4 867.3,1701.8 867.7,1700.5"/>
<polyline stroke-width="0.8" points="912.9,1750.3 914,1750.7 913.8,1751.6 912.4,1752.3 911.5,1751.4 911.9,1750.7 912.9,1750.3"/>
<polyline stroke-width="0.8" points="839.5,1680.8 837.1,1683.2 833.5,1683.6 833.2,1680.1 834,1676.5 838.2,1677.2 839.5,1680.8"/>
<polyline stroke-width="0.8" points="851.8,1582.2 851.1,1582.8 849.2,1582.8 847.8,1582 849.5,1581.4 851.7,1581.2 851.8,1582.2"/>
<polyline stroke-width="0.8" points="855.8,1556.2 850.5,1554.7 853.6,1551.5 858.6,1552.4 861.2,1553.8 860.3,1556.1 855.8,1556.2"/>
<polyline stroke-width="0.8" points="848.2,1652.3 850.9,1650.2 853.6,1653.2 852.2,1657.4 850.1,1659 848.5,1656.4 848.2,1652.3"/>
<polyline stroke-width="0.8" points="846.3,1534.5 847.6,1534 849.1,1534.4 849.8,1535.4 847.7,1535.8 845.8,1535.3 846.3,1534.5"/>
<polyline stroke-width="0.8" points="881.8,1683.3 880.3,1684.6 878.4,1684.1 878.5,1682.2 877.9,1680.6 879.5,1680.4 880.6,1680.7 881.1,1681.6 881.8,1683.3"/>
<polyline stroke-width="0.8" points="819.6,1579.2 820.5,1575.4 824.6,1575.9 826.1,1579.1 822.9,1581.4 819.6,1579.2"/>
<polyline stroke-width="0.8" points="847,1657.7 850.7,1658.7 854.2,1659.8 853.9,1664 850.6,1664.6 847.5,1665.5 847.2,1662 847,1657.7"/>
<polyline stroke-width="0.8" points="941.3,1754.1 943.9,1754.7 947.1,1755.5 945.9,1757.6 942.9,1757.7 940.5,1757.3 938.6,1755.5 941.3,1754.1"/>
<polyline stroke-width="0.8" points="875.1,1610.5 873.7,1609.1 875.3,1607.7 877.2,1607.3 877.7,1609 878,1610.4 876.5,1611.7 875.1,1610.5"/>
<polyline stroke-width="0.8" points="848.1,1676.8 848.7,1678.6 846.6,1679.6 844.7,1679.1 842.9,1678.3 843.9,1676.9 844.4,1675.1 846.5,1675.9 848.1,1676.8"/>
<polyline stroke-width="0.8" points="958.8,1766.7 963.9,1766.5 963.9,1768.6 961,1769.8 955.6,1770 954.7,1767.7 958.8,1766.7"/>
<polyline stroke-width="0.8" points="889.2,1741.7 889.9,1744.2 886.9,1744.8 883.2,1745.1 882.6,1741.9 886.3,1741.4 889.2,1741.7"/>
<polyline stroke-width="0.8" points="869.2,1542.7 867.4,1549 865.2,1545.2 864.2,1541.2 865.3,1536.4 867.4,1537.8 869.2,1542.7"/>
<polyline stroke-width="0.8" points="876,1628.5 875.6,1630.6 874.4,1630.9 872.8,1628.9 874.7,1627.6 876,1628.5"/>
<polyline stroke-width="0.8" points="840.4,1584.3 843.9,1585.8 842,1587.4 838.2,1587.8 837.6,1585.9 840.4,1584.3"/>
<polyline stroke-width="0.8" points="856.1,1509.9 856.9,1510.5 857.8,1511.3 856.5,1512 855,1511.7 854,1511.2 853.3,1510.4 854.8,1510.1 856.1,1509.9"/>
<polyline stroke-width="0.8" points="853.9,1561.5 851.5,1563 847.4,1562.2 848.3,1559.3 853,1559.1 853.9,1561.5"/>
<polyline stroke-width="0.8" points="867.2,1553.4 866.3,1554 865.2,1552.9 865.2,1549.2 866,1546.6 867.3,1547 867.5,1550.5 867.2,1553.4"/>
<polyline stroke-width="0.8" points="849.1,1579.6 849.9,1576.6 851.3,1577.1 851.9,1579.1 851.7,1581.1 851,1583 849.9,1582.2 849.1,1579.6"/>
<polyline stroke-width="0.8" points="852.5,1700.3 850.8,1702.1 850,1697.4 850.8,1692.3 852.4,1695.4 852.5,1700.3"/>
<polyline stroke-width="0.8" points="840.4,1627.4 841.6,1628.2 843.5,1629.3 841.1,1629.9 839.2,1631.2 838.1,1629.6 836.2,1628.5 837.7,1626.9 840.4,1627.4"/>
<polyline stroke-width="0.8" points="840.6,1516.6 839,1510.1 840.7,1505 842.3,1507.8 842.7,1513.2 840.6,1516.6"/>
<polyline stroke-width="0.8" points="961.3,1768.1 963.3,1765.3 968.3,1766.3 969.3,1769 966.3,1770.7 962.4,1770.5 961.3,1768.1"/>
<polyline stroke-width="0.8" points="865.4,1695.5 864.7,1693.2 868,1692.5 869.9,1694.5 868.8,1696.5 866.6,1696.8 865.4,1695.5"/>
<polyline stroke-width="0.8" points="888.1,1723.6 891,1724 890.5,1725.3 888.1,1726.2 886.6,1725.1 885.8,1724.1 888.1,1723.6"/>
<polyline stroke-width="0.8" points="842.9,1695.3 839.6,1692.6 840.6,1689.5 845.4,1689.4 848.2,1690.2 849.9,1692 847.9,1694.1 842.9,1695.3"/>
<polyline stroke-width="0.8" points="857.7,1562.9 860.2,1565.2 857.1,1567.5 851.7,1567.2 849.4,1564.7 853,1563 857.7,1562.9"/>
<polyline stroke-width="0.8" points="928.4,1751.8 931.4,1752.8 928.9,1754.3 926.7,1754.4 925.1,1753.2 925.9,1751.4 928.4,1751.8"/>
<polyline stroke-width="0.8" points="838.7,1619.9 836.2,1616.6 842,1615.7 848.2,1616.4 845.6,1619.6 838.7,1619.9"/>
<polyline stroke-width="0.8" points="865.7,1678.8 865.9,1679.9 865.1,1680.7 863.9,1680.6 863.4,1679.6 863.7,1678.9 864.2,1678.4 865.3,1677.8 865.7,1678.8"/>
<polyline stroke-width="0.8" points="846.8,1501.7 843.3,1501.3 843,1497.3 846.7,1497.1 849,1499.3 846.8,1501.7"/>
<polyline stroke-width="0.8" points="860.8,1621.2 863.9,1623.8 865.9,1628 863.4,1632 860.3,1629.9 857.9,1628.3 859.3,1625.4 860.8,1621.2"/>
<polyline stroke-width="0.8" points="854.1,1554.3 859.5,1554.2 859.4,1558 856.5,1559.8 850.6,1558.6 854.1,1554.3"/>
<polyline stroke-width="0.8" points="869.4,1576.8 866.2,1576.9 863.6,1576.7 861.2,1575 864.1,1573.4 867.3,1574.1 870.2,1574.9 869.4,1576.8"/>
<polyline stroke-width="0.8" points="822.6,1611.7 822.3,1609.4 826.7,1609.6 828.2,1611.5 827.4,1613.8 822.8,1614 822.6,1611.7"/>
<polyline stroke-width="0.8" points="872.3,1493.6 871.8,1498.2 869.5,1499.3 866.9,1497.7 867.9,1493.1 872.3,1493.6"/>
<polyline stroke-width="0.8" points="934.8,1767.7 932.9,1768 930.6,1766.4 932,1763.5 934.8,1763.9 936,1765.9 934.8,1767.7"/>
<polyline stroke-width="0.8" points="855.8,1503.9 855.8,1509.1 854.1,1511.4 851.9,1513.2 851.5,1508.2 852,1504.9 853.6,1500.9 855.8,1503.9"/>
<polyline stroke-width="0.8" points="877.9,1701.8 876,1699.6 874.2,1697.4 879.3,1697.1 881.4,1698.5 881,1700 877.9,1701.8"/>
<polyline stroke-width="0.8" points="869.4,1688.4 868.5,1688.4 867.6,1687.7 867.3,1685.6 868.4,1685 869.2,1683.9 869.7,1685.6 869.9,1687.1 869.4,1688.4"/>
<polyline stroke-width="0.8" points="842.7,1674.1 844.2,1670.3 847.1,1671 846.4,1676.8 843.9,1679.6 842.7,1674.1"/>
<polyline stroke-width="0.8" points="853.9,1548.8 854.9,1545.7 856.7,1546.5 857.6,1548.8 857.3,1552.8 855,1551.8 853.9,1548.8"/>
<polyline stroke-width="0.8" points="891.1,1733.9 886.5,1735.9 880.7,1734.3 882.6,1730.7 890,1730.1 891.1,1733.9"/>
<polyline stroke-width="0.8" points="847.3,1535.5 847,1541.8 844,1541.7 843.3,1535.4 845.4,1531.4 847.3,1535.5"/>
<polyline stroke-width="0.8" points="940.8,1764.3 937.1,1764.2 935.5,1762.9 938.3,1762.1 940.5,1762.8 940.8,1764.3"/>
<polyline stroke-width="0.8" points="848.3,1495.8 850.5,1495.2 852.8,1496.3 853.2,1499.1 850.6,1499.9 848.4,1499.7 847.3,1497.8 848.3,1495.8"/>
<polyline stroke-width="0.8" points="920.7,1755 919.3,1755.3 918.2,1754.6 916.5,1753.6 918.7,1752.9 920.2,1752.7 921.3,1753.4 922,1754.3 920.7,1755"/>
<polyline stroke-width="0.8" points="858.2,1698.1 860.6,1695.3 866.5,1697 866.7,1699.3 863.7,1701.7 856.5,1700.9 858.2,1698.1"/>
<polyline stroke-width="0.8" points="870.2,1519.7 869.5,1521.9 868.1,1524.3 867.2,1520 868.1,1516.3 869,1514.7 870,1516.2 870.2,1519.7"/>
<polyline stroke-width="0.8" points="842.4,1686.7 838.1,1687.7 833.7,1686.5 832.9,1684.1 837.2,1683.2 842,1682.2 846.3,1684.5 842.4,1686.7"/>
<polyline stroke-width="0.8" points="921.2,1747.9 921.6,1746.2 924.7,1745.2 927.3,1746.7 927.6,1748.7 926.7,1750.9 923,1750.9 920.9,1749.5 921.2,1747.9"/>
<polyline stroke-width="0.8" points="930.4,1762.8 931.2,1759.9 936.3,1760.1 940.3,1762.7 936.8,1765.7 930.9,1766.3 930.4,1762.8"/>
<polyline stroke-width="0.8" points="842.8,1598 841,1596.7 842.5,1595 843.3,1593 845,1594.4 847.2,1595.1 845.7,1596.8 844.8,1598.3 842.8,1598"/>
<polyline stroke-width="0.8" points="845.8,1494.9 843,1493.8 844.8,1492.2 847,1490.4 850.2,1491.8 850.4,1493.6 849.5,1495.8 845.8,1494.9"/>
<polyline stroke-width="0.8" points="941.9,1757.4 943.9,1759.8 940.3,1760.8 937.8,1762.6 936.3,1760.2 935.4,1758.5 937.1,1757.1 939.7,1755.1 941.9,1757.4"/>
<polyline stroke-width="0.8" points="856.8,1697.9 857.7,1696.8 858.3,1699 858.8,1701 858.1,1702.6 857.4,1703.3 856.3,1703 856,1699.8 856.8,1697.9"/>
<polyline stroke-width="0.8" points="819.8,1610.8 822.3,1609.8 825.1,1611 823.9,1614.8 824.3,1618.5 821.5,1619.5 820,1616.7 818.8,1614 819.8,1610.8"/>
<polyline stroke-width="0.8" points="853.9,1700.8 856.7,1698.1 858.1,1702.1 859.3,1705.3 856.6,1706.5 853.1,1708 851.1,1703.7 853.9,1700.8"/>
<polyline stroke-width="0.8" points="825.4,1622 827,1625 825.9,1627.8 822.1,1628.5 818.3,1627.3 819.5,1624.5 821.6,1623.2 825.4,1622"/>
<polyline stroke-width="0.8" points="856.6,1558.1 850.1,1557.7 851.2,1554.7 856.6,1552.6 862.5,1554.5 862,1557.4 856.6,1558.1"/>
<polyline stroke-width="0.8" points="894,1735.1 898.1,1734.7 902.2,1736.6 901.3,1739.9 895.7,1741.3 892.7,1738.7 890,1736.5 894,1735.1"/>
<polyline stroke-width="0.8" points="850.1,1607 849.9,1609 848.4,1609.4 846.9,1609.3 846.2,1607.4 848.1,1606.9 850.1,1607"/>
<polyline stroke-width="0.8" points="849.1,1518.2 852.5,1516.7 857.1,1517.4 858.5,1518.9 858.8,1520.4 855.6,1521.2 851.6,1521.3 847.4,1520.1 849.1,1518.2"/>
<polyline stroke-width="0.8" points="948.6,1764.3 947.7,1762.1 953.1,1761.7 955.7,1763.3 956.2,1764.7 953.8,1765.7 950.3,1765.7 948.6,1764.3"/>
<polyline stroke-width="0.8" points="850,1696.7 847.6,1696.8 847.9,1694.4 850.3,1693.8 852.1,1695.6 850,1696.7"/>
<polyline stroke-width="0.8" points="849.3,1688.1 845.3,1687 846.2,1684.2 853.7,1684.8 854.6,1687.5 849.3,1688.1"/>
<polyline stroke-width="0.8" points="855.4,1694.1 855.4,1697.1 854.1,1700 851.8,1698.4 851.3,1693.5 853.8,1691.4 855.4,1694.1"/>
<polyline stroke-width="0.8" points="978.2,1777.4 977.3,1777.6 976.2,1777.5 975.3,1777 975.5,1776.1 977,1775.6 978.6,1775.9 978.9,1776.8 978.2,1777.4"/>
<polyline stroke-width="0.8" points="853.1,1540.8 852.2,1539.8 851.6,1537.3 852.4,1534.4 853.6,1535.9 854.6,1537.6 854.3,1540.6 853.1,1540.8"/>
<polyline stroke-width="0.8" points="827.5,1607.7 830.3,1608.3 828.7,1612.1 826.4,1614.7 825.8,1609.9 827.5,1607.7"/>
<polyline stroke-width="0.8" points="882.2,1734.2 878.7,1732.6 879.1,1730.1 883.4,1729.1 885,1731.9 882.2,1734.2"/>
<polyline stroke-width="0.8" points="851,1510.8 852.1,1510.8 851.8,1512.2 851.6,1513.7 850.4,1513.3 849.6,1512.3 850.2,1511.2 851,1510.8"/>
<polyline stroke-width="0.8" points="941.2,1759.4 946.3,1756.5 955.1,1757.5 955.1,1761.1 947.1,1761.4 941.2,1759.4"/>
<polyline stroke-width="0.8" points="857.9,1505.4 859.2,1502.3 861.2,1501.9 861.3,1505.9 861.1,1510.4 859.3,1507.8 857.9,1505.4"/>
<polyline stroke-width="0.8" points="846.5,1610.4 845.9,1606.8 846.2,1603.7 848.2,1601.6 850,1604.1 849.8,1607.3 848.6,1609 846.5,1610.4"/>
<polyline stroke-width="0.8" points="975.7,1778.1 975.7,1775.2 980.1,1772.2 984,1775.9 980.8,1779.1 975.7,1778.1"/>
<polyline stroke-width="0.8" points="857.8,1662 856.4,1662.3 854.8,1662.1 855.3,1661.1 855.1,1660.2 856.5,1659.8 857.3,1660.6 857.9,1661.1 857.8,1662"/>
<polyline stroke-width="0.8" points="847,1661.3 842.5,1662.1 841.3,1659.8 841.1,1658 844.6,1657.5 847.5,1658.2 849.7,1659.8 847,1661.3"/>
<polyline stroke-width="0.8" points="869.7,1561.1 867.7,1560.7 867,1559.4 867.8,1557.6 870.2,1558.1 869.7,1561.1"/>
<polyline stroke-width="0.8" points="843.6,1582.5 841.5,1585.3 838,1585.9 834.6,1586.1 832.7,1584 833.8,1581.7 836.5,1580.4 840,1580.6 843.6,1582.5"/>
<polyline stroke-width="0.8" points="848.1,1556.5 847.5,1555.2 849,1554.3 851.2,1553.4 852.7,1554.9 852.7,1556.6 851.3,1558 848.8,1558.4 848.1,1556.5"/>
<polyline stroke-width="0.8" points="861.8,1649.3 862,1647.1 863.9,1645.3 866.9,1646.2 868.9,1647.3 867.9,1649 865.3,1649.6 861.8,1649.3"/>
<polyline stroke-width="0.8" points="868.6,1707.2 870.6,1706.9 871.7,1707.9 871.6,1708.8 871.2,1709.7 869.8,1709.6 867.5,1709.7 867.7,1708.3 868.6,1707.2"/>
<polyline stroke-width="0.8" points="953.1,1772.9 951,1769.2 954.1,1766.9 956.8,1767.3 958.3,1769.5 957.6,1773.5 953.1,1772.9"/>
<polyline stroke-width="0.8" points="846.5,1532.8 848.2,1528.2 849.9,1526.1 852.4,1526.3 855.2,1529.3 853.5,1534.3 850.1,1533.9 846.5,1532.8"/>
<polyline stroke-width="0.8" points="931,1749.1 928,1748.8 926.2,1747.8 927.1,1746.1 931,1745.4 933.6,1747.4 931,1749.1"/>
<polyline stroke-width="0.8" points="856.1,1600 859,1603.4 857.1,1607.1 854.6,1606.5 852.8,1602.8 856.1,1600"/>
<polyline stroke-width="0.8" points="871.7,1577.9 870,1577.1 870.3,1575.9 871.3,1575 873.3,1575.3 873.5,1577 871.7,1577.9"/>
<polyline stroke-width="0.8" points="860.6,1527.4 860,1529.6 858.4,1530.6 857.4,1528.2 857.7,1525.6 858.8,1524.5 860.4,1524.5 860.6,1527.4"/>
<polyline stroke-width="0.8" points="861.4,1647.2 862.1,1649.1 862.9,1650.2 861.9,1651.2 860.5,1652.1 858.8,1651.3 858.3,1649.5 859.6,1648.2 861.4,1647.2"/>
<polyline stroke-width="0.8" points="897.2,1720.7 899.1,1722.7 895.3,1724 891.8,1723 886.9,1722.7 889.5,1720.8 891.9,1720.1 895,1719.4 897.2,1720.7"/>
<polyline stroke-width="0.8" points="938.3,1755.4 937.9,1758.1 936.7,1758.7 935.2,1758 935.7,1755 936.2,1751.9 937.5,1753.3 938.3,1755.4"/>
<polyline stroke-width="0.8" points="841,1666.7 841.5,1668.3 840.7,1669.3 839.9,1670.2 839.3,1669 839.2,1668 839.8,1667.5 841,1666.7"/>
<polyline stroke-width="0.8" points="848,1554.9 849,1555 849.9,1555.8 849.1,1556.8 847.9,1557 847.5,1555.8 848,1554.9"/>
<polyline stroke-width="0.8" points="853.5,1500.3 855.3,1497.9 859.1,1498.1 859.2,1502.4 855.3,1502.8 853.5,1500.3"/>
<polyline stroke-width="0.8" points="881.3,1529.6 885.4,1529.2 888.5,1531 886.2,1533.1 881.9,1532.4 879.6,1531.2 881.3,1529.6"/>
<polyline stroke-width="0.8" points="872.8,1547.4 877,1547.8 881.8,1549.8 877.5,1552.4 872,1552.5 870.9,1549.7 872.8,1547.4"/>
<polyline stroke-width="0.8" points="937.4,1759.9 939.2,1759.7 941,1760.4 939.3,1761.2 937.1,1761.4 937.4,1759.9"/>
<polyline stroke-width="0.8" points="847.2,1498.6 847.3,1497.7 849.1,1497.9 849.8,1498.4 850.5,1498.9 849.5,1499.3 848.4,1499.4 846.9,1499.3 847.2,1498.6"/>
<polyline stroke-width="0.8" points="849.2,1538.9 847.8,1538.3 846.7,1536.7 849.4,1536.2 852.3,1536.3 852.5,1538 850.7,1538.7 849.2,1538.9"/>
<polyline stroke-width="0.8" points="835.5,1573.1 837.6,1571.6 841,1572.5 843.7,1574 841.5,1575.6 838.4,1575.9 834.1,1576.4 834.2,1574.3 835.5,1573.1"/>
<polyline stroke-width="0.8" points="925.5,1731.8 924.6,1729.7 925.9,1728.5 927.1,1728.3 927.8,1730 927.2,1731.6 926.4,1733.6 925.5,1731.8"/>
<polyline stroke-width="0.8" points="907.5,1744.7 905.5,1744.6 902.6,1744.6 903.6,1743.1 903.7,1741.6 906.6,1741.6 907.9,1742.6 909,1743.7 907.5,1744.7"/>
<polyline stroke-width="0.8" points="855.9,1568 857.4,1565.9 859.5,1566.1 859.2,1568.4 857.5,1570.6 855.9,1568"/>
<polyline stroke-width="0.8" points="873.9,1725.6 875.6,1728.1 877.4,1731.7 875.2,1734.5 873.2,1733.7 872,1729.2 873.9,1725.6"/>
<polyline stroke-width="0.8" points="837,1618.8 836.7,1616 839.4,1612.8 842.7,1615.6 842.2,1618.6 839.6,1620.1 837,1618.8"/>
<polyline stroke-width="0.8" points="840.1,1541 840.2,1545.6 839.9,1548.2 839.6,1552.2 838.5,1550.9 837.9,1547.7 838.3,1544.5 838.8,1540.8 840.1,1541"/>
<polyline stroke-width="0.8" points="868.4,1699 869.8,1699.4 871.2,1700.4 870.5,1702.5 868.9,1702 867.6,1700.9 868.4,1699"/>
<polyline stroke-width="0.8" points="868.9,1523 868,1522 867.8,1520.7 868.4,1520 869.5,1519.5 869.3,1521.3 868.9,1523"/>
<polyline stroke-width="0.8" points="891.8,1740.6 892,1744.8 891.1,1747.7 889.9,1746 889.4,1743.5 890.1,1740.8 891.8,1740.6"/>
<polygon fill="#2c7bb6" points="935.7,1710.8 956.3,1710.8 956.3,1696.6 970.5,1698.9 978.5,1707.6 981.6,1715.6 992.7,1721.9 997.4,1728.2 1006.9,1733 1018,1739.3 1043.4,1744.1 1043.4,1748 1018,1748.8 1018,1758.3 1013.3,1758.3 1013.3,1752 1008.5,1748.8 1000.6,1758.3 981.6,1755.1 981.6,1748.8 961,1749.6 961,1744.1 951.5,1742.5 951.5,1731.4 940.5,1731.4 940.5,1720.3 935.7,1720.3"/>
<polygon fill="#2c7bb6" points="1056,1744.1 1071.1,1744.1 1071.1,1748 1056,1748"/>
<polygon fill="#2c7bb6" points="856.4,1459.9 870.5,1459.9 872.9,1474 870.5,1485.8 863.5,1490.5 852.9,1490.5 851.7,1481.1 856.4,1474"/>
<polyline points="902.8,262.9 892.3,279.4 882.9,293.5 875.8,307.6 871.1,319.4 867.6,333.5 872.3,348.8 889.9,357 897,365.2"/>
<polyline points="897,365.2 925.2,365.2 939.3,367.6 953.4,386.4 972.2,385.2 995.7,384"/>
<polyline points="995.7,384 998.1,392.3 988.7,404 987.5,432.3 995.7,441.7 998.1,449.9 987.5,459.3 1000.4,472.2 1006.3,495.8 1024,507.5 1035.7,508.7 1038.1,502.8 1059.2,493.4 1066.3,481.7 1080.4,474.6"/>
<polyline points="1080.4,474.6 1094.5,480.5 1100.4,507.5 1103.9,538.1 1113.3,553.4 1120.4,535.7 1136.9,535.7 1146.3,526.3 1174.5,520.5"/>
<polyline points="1174.5,520.5 1174.5,495.8 1160.4,485.2 1152.1,455.8 1160.4,434.6 1165.1,427.6 1158,420.5 1151,418.2 1138,406.4 1123.9,392.3 1129.8,373.5 1151,364.1 1172.1,368.8 1183.9,361.7"/>
<polyline points="1174.5,520.5 1179.2,535.7 1193.3,549.9 1210,561.6"/>
<polyline points="995.7,384 1005.2,364.1 1016.9,352.3 1038.1,345.2 1049.8,352.3 1056.9,345.2 1075.7,339.4 1099.2,334.7 1108.6,324.1 1101.6,307.6 1106.3,298.2"/>
<polyline points="1000.4,389.9 1014.6,392.3 1028.7,386.4 1042.8,394.6 1042.8,406.4 1053.4,427.6 1066.3,437 1089.8,442.8 1094.5,434.6 1113.3,429.9 1136.9,415.8 1140.4,408.7 1123.9,392.3"/>
<polyline points="1053.4,427.6 1063.9,441.7 1066.3,460.5 1080.4,474.6"/>
<polyline points="897,365.2 894.6,385.2 944,384 953.4,386.4"/>
<polyline points="944,384 944,392.3 925.2,404 920.5,413.4 920.5,459.3"/>
<polyline points="920.5,459.3 897,460.5 866.4,471.1 866.4,486.4 878.2,501.6 882.9,496.9 894.6,500.5 900.5,508.7"/>
<polyline points="920.5,459.3 939.3,453.4 941.7,445.2 962.8,439.3 988.7,434.6"/>
<polyline points="925.2,462.8 939.3,473.4 945.2,484 979.3,484 981.6,479.3 986.3,482.8 998.1,475.8"/>
<polyline points="945.2,484 945.2,499.3 958.1,500.5 959.3,508.7 941.7,511 941.7,526.3 951.1,535.7 954.6,549.9 942.8,620.4"/>
<polyline points="942.8,620.4 927.5,608.7 940.5,582.8 922.8,572.2 901.7,573.4 889.9,578.1 878.2,573.4 873.4,559.3 864,552.2 852.3,538.1 849.9,533.4"/>
<polyline points="849.9,533.4 878.2,535.7 892.3,536.9 901.7,526.3 913.4,520.5 900.5,508.7"/>
<polyline points="913.4,520.5 925.2,531 936.9,538.1 939.3,546.3 953.4,549.9"/>
<polyline points="900.5,508.7 911.1,488.7 939.3,476.9"/>
<polyline points="753.5,496.9 767.6,502.8 784.1,509.9 793.5,514.6 812.3,514.6 826.4,525.2 831.1,535.7 825.2,556.9 800.5,580.4 778.2,589.8 770,601.6 760.6,625.1"/>
<polyline points="731.2,504 744.1,507.5 760.6,500.5 767.6,502.8"/>
<polyline points="793.5,514.6 802.9,493.4 812.3,488.7 819.4,479.3 840.5,455.8 854.6,437 878.2,425.2 880.5,408.7 894.6,394.6 897,365.2"/>
<polyline points="812.3,488.7 831.1,507.5 849.9,533.4"/>
<polyline points="840.5,455.8 845.2,479.3 866.4,486.4"/>
<polyline points="786.4,451.1 807.6,451.1 819.4,462.8 807.6,472.2 805.2,481.7 812.3,488.7"/>
<polyline points="788.8,432.3 805.2,432.3 814.6,411.1 812.3,399.3 800.5,382.9 797,371.1 805.2,364.1 791.1,347.6"/>
<polyline points="814.6,399.3 840.5,394.6 847.6,380.5 859.3,364.1 864,349.9 871.1,347.6"/>
<polyline points="805.2,358.2 819.4,358.2 840.5,340.5 831.1,333.5 833.5,321.7 825.2,310"/>
<polyline points="840.5,340.5 849.9,357 859.3,364.1"/>
<polyline points="840.5,274.7 842.9,300.6 859.3,324.1 864,349.9"/>
<polyline points="866.4,273.5 866.4,286.4 857,298.2 861.7,307.6 859.3,324.1"/>
<polyline points="914.6,275.9 922.8,291.1 934.6,307.6 939.3,320.5 925.2,324.1 918.1,340.5 911.1,352.3 927.5,359.4 944,347.6 967.5,345.2 991,340.5 995.7,345.2 1016.9,352.3"/>
<polyline points="934.6,307.6 962.8,302.9 972.2,319.4 969.9,331.1 984,331.1 995.7,345.2"/>
<polyline points="984,331.1 986.3,305.3 1002.8,300.6 1012.2,312.3 1014.6,300.6 1033.4,300.6 1049.8,324.1 1038.1,345.2"/>
<polyline points="1068.7,295.9 1071,317 1089.8,333.5"/>
<polyline points="1118,333.5 1136.9,347.6 1141.6,361.7 1169.8,368.8"/>
<polyline points="1160.4,434.6 1181.5,427.6 1190.9,441.7 1195.7,458.1 1188.6,479.3 1174.5,495.8"/>
<polyline points="1181.5,427.6 1186.2,418.2 1210,411.1"/>
<polyline points="1174.5,495.8 1190.9,488.7 1210,485.2"/>
<polyline points="740.6,519.3 760.6,535.7 770,556.9 800.5,580.4"/>
<polyline points="748.8,549.9 772.3,549.9 802.9,545.2 825.2,556.9"/>
<polyline points="767.6,502.8 770,524 767.6,547.5 760.6,578.1 737,596.9 725.3,592.2"/>
<polyline points="878.2,425.2 885.2,427.6 901.7,418.2 920.5,413.4"/>
<polyline points="854.6,437 859.3,415.8 852.3,394.6 847.6,380.5"/>
<polyline points="820.5,408.7 831.1,394.6"/>
<polyline points="927.5,359.4 897,365.2"/>
<polyline points="1212.3,389.9 1208.8,406.4 1198.2,420.5 1193.5,434.6 1200.6,447.5 1208.8,448.7 1212.3,462.8 1220.6,479.3"/>
<polyline points="1220.6,479.3 1238.2,481.7 1233.5,472.2 1238.2,467.5 1258.2,465.2 1264.1,472.2"/>
<polyline points="1264.1,472.2 1261.7,482.8 1280.5,491.1 1289.9,498.1 1297,512.2 1299.4,526.3 1308.8,535.7 1313.5,547.5 1320.5,549.9"/>
<polyline points="1212.3,406.4 1235.9,402.9 1264.1,404 1273.5,404"/>
<polyline points="1224.1,391.1 1226.4,404"/>
<polyline points="1238.2,391.1 1238.2,404"/>
<polyline points="1251.1,391.1 1250,404"/>
<polyline points="1264.1,392.3 1262.9,404"/>
<polyline points="1247.6,406.4 1251.1,433.4 1259.4,429.9 1261.7,406.4"/>
<polyline points="1170,394.6 1179.4,402.9 1181.8,392.3 1179.4,371.1 1170,358.2"/>
<polyline points="1177.1,408.7 1181.8,418.2 1195.9,418.2"/>
<polyline points="1170,434.6 1180.6,427.6 1186.5,427.6"/>
<polyline points="1186.5,427.6 1195.9,458.1 1184.1,492.2 1174.7,496.9 1170,495.8"/>
<polyline points="1184.1,492.2 1193.5,486.4 1207.6,479.3 1220.6,479.3"/>
<polyline points="1174.7,496.9 1175.9,533.4 1184.1,542.8 1200.6,559.3 1220.6,572.2 1228.8,574.5 1207.6,625.1"/>
<polyline points="1442.8,556.9 1438.1,578.1 1428.7,596.9 1416.9,618.1 1412.2,625.1"/>
<polyline points="1533.4,589.8 1522.8,601.6 1513.4,611 1508.7,625.1"/>
<polyline points="1546.3,592.2 1541.6,603.9 1548.7,625.1"/>
<polyline points="1306.4,559.3 1320.5,552.2 1334.6,535.7 1348.7,519.3 1358.2,507.5 1365.2,514.6 1353.4,526.3 1344,542.8 1329.9,554.6 1315.8,561.6 1306.4,559.3"/>
<polyline points="1344,549.9 1358.2,542.8 1374.6,545.2 1381.7,559.3 1377,568.7 1358.2,568.7 1346.4,564 1344,549.9"/>
<polyline points="1372.3,582.8 1381.7,564 1391.1,552.2 1395.8,542.8"/>
<polyline points="1334.6,533.4 1348.7,531 1369.9,526.3 1391.1,528.7"/>
<polyline points="1188.8,371.1 1192.3,382.9 1197,371.1"/>
<polyline points="1198.2,378.2 1201.8,389.9 1205.3,380.5"/>
<polyline points="1218.2,600 1205.3,630.6 1186.5,668.2 1184.1,675.3 1191.2,687 1198.2,703.5 1205.3,719.9 1217,730.5 1247.6,736.4 1355.8,742.3"/>
<polyline points="1170,718.8 1184.1,717.6 1187.6,698.8 1191.2,687"/>
<polyline points="1426.4,600 1416.9,616.5 1405.2,628.2 1391.1,641.2"/>
<polyline points="1391.1,641.2 1398.1,656.4 1381.7,675.3 1377,694.1 1379.3,710.5 1365.2,731.7 1355.8,742.3 1348.7,764.6 1346.4,788.2 1358.2,802.3 1348.7,811.7 1344,835.2 1334.6,858.7 1322.9,872.8 1306.4,889.3 1294.6,915.2 1294.6,929.3 1304.1,941 1320.5,948.1 1341.7,957.5 1339.3,976.3 1332.3,985.7 1325.2,995.1"/>
<polyline points="1391.1,641.2 1402.8,642.3 1414.6,650.6 1414.6,677.6 1412.2,687 1424,701.1 1434.6,702.3 1433.4,715.2 1426.4,722.3 1428.7,736.4 1438.1,750.5 1447.5,755.2"/>
<polyline points="1447.5,755.2 1449.9,741.1 1447.5,722.3 1456.9,694.1 1475.7,680 1496.9,672.9 1508.7,670.6 1511,661.1 1506.3,650.6 1513.4,635.3 1508.7,618.8 1518.1,602.4"/>
<polyline points="1447.5,755.2 1435.8,774 1442.8,785.8 1440.5,811.7 1428.7,814 1412.2,821.1 1402.8,818.7 1388.7,821.1 1381.7,807 1374.6,818.7 1358.2,811.7 1358.2,802.3"/>
<polyline points="1447.5,755.2 1466.3,764.6 1485.2,759.9 1494.6,745.8 1496.9,734.1 1511,736.4 1536.9,727 1551,717.6 1560.4,703.5 1558.1,689.4 1560.4,675.3 1555.7,661.1 1548.7,642.3 1546.3,623.5 1543.9,600"/>
<polyline points="1440.5,811.7 1442.8,828.1 1440.5,839.9 1447.5,849.3 1445.2,863.4 1461.6,851.7 1482.8,842.2 1492.2,844.6 1496.9,851.7 1508.7,851.7 1527.5,863.4 1536.9,861.1 1546.3,874 1567.5,877.5 1574.5,884.6 1567.5,901 1560.4,915.2 1567.5,924.6 1579.2,931.6"/>
<polyline points="1445.2,863.4 1435.8,854 1428.7,861.1 1427.5,875.2 1419.3,882.2 1416.9,894 1421.7,901 1414.6,912.8 1419.3,926.9 1405.2,936.3 1381.7,934 1358.2,948.1 1348.7,957.5 1341.7,957.5"/>
<polyline points="1400.5,870.5 1418.1,870.5 1418.1,882.2 1399.3,882.2 1400.5,870.5"/>
<polyline points="1341.7,957.5 1353.4,971.6 1374.6,973.9 1386.4,978.7 1414.6,969.2 1421.7,985.7 1422.8,995.1"/>
<polyline points="1567.5,924.6 1551,929.3 1546.3,945.7 1551,952.8 1546.3,976.3 1534.5,988.1 1533.4,995.1"/>
<polyline points="1560.4,689.4 1581.6,687 1593.3,696.4 1602.7,691.7 1605.1,670.6 1631,658.8 1638,677.6 1678,668.2"/>
<polyline points="1602.7,691.7 1631,687 1628.6,701.1 1640.4,705.8 1661.5,691.7 1679.2,689.4"/>
<polyline points="1551,717.6 1569.8,727 1583.9,715.2 1600.4,719.9 1609.8,729.4 1631,722.3 1652.1,727 1675.7,719.9"/>
<polyline points="1609.8,729.4 1614.5,741.1 1628.6,745.8 1647.4,757.6"/>
<polyline points="1614.5,741.1 1616.9,752.9 1609.8,764.6 1616.9,778.7 1628.6,774"/>
<polyline points="1631,658.8 1626.3,670.6 1605.1,670.6"/>
<polyline points="1170,888.1 1186.5,888.1 1184.1,903.4 1198.2,915.2 1205.3,929.3 1198.2,952.8 1191.2,966.9 1197,976.3 1193.5,995.1"/>
<polyline points="1205.3,922.2 1231.1,908.1 1252.3,917.5 1271.1,915.2 1282.9,910.4 1280.5,924.6 1294.6,926.9"/>
<polyline points="1600.4,637.6 1621.6,632.9 1640.4,635.3 1668.6,638.8"/>
<polyline points="1600.4,637.6 1602.7,661.1 1605.1,670.6"/>
<polyline points="942.8,620 897,625.9 882.9,637.6 878.2,654.1 875.8,668.2 864,677.6 864,694.1 868.7,705.8 878.2,722.3 875.8,731.7 889.9,736.4 897,745.8 915.8,747 929.9,734.1 929.9,743.5 925.2,755.2 915.8,762.3 899.3,768.2 892.3,785.8 901.7,799.9 904,807 925.2,815.2 934.6,814 948.7,821.1 964,811.7"/>
<polyline points="864,681.1 934.6,705.8 1012.2,743.5 1040.4,738.8"/>
<polyline points="928.7,745.8 928.7,768.2 951.1,768.2 969.9,771.7 984,762.3 1012.2,743.5"/>
<polyline points="1040.4,739.9 1040.4,752.9 1024,764.6 1014.6,778.7 1005.2,795.2 1000.4,811.7 995.7,830.5 995.7,849.3 1005.2,868.1 1019.3,884.6 1031,890.5 1042.8,884.6 1045.1,878.7 1082.8,878.7 1069.8,852.8 1115.7,825.8 1143.9,824.6"/>
<polyline points="951.1,768.2 969.9,804.6 984,789.3 1007.5,799.9"/>
<polyline points="969.9,804.6 964,811.7 965.2,839.9 955.8,856.4 958.1,879.9 966.3,888.1 951.1,905.7 948.7,915.2"/>
<polyline points="1040.4,752.9 1042.8,778.7 1056.9,799.9 1075.7,804.6 1099.2,816.4 1115.7,825.8"/>
<polyline points="1143.9,824.6 1155.7,795.2 1153.3,771.7 1120.4,768.2 1119.2,719.9 1106.3,717.6 1094.5,703.5 1078.1,702.3 1066.3,712.9 1049.8,730.5 1040.4,739.9"/>
<polyline points="1119.2,719.9 1183.9,718.8 1186.2,694.1 1190.9,687 1183.9,672.9 1210,621.2"/>
<polyline points="1143.9,824.6 1136.9,835.2 1143.9,856.4 1147.4,886.9 1183.9,888.1 1186.2,905.7 1202.7,922.2 1205.1,934 1195.7,966.9 1190.9,976.3"/>
<polyline points="1190.9,687 1200.4,705.8 1210,727"/>
<polyline points="779.4,600 784.1,611.8 779.4,630.6 781.7,644.7 791.1,658.8 784.1,670.6 779.4,680 782.9,698.8 795.8,715.2 811.1,710.5 817,717.6 828.8,705.8 845.2,698.8"/>
<polyline points="781.7,644.7 800.5,656.4 812.3,656.4 826.4,663.5 826.4,675.3 817,675.3 814.6,684.7 821.7,703.5 817,717.6"/>
<polyline points="817,717.6 824.1,731.7 833.5,728.2 845.2,716.4 842.9,729.4 849.9,741.1 854.6,759.9 849.9,764.6 864,764.6 869.9,775.2 878.2,774 887.6,776.4 897,768.2"/>
<polyline points="849.9,741.1 821.7,745.8 819.4,755.2 802.9,752.9"/>
<polyline points="854.6,759.9 835.8,762.3 811.1,767"/>
<polyline points="869.9,775.2 864,783.4 866.4,795.2 854.6,797.6 849.9,792.9 835.8,790.5 831.1,799.9"/>
<polyline points="847.6,795.2 852.3,807 849.9,816.4 840.5,819.9"/>
<polyline points="859.3,797.6 868.7,818.7 878.2,823.4 892.3,828.1 899.3,837.5 897,844.6"/>
<polyline points="925.2,815.2 934.6,818.7 925.2,832.8 922.8,854 925.2,877.5 915.8,894"/>
<polyline points="862.9,818.7 864,835.2 868.7,854 887.6,851.7 901.7,854 911.1,858.7 922.8,854"/>
<polyline points="760.6,600 762.9,623.5 758.2,647 767.6,670.6 774.7,680 779.4,680"/>
<polyline points="746.4,632.9 760.6,625.9"/>
<polyline points="715.9,604.7 725.3,614.1 746.4,616.5 751.1,600"/>
<polyline points="1007.5,875.2 1007.5,889.3 1009.9,903.4 1005.2,912.8"/>
<polyline points="1052.2,879.9 1052.2,894 1063.9,910.4 1054.5,924.6 1063.9,938.7 1073.4,948.1 1073.4,976.3 1078.1,985.7 1106.3,985.7 1113.3,969.2 1120.4,963.4 1172.1,954 1190.9,976.3"/>
<polyline points="1005.2,912.8 984,918.7 972.2,917.5 960.5,925.7 951.1,915.2"/>
<polyline points="1005.2,912.8 1019.3,929.3 1026.3,952.8 991,964.5 972.2,959.8"/>
<polyline points="1019.3,929.3 1028.7,922.2 1042.8,936.3 1052.2,966.9 1056.9,995.1"/>
<polyline points="1113.3,969.2 1151,981 1158,995.1"/>
<polyline points="936.9,950.4 948.7,945.7 960.5,948.1 972.2,959.8 972.2,995.1"/>
<polyline points="802.9,752.9 795.8,741.1 800.5,727 793.5,710.5"/>
<polyline points="840.5,819.9 831.1,811.7 821.7,816.4 819.4,825.8 835.8,835.2 842.9,856.4 859.3,868.1 873.4,863.4"/>
<polyline points="915.8,894 925.2,901 939.3,901 951.1,905.7"/>
<polyline points="972.3,970 977,995.9 986.4,1010 988.8,1033.5 1002.9,1035.9 1000.5,1050 993.5,1061.7 974.6,1073.5 972.3,1085.2 974.6,1101.7 972.3,1111.1 977,1122.9 965.2,1134.6 960.5,1144 951.1,1158.2 946.4,1177 944.1,1195.8 937,1207.5 931.1,1224 932.3,1235.8 939.4,1247.5 939.4,1261.6 946.4,1268.7 944.1,1282.8 939.4,1296.9 934.7,1315.7 934.7,1332.2 944.1,1346.3 948.8,1355.7 967.6,1365.1"/>
<polyline points="931.1,1064.1 953.5,1061.7 960.5,1047.6 972.3,1047.6"/>
<polyline points="928.8,1101.7 944.1,1098.2 972.3,1089.9"/>
<polyline points="911.1,1169.9 927.6,1174.6 932.3,1181.7 944.1,1177"/>
<polyline points="908.8,1238.1 920.6,1238.1 932.3,1235.8"/>
<polyline points="906.4,1273.4 920.6,1261.6 939.4,1261.6"/>
<polyline points="900.6,1289.9 915.9,1282.8 927.6,1285.2 944.1,1282.8"/>
<polyline points="894.7,1306.3 920.6,1301.6 934.7,1308.7"/>
<polyline points="881.8,1336.9 908.8,1332.2 925.3,1336.9 934.7,1332.2"/>
<polyline points="873.5,1351 892.3,1346.3 920.6,1355.7"/>
<polyline points="1000.5,1050 1014.6,1059.4 1019.3,1047.6 1028.7,1064.1 1038.2,1068.8 1049.9,1073.5 1064,1064.1 1064,1050 1049.9,1047.6 1045.2,1028.8 1042.9,993.5 1040.5,970"/>
<polyline points="972.3,1085.2 1014.6,1087.6 1019.3,1106.4"/>
<polyline points="1014.6,1087.6 1009.9,1101.7 1024,1111.1 1028.7,1115.8"/>
<polyline points="1019.3,1106.4 1028.7,1115.8 1040.5,1108.8 1057,1108.8 1064,1095.8 1081.7,1095.8 1104,1068.8 1104,1026.4 1094.6,1014.7 1068.7,1014.7 1061.7,1033.5 1057,1024.1"/>
<polyline points="1081.7,1095.8 1115.8,1097 1116.9,1148.7 1175.7,1148.7"/>
<polyline points="1116.9,1148.7 1113.4,1174.6 1108.7,1195.8 1113.4,1212.2 1106.4,1235.8 1115.8,1256.9 1111.1,1264 1093.4,1291 1081.7,1292.2 1081.7,1365.1"/>
<polyline points="1093.4,1291 1116.9,1291 1132.2,1273.4 1141.6,1273.4 1146.3,1267.5"/>
<polyline points="1045.2,1306.3 1081.7,1306.3"/>
<polyline points="979.4,1327.5 1045.2,1327.5"/>
<polyline points="979.4,1327.5 979.4,1365.1"/>
<polyline points="998.2,1235.8 1002.9,1264 1012.3,1285.2 1017,1308.7 1013.5,1327.5"/>
<polyline points="951.1,1158.2 960.5,1169.9 962.9,1184 981.7,1193.4 995.8,1207.5 1005.2,1226.4 1009.9,1235.8 1031.1,1235.8"/>
<polyline points="939.4,1247.5 951.1,1245.2 965.2,1238.1 972.3,1245.2 998.2,1235.8"/>
<polyline points="960.5,1144 974.6,1144 986.4,1155.8 1014.6,1153.4 1028.7,1169.9 1031.1,1179.3 1038.2,1195.8 1031.1,1219.3 1031.1,1235.8 1042.9,1245.2 1049.9,1247.5 1045.2,1266.3 1045.2,1327.5"/>
<polyline points="1028.7,1115.8 1024,1132.3 1035.8,1148.7 1045.2,1144 1054.6,1129.9 1057,1108.8"/>
<polyline points="1045.2,1144 1042.9,1162.9 1047.6,1181.7 1038.2,1195.8"/>
<polyline points="1047.6,1181.7 1066.4,1179.3 1075.8,1188.7 1106.4,1188.7 1113.4,1212.2"/>
<polyline points="1104,1026.4 1132.2,1052.3 1146.3,1057 1188.7,1080.5 1202.8,1089.9"/>
<polyline points="1104,1062.9 1122.8,1073.5 1146.3,1097 1162.8,1108.8 1186.3,1125.2"/>
<polyline points="1202.8,1089.9 1186.3,1125.2 1176.9,1134.6 1175.7,1148.7 1172.2,1162.9 1162.8,1177 1160.4,1200.5 1155.7,1214.6 1139.3,1233.4 1136.9,1252.2 1146.3,1267.5 1162.8,1275.7 1184,1285.2"/>
<polyline points="1160.4,1200.5 1179.3,1197 1191,1201.7 1198.1,1209.9"/>
<polyline points="1176.9,1134.6 1202.8,1132.3 1216.9,1137 1235.7,1134.6 1242.8,1151.1 1221.6,1177 1207.5,1195.8 1198.1,1209.9 1193.4,1228.7 1188.7,1252.2 1184,1273.4"/>
<polyline points="1242.8,1151.1 1263.9,1137 1285.1,1129.9 1318,1132.3 1341.5,1144 1350.9,1158.2 1370,1160.5"/>
<polyline points="1285.1,1129.9 1285.1,1108.8 1280.4,1094.6 1266.3,1097 1263.9,1111.1 1249.8,1125.2 1235.7,1134.6"/>
<polyline points="1285.1,1108.8 1332.1,1118.2 1341.5,1108.8 1370,1104.1"/>
<polyline points="1094.6,1014.7 1104,977.1 1111.1,970"/>
<polyline points="1104,977.1 1155.7,986.5 1158.1,1000.6 1155.7,1014.7 1165.2,1019.4 1193.4,1019.4 1202.8,1033.5 1212.2,1064.1 1209.8,1082.9 1202.8,1089.9"/>
<polyline points="1155.7,1014.7 1151,1045.3 1135.8,1052.3"/>
<polyline points="1193.4,1019.4 1195.7,984.1 1191,970"/>
<polyline points="1212.2,1064.1 1235.7,1073.5 1254.5,1071.1 1271,1059.4 1271,1080.5 1263.9,1097"/>
<polyline points="1209.8,1082.9 1223.9,1080.5 1226.3,1092.3 1216.9,1097 1205.1,1104.1 1209.8,1122.9 1212.2,1134.6"/>
<polyline points="1226.3,1092.3 1249.8,1087.6 1247.5,1101.7 1223.9,1120.5 1221.6,1132.3"/>
<polyline points="1249.8,1087.6 1254.5,1071.1"/>
<polyline points="1226.3,1033.5 1235.7,1040.6 1235.7,1047.6 1209.8,1047.6"/>
<polyline points="1271,1059.4 1275.7,1047.6 1287.4,1033.5 1311,1021.7 1334.5,998.2 1346.2,970"/>
<polyline points="1311,1021.7 1332.1,1028.8 1346.2,1035.9 1370,1033.5"/>
<polyline points="1198.1,1209.9 1216.9,1195.8 1235.7,1212.2 1221.6,1216.9 1195.7,1209.9"/>
<polyline points="1235.7,1212.2 1245.1,1224 1266.3,1233.4 1271,1242.8 1296.9,1254.6"/>
<polyline points="1235.7,1212.2 1231,1226.4 1228.7,1247.5 1212.2,1261.6 1186.3,1264"/>
<polyline points="1193.4,1228.7 1209.8,1233.4 1231,1226.4"/>
<polyline points="1188.7,1252.2 1202.8,1247.5 1228.7,1247.5"/>
<polyline points="1212.2,1261.6 1226.3,1273.4 1228.7,1299.3"/>
<polyline points="1226.3,1273.4 1249.8,1268.7 1254.5,1259.3 1266.3,1233.4"/>
<polyline points="1254.5,1259.3 1280.4,1254.6 1296.9,1254.6"/>
<polyline points="1254.5,1268.7 1247.5,1285.2 1249.8,1301.6"/>
<polyline points="1254.5,1268.7 1273.3,1271 1287.4,1264 1289.8,1285.2"/>
<polyline points="1273.3,1271 1268.6,1287.5 1268.6,1299.3"/>
<polyline points="1170,887.6 1186.5,887.6 1184.1,900.5 1198.2,914.6 1205.3,928.7 1198.2,949.9 1191.2,968.7 1197,975.8 1193.5,989.9 1195.9,1015.8 1205.3,1032.2 1208.8,1053.4 1212.3,1079.3 1202.9,1102.8 1179.4,1135.7"/>
<polyline points="1205.3,924 1231.1,909.9 1252.3,917 1271.1,914.6 1285.2,909.9 1280.5,924 1294.6,926.4"/>
<polyline points="1294.6,926.4 1304.1,938.2 1320.5,945.2 1341.7,957 1339.3,971.1 1332.3,982.8 1315.8,1004 1301.7,1022.8 1285.2,1036.9 1275.8,1058.1 1271.1,1065.2"/>
<polyline points="1341.7,957 1353.4,968.7 1374.6,971.1 1386.4,975.8 1414.6,969.9 1421.7,985.2 1424,996.9 1435.8,1001.7 1431.1,1015.8 1438.1,1032.2 1449.9,1034.6 1475.7,1022.8 1504,1015.8 1522.8,1007.5"/>
<polyline points="1301.7,1022.8 1315.8,1027.5 1344,1034.6 1362.9,1036.9 1369.9,1053.4 1377,1072.2 1391.1,1074.6 1393.4,1088.7"/>
<polyline points="1271.1,1065.2 1264.1,1055.7 1252.3,1058.1 1240.6,1053.4 1233.5,1032.2 1224.1,1018.1 1195.9,1015.8"/>
<polyline points="1271.1,1065.2 1268.8,1093.4 1264.1,1116.9 1252.3,1145.1"/>
<polyline points="1438.1,1032.2 1461.6,1029.9 1482.8,1029.9 1508.7,1025.2"/>
<polyline points="934,1300 932.8,1330.6 919.9,1337.6 917.6,1358.8 924.6,1384.7 912.9,1394.1 908.2,1408.2 905.8,1427 901.1,1434.1 903.4,1452.9 905.8,1462.3 898.7,1464.6 898.7,1485.8 905.8,1492.9 903.4,1511.7 917.6,1516.4 917.6,1521.1 898.7,1524.6 912.9,1530.5 915.2,1537.5 905.8,1542.2 905.8,1551.7 908.2,1558.7 901.1,1575.2 894,1582.2 889.3,1596.3 894,1603.4 887,1615.2 882.3,1619.9 875.2,1624.6 877.6,1634 870.5,1636.3 868.2,1645.7 875.2,1659.8 894,1655.1 895.2,1671.6 891.7,1678.7 901.1,1691.6 943.4,1691.6 976.4,1699.8"/>
<polyline points="905.8,1462.3 1045.7,1462.3"/>
<polyline points="908.2,1551.2 992.8,1551.2"/>
<polyline points="932.8,1330.6 945.8,1347 964.6,1356.4 988.1,1363.5 990.5,1372.9 1014,1387 1058.7,1391.7 1081,1402.3"/>
<polyline points="978.7,1327 978.7,1389.4 984.6,1394.1 966.9,1403.5 943.4,1415.2 938.7,1429.4 919.9,1436.4 915.2,1441.1 903.4,1439.9"/>
<polyline points="978.7,1327 1045.7,1327 1045.7,1304.7 1081,1304.7"/>
<polyline points="1081,1300 1081,1432.9 1093.9,1441.1"/>
<polyline points="1014,1300 1016.3,1311.8 1012.8,1327"/>
<polyline points="883.5,1328.2 898.7,1330.6 915.2,1337.6 919.9,1337.6"/>
<polyline points="882.3,1340 894,1351.7 917.6,1351.7"/>
<polyline points="868.2,1382.3 879.9,1364.7 889.3,1365.9 905.8,1377.6 919.9,1374.1"/>
<polyline points="874,1403.5 884.6,1408.2 901.1,1410.5 908.2,1408.2"/>
<polyline points="865.8,1422.3 879.9,1424.6 889.3,1431.7 901.1,1434.1"/>
<polyline points="882.3,1499.9 894,1501.1 903.4,1507"/>
<polyline points="851.7,1605.7 875.2,1624.6"/>
<polyline points="898.7,1300 915.2,1304.7 934,1307.1"/>
<polyline points="970.5,1698.9 971.3,1747.2"/>
<polyline points="956.3,1693.4 950,1698.1 940.5,1701.3 934.1,1710.8"/>
<polyline points="494.4,519.1 496.1,521.2 498.1,524.4 497.7,527.7 500.9,530.9 503,533.8 502.6,536.6 505.8,539.1 506.2,541.5 504.2,544.4 499.3,546.4 494.4,546 491.2,543.1 491.6,540.3 494.4,538.7 499.3,537 496.5,532.6 493.6,529.3 493.2,526.1 491.2,522.8 494.4,519.1"/>
<polyline points="493.4,531.8 493.1,533.1 492.3,534.1 491,534.7 489.7,534.7 488.4,534.1 487.6,533.1 487.3,531.8 487.6,530.4 488.4,529.4 489.7,528.8 491,528.8 492.3,529.4 493.1,530.4 493.4,531.8"/>
<polyline points="511.7,528.9 511.3,530 510.3,531 508.7,531.5 507,531.5 505.4,531 504.4,530 504,528.9 504.4,527.8 505.4,526.8 507,526.3 508.7,526.3 510.3,526.8 511.3,527.8 511.7,528.9"/>
<polyline points="519.3,537.4 518.9,539 517.7,540.3 516.1,541 514.3,541 512.6,540.3 511.5,539 511.1,537.4 511.5,535.9 512.6,534.6 514.3,533.9 516.1,533.9 517.7,534.6 518.9,535.9 519.3,537.4"/>
<polyline points="530.2,544 535.9,538.3 538.8,538.7 535.1,544.4 530.2,544"/>
<polyline points="507.7,510 507.3,511.1 506.4,511.6 505.6,511.1 505.2,510 505.6,508.8 506.4,508.3 507.3,508.8 507.7,510"/>
<polyline points="514.6,516.3 514,517.3 512.7,517.7 511.4,517.3 510.9,516.3 511.4,515.3 512.7,514.9 514,515.3 514.6,516.3"/>
<polyline points="524.5,516.1 524.1,516.8 523.3,516.8 522.9,516.1 523.3,515.4 524.1,515.4 524.5,516.1"/>
<polyline points="515.4,551.9 514.8,553.2 513.4,553.7 511.9,553.2 511.3,551.9 511.9,550.6 513.4,550.1 514.8,550.6 515.4,551.9"/>
<polyline points="531.5,553.7 530.9,554.3 529.4,554.5 528,554.3 527.4,553.7 528,553.2 529.4,552.9 530.9,553.2 531.5,553.7"/>
</g>
</svg>
<div id="legend"></div>
<div class="w" style="left:260.68px;top:26.00px;font-size:50px;line-height:50px;transform:scaleX(0.9749)">SAFIRE</div>
<div class="w" style="left:452.92px;top:26.00px;font-size:50px;line-height:50px;transform:scaleX(1.0941)">Severe</div>
<div class="w" style="left:641.94px;top:26.00px;font-size:50px;line-height:50px;transform:scaleX(1.0412)">Fire</div>
<div class="w" style="left:747.19px;top:26.00px;font-size:50px;line-height:50px;transform:scaleX(1.1277)">Danger</div>
<div class="w" style="left:945.65px;top:26.00px;font-size:50px;line-height:50px;transform:scaleX(1.1293)">Index</div>
<div class="w" style="left:1100.04px;top:26.00px;font-size:50px;line-height:50px;transform:scaleX(1.0911)">Forecast</div>
<div class="w" style="left:1329.28px;top:26.00px;font-size:50px;line-height:50px;transform:scaleX(1.1389)">(2024-08-07)</div>
<div class="sw" style="top:115.2px;background:#2c7bb6"></div><div class="w" style="left:2156.85px;top:110.40px;font-size:54.3px;line-height:54.3px;transform:scaleX(1.0873)">Bajo</div>
<div class="sw" style="top:194.1px;background:#abd9e9"></div><div class="w" style="left:2156.78px;top:189.50px;font-size:54.3px;line-height:54.3px;transform:scaleX(1.1046)">Moderado</div>
<div class="sw" style="top:273.0px;background:#ffffbf"></div><div class="w" style="left:2157.70px;top:268.70px;font-size:54.3px;line-height:54.3px;transform:scaleX(1.1308)">Alto</div>
<div class="sw" style="top:351.9px;background:#fdae61"></div><div class="w" style="left:2156.66px;top:348.10px;font-size:54.3px;line-height:54.3px;transform:scaleX(1.1347)">Muy Alto</div>
<div class="sw" style="top:430.8px;background:#a50026"></div><div class="w" style="left:2156.65px;top:426.90px;font-size:54.3px;line-height:54.3px;transform:scaleX(1.0820)">Severo</div>
</body></html>
